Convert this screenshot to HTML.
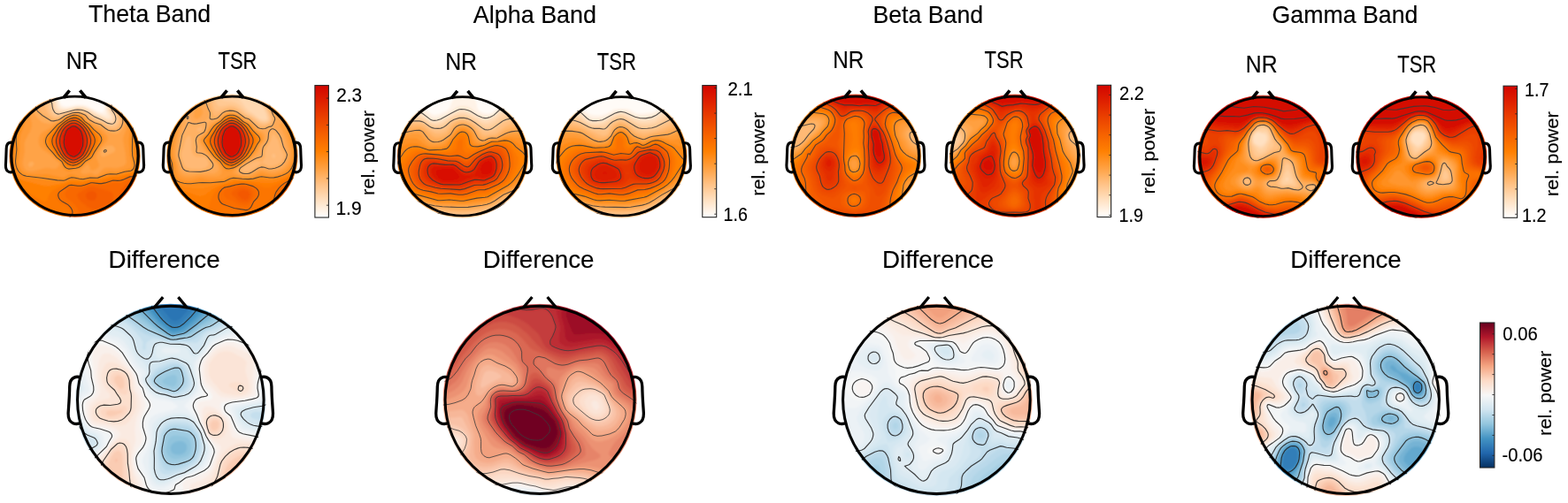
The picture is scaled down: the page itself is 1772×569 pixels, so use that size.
<!DOCTYPE html>
<html lang="en"><head><meta charset="utf-8"><title>EEG band power topographies</title>
<style>html,body{margin:0;padding:0;background:#fff;overflow:hidden}svg{display:block}text{font-family:"Liberation Sans",sans-serif}</style></head>
<body>
<svg width="1772" height="569" viewBox="0 0 1772 569">
<defs><filter id="blur" x="-5%" y="-5%" width="110%" height="110%"><feGaussianBlur stdDeviation="1.1"/></filter></defs>
<g id="theta_nr"><clipPath id="c_theta_nr"><ellipse cx="84.5" cy="176.25" rx="74.2" ry="69.65"/></clipPath>
<g clip-path="url(#c_theta_nr)">
<g filter="url(#blur)">
<rect x="7" y="103" width="155" height="146" fill="#fffbf7"/>
<path d="M9.8,106.1l55,0 3.5,11.1 1.5,1.9 1.5,.9 4.5,.8 10.5-2.2 7.5,0 4.5,1.2 12,6.1 4.5,1.4 1.5-.2 1.3-1.5 .2-.9 .4-9.6 1.5-9 40.1,0 0,141-150,0 0-141z" fill="#fff3e7" fill-rule="evenodd"/>
<path d="M9.8,106.1l52.6,0 4.4,13 1.5,1.8 1.5,.9 3,.6 3,0 10.5-2.5 7.5,.1 6,2 12,6.4 7.5,2 1.3-.3-.8-7.5 0-4.5 .8-6 1.5-6 37.7,0 0,141-150,0 0-141z" fill="#ffebd6" fill-rule="evenodd"/>
<path d="M9.8,106.1l50.2,0 2.7,6 2.6,8.5 1.5,1.9 1.5,.9 3,.6 3-.1 4.5-.6 7.5-2.1 3-.3 4.5,.5 6,2.1 12,6.6 7.5,3.2 3,.7 1.9-.9 .4-1.5-2.6-6-.7-4.5 .6-6 2.5-9 35.4,0 0,141-150,0 0-141z" fill="#ffe3c6" fill-rule="evenodd"/>
<path d="M9.8,106.1l47.5,0 3.5,6.3 3,9.9 1.4,1.8 1.6,1 3,.4 4.5-.4 13.5-3 6,.5 4.5,1.5 9,5.4 12,5.6 4.5,1.2 1.5-.5 1.1-1.2 .5-1.5-.6-3-3.1-6-.4-3 1-6.2 2.9-8.8 33.1,0 0,141-150,0 0-141z" fill="#ffdab5" fill-rule="evenodd"/>
<path d="M9.8,106.1l44.4,0 5.1,7.6 2.9,10.4 1.6,2.1 1.5,.9 3,.2 3-.4 15-3.6 6,.2 6,1.9 9,5.7 13.5,6.4 4.5,1 2.3-.9 1.1-1.5 .4-1.5-.3-3-4.1-7.5-.3-3 1.3-6 3.5-9 30.6,0 0,141-150,0 0-141z" fill="#ffd1a4" fill-rule="evenodd"/>
<path d="M9.8,106.1l40.5,0 4.5,5.2 2.7,3.8 .6,1.5 .9,6 1.1,3 2.2,2.7 1.5,.9 3,.2 18-5 3-.2 4.5,.4 6,2.1 7.5,5.2 9,4.1 6,3.3 3,1.1 3,.3 1.5-.4 1.5-1.2 1.4-3 .1-3-.9-3-3.9-6-.4-1.5 1.2-6 4.6-10.5 27.9,0 0,141-150,0 0-141z" fill="#ffc993" fill-rule="evenodd"/>
<path d="M9.8,106.1l35.4,0 8.4,9 1.5,3 1.3,6 1.3,3 2.6,3 2,1.2 1.5,.3 3-.4 6.7-2.6 9.8-3 3-.4 4.5,.3 4.5,1.2 3,1.3 7.5,5.8 9,3.6 7.5,4.5 4.5,.9 2.9-.7 1.6-1.1 1.9-3.4 .3-3-.4-3-1.1-3-2.8-4.5-.7-3 1.3-4.8 5-10.2 25,0 0,141-150,0 0-141z" fill="#ffc081" fill-rule="evenodd"/>
<path d="M9.8,106.1l29,0 9.7,10.5 1.8,3 2.7,6 1.9,3 2.9,3.1 3,1.8 4.5,.1 9-4.2 9-3 6-.1 7.5,2.3 2.3,1.5 2.8,3 2.4,1.8 3,1.5 7.5,2.6 7.5,5 4.5,.9 3-.4 2.1-.9 1.7-1.5 1.6-3 .6-3-.4-4.5-3.6-9 0-3 2.2-6 4.1-7.5 21.7,0 0,141-150,0 0-141z" fill="#ffb66e" fill-rule="evenodd"/>
<path d="M9.8,106.1l22,0 7.4,9 5.9,10.5 5.1,4.5 7.6,5.5 3,.6 3-.4 3-1 7.5-4.5 6-2.3 4.5-1 4.5,.3 4.4,1.3 3,1.5 4.1,4.5 3.5,2.4 3,1.4 6.9,2.2 5.1,4 3,1.8 4.5,1 3-.1 3-.9 3-2.5 1.7-3.3 .6-3 0-4.5-2.6-10.5-.1-3 1.9-5.7 4.4-7.8 18.1,0 0,141-150,0 0-141z" fill="#ffad5a" fill-rule="evenodd"/>
<path d="M9.8,106.1l14.5,0 8,9.9 6,11.8 3,4.5 4.5,4.7 3.5,2.1 5.5,1 4.5-.8 8-3.2 5.5-3.9 4.5-2.2 6-2 4.5,0 6.1,2.1 2.1,1.5 3.7,4.5 7.6,4.5 6,2.3 9,6.6 3,1.3 4.5,.7 3-.5 3-1.8 2.3-2.6 1.6-3 1.1-4.5 .2-4.5-1.6-12 .1-3 2-6 4.4-7.5 13.9,0 0,141-150,0 0-141zM33.8,183.2l-1.5,1.8-.3,2.1 .5,1.5 1.3,.6 2.1-.6 1.7-1.5 .9-1.5-.2-1.5-1.5-1.1-1.5-.3-1.5,.5zM123.8,164.4l-4.5,1.4-2.8,1.8-1.4,1.5-.8,1.5-.8,3 .2,1.5 1.1,1.6 1.5,.6 1.5,0 11.3-5.2 .9-1.5 .1-1.5-1.2-3-2.1-1.4-3-.3z" fill="#ffa347" fill-rule="evenodd"/>
<path d="M9.8,106.1l6.3,0 5.7,6 4.5,5.8 3,4.8 3.7,7.4 2.2,6 .6,4.5-.5,4.5-1.8,4.5-4.3,7.5-1.8,6 .3,9-2.1,12 .7,4.5 1.9,3 2.6,1.8 4.5,.5 4.5-.7 12-3.1 3,0 4.5,.9 3,0 1.5-.6 2.1-1.8 1.2-1.5 .4-1.5-.5-1.5-4.7-3.6-6-5.9-8.2-5.5-2.7-3-1.6-4.5-.2-3 .6-3 1.3-3 2.9-3 7.9-4.9 5.4-4.1 7.7-4.5 3.6-3 4.3-2.3 4.5-1.7 4.5-.4 3,.6 3,1.3 2.9,2.5 2.1,3 10,7.1 7.5,4.4 5.2,5 1.6,3 .1,1.5-1.2,3-7.2,7.6-2.8,4.4-1.1,3-.3,4.5 2.7,6-.3,3-1.3,1.5-2.3,1.5-3.6,1.3-1.5-.5-.6-.8-1.9-6-2-.1-6.6,7.6-.8,1.5 .9,1.5 2,.6 3,0 6-1.1 4.1,2 1.9,.3 1.5-.4 1.8-1.4 2.7-3.4 3-2.1 4.5-1 7.5,.7 3-.3 6-1.8 2.2-1.1 1.3-1.5 .5-3-1.2-10.5-2.6-13.5 .4-3 3.2-9 1.4-6 .3-6-.7-10.5 .4-4.5 2.1-6 4.5-7.5 9.2,0 0,141-150,0 0-141z" fill="#ff9a35" fill-rule="evenodd"/>
<path d="M154.8,107.6l1-1.5 4,0 0,141-150,0 0-138.3 6.1,6.3 5.9,7.5 4.6,7.5 2,6-.5,4.5-4.6,12-1.3,7.5 .2,10.5-1.2,13.5 .8,4.5 2.5,4.5 3.5,2.7 4.5,1.3 7.5,.2 13.5-.4 18,4 1.8-.3 5.7-3.4 1.5-.4 9,3.2 4.5,.8 7.5-1.4 9,.4 10.5-4.8 3-.4 7.5,.3 15-3.9 1.5-.9 .8-1.5 .3-3-2.2-10.5-1.1-16.5 2.2-18 .3-16.5 1.7-7.5 5-9zM81.1,130.1l2.2-.6 3,.1 3,.8 3,1.6 4.5,5.3 5,3.3 5.5,5.2 7,5.3 2.2,3 .8,3-.7,3-7.5,10.5-5,9-2,1.5-5.3,2.3-4.5,5.3-3,2.1-6,1.2-4.5,2.1-1.5,0-3-1.1-2.1-1.4-1-1.5-1.6-6-1.1-1.5-5.9-4.5-3.8-4.5-7.6-7.5-1.6-3-.6-4.5 .8-3 1.8-3 10.8-10.5 7.4-5.1 4.5-3.7 6.8-3.2z" fill="#ff9224" fill-rule="evenodd"/>
<path d="M159.5,109.1l.3-.5 0,138.5-150,0 0-128.1 7,9.6 2.2,4.5 .6,3-.2,4.5-2.4,12-.1,6 .9,10.5-1.5,13.5 .9,6 3,6 1.6,1.8 3,2.2 4.5,1.6 25.5,4 15.2,.9 2.8-.3 6-2.7 3-.5 12,1.6 7.5-1.6 9,0 12-3.9 9-.1 10.5-2.9 6-1 1.8-.6 1.7-1.5 .9-1.5 .8-3-.2-3-2.1-7.5-.3-4.5 .3-12 2-33 .7-4.5 1.3-4.5 4.8-9zM79.4,131.6l3.9-1.3 1.5,0 4.5,1.1 2.6,1.7 3.9,4.5 6,4.5 4,4.8 6.3,5.7 1.7,3 .3,3-1.1,3-10.3,16.5-6.7,4.5-3.7,4.1-3,2.2-3,.9-7.5,.8-3-.7-1.5-.9-1.5-1.8-2.7-4.6-7-6-8.6-10.5-1.6-3-.7-3 .4-3 1.4-3 10.2-12 10.1-7.9 5.1-2.6z" fill="#ff8913" fill-rule="evenodd"/>
<path d="M159.5,121.1l.3,126-150,0 0-110.8 .7,4.3 .5,15 1.5,12-1.1,16.5 1.1,6 2.7,6 4,4.5 5.6,3.1 24,6.4 6,.3 16.5-2.8 9-3.3 3-.1 9,1.1 3-.3 7.5-1.9 9,.1 12-3.4 11-.7 8.5-2.6 6-1.1 2.1-.8 2.1-1.5 2.2-3 .8-3-.2-4.5-1.5-6-.2-4.5 2.9-40.5 .8-6 1.2-4.5zM81.8,131.6l3-.4 3,.6 4.3,2.8 2.7,3 5.6,4.5 9,10.5 1.7,3 .4,3-.8,3-1.5,3-6,10.5-2.4,3-5.5,4-3,3.1-3,2.3-3,1.1-6,.6-4.5-1.3-1.5-1.2-4.5-5.6-5.2-4.5-7.7-10.5-1.5-3-.6-3 .3-3 1.3-3 9.2-12 10.2-7.9 6-2.6z" fill="#ff8002" fill-rule="evenodd"/>
<path d="M79.8,133.1l5-.9 3,.6 3,1.8 9.7,9 7.7,10.5 1.2,4.5-.5,3-1.3,3-6.9,12-11.4,9.7-3,1.3-3,.5-4.5-.3-3-1.4-9.9-9.8-7.2-10.5-1.4-3-.5-3 .3-3 1.2-3 7.2-10.5 8.8-7.5 5.5-3zM159.7,169.1l.1,7.9-.1-7.9zM159.4,190.1l.4-1.2 0,58.2-150,0 0-48.4 3,4.4 3,3.1 11.4,7.9 6.6,5.3 12,6.8 3,1.2 3,.3 1.5-1 2-6.6 4-4.5 5.2-3 14.3-5.8 3-.4 10.5,1 3-.5 7.5-2.2 10.5,.2 12-3.2 10.5-.6 9-3 8.6-2 4.1-3 1.9-3z" fill="#fc7801" fill-rule="evenodd"/>
<path d="M78.1,134.6l3.7-1.2 3-.3 3,.7 3,1.8 7.2,6.5 2.6,3 5.9,9 1.2,4.5-.4,3-1.1,3-4.7,9-2.1,3-10.1,8.6-3,1.4-3,.6-4.5-.5-3-1.6-8.7-8.5-6.9-10.5-1.2-3-.5-3 .3-3 1.1-3 6.7-10.5 6.2-5.5 5.3-3.5zM158.8,196.1l1-.8 0,51.8-86.1,0 5.1-4.5 .7-1.5-.2-3-1.8-3-1.7-1.6-6-3.3-3.3-2.6-1.9-3-.7-3 .1-1.5 1.3-2.7 1.5-1.4 10.5-6.4 3-.9 9,1 3-.1 3-.6 6.6-2.4 2.4-.3 7.5,.8 4.5-.3 10.5-3.2 7.5,.1 3-.5 9-3.6 9-1.6 3.5-1.9zM9.8,212.6l13.5,17.2 7.5,7.2 4.5,3 4.5,2.2 16.6,4.9-46.6,0 0-34.5z" fill="#fa6f01" fill-rule="evenodd"/>
<path d="M80.1,134.6l4.7-.6 3,.7 3,1.9 4.6,4 4.1,4.5 3.9,6 2.2,4.5 .6,3-.3,3-1.6,4.5-3.9,7.5-2.1,3-9,7.6-3,1.5-3,.7-3-.3-3-1.1-9.2-8.4-3.2-4.5-3.3-6-1.1-3-.5-3 .3-3 1-3 6.4-10.5 2.9-3 3.7-2.8 5.8-3.2zM157.2,200.6l2.6-1.1 0,47.6-73.9,0 2.5-6 .1-3-1-3-4.2-5.2-8.5-6.8-1.6-3 .2-1.5 1.9-3 3.4-3 1.6-.5 7.5,.6 3-.2 13.5-4.1 9,1.4 4.5-.1 10.5-3 7.5,.2 3-.9 8.2-3.9 6.8-.7 3.4-.8zM9.8,233.6l0-.6 5.7,8.1 5.2,6-10.9,0 0-13.5z" fill="#f86700" fill-rule="evenodd"/>
<path d="M78.4,136.1l3.4-1.1 4.5,.1 3,1.4 4.5,3.5 3.5,3.6 4.1,6 2.3,4.5 1.1,4.5-.3,3-1.4,4.5-2.8,6-3.1,4.5-7.9,6.7-3,1.5-3,.7-3-.3-3-1.3-6.9-5.8-2.5-3-3.6-6-2-4.5-.8-3-.1-3 .6-3 4.5-9 5.1-6 6.8-4.5zM154.7,205.1l5.1-1.2 0,43.2-25.6,0 .3-13.5 2.4-10.5-.9-4.5 .6-3 4-4.5 5.7-4.1 3-1.1 5.4-.8zM99.6,212.6l3.2-1.1 3,0 19.4,5.6 1.7,1.5 1,3-.4,3-1,3-2.4,3-2.1,1.5-2.7,1.2-9,2.6-3,.5-3-.1-4.5-1.7-9-7.7-1.9-2.3-1.4-3 .2-1.5 1.2-1.5 4.7-3 6-3z" fill="#f55f00" fill-rule="evenodd"/>
<path d="M80.4,136.1l2.9-.5 3,.4 3,1.4 4.5,3.4 3.8,4.3 2.9,4.5 2,4.5 1,4.5-.2,3-1.3,4.5-4.6,9-2.5,3-5.6,4.3-3,1.5-3,.7-3-.3-3-1.3-4.5-3.5-2.8-2.9-3-4.5-2.4-4.5-1.6-4.5-.4-3 .2-3 1.5-4.5 4.2-7.5 4.3-4.7 4.5-2.9 3.1-1.4zM157.3,211.1l2.5-.9 0,36.9-11.9,0 1-10.5 .8-18 1.1-3 1.2-1.5 2-1.5 3.3-1.5zM99.7,217.1l3.1-1.1 1.5,0 2.9,1.1 1.5,1.5 .7,1.5-.1,3-2,2.7-1.5,.8-3,.3-3-1-1.6-1.3-1.4-2.7 .2-1.8 .9-1.5 1.8-1.5z" fill="#f25600" fill-rule="evenodd"/>
<path d="M78.7,137.6l4.6-1.2 3,.4 3,1.5 4.5,3.5 5.8,7.8 1.8,4.5 .9,4.5-.2,3-1.2,4.5-1.9,4.5-2.6,4.5-2.5,3-4.6,3.4-3,1.6-3,.7-3-.4-3-1.4-6-5-4.9-7.9-2.5-7.5 .5-6 3-7.5 4.6-6 6.7-4.5zM159.7,242.6l.1,4.5-.6,0 .5-4.5z" fill="#ef4d00" fill-rule="evenodd"/>
<path d="M80.9,137.6l2.4-.4 3,.5 3,1.5 3.7,2.9 5.5,7.5 1.8,4.5 .8,4.5-.1,3-1.1,4.5-1.9,4.5-2.5,4.5-2.7,3-3.5,2.5-3,1.6-3,.7-4.5-1-4.5-3-2.4-2.3-3-4.5-2.1-4.5-1.4-4.5-.4-3 .2-3 1.2-4.5 3.4-6.6 4.5-4.9 3.1-2 3.5-1.5z" fill="#ec4400" fill-rule="evenodd"/>
<path d="M79.1,139.1l2.7-.9 3,0 3,1.1 4,2.8 2.8,3 2.8,4.5 2.4,7.5 .1,3-.6,4.5-1.6,4.5-2.4,4.8-2,2.7-3.9,3-3.1,1.7-3,.8-4.5-1.1-6-4.5-4.3-7.4-1.7-4.5-.5-3 .3-6 2.9-7.5 2-3 2.8-3 4.8-3z" fill="#e83b00" fill-rule="evenodd"/>
<path d="M81.8,139.1l3,0 3,1.1 3,2.1 2.7,2.8 3.5,6 1.4,4.5 .4,3-.3,4.5-.8,3-1.7,4.5-2.2,4-1.7,2-2.8,2.1-3,1.7-3,.8-3-.5-2.3-1.1-3.7-2.7-1.5-1.7-2.6-4.6-1.8-4.5-1.1-6 .8-6 1.7-4.5 1.6-3 4.4-4.6 3-1.9 3-1z" fill="#e53200" fill-rule="evenodd"/>
<path d="M79.9,140.6l1.9-.6 3,0 3,1.3 3.1,2.3 2.6,3 1.7,3 1.6,4.5 .8,4.5-.8,6.9-3.5,8.1-2.5,2.9-2.2,1.6-2.8,1.5-2.5,.6-1.5,0-3-1.2-4.9-3.9-3.3-6-1.5-4.5-.5-3 .3-6 2.7-7.5 3.7-4.5 4.6-3z" fill="#e22900" fill-rule="evenodd"/>
<path d="M79,142.1l2.8-1.1 3,0 4.7,2.6 2.8,2.9 1.5,2.6 1.5,4 .9,4 .2,3-.5,4.5-2.1,5.9-1.5,2.8-1.5,1.9-3,2.3-4.5,1.7-1.5-.1-3-1.2-4.5-3.9-3.1-6.4-1.4-5.9 .4-6.1 2.6-7.5 2.3-3 3.9-3z" fill="#de2000" fill-rule="evenodd"/>
<path d="M81.6,142.1l1.7-.2 3,.9 4.8,3.8 2.8,6 1,6-.3,6-3,7.5-1,1.5-2.8,2.5-4.5,2-1.5-.1-3-1.4-3.3-3-3-6-1.3-6 .7-7.5 2.2-6 3.2-3.5 4.3-2.5z" fill="#db1800" fill-rule="evenodd"/>
<path d="M81.5,143.6l1.8-.3 1.5,.3 4.5,3 1.5,2.2 1.4,3.8 .9,6-.3,6-2.3,6-2.7,3.5-1.5,1.2-3,1.3-1.5-.2-2.5-1.3-3-3-2.7-6-.7-4.5 .7-7.5 2.1-6 3.1-2.9 2.7-1.6z" fill="#d71000" fill-rule="evenodd"/>
</g>
<path d="M51.2,106.1l4.6,5.5 2,3 .9,2.5 .5,4 .8,3 1.8,3 2,1.5 2,.5 2-.3 17-4.5 3-.3 4,.3 3,.7 3,1.2 2,1 7,4.9 8.9,4 6.1,3.3 4,.9 2-.3 1-.6 1.1-1.3 .8-2 .2-2-.6-3-1.4-3-2.8-4-.4-2 .4-3 .9-3 4.3-10M29.9,106.1l4.3,5 2.9,4 2.2,4 2.5,5.7 1,1.4 5,4.3 10,6.2 3,.2 5-1.2 2-1 5.5-3.6 8.5-3.3 3-.6 4,.2 3,.8 4.1,1.9 1.4,1 2.5,3.3 2.1,1.7 4.9,2.7 7,2.2 5,4 3,1.9 3,1 4,.2 3-.3 3-1.6 2-2.3 1.3-2.8 .7-3 .1-5-.7-4-1.6-6 0-4 1.7-5 4.5-8M117.8,170l-.4,1.1 .4,1 1,.1 1.4-1.1 0-1-.4-.4-1-.1-1,.4M9.8,116.2l4.3,4.9 3.7,5.1 2.8,4.9 1.4,4 0,4-2.8,10-.8,5-.2,5 .7,10-1.4,13 .2,3 .6,3 1.1,3 1.4,2.5 2,2.3 2,1.5 2,1 3,.9 17,2 18,2.6 7,.3 2-.4 4-2.1 3-.9 3,.2 6,1.2 4,.5 8-1.7 7,.3 1.9-.2 10.1-3.8 4-.6 7,.3 9-2.7 7-1.1 2-1.1 1.5-2 .8-3-.3-3-2.1-8-.3-6 .2-12 1.4-17 .7-16 .9-5 1.5-4 2.6-5 3.1-4.7M83.5,130.1l2.3,.1 3,.7 3.5,2.2 3.5,4.3 5.3,3.7 4.7,5.2 6.7,5.8 1.9,3 .5,3-1,3-7.1,10.8-2.8,5.2-1.7,2-5.5,3.1-5,5.4-3,1.9-3,.8-8,.8-2-.5-2-1.3-1.6-2.2-2.4-4.5-5.7-4.5-4.3-5.3-4.4-4.7-2.2-3-1-2-.6-2-.1-2 .7-3 1.7-3 11-12 4.9-3.3 4-3.4 1.9-1.3 4.1-1.9 3.7-1.1M79.8,134.1l3-.7 3,0 3,1.1 3,2.2 5.9,5.4 2.6,3 5.3,8 1.3,3 .4,2-.2,3-1.4,4-4.1,8-2,3-1.9,2-7.9,6.5-3,1.6-4,.9-3-.4-3-1.2-2-1.6-7-6.8-2.4-3-4.8-8-1.3-3-.5-3 .3-3 1.1-3 6.2-10 2.9-3 4.5-3.6 3-2 3-1.4M9.8,216.4l10,13.7 6,6.8 3,2.6 4,3 4,2.3 4.9,2.3M77.8,247.1l3.9-5 .3-2-.7-3-1.5-2.5-2.4-2.5-1.6-1.2-5.3-2.8-2.5-2-1.5-2-.8-3 .2-2 1.3-2 10.3-7 1.3-.6 2-.3 7,1 4,0 4-.9 7-2.5 2-.1 7,.9 3,0 4-.7 9-2.9 5,.4 3-.2 3-.8 8-3.5 5-.4 3-.6 3-1.3 2-1.3M79.2,137.1l3.6-1 3,.3 3,1.3 4.6,3.4 3.5,4 2.9,4.4 1.9,4.6 .9,4-.2,4-1.2,4-2.1,5-2.4,4-2.5,3-4.4,3.3-3,1.7-3,.9-2,0-3-.9-3-1.8-4-3.4-2.9-3.8-2.8-5-1.7-4-.9-4 0-3 .7-3 1.8-5 1.8-3 2.1-3 2.8-3 4.1-2.8 2.4-1.2M155.9,247.1l1.8-21 1-4 1.1-2.3M79.2,140.1l2.6-.9 3,.1 3,1.1 3,2.1 3,3.2 2.1,3.4 1.6,4 .9,4 .1,4-.7,4-1.8,5-2.1,4-1.5,2-2.6,2.1-3,1.8-3,1-2,0-2.5-.9-3.3-2-2.3-2-1.9-2.7-1.7-3.3-1.5-4-.9-4-.1-4 .5-3 1.3-4 1.3-3 2.1-3 1.9-2 4.5-3M81.3,143.1l1.5-.4 2.2,.4 2.8,1.6 2.6,2.4 1.2,2 1.2,3.3 1.1,6.7-.4,6-3,7-1.7,2-2.6,2-2.3,1-1.1,.1-3.1-1.1-2.5-2-1.4-1.7-2.9-6.3-.7-5 .7-7 2.2-6 1.7-2.1 4.5-2.9" fill="none" stroke="#383838" stroke-width="1.1" stroke-opacity="0.85"/>
</g>
<path d="M11.15,176.25a73.35,68.50 0 1,0 146.70,0a73.35,68.50 0 1,0 -146.70,0zM14.45,176.25a70.05,65.80 0 1,0 140.10,0a70.05,65.80 0 1,0 -140.10,0z" fill="#000" fill-rule="evenodd"/>
<path d="M71.9,110.5L78.6,102.3M90.4,102.3L97.1,110.5" fill="none" stroke="#000" stroke-width="3.6" stroke-linecap="butt"/>
<path d="M15.2,162.2C12.7,160.4 7.4,160.3 7.2,168.0C7.0,174.2 6.7,182.7 6.4,186.9C6.2,195.8 12.8,195.8 16.1,193.5" fill="none" stroke="#000" stroke-width="3.1" stroke-linecap="butt" stroke-linejoin="round"/>
<path d="M153.8,162.2C156.3,160.4 161.6,160.3 161.8,168.0C162.0,174.2 162.3,182.7 162.6,186.9C162.8,195.8 156.2,195.8 152.9,193.5" fill="none" stroke="#000" stroke-width="3.1" stroke-linecap="butt" stroke-linejoin="round"/></g>
<g id="theta_tsr"><clipPath id="c_theta_tsr"><ellipse cx="262.4" cy="176.25" rx="74.2" ry="69.65"/></clipPath>
<g clip-path="url(#c_theta_tsr)">
<g filter="url(#blur)">
<rect x="185" y="103" width="155" height="146" fill="#ffd8b0"/>
<path d="M187.7,106.1l72.6,0 9.9,6.1 3,3.2 5,7.2 3,3 4,2.5 7.5,5.8 3,1.4 3,.5 1.5-.3 1.1-.9 .3-1.5-1.6-6-2.8-4.6-12.9-16.4 53.4,0 0,141-150,0 0-141z" fill="#ffd0a2" fill-rule="evenodd"/>
<path d="M187.7,106.1l60.1,0 1.4,4.6 1.5,2.1 1.1,.8 1.9,.6 9,.9 4.5,1.4 3,2.1 8.6,8.5 6.4,3.4 7.5,5.3 3,1.4 3,.6 3-.6 1.5-1.1 .4-1.5-.5-3-2.3-6-10.2-19.5 47.1,0 0,141-150,0 0-141z" fill="#ffc993" fill-rule="evenodd"/>
<path d="M187.7,106.1l54,0 2.5,10.5 2,3.2 3,.6 10.5-1.6 6,.9 4.5,2.7 7.5,6.3 6,2.8 10.5,7 4.5,1 3-.6 2.2-1.3 1-1.5 .1-3-1.4-4.5-5.7-13.5-3-9 42.8,0 0,141-150,0 0-141z" fill="#ffc184" fill-rule="evenodd"/>
<path d="M187.7,106.1l48.8,0 2.2,6.4 2.2,8.6 .8,1.9 1.5,1.7 1.5,.7 1.5,.1 10.5-3.6 4.5-.3 3,.4 4.5,2 8.1,6.1 6.8,3 10.3,7.5 3.3,.8 3-.4 4.3-1.9 1.4-1.5 .8-3-1.1-4.5-4.5-12-2.7-12 39.3,0 0,141-150,0 0-141zM307.7,175l0,3.3 1.5,.7 1.5-.6 .6-1.8-.6-1.8-1.5-1-1.5,1.2z" fill="#ffb974" fill-rule="evenodd"/>
<path d="M187.7,106.1l43.2,0 4.1,7.5 3.5,10.5 3.2,6 1.5,1 1.5-.2 1.5-.8 4.5-3.6 4.5-2 4.5-.8 4.5,.4 4.5,1.9 7.5,5.6 6,2.3 10.5,8.8 3,.9 4.5-.7 5.3-2.3 1.6-1.5 1.3-3-.2-3-4.9-13.5-1.5-13.5 35.9,0 0,141-150,0 0-141zM213.2,153.7l-1.5,.9-1.5,2.1-5.4,16.9 .1,4.5 3.5,9 1.1,1.5 2.2,1.5 4.5,.9 10.5,.5 6-2.1 2.6-2.3 .6-1.5-.6-3-2.1-3-2-1.5-1.5-.4-7.5-.3-3-1.7-1.7-2.1-1.2-4.5 0-7.5-.8-6-.8-1.8-1.5-.1zM223.7,145l-1.5,1.6 .5,1.5 4,.2 2-1.7-.5-2.1-1.5-.5-3,1zM309.2,151.1l-1.5,1.1-2.2,7.9-4.6,7.5-.7,3-.7,7.5-2.3,4.2-1.5,1.5-2.2-1.2-3.8-.5-5.9,2-5.7,3-4.1,3-1.1,1.5 .3,1.6 1.5,1 3,.6 4.5-.9 8.1-5.3 5.4-4.4 1.5,.3 6,3.2 3,.3 6-1.4 3-1.7 2.7-2.3 2.7-4.5 .2-3-3.5-6-2.1-8.3-1.5-3.6-4.5-6.1z" fill="#ffb164" fill-rule="evenodd"/>
<path d="M187.7,106.1l34.7,0 8.8,9.5 1.5,2.5 3.7,9-.1,3-2.1,4.8-1.9,1.2-8.6,2.7-4.5,.2-2.9-1.4-1.1-1.5-1-4.5-1-1.8-1.5-.7-1.5,.5-1,2 .7,7.5-.3,3-4.8,12-3.1,16.5-.4,4.5 .5,3 3.9,12 1.5,2.1 3,1.8 4.5,.7 13.5-.1 9-1.9 2.5-1.1 1.7-1.5 .9-3-.4-1.5-6.2-7.7-4.5-3.9-6.5-3.4-2.3-9-.1-4.5 1.7-3 7.2-5 1.2-2.5 2.3-7.5 1-1.6 1.5-1 7.6-1.9 2.1-1.5 4.2-4.5 2.6-1.7 3-1 3-.5 6,.8 4.5,2.4 6,4.8 4.5,1.3 1.5,1 7.9,7.9 2.6,1.8 3,.8 3,.2 3-.7 1.5-.9 1.6,.3-1.6,2.8-.4,1.7-.2,6-.7,3-1.5,3-3.5,4.5-1.7,9-1,1.4-6,2.7-10.5,6.2-6,4.3-1.5,1.9-.3,1.5 .3,.9 1.5,1.5 3,1 3,.4 5-.8 8.5-5.1 3-1.3 3-.2 7.5,2.1 7.5-1.2 6-3 3.2-3.3 3-6 .5-3-.3-1.5-3.4-7.5-1.9-7.5-2.5-6-3.3-4.5-5.2-4.5 3.6-9 .1-1.5-2.8-2.9-3.6-9.1-.4-6 .2-9 32.3,0 0,141-150,0 0-141zM315.2,131.4l-1.8,1.7 1.8,1.1 1.5,.2 1.5-1.3-.7-1.5-.8-.4-1.5,.2z" fill="#ffa954" fill-rule="evenodd"/>
<path d="M187.7,106.1l20.4,0 .3,1.5 .1,6-3.7,9-1.1,4.5-.1,4.5 1,7.5-.1,4.5-3.3,11.4-2.4,17.1 .2,4.5 3.7,13.5 1.2,3 1.8,2.2 1.5,1.1 3,1.2 4.5,.3 10.5-1.1 15-.3 3-.6 3-2 1-2.3 .1-1.5-1.3-4.5-5.8-5.3-10.1-11.2-4.3-7.5-.7-3 .2-1.5 2.2-3 3.7-2.7 1.5-1.7 4.1-7.6 1.9-2.2 9-5.1 3-3.6 3-2.5 3-1.3 4.5-.6 3,.4 3,1 3,1.8 6,5 4.5,1.6 1.5,1 7.5,8.1 7.5,4.2 1.5,1.6 .9,2.6-.4,4.5-.7,1.5-3.7,4.5-2.2,6-1.6,3-6.8,6-13,9-3,3-.9,1.5 0,1.5 1.1,1.5 1.8,1 3,.9 4.5,.5 6.1-.9 7.8-4.5 2.6-1.1 3,0 7.5,2.1 4.5-.2 3.9-.8 3.6-1.3 3-1.7 4.1-4.5 1.9-3.8 1.1-3.7 .3-3-.2-3-5.7-19.6-3-6.6-3.2-5.3 3.2-1 3-1.8 1.9-3.2 .2-3-1.4-3-1.9-1.5-1.8-.7-6-.5-1.5-1.1-1.5-2.2-.9-4.5 1.1-12 28.3,0 0,141-150,0 0-141zM220.6,121.1l1.6-.9 1.5-.1 2.3,1 2.2,2.3 1.1,3.7-1,3-1.1,1.5-2,1.7-3,1.2-1.5-.4-1-1-.5-1.5 .2-7.5 1.2-3z" fill="#ffa243" fill-rule="evenodd"/>
<path d="M187.7,106.1l10.2,0 .7,21 2.4,13.5 .1,3-3,12-1.8,16.5 .4,4.5 2.4,7.5 1.7,9 1.9,3.8 2.3,2.2 3.7,1.5 4.5,.5 4.5-.5 9-1.9 10.5,1.4 6,0 4.5-1 2-1.5 1-2 .2-2.5-3.2-8.2-7.5-6.7-6.5-7.6-6.4-10.5-.2-1.5 1.4-3 4.8-4.5 4.6-7.5 2.3-2.6 7.9-4.9 5.6-5.9 3-1.5 3-.6 4.5,.3 3,1 3,1.8 5.6,4.9 4.9,2.2 2.6,2.3 4.9,5.8 7.5,5.7 1.6,3.5-.2,3-.7,1.5-2.6,3-3.6,7.5-2.1,3-6,6-18.1,13.5-.9,1.5 .7,1.5 2.6,1.5 4.5,1.5 5.3,.8 4.5,0 6-1.6 7.5-4.2 3,.2 7.5,2.1 4.5,0 7.5-1.8 5.5-3 2.7-3 2.3-4.2 1.3-4.8 .6-4.5-.4-7.7-4-17.8-.3-3 .4-3 2.7-7.5 .5-4.5-1.3-4.5-2.2-3-3.3-2.4-4.7-2.1-1.7-1.5-.7-1.5-.4-3 .9-7.5 23.1,0 0,141-150,0 0-141z" fill="#ff9a34" fill-rule="evenodd"/>
<path d="M187.7,106.1l2.5,0 3.6,21 3.7,15-.1,3-2.3,10.5-1.3,16.5 .6,4.5 2.8,9 1,9 1.8,4.5 2.7,2.9 4.5,1.8 6,.6 4.5-.5 9-2.5 10.5,2.1 13.5-.6 3-.8 4.5-2.6 3-.4 3,.1 9,1.8 9,.2 4.5-1 7.5-3.5 1.5-.2 7.5,2 6,.2 4.5-.8 4.5-1.4 4.1-1.9 1.9-1.4 2.7-3.1 1.7-3 1.1-3 .9-4.5 .9-12-2.1-19.5 2.7-12 .4-4.5-.6-4.5-1-3-2.2-4-5.7-8-.9-3-.2-3 15.8,0 0,141-150,0 0-141zM256.3,130.1l3.4-.9 3,0 3,.7 3,1.4 6,5.2 4.5,2.3 2.4,1.8 5.1,6.3 6.6,5.7 1.2,1.5 1,3-.9,3-2.4,3-4,7.5-6.1,7.5-14.9,11.2-7.5,3.4-3,.4-1.5-.4-1.5-1.1-6-8.7-5.9-4.8-3.9-4.5-4.4-6-4.5-7.5-.2-1.5 .5-1.5 4.9-5.2 6.8-9.8 2.2-1.9 4.5-2.7 5.9-5.9 2.7-1.5z" fill="#ff9326" fill-rule="evenodd"/>
<path d="M330.6,106.1l7.1,0 0,141-150,0 0-124.1 4.8,16.1 .7,4.5-2,24 .3,7.5 3,10.5 .6,9 1,4.5 2.1,4.1 2.2,1.9 2.3,1.1 4.5,1.3 9,.5 12-1.1 10.5,0 15-1.5 6-3 4.5-1 16.5,1.3 6-.5 9-2.2 9,1.2 4.5-.1 7.5-1.7 7.6-3.3 4.4-4.5 1.7-3 1.6-4.5 2.3-16.5-.2-18 2.6-13.5 .4-6-1.1-7.5-4.3-12-1.1-4.5zM255.4,131.6l2.8-1.1 4.5-.3 3,.6 3,1.5 6,5.2 6,3.8 4.5,5.8 6.9,7 1.4,3 .1,1.5-.7,1.5-2.2,3-3.2,6-6.8,9-13.5,10.2-3,1.5-6,1.2-1.5-.2-3-1.6-5-6.6-6.9-6-6.7-9-4.4-7.5-.2-1.5 12-16.5 6.7-4.7 3-3.3 3.2-2.5z" fill="#ff8b18" fill-rule="evenodd"/>
<path d="M257.7,131.6l5-.5 4.5,1.3 7.5,5.8 3.9,2.4 11.2,13.5 1.6,3 .1,1.5-5.4,10.5-4,6-2.6,3-12.3,9.3-3,1.4-4.5,.9-3-.4-3-1.8-4.5-5.4-6.2-5.5-6.5-9-3.1-6-.8-3 10.6-15.8 6.7-5.2 3.8-3.8 4-2.2zM187.7,140.6l0-1.3 .6,2.8 .5,4.5-.6,25.5 .7,4.5 2.3,9 .7,10.5 .9,4.5 2.1,4.5 3.3,3.2 4.5,2 7.5,1.6 13.5,1.4 6-.4 16.5-4.4 7.5-1.4 10.5-3.7 18,.8 13.5-.8 10.5,.5 6-.8 6-1.9 6-2.7 3-2 3-3.1 2.1-3.3 2.5-7.5 2.9-19.5 0,84-150,0 0-106.5z" fill="#ff8409" fill-rule="evenodd"/>
<path d="M256.2,133.1l3.5-1.1 3-.1 3,.7 3,1.5 10.3,8 8.9,12 1.5,3-.3,3-2.6,6-6.7,10.5-3.1,3-8,6-4.5,2.4-3,.6-3-.1-3-1.1-11.1-10.8-6.2-9-3.3-7.5 0-1.5 1.3-3 7.7-12 10.1-8.8 2.5-1.7zM337.5,182.6l.2,64.5-150,0 0-59.8 .6,10.3 .9,4.5 1.9,4.5 3.7,4.5 3.4,2.3 3,1.2 12,3.2 9,3.4 4.5,.8 4.5-1.2 9.2-6.7 5.6-3 18.2-5.7 11.1-.3 26.4,2.4 6-.6 6-1.5 10.9-4.8 5.6-3.9 3-3.5 1.8-3.1 2.5-7.5z" fill="#fe7c02" fill-rule="evenodd"/>
<path d="M258.2,133.1l4.5-.4 4.5,1.3 10.5,7.9 8.6,12.2 1.3,3 .1,1.5-.6,3-1.8,4.5-6.5,10.5-3.1,3-7,5.3-4.5,2.3-3,.7-3-.3-3-1.3-10.1-9.7-6-9-2.2-4.5-.7-3 .4-3 1.4-3 6.6-10.5 9.1-8 4.5-2.5zM337.1,191.6l.6-1.3 0,56.8-150,0 0-37.4 3,4.2 3,2.9 4.5,3 11.6,6.3 12.4,11.8 4.5,2 3,.1 3-1.1 1.5-1.3 1.5-2.2 3.3-10.8 3.1-6 4.2-4.5 4.8-3 14.6-4 9-.7 11.1,1.7 5.3,1.5 7.6,3 4.5,.2 9-3.4 16.5-8.8 4.5-3.7 3.9-5.3z" fill="#fc7501" fill-rule="evenodd"/>
<path d="M256.5,134.6l4.7-1.2 4.5,.7 3,1.6 6.5,4.9 3.1,3 5.8,9 1.6,3 .5,3-.4,3-1.6,4.5-4.1,7.5-2.2,3-3.2,3-6,4.5-4.5,2.4-3,.6-3-.3-3-1.5-9.1-8.7-2.3-3-4.4-7.5-1.8-6 .3-3 1.3-3 5.2-9 4.2-4.5 7.9-6zM337.2,196.1l.5-.7 0,51.7-40.8,0 4.8-4.2 4.1-6.3 2.2-6 2.3-10.5 1.4-3 2.1-3 2.6-3 3.5-3 11.8-6.8 5.5-5.2zM271.7,208.1l6,.1 7.5,2.1 4.2,2.3 1.6,1.5 1.7,3 .2,1.5-.7,3-1.9,3-3.6,3.8-3,6.3-1.5,1.9-1.5,1-3,.4-12-1.7-13.5-4.6-3-2.1-2.1-3.5-.5-4.5 1.5-4.5 2.5-3 3.1-2 13.5-3.3 4.5-.7zM187.7,220.1l0-1 4.5,4.9 8.5,8.1 12.3,15-25.3,0 0-27z" fill="#fa6e01" fill-rule="evenodd"/>
<path d="M258.3,134.6l4.4-.5 3,.7 3,1.6 5.6,4.2 4.2,4.5 4.5,7.5 1.4,3 .5,3-.3,3-1.5,4.5-3.1,6-3,4.5-3.1,3-5.2,3.8-4.5,2.4-3,.6-3-.5-3-1.5-8.3-7.8-5.7-9-1.9-4.5-.5-3 .3-3 1.1-3 5.1-9 5.4-5.5 4.5-3.4 3.1-1.6zM336.6,200.6l1.1-1.1 0,47.6-29,0 3.9-9 4.7-19.5 2.6-6 2.5-3 1.8-1.4 7.5-3.9 4.9-3.7zM266.7,211.1l6.5-1.3 4.5,.2 6,2.1 2.6,2 1.2,1.5 .9,3-.5,3-4.2,7-3,3.1-1.5,.8-3,.4-6-1.3-7.5-4.4-6.4-2.6-2.6-2.2-1-2.3 0-1.5 1.4-3 2.6-1.4 10-3.1zM187.7,232.1l0-1.3 11.2,16.3-11.2,0 0-15z" fill="#f86700" fill-rule="evenodd"/>
<path d="M256.6,136.1l3.1-1.2 4.5,.1 3,1.3 6.3,4.3 3,3 2.7,3.9 3.5,6.6 1.1,4.5-.3,3-1.4,4.5-2.9,6-3.1,4.5-3.1,3-5.8,4-3,1.5-3,.6-3-.6-3-1.6-7.4-6.9-2.3-3-3.3-6-1.8-4.5-.4-3 .3-3 .9-3 4.9-9 4.2-4.5 6.3-4.5zM337.5,203.6l.2,43.5-21.8,0 2.7-9 3.6-19.5 1.4-4.5 2.1-3 11.8-7.5zM270.2,212.6l4.5-.8 3,.4 3,1 3,2.4 1.4,3-.2,3-2,4.5-2.2,2.3-1.5,.7-3,.5-4.5-1.3-3.3-2.2-6.3-6-.4-1.5 .6-1.5 1.7-1.5 6.2-3z" fill="#f56000" fill-rule="evenodd"/>
<path d="M258.1,136.1l3.1-.7 3,.3 3,1.3 6,4.1 3.6,4 2.8,4.5 2,4.5 1.1,4.5-.2,3-1.3,4.5-2.9,6-3,4.5-3.6,3.3-4.5,3-3,1.5-3,.5-3-.6-3-1.6-6.7-6.1-3-4.5-2.4-4.5-1.6-4.5-.5-3 .3-3 1.5-4.5 4.2-7.5 4.1-4.5 7-4.5zM337.2,208.1l.5-.4 0,39.4-15.5,0 2-9 2.3-16.5 1.2-4.5 1.8-3 1.5-1.5 6.2-4.5zM271.3,215.6l1.9-.7 3-.2 3,.9 1.5,1.2 1.4,3.3-.5,3-.9,1.8-1.5,1.1-3,.3-3-1.2-2.6-2-2.1-3 0-1.5 .8-1.5 2-1.5z" fill="#f35900" fill-rule="evenodd"/>
<path d="M260.8,136.1l1.9,0 3,.9 7.8,5.1 2.5,3 2.8,4.5 1.9,4.5 .9,4.5-.4,4.5-1.5,4.5-3,6-2.2,3-2.8,2.7-4.5,2.9-3,1.5-3,.5-4.5-1.4-4.5-3.3-2.9-2.9-3-4.5-2.3-4.5-1.5-4.5-.4-3 .2-3 1.4-4.5 1.2-3 2.9-4.5 2.9-3.4 3-2.3 4.5-2.6 2.6-.7zM336.8,214.1l.9-.9 0,33.9-9.5,0 3.6-24 1.6-4.5 3.4-4.5z" fill="#f05100" fill-rule="evenodd"/>
<path d="M258,137.6l3.2-.9 3,.4 4.2,2 4.1,3 2.6,3 2.9,4.5 1.7,4.5 .9,4.5-.1,3-1.2,4.5-1.9,4.5-2.5,4.5-2.7,3-2,1.5-4.5,2.7-3,1.1-3-.1-3-1.2-6-4.8-2.7-3.7-2.4-4.5-2.4-7.5 .4-6 3-7.5 4.6-6 6.8-4.5zM337.3,226.1l.4-1.3 0,22.3-3.5,0 3.1-21z" fill="#ee4a00" fill-rule="evenodd"/>
<path d="M260.3,137.6l2.4-.1 3,.9 3.8,2.2 3.5,3 2.3,3 2.4,4.5 1.5,4.5 .4,3-.1,3-1.1,4.5-1.8,4.5-2.6,4.5-2.7,3-4.1,2.7-3,1.4-3,.6-4.5-1.5-4.3-3.2-1.7-1.8-2.7-4.2-2.2-4.5-1.4-4.5-.3-3 .2-3 1.2-4.5 1.2-3 2.5-4.1 3-3.4 1.9-1.5 4.1-2.4 2.1-.6z" fill="#eb4300" fill-rule="evenodd"/>
<path d="M257.9,139.1l3.3-.9 3,.3 3,1.4 3.3,2.2 2.7,2.8 2.2,3.2 2,4.5 1.1,4.5 .1,4.5-.6,3-3.8,9-2.2,3-1.8,1.5-4.5,2.8-3,1-1.5,.1-3-.7-3-1.8-3.4-2.9-2.2-3-2.2-4.5-1.7-4.5-.5-3 .3-6 2.9-7.5 3.8-5 5.7-4z" fill="#e83b00" fill-rule="evenodd"/>
<path d="M260.2,139.1l2.5-.1 3,.9 3.6,2.2 2.4,2.2 3.5,5.3 1.7,4.5 .8,4.5-.1,3-1,4.5-1.9,4.9-2.4,4.1-2.1,2.1-3.5,2.4-2.5,1.2-3,.5-4.5-1.7-3-2.1-2.2-2.4-2.6-4.5-1.8-4.5-1-6 .8-6 1.6-4.5 1.7-3 4.2-4.5 2.3-1.6 3.5-1.4z" fill="#e63300" fill-rule="evenodd"/>
<path d="M258.1,140.6l3.1-.9 3,.4 3,1.4 2.7,2.1 2.7,3 1.7,3 2.2,7.5 .1,4.5-.5,3-1.5,4.5-2.2,4.5-3.7,3.8-3,1.9-3,1.1-1.5,.1-3-.9-3-1.9-2.8-2.6-3.2-6-1.6-4.5-.5-3 .4-6 2.7-7.5 3.5-4.4 4.4-3.1z" fill="#e32b00" fill-rule="evenodd"/>
<path d="M260.6,140.6l2.1-.1 3,1.1 3.1,2 2.9,3 1.6,3 1.6,4.5 .8,6-1,6-3.3,7.5-2.7,2.9-2.4,1.6-3.6,1.5-1.5,0-4.5-1.8-3-2.5-1.3-1.7-3.4-7.5-.9-6 .7-6 1.6-4.5 1.7-3 4.6-4.3 3.9-1.7z" fill="#e02400" fill-rule="evenodd"/>
<path d="M258.8,142.1l2.4-.7 3,.4 3,1.7 3,2.6 1.4,2 1.6,3.9 1.3,6.6-.4,6-2.9,7.5-1,1.6-3,2.8-4.5,2.1-1.5,.1-3-1-4.5-3.8-3.1-6.3-1.4-6 .7-7.5 2.3-6 2.3-3 4.3-3z" fill="#dd1d00" fill-rule="evenodd"/>
<path d="M258.1,143.6l3.1-1.3 1.5,0 3,1.3 3,2.3 1.7,2.2 1.3,2.9 1.4,6.1-.2,7.5-2.7,7.1-2.9,3.4-4.6,2.5-1.5,0-2.8-1-3.2-2.6-3-5.2-1.5-4.8-.1-6.9 1.5-6 2.3-4.5 3.7-3z" fill="#da1600" fill-rule="evenodd"/>
<path d="M261.1,143.6l1.6,0 3,1.4 3.3,3.1 2,6 .7,6-.4,4.5-3.2,7.5-3.2,3-2.2,1.1-1.5,.1-3-1.4-3-3.2-2.9-7.1-.3-4.5 .8-6 2.1-6 3.2-3 3-1.5z" fill="#d71000" fill-rule="evenodd"/>
</g>
<path d="M224.4,106.1l6.3,7.2 2.4,3.8 2.2,6 2,4 .2,2-.4,4 .2,1 .4,.4 1,.4 2,.1 4.1-.9 1.9-1.3 4.4-4.7 2.6-1.5 2-.8 4-.7 4,.3 3,.9 2,1 8,6 4,1.1 1.2,.7 9.8,9.4 2,.8 3,.5 3-.3 4-2 3-.6 1-.9 1-1.5 2-5.4-.2-2-1.8-2.8-3.5-9.2-.5-6 0-9M211.7,131.5l-.5,.6-.1,1 .6,1.5 1-.5 .2-1-.2-1.3-1-.3M212.7,138.6l-6.9,14.5-3.7,19-.3,3 .2,2 3.9,12 1.2,2 1.6,1.4 2,.9 3,.6 13,.4 6.4-1.3 3.6-1.1 2.9-1.9 .7-1 .6-2-.3-2-1.3-2-4.6-5.7-2-1.8-3-1.7-2-.7-5-.5-.6-.6-.2-1 .4-5-1-7 .6-3 1.2-2 1.1-1 5.5-3 1.1-1 1-2 .8-3 .4-3-.1-2-1.2-.9-1,0-8,1.7-3,.2-3-.5-3-1.1-1,.1M306.7,146l-1.4,1.1-1.3,2-.5,2-.5,6-1.1,3-1.2,2.1-2.4,2.9-1.1,2-.6,3-.3,5-.6,1.8-1,.6-5,1.6-3,1.4-8,4.6-5.9,4-1.2,1-1.1,2-.1,1 .3,.9 1.1,1.1 2.5,1 2.4,.4 3,0 2-.4 3-1.4 7-4.5 2-.8 2-.5 3,.4 5,1.7 3,0 4-.7 3.4-1.2 2.6-1.4 2.1-1.6 2.6-3 2.3-4.5 .8-3.5-.8-2.4-3.4-6.6-2.6-9.6-2.2-4.4-3.1-4-1.7-1.4-2-.9-1-.1-1,.3M187.7,121.6l5,17.1 .8,4.4-.1,3-1.2,10-.9,12 .4,7 .9,4 2,6 .7,9 .7,4 1.7,4 1.7,2 1.3,.9 3,1.3 4,1 4,.4 4,0 9-1 4-.2 9,.2 15-1.3 1.5-.3 5.5-2.9 4-1 10,1.1 7,.3 5.6-.5 7.4-2.1 2-.3 9,1.3 5-.1 4-.8 5-1.6 4-1.7 2.6-1.7 2-2 2.2-3 1.4-3 1.2-4 2-15-.3-19 2.5-13 .4-6-.3-4-.9-4-4.2-11-1.3-5M256.3,131.1l3.4-.9 4,.1 3,.9 3,1.7 5,4.6 4,2.1 2,1.6 5,6.4 6.5,6.5 1.2,2 .4,2-.2,1-2.8,4-3.8,7-3.6,5-2.6,3-9.1,7.1-5,3.4-3,1.3-5,1.1-3-.4-2-1.3-2-2.3-3-4.3-4.5-3.6-2.1-2-6.1-8-5.5-9-.2-1 .8-2 4.3-5 3.8-6 2.5-3.2 3-2.7 4.7-3.1 4.3-4.4 2.6-1.6M257.7,134.1l2-.6 2-.1 4,.7 3,1.6 7.1,5.4 2.9,3.1 5.6,8.9 1.4,3 .4,2-.2,3-1.8,5-3.8,7-2.1,3-2.9,3-6.6,5-4,2.2-3,.8-3-.3-3-1.2-2-1.6-7.1-6.9-2.4-3-4.2-7-1.8-4-.6-3 .4-3 1.2-3 6-10 2.9-3 5.6-4.6 4-2.4M272.7,208.1l3-.1 3,.5 7,2.1 4.1,2.5 1.7,2 .9,2 0,3-.7,2-1.3,2-3.7,4-3,6-2,2.3-2,1-2,.2-13-2.1-12-4.2-2-1.1-2-2-1.5-3.1-.3-2 .1-2 .4-2 1-2 2.4-3 2.9-2 6-1.2 7-1.9 6-.9M187.7,219.6l3,3.4 11.2,11.1 10.3,13M297.9,247.1l4.8-4.7 3-4.6 2.3-5.7 2.8-12 1.3-3 2.8-4 2.8-3 3.8-3 8.2-4.4 3-2 2.9-2.6 2.1-2.5M257.7,137.1l4-1 3,.6 3,1.4 5,3.4 3.1,3.6 2.9,4.6 1.8,4.4 .9,4-.2,4-1.1,4-2.7,6-2.6,4-2.1,2.3-5,3.4-3,1.5-3,.8-2-.2-3-1.2-4-2.9-2.8-2.7-2.9-4-2.1-4-1.7-4-.9-4 .1-3 .6-3 1.8-5 1.8-3 2.1-3 2.8-3 6.2-4M329.2,247.1l3.7-24 1.9-5 2.9-3.7M257.9,140.1l2.8-.9 3,.2 3,1.2 3.5,2.5 2.5,2.7 2,3.3 1.6,4 .9,4 .2,4-.8,4-1.8,5-2,4-1.6,2-2.5,2-3,1.8-3,1.1-2,0-2.7-.9-3.2-2-2.3-2-1.8-2.6-1.8-3.4-1.8-5-.6-3-.1-4 .5-3 1.3-4 1.3-3 2.1-3 1.9-2 4.4-3M260.1,143.1l1.6-.4 2,.4 3,1.7 2.5,2.3 1.2,2 1.3,3.6 1,6.4-.4,6-3,7-1.6,2-2,1.5-2,1.1-2,.5-1-.1-2.2-1-2.5-2-1.3-1.5-3-6.5-.7-5 .7-7 2.2-6 1.8-2.2 4.4-2.8" fill="none" stroke="#383838" stroke-width="1.1" stroke-opacity="0.85"/>
</g>
<path d="M189.05,176.25a73.35,68.50 0 1,0 146.70,0a73.35,68.50 0 1,0 -146.70,0zM192.35,176.25a70.05,65.80 0 1,0 140.10,0a70.05,65.80 0 1,0 -140.10,0z" fill="#000" fill-rule="evenodd"/>
<path d="M249.8,110.5L256.5,102.3M268.3,102.3L275.0,110.5" fill="none" stroke="#000" stroke-width="3.6" stroke-linecap="butt"/>
<path d="M193.1,162.2C190.6,160.4 185.3,160.3 185.1,168.0C184.9,174.2 184.6,182.7 184.3,186.9C184.1,195.8 190.7,195.8 194.0,193.5" fill="none" stroke="#000" stroke-width="3.1" stroke-linecap="butt" stroke-linejoin="round"/>
<path d="M331.7,162.2C334.2,160.4 339.5,160.3 339.7,168.0C339.9,174.2 340.2,182.7 340.5,186.9C340.7,195.8 334.1,195.8 330.8,193.5" fill="none" stroke="#000" stroke-width="3.1" stroke-linecap="butt" stroke-linejoin="round"/></g>
<g id="alpha_nr"><clipPath id="c_alpha_nr"><ellipse cx="522.75" cy="176.85" rx="74.2" ry="69.65"/></clipPath>
<g clip-path="url(#c_alpha_nr)">
<g filter="url(#blur)">
<rect x="445" y="104" width="155" height="146" fill="#fffbf7"/>
<path d="M448,108.2l0-1.5 3,.8 9,3.1 7.6,3.3 7.4,4.6 12,10.1 1.6,.8 3,.6 4.4-1 9.1-4.1 1.5-1.1 2.3-3.6 3.6-9 3.1-4.5 15.5,0 4.7,4.5 2,3 1.5,7.5 1.6,3 2,1.5 3.6,1.5 5.1,.8 4.4-.9 6-5.2 4.4-2.2 21.6-13.5 10,0 0,134-12,3.5-9.9,3.5-125.3,0-2.8-.9 0-138.6z" fill="#fff3e7" fill-rule="evenodd"/>
<path d="M596.9,108.2l1.1-.5 0,128.9-15,4.6-16,6.5-104.3,0-14.7-4.5 .1-129.1 11.9,3.1 10.6,3.9 6,3.4 10.5,8.2 1.5,.8 3,.3 5.7-1.6 9.3-4.4 10.4-7.2 4.6-.9 4.4,.1 4.6,1.4 8.6,6.5 4.8,2.4 4.6,1 4.4-.4 4.6-2 6-5.2 11.1-4.8 22.2-10.5z" fill="#ffebd6" fill-rule="evenodd"/>
<path d="M596.1,114.2l1.9-.7 0,119.1-18,5.9-21.4,9.2-82.5,0-16.1-3.9-12-4.1 0-119.4 13.6,2.6 10.4,3 6,3.2 9.1,6.7 4.5,.8 6-1.5 18-9.7 3-1.2 3-.4 4.4,.3 3,.9 10.6,5.9 4.4,2 4.6,.9 3-.3 6-2.5 6-5.6 1.2-.7 10.4-3 20.9-7.5z" fill="#ffe3c6" fill-rule="evenodd"/>
<path d="M592.6,120.2l5.4-1.5 0,110-18,6-19.4,9.1-11.4,3.9-58.3,0-26.3-5.7-9-2.7-7.6-3 0-110.5 18,2.3 6,1.3 6,2.6 9,6.1 4.6,.9 6-1.1 16.4-8.9 4.6-1.7 3-.4 3,.1 4.4,1.1 12,6.3 4.6,1.9 3,.4 3-.3 3-1.1 4.4-2.6 5.4-5 2.2-1.1 12-2.6 14-3.8z" fill="#ffdab5" fill-rule="evenodd"/>
<path d="M592.6,124.7l5.4-1 0,101.2-21,7.5-15,7.6-7.4,3.1-9,2.6-10.3,2-25.4,0-18.3-2.6-12-2.3-15-3.7-9-3-7.6-3.3 0-102.1 21,1.3 4.6,.8 6,2.5 7.5,5 2.9,.9 3.1,.2 5.9-1.4 10-6.3 6.6-2.9 4.4-1.2 4.6,0 6,1.8 15,8 4.4,.7 3-.6 3-1.5 4.6-3 4.4-3.8 3-1.7 24.6-4.8z" fill="#ffd2a4" fill-rule="evenodd"/>
<path d="M592.1,129.2l5.9-.7 0,92.6-22.4,8.5-15,8.1-7.6,3.1-12,3.1-15,2-7.4-.1-12-1.3-24-3.7-21-5.5-6.9-2.6-6.7-3.3 0-94.2 25.6,.2 6,2.1 6,4.2 3,1.5 3,.7 3,0 3-.5 3-1 7.4-5.8 4.6-2.4 6-1.9 4.4-.4 3,.4 4.6,1.6 5.3,2.8 9.7,6.4 4.4,1.3 4.6-1.1 6-3.8 6-4.5 3-1.6 4.4-1.2 18.1-3z" fill="#ffc993" fill-rule="evenodd"/>
<path d="M591.5,133.7l6.5-.5 0,84.1-24,9.7-13.4,7.8-7.6,3.3-13.4,3.3-15.1,1.8-22.5-1.8-19.4-3.1-21-5.8-6.8-2.8-6.7-3.9-.1-86.4 22.6-1.5 4.4,.3 4.6,1.7 6,4.3 3,1.6 3,1 4.4,.2 3-.4 3-1.3 7.6-7 3-1.7 6-2.1 4.4-.4 4.6,.9 4.4,1.9 6,4 7.6,6.4 3,1.5 3,.2 3-.4 3.6-1.4 9.8-7.6 4.6-2.4 7.4-1.9 11.5-1.6z" fill="#ffc082" fill-rule="evenodd"/>
<path d="M518.7,136.7l5.9-.2 3,.7 4.4,2 6.4,5 6.7,7.5 1.9,1 1.6,.2 12-1.7 9-7.2 3-1.8 4.4-1.8 9-1.7 12.1-.6-.1,75.3-10.4,5.1-15,6.1-12,7.4-7.6,3.5-12,3-15,1.7-7.4,0-15-1.2-19.5-2.8-15.1-3.9-7.4-2.5-6.7-3.1-6.9-4.5 0-78.7 21-2.7 6,0 4.6,1.8 7.4,5.7 3,1.7 3,.9 4.6,.1 3-.7 3-1.4 8.2-9.2 3.8-2 3.1-1z" fill="#ffb76e" fill-rule="evenodd"/>
<path d="M516.5,139.7l3.5-1.1 3-.1 3,.4 4.6,1.8 3,2 3.3,3 6.3,9 2.4,1.4 1.4,.1 6-1.7 7.6-.4 1.4-.5 9-6.3 7.6-3 9-1.4 10.4,.1 0,66.3-12.3,6.9-14.7,6.2-11.1,7.3-5.3,2.7-9,2.7-15,2.2-12,.2-13.6-.7-13.4-1.5-6-1-22.6-6.5-7.4-3.8-6.5-4.8-1-.9 0-70.5 5.9-1.7 13.6-2.2 4.4-.5 3,.2 4.6,2.1 9,8.2 3,1.4 4.4,.3 4.6-1.3 4.9-2.6 2.5-2.7 4.2-6.3 4.3-3z" fill="#ffad5b" fill-rule="evenodd"/>
<path d="M518.7,141.2l2.9-.6 3,.1 3,.8 3,1.5 4.7,4.2 5.7,9.4 1.6,1.2 3,.9 1.4,0 7.6-2.8 6,.1 1.4-.4 9-5 7.6-2.5 10.4-.9 9,1 0,56.6-12.5,8.4-5.8,3-10.1,4.3-10.6,7.1-4.4,2.4-7.6,2.4-15,2.2-16.4,.3-15-.7-10.6-1.2-24-6.5-6.1-2.8-5.9-4-6-5.7 0-61.6 5.4-2.2 5.9-1.5 11.3-2 4.4,.2 3.4,1.8 5.6,7.2 3,2.7 3,1.2 4.6,.1 6-2 7-4.7 1.5-1.5 4.8-7.5 1.8-1.5 3-1.5z" fill="#ffa448" fill-rule="evenodd"/>
<path d="M522.7,142.7l4.9,1 3.3,2 3.9,4.5 3.6,7.5 2.6,2.1 3,.8 3-.2 7.6-3.2 7.4-.2 9-3.8 6-1.4 6-.4 6,.3 4.6,.8 4.4,1.4 0,45.9-8.9,7.4-6.3,4.5-5.3,3-9.5,4.3-13.4,8.7-7.6,2.3-15,2.2-13.4,.5-19.5-.6-7.5-.8-24-6.5-6-2.8-5.9-4.3-7.7-8.6 0-51.3 4.6-2.8 4.6-1.8 8.8-1.9 6-.3 2.6,.7 1.9,1.5 4.7,6 4.4,3.5 4.4,.9 6-.7 4.6-1.6 4.4-3.4 5.1-4.7 3.9-5.9 3-2.9 3-1.4 2.7-.3z" fill="#ff9b36" fill-rule="evenodd"/>
<path d="M519,145.7l2.6-.8 3,.1 4.4,2 3.2,3.2 3,7.5 1.4,2.2 1.4,1.3 3,1 4.6,0 3-.9 6-2.8 7.4-.3 9-2.8 4.6-.6 12,1.4 4.3,1.5 4.7,2.4 1.4,1 0,32.7-10.2,10.4-7.8,6.3-13.5,7.2-11.9,7.6-3,1.4-4.6,1-22.4,3-16.6-.7-13.4,0-6-1.3-19.6-5.6-5.2-2.4-4.3-3-5.8-6-5.7-8.2 0-37.9 1.4-1.9 2.9-3 3.3-2 6-1.9 6-.6 4.4,1.1 8.7,6.4 4.9,2.5 4.4,.1 8.3-1.1 2.3-.8 3-1.8 7.4-8.2 4.6-6 3.4-2.7z" fill="#ff9225" fill-rule="evenodd"/>
<path d="M521.3,147.2l1.7-.1 3,.7 3.3,2.4 1.8,3 2.5,8.2 1.4,1.5 1.6,.8 3,.5 4.4-.3 4.6-1.3 4.4-2.3 3-.9 6-.1 7.6-1.8 4.4-.2 3,.6 3.7,1.3 14.5,9 2.8,2.8 0,14.9-13.2,16.8-4.4,4.5-3.9,3-11.5,6.2-12,7.4-4.4,1.4-9,1-13.6,2.4-6,.2-12-1-13.4,.4-24-6.6-5.2-2.4-4.1-3-5.4-6-7.9-13.5 .1-19.2 5.9-9.9 2.4-2.4 2.2-1.5 3-1.2 4.4-.7 6.1,.9 11.9,5.5 1.6,.3 10.4-.6 6.1-1.1 2.6-1.6 1.4-1.5 4.1-6 6.8-8.2 1.6-1.2 2.7-1.1z" fill="#ff8914" fill-rule="evenodd"/>
<path d="M519.7,150.2l3.3-.6 2.1,.6 2.1,1.5 1.7,3 1.8,9 1.3,1.5 3,1.1 4.6-.1 6-1.2 10.4-4.5 15.1-1.2 4.5,1 3.1,1.9 4.3,4.9 7.8,7.1 2,3 .6,3-1.6,4.5-5.8,10.5-6.3,9-3,3-4,3-21.1,11.8-3,.8-9,.8-15,3.3-4.6,0-12-1.3-10.4,.8-3-.1-22.6-6.2-5.1-2.4-3.9-2.9-4-4.6-5.2-9-2.8-6-1-4.5-.1-4.5 .7-3 2-3.7 4.6-6.8 2.8-2.8 2.6-1.7 3.4-1.3 3-.4 6,.6 10.6,3.1 13.4-.5 4.6-.6 2-.9 1.7-1.5 5.1-9 4.6-5.3 2.7-2.2z" fill="#ff8003" fill-rule="evenodd"/>
<path d="M520,153.2l3-.3 2.5,1.8 1.1,3 .6,6 .9,3 1.4,1.5 2.5,1 4.6-.4 6-1.5 6-2.1 6-2.9 3-.7 12-.4 3,.6 3.4,1.9 2.7,3 5,7.5 1.9,4.5 .3,3-.6,4.5-2.5,7.5-3.1,6-3.3,4.5-3.1,3-3.7,2.6-18,9.6-3,.8-9,.8-12,3.3-4.6,.7-15-1.6-10.4,.9-3-.2-21-5.5-5.3-2.4-3.7-3-3.8-4.5-2.5-4.5-3.5-7.5-1.1-4.5 0-4.5 .8-3 2.5-4.5 3.5-4.5 2.5-2.4 3-2 3-1.1 3-.6 4.6,.1 10.4,1.9 15,0 4.6-.7 2.3-1.2 1.4-1.5 3.7-9.1 3-3.7 3-2.2z" fill="#fd7801" fill-rule="evenodd"/>
<path d="M519.1,157.7l.9-.5 1.6,0 1.4,1.9 .2,9.1 1.5,3 2.9,1.8 3,0 3-1 24-9.1 4.4-.3 6,.3 3.2,.8 2.8,1.8 2.4,2.7 3.1,6 1.2,4.5 .4,6-.6,4.5-1.8,6-3.2,6-2.9,3.8-2.6,2.2-4.8,3-13.6,6.7-3,.8-9,.8-12,3.7-4.6,.8-4.4,0-10.6-1.5-9,.6-4.4-.2-19.6-4.8-5.3-2.4-3.6-3-3.4-4.5-2.4-4.5-2.4-6-.9-4.5 .5-4.5 1.2-3 2.9-4.5 2.7-3 4.7-3.7 3-1.2 3.1-.6 4.5,.1 7.4,1 16.6,.7 6-.5 3.4-1.8 1.6-1.5 1.4-3 .9-6 2.2-3z" fill="#fa7001" fill-rule="evenodd"/>
<path d="M554.9,165.2l4.1-1.2 4.6,0 5.2,1.2 3.8,2.3 2.4,3.7 1.6,4.5 .9,10.5-.5,4.5-1.4,4.5-2.1,4.5-3.2,4.5-6.7,4.9-10.6,5-4.4,1.3-9,.8-12,4-4.6,.9-4.4,.1-10.6-1.6-9,.5-4.4-.3-7.6-2-9-1.7-6.9-2.9-2.1-1.6-3-3.4-4.2-8.5-1.4-4.5-.2-3 .4-3 1.2-3 1.7-3 3.8-4.5 3.3-2.9 3-1.6 3-.7 4.4-.2 27,2.5 9-1.5 3,.5 4.7,2.4 2.9,.6 1.4-.3 8.2-4.8 17.7-7.5z" fill="#f86800" fill-rule="evenodd"/>
<path d="M555.3,166.7l3.7-1 3-.2 4.6,1.3 2.6,1.4 1.6,1.5 1.8,3 1.3,4.5 .7,10.5-1.8,7.5-2.2,4.5-2.6,3.6-6,4.7-10.4,4.6-4.6,1.1-9,.8-10.4,3.8-6,1.2-4.6-.2-9-1.2-12,0-16.4-3.5-6-2.3-2.9-2.1-1.7-1.9-1.7-2.6-2.1-4.5-1.8-7.5 .3-3 1-3 2.6-4.5 2.3-3 3.1-3 2.6-1.5 5.7-1 15,1.2 12,1.7 9-.3 3,.9 4.6,2.3 3,.6 2.3-.9 5.6-4.5 4.1-2.4 7.4-3.5 8.3-3.1z" fill="#f55f00" fill-rule="evenodd"/>
<path d="M556.6,168.2l4-.4 3,.5 3,1.5 2.6,2.9 1.4,3 1.1,4.5 .5,4.5-.2,4.5-1.1,4.5-1.4,3-2.7,4.5-2.5,3-4.3,3-8.4,3.6-4.6,1.2-9,.6-12,4.3-4.4,.9-4.6,0-9-1.2-12-.3-15-3.1-4.4-1.7-3-1.9-2.4-2.4-3.2-6-1.1-4.5-.2-3 1.5-6 2.3-4.5 2.2-3 2.3-2.1 3-1.5 3.1-.6 3,.1 10.5,.9 13.5,2.2 7.5-.1 3,.8 6,3.2 3,.8 3-1.4 5.6-5.3 6.4-3.9 7.4-3.4 6.6-1.7z" fill="#f25600" fill-rule="evenodd"/>
<path d="M549.9,171.2l4.7-1.1 3,.1 4.4,.7 3,1.5 1.7,1.8 1.6,3 1.3,4.5 .4,4.5-.2,3-1.2,4.5-5.3,9-4.3,3.3-9,3.7-4.4,1-9,.5-10.6,4-4.4,1-4.6,.1-7.4-.9-13.6-.7-13.4-3-4.1-1.5-2.4-1.5-2.5-2.5-2.7-5-1-4.5 .1-3 1.9-7.5 3.1-5.4 2.6-2.1 2-.9 3-.4 7.4,.4 16.6,2.7 9,.3 3,1 6,3.6 3,1.1 1.4-.3 1.6-1 8-8 7-4.1 4.3-1.9z" fill="#ef4e00" fill-rule="evenodd"/>
<path d="M549.3,172.7l3.7-1 3,.1 4.6,1.2 2.5,1.2 1.9,2 1.4,2.5 1,3 .6,4.5-.5,4.5-1,3-4.5,8-3,2.6-9,3.8-4.4,1.2-9,.2-10.6,4-6,1.3-22.4-1.4-13.6-3.2-3.8-1.5-3.7-3-2.7-4.5-1-6 1.8-9 2.5-4.5 1.7-1.5 2.3-1 9-.1 16.5,2.7 9,.5 3,1.2 6,4.1 3,1.1 3-1 6.5-7.5 2.5-2.1 6-3.7 3.7-1.7z" fill="#ec4500" fill-rule="evenodd"/>
<path d="M548.7,174.2l2.9-.9 3-.3 3,.7 4.1,2 1.5,1.5 1.6,3 1.3,6-.8,6-4.6,9-3.1,2.4-9,3.7-3,.6-9,.1-12,4.3-4.6,1-21-1.1-6-1.2-10.4-3.6-4-3.2-2.4-4.5-.6-4.5 1-7.5 2.2-4.5 2.2-1.9 3-.8 6-.1 15,2.5 9,.4 3.7,1.4 6.9,4.8 3,.9 1.4-.1 2.3-1.1 1.7-1.5 6.6-8 9.1-5.5z" fill="#e93c00" fill-rule="evenodd"/>
<path d="M548.4,175.7l3.2-1.1 3-.4 3,.9 3,1.9 1.4,1.7 1.5,3 .8,6-1.2,6-2.9,6-2.6,2.4-9,3.9-3,.6-7.6-.3-3,.4-10.4,3.9-4.6,1.2-19.4-.7-6-1.3-9-3.4-3.3-2.2-3.1-4.5-.8-3-.2-3 1-6 1.8-3.3 3-1.9 6-.6 13.6,2.1 10.4,.5 3,1.5 7.6,5.3 3,.7 1.4-.1 3-1.2 1.6-1.3 5.6-7.7 1.6-1.5 7.6-4.5z" fill="#e53300" fill-rule="evenodd"/>
<path d="M552.5,175.7l3.5,.1 2.4,1.4 1.5,1.5 2.1,4.5 .4,6-.9,4.5-2.5,5.4-3,2.3-7.4,3.2-3,.5-6-.5-4.6,.4-15,5.2-19.4-.4-7.5-2.2-6.1-3-3.7-3.4-1.6-3-.8-4.5 .6-4.5 1.5-3 1.9-1.5 2.1-.8 4.6-.3 12,1.8 9,0 3,1.3 7.4,5.7 3,1.1 3,0 3-.9 2.7-1.9 5-7.5 2.9-2.8 6-3.3 3.9-1.4z" fill="#e22a00" fill-rule="evenodd"/>
<path d="M552.6,177.2l2-.2 1.4,.4 2.8,2.8 1.7,4.5 0,6-1.5,5.3-1.4,2.6-1.6,1.1-7.4,3.3-3,.5-6-.8-4.6,.3-13.4,4.9-3,.6-16.6,0-5.1-1.3-6.1-3-3.7-3-2.7-4.5-.5-4.5 .8-3 2.4-2.6 2.9-1 13.6,1.3 9-.1 3,1.7 7.4,6 4.6,1.1 4.4-.9 3-1.6 1.6-1.5 4-6.9 2-2.5 5.8-3.5 4.2-1.5z" fill="#df2100" fill-rule="evenodd"/>
<path d="M549.2,180.2l3.8-1.1 1.6,.1 1.4,.9 1.9,3.1 .8,3 .1,3-.8,4.5-1.4,3-2,1.8-6,2.4-3.4,.3-10.2-2.8-1.1,1.3-2.8,1.5-3.5,.9-7.6,3.7-4.4,.6-13.6,.3-3.7-1-5.4-3-3.1-3-2.1-4.5-.1-3 .6-1.5 1.3-1.5 2.1-.8 19.5,0 2.9,1.3 7.6,6.7 3,1.6 3,.6 7.4-.6 3-3.5 4.7-9.8 2.9-2.6 3.6-1.9z" fill="#db1900" fill-rule="evenodd"/>
<path d="M547.9,183.2l2.1-.9 3-.3 1.9,1.2 1.1,2.3 .4,2.2-.3,4.5-1.4,3-1.9,1.5-4.2,1.2-1.6-.2-1.9-1-1.4-1.5-.8-3 .4-3 1.3-3 1.2-1.5 2.1-1.5zM502.6,190.7l7-.2 3,1 4.9,5.2 1.6,3-.2,1.5-1.5,1.5-1.8,.7-7.6,1.1-6-.1-4.2-1.7-2.1-1.5-2.4-3-.8-3 .3-1.5 1.2-1.5 2-.8 6.6-.7z" fill="#d81100" fill-rule="evenodd"/>
</g>
<path d="M448,119.8l13,2.6 7,1.8 4.1,1.3 5.9,3.3 9,6.8 2,.7 2,.1 3-.4 3.9-1.3 18.1-9.8 3-1.1 2-.3 4,.2 4,1 3,1.4 7.7,4.6 5.3,2.3 3,.6 3-.2 3-.9 4-2.1 6-5.6 13.3-4.1 20.7-7.7M598,233l-17,5.4-21.7,9.3M474.8,247.7l-14.8-3.6-11.9-4M448,137.5l6-.3 10,0 6-.5 4.1,.2 2.9,.7 2,.8 6,4.3 3,1.7 3,.9 4,.1 3.1-.3 2.9-1 3-2.1 5.1-4.6 3.9-2.1 6-1.9 5-.2 4,.9 4,1.7 4.8,2.9 9.2,6.9 2,1 3,.4 3-.5 2-.9 11-7.9 2-1.3 3-1.2 11-2.3 15-1.8M598,219l-23,9-14,7.8-8,3.5-6,1.8-7,1.5-8,1.2-7,.6-6-.1-16-1.6-11.9-1.7-9.1-1.7-12.9-3.3-8.1-2.4-7-2.9-5.9-3.3M448,153.3l4-1.9 6-1.7 11-2.2 5.1-.1 1.9,.5 2.1,1.4 5.9,7.8 3,2.5 2,.8 1.8,.3 4.2-.2 3-.8 3.1-1.5 6.9-4.9 1.6-1.6 3.6-6 2.8-2.8 3-1.4 3-.5 2,0 3,.7 2.3,1 2.7,1.8 2.4,2.2 1.6,2 3.1,6 1.3,2 1.6,1.4 3,1 3-.4 4-1.9 2-.6 2-.2 4,.3 2-.3 9-4.8 3-1.2 4-1.1 5-.7 6-.1 5,.3 4,.8M598,203.9l-6.5,4.8-6.2,4-6.3,3.3-10,4.3-10,6.9-4.7,2.5-4.3,1.5-5,1.1-16,2.1-12,.1-17-.7-8.9-1-7-1.5-15-4.2-7.1-2.7-4-2.3-3.2-2.4-3.4-3-3.4-3.5M519.7,149.7l2.3-.6 2,.2 2,.8 1.9,1.6 1.5,3 1.6,8.3 1.4,1.7 2.6,1.1 5,.1 5-1 3-1 6-3 2-.6 7-.3 7-1.1 3,.2 2.3,.6 2.2,1 2.5,1.9 3,3.5 7,5.6 2.9,3 1.8,3 .3,2-.5,2-1.4,3-7.8,13-4.5,6-2.9,3-3.9,3.1-23,12.9-3,.6-9,.8-15,3.2-4-.1-12-1.2-10,.8-3-.1-23-6.3-5-2.2-3.5-2.5-3.9-4-3.3-5-4.9-9-1.5-4-.6-3-.2-4 .9-4 2.1-3.9 4.9-7.3 2.1-2.1 2.9-2 3-1.1 3-.5 3,.1 3.1,.4 11,3.6 13.9-.6 5.1-.9 1.3-.7 1.6-1.5 1.7-2.5 3.2-6 5.1-5.9 2.7-2.1M559,164.7l3-.2 5.2,1.2 3.8,2 1.8,2 1.8,4 .9,4 .6,7-.1,4-.8,4-1.5,4-2.2,4-2.1,3-2.3,2-4.1,2.8-10,4.6-5,1.5-6,.2-3,.5-11,3.9-5,1.1-5,0-9-1.4-10,.3-4-.2-8-2.1-8.9-1.7-3-1-3.1-1.5-2.5-2-2.5-2.9-1.8-3.1-1.8-4-1.2-4-.6-3 .2-3 1-3 2.9-5 3.4-4 2.9-2.6 3-1.4 3-.7 3-.1 15,1.2 12,1.6 9-.8 3,.7 6,2.8 2,.1 2-1 5.3-3.8 4.7-2.5 14-6 5-1.5M549.6,172.7l2.4-.7 3-.2 6,1.6 2,1 2.2,2.3 1.4,3 .8,3 .4,4-.4,4-1,3-4.5,8-1.9,1.8-2,1.2-9,3.7-3,.7-7,.1-3,.3-11,4.1-5,1-22-1.3-6-1.1-9-2.5-1.9-.8-2.1-1.2-2.2-2-1.5-2-1-2-.9-3-.3-3 .3-3 1-5 1-3 1.2-2 1.8-2 1.6-1 3-.6 7,.1 5,.6 11,2.1 9,.4 3.5,1.4 6.5,4.4 3,.8 1.2-.2 1.8-1.2 5.8-6.8 2.2-2.1 6-3.8 4.6-2.1M552.8,176.7l2.2-.1 1,.3 2.3,1.8 1.4,2 .8,2 .6,3-.1,5-1.4,5-1.6,3-3,2-7,3-2,.3-7-.8-3,.2-6,1.8-8,3.1-3,.7-18-.2-3-.7-3.6-1.4-5.5-3-3.2-3-1.3-2-.9-2-.5-4 .3-2 .7-2.1 2.1-2.3 1.9-1 2-.4 13,1.5 9-.1 3.2,1.4 5.8,4.9 3,1.7 3,.7 4-.6 3-1.3 2-1.8 4.7-7.6 1.8-2 5.5-3.3 4.8-1.7" fill="none" stroke="#383838" stroke-width="1.1" stroke-opacity="0.85"/>
</g>
<path d="M449.40,176.85a73.35,68.50 0 1,0 146.70,0a73.35,68.50 0 1,0 -146.70,0zM452.70,176.85a70.05,65.80 0 1,0 140.10,0a70.05,65.80 0 1,0 -140.10,0z" fill="#000" fill-rule="evenodd"/>
<path d="M510.1,111.1L516.9,102.9M528.6,102.9L535.4,111.1" fill="none" stroke="#000" stroke-width="3.6" stroke-linecap="butt"/>
<path d="M453.4,162.8C451.0,161.0 445.7,160.9 445.5,168.6C445.3,174.8 445.0,183.3 444.7,187.5C444.5,196.3 451.1,196.4 454.4,194.1" fill="none" stroke="#000" stroke-width="3.1" stroke-linecap="butt" stroke-linejoin="round"/>
<path d="M592.1,162.8C594.5,161.0 599.8,160.9 600.0,168.6C600.2,174.8 600.5,183.3 600.8,187.5C601.0,196.3 594.4,196.4 591.1,194.1" fill="none" stroke="#000" stroke-width="3.1" stroke-linecap="butt" stroke-linejoin="round"/></g>
<g id="alpha_tsr"><clipPath id="c_alpha_tsr"><ellipse cx="702.35" cy="176.85" rx="74.2" ry="69.65"/></clipPath>
<g clip-path="url(#c_alpha_tsr)">
<g filter="url(#blur)">
<rect x="625" y="104" width="155" height="146" fill="#fffbf7"/>
<path d="M627.6,106.7l10.8,0 8.8,7.1 13.4,12.3 7.6,3.6 6,.8 4.4-.2 4.6-1 3.7-1.6 6.7-3.9 4.6-.9 10.4,.1 3,1 7.3,3.7 3.2,.7 4.5-.1 10.6-1.4 4.4-1.6 3.3-2.1 7.8-7.5 8.2-9 16.7,0 0,131.3-13.4,4.1-13.5,5.6-123.1,0 0-141z" fill="#fff3e7" fill-rule="evenodd"/>
<path d="M627.6,108.2l0-1 15,8.7 13.6,9 10.4,8.1 3,1 3,.1 7.6-.9 4.4-1.8 10.5-5.5 6.1-1.1 4.4,.3 3,.7 9,4.1 4.5,1.1 6,.3 7.5-1.2 6-2.3 8.7-6.1 7.7-6 10.1-9 9.5,0 0,127.3-15,4.8-19.5,8.9-115.5,0 0-139.5z" fill="#ffebd7" fill-rule="evenodd"/>
<path d="M774.5,108.2l2-1.5 1.1,0 .1,123.5-16.5,5.5-25.6,12-95.3,0-12.7-1.9 0-132.1 10.6,4.7 18,8.9 6.9,6.4 3.5,2.3 3,.7 4.6,.1 4.4-.5 3-.9 13.6-7.2 6-1.7 6,1.1 10.4,4.7 6,1.6 6,.2 6-1.1 6-2.5 6-4.5 10.2-5.8 16.7-12z" fill="#ffe3c7" fill-rule="evenodd"/>
<path d="M777.2,112.7l.4-.3 .1,114-16.6,5.7-22.5,11.4-11.7,4.2-60,0-28.7-3.5-10.6-2 0-122.9 25.6,9.4 3,1.8 7.3,6.2 4.7,2 6,.4 6.6-.9 2.4-.9 12-7 6-1.8 4.5,.7 10.5,5.1 4.4,1.6 4.6,1 4.4,.2 6-1 4.6-1.7 9-6.2 12-5.9 16-9.6z" fill="#ffdbb6" fill-rule="evenodd"/>
<path d="M776.6,118.7l1-.6 0,104.7-18.8,6.9-17.2,9.3-7.4,3.5-9,2.9-11,2.3-26.4,0-48.2-6.5-12-2.5 0-114.3 10.6,2.7 13.4,4.3 3,1.5 9,6.2 3,1.3 3,.8 6,.1 6-.8 3-1.4 9-5.9 4.6-1.9 3-.6 4.4,.8 15,7.4 4.6,1 4.4,.2 6-.7 4.6-1.5 11.7-7.2 24.7-12z" fill="#ffd2a5" fill-rule="evenodd"/>
<path d="M774.7,124.7l2.9-1.2 0,95.6-19.4,7.7-18,10.1-7.6,3.5-10.4,3.1-13.6,2.2-9,.4-19.5-2.1-40.5-5.9-12-2.9 0-105.9 10.6,1.9 12,3.2 4.4,1.9 10.6,5.8 6,1.6 9,0 3-.5 1.4-.8 7.6-6.1 4.4-2.2 4.6-1.1 3,.4 3,1.2 13.4,7.5 4.5,1.1 6.1,.1 6-.8 4.4-1.6 12-6.6 21.1-9.6z" fill="#ffc994" fill-rule="evenodd"/>
<path d="M775.7,129.2l1.9-.6 .1,86.9-22.5,9.6-15,9.1-7.6,3.6-10.4,3.1-12.1,1.9-10.5,.5-22.4-2.2-37.6-6-6-1.4-6-2.1 0-97.6 10.6,1.2 12,2.6 6,2.2 12,5.6 4.4,1.1 4.6,.3 4.4,1.1 3-.5 1.6-1.4 4.5-5.9 2.5-2.1 5-2.2 4.4-.4 6,2.4 12,7.8 3,.9 4.6,.2 7.4-.7 6-1.5 22.6-10.9 11.5-4.6z" fill="#ffc183" fill-rule="evenodd"/>
<path d="M777.2,133.7l.4-.1 0,78.3-25.2,11.8-12.2,7.8-6,3.1-10.6,3.4-12,2-12,.5-16.4-1.2-12-1.5-18-3.5-13.6-2-5.9-1.8-6.1-2.5 .1-89.3 10.5,.3 13.4,2.4 6,2 9,4.5 10.6,4.4 4.4,1.1 3-.4 2.3-1.3 5.3-9.1 2.9-2.6 4.5-1.7 3,0 4.6,1.6 4.4,2.8 6.1,5.1 2.9,1.6 4.6,1.2 3,.1 11-2 5.5-1.5 20.9-9.7 11.6-3.8z" fill="#ffb770" fill-rule="evenodd"/>
<path d="M772.7,139.7l4.9-1 0,69.4-27,13.9-10.4,6.9-6,3.3-9,3.1-12,2.1-7.6,.4-13.5-.3-11.9-.8-10.6-1.4-15-3.3-15-2.6-6-2.1-6-3.2 0-80.6 6-.6 6,.1 13.6,1.9 6.3,2.3 14.7,8.3 3,1.1 3,.3 4.4-1 3-1.6 1.6-1.4 2.5-5.7 1.9-2.7 3-2.5 3-1.2 3,0 4.6,1.5 3,2 4.4,4.6 3,2.1 4.6,2.1 4.4,1 3.1-.4 20.6-5 13.9-6.2 8.5-2.8z" fill="#ffae5d" fill-rule="evenodd"/>
<path d="M697.2,144.2l3.9-1.3 4.5,.9 3.2,1.9 4.4,4.7 3,2.4 4.4,2.3 6,1.8 3-.5 7.6-2.6 16.4-2.5 13.6-5.4 10.4-1.9 0,60.2-29,16.5-14.4,9.1-9,3.1-12,2.1-6,.3-22.6-.5-15-1.6-15-3.7-13.4-2.4-7.6-3.2-6-4 0-71.2 6-1.3 6-.4 7.6,.3 6,1 6,1.9 9.2,6 4.2,2.2 3,1 4.6,.2 4.5-1.3 4.5-3.2 1.6-1.9 2.8-5.8 3.6-3.2z" fill="#ffa54a" fill-rule="evenodd"/>
<path d="M698.1,145.7l3.1-1 4.4,1 3,2.1 4.6,5.1 3,2.4 10.4,4.1 1.6-.1 5.9-2.7 4.6-1.4 7.5-.7 10.4-.1 12-3.8 4.6-.6 4.4,0 0,49.8-17.3,11.9-26.2,15.8-4.4,1.9-4.5,1.2-13.6,2.2-6,.2-25.4-.5-10.6-1.3-13.5-3.7-10.5-1.8-4.4-1.3-6.8-3.7-6.8-5.7 0-60.4 4.6-1.8 6-1.3 6-.3 7.1,.5 6.3,1.7 13.6,7.4 4.4,1 4.6,0 4.4-1.2 3-2.1 3-3.3 3.9-6.5 3.6-3z" fill="#ff9c38" fill-rule="evenodd"/>
<path d="M698.6,147.2l2.6-.8 1.4,0 3,1.1 3,2.5 6,6.9 12,4.5 3.1-.7 7.5-3.6 4.5-.8 5.9,.2 10.6,1.9 3-.2 9-1.7 7.4,1.1 0,37.3-6,4.4-13.4,11.3-24,14.6-6,2.4-15,2.8-10.6,.6-24-.5-6-.5-15-4.4-13.4-2.8-4.6-2.2-5.6-4.4-6.4-7.2 .1-46.8 3.9-3 3.6-1.7 5.9-1.4 6.1-.3 4.4,.3 4.6,1 11.7,5.1 4.7,1.4 6,.2 4.6-.6 2.7-1 1.7-1.3 7.6-11 3.4-2.7z" fill="#ff9327" fill-rule="evenodd"/>
<path d="M698.9,148.7l2.3-.7 3,.5 2.5,1.7 1.9,2.1 4.6,6.7 1.4,.8 6,.7 6,2.7 3-.8 7.6-4 3-.6 4.5-.1 4.5,1 6,2.5 8.4,2.5 11.1,5 2.9,1.8 .1,18.3-7.5,6.6-9.5,10.3-5.4,4.5-4.7,3.2-16.4,9.5-4.6,2.1-3,.7-15,2.7-6,.6-16.4-.7-15,.2-15-4.7-13.6-3-3-1.6-3.9-3-5.2-6-5.9-8.9 0-27.8 4.6-5.6 3-3 3-1.9 4.4-1.7 4.6-.7 9,.5 16.4,4.4 12-.7 2.8-1.1 1.6-1.5 4.6-8.7 3-3.3 2.3-1.5z" fill="#ff8a16" fill-rule="evenodd"/>
<path d="M699.3,150.2l1.9-.6 1.4,.1 3.3,2 2.5,3 2,6 1.2,2.1 1.6,.3 3-1.1 3-.4 3,.7 4.4,2.1 3.1-.7 7.5-4 6-.8 6,1.7 9,4.7 3,2.1 9,11.4 2.9,2.9 .1,1.5-14.1,21-2.9,3-5.9,4.5-19.1,10.4-3,1-21,3.9-6,.2-12-1.1-10.6,.7-4.4-.2-13.6-4.6-12-2.8-3-1.4-2.2-1.6-4.4-4.5-4-6-4.7-9-1.7-6-.2-4.5 1.3-4.5 2.5-3.8 5.5-6.7 5-4.2 2.9-1.2 4.6-1 7.4-.2 15,2.6 12-.5 3-.6 1.7-.9 1.3-1.6 3.4-8.9 2.6-2.8 2.7-1.7z" fill="#ff8205" fill-rule="evenodd"/>
<path d="M701.1,151.7l1.5,.2 1.6,.9 1.7,1.9 1.2,3 .8,6 .8,1.5 1.5,1 1.4,.1 1.6-.6 3.2-2 2.8-.9 3,.6 3.5,1.8 2.5,.1 8.9-4.4 4.5-.9 3,.5 3,1.1 10.4,6.6 2.5,3 2.8,6 1.1,4.5 .1,3-1.4,6-2.2,6-2.3,4.5-3.5,4.5-3.3,3-4.4,3-16.2,8-3,.9-7.6,1.1-10.4,2.8-6,.8-4.6-.1-10.4-1.2-10.6,.9-4.4-.3-12-4.4-12-3.5-4.6-2.7-3.4-3.8-4-6-3-6-1.7-6-.1-4.5 .7-3 2.3-4.5 3.5-4.5 2.7-2.9 3-2.2 4.6-2 4.4-1 6-.2 12.1,1.3 14.9-.3 3-.8 2.2-2.4 2.4-9.8 3-2.6 2.9-1.1z" fill="#fd7902" fill-rule="evenodd"/>
<path d="M700.5,154.7l2.1,.8 1.4,2.2 .1,6 .7,3 1.1,1.5 2.8,1.8 1.5,.2 1.4-.4 5.2-4.6 2.3-1.1 3.1,.3 3,1.6 3,.1 12-4.9 3,.2 3,1.1 7.4,4.8 2.9,2.4 1.9,3 1.6,4.5 .7,4.5-.2,4.5-1,6-1.3,4.5-2.1,4.5-3.3,4.5-3.6,3.1-4.6,2.7-12,5.4-4.4,1.2-7.6,.9-9.6,3.2-6.8,1.2-4.6-.1-10.4-1.3-10.6,.9-4.4-.4-21-7.5-5.1-3.3-3.9-4.4-3.1-4.6-2.6-6-.9-4.5 .2-4.5 .8-3 1.6-3 3.4-4.5 3.3-3 3.3-2 3-1.3 4.5-1.1 13.5,.4 10.4-.4 9,.9 3-.5 1.6-1.1 1.3-2.4 .2-9.2 1.5-2 2.3-.8z" fill="#fb7101" fill-rule="evenodd"/>
<path d="M736.7,163.7l3.5-1.4 3,.5 4.4,2.4 6.2,4.5 2.1,3 1.1,3 .9,4.5 .1,4.5-.6,6-1,4.5-1.7,4.5-2.7,4.5-3.2,3-4.2,2.7-10.4,4.5-6,1.5-7.5,.5-9.1,3.5-6,1.4-6,.1-10.4-1.3-9,.8-4.6-.1-3-.7-14-5.4-5.8-3-5.9-6-2.1-3-2.3-4.5-1.2-4.5-.1-3 .4-3 1-3 1.7-3 2.9-3.4 4.4-3.6 3-1.6 6.1-1.4 19.5-.6 4.4,.5 9,2.2 7.6-2.4 9,1.8 1.4-.2 1.6-1 4-5.3 2-1.3 1.4-.3 4.6,1.8 3,.1 5.5-1.8 3-1.5z" fill="#f86900" fill-rule="evenodd"/>
<path d="M740,163.7l3.2,.7 3,1.7 4.7,3.6 2.6,3 2.2,7.5 .2,4.5-.3,4.5-.8,4.5-1.6,4.5-1.3,3-2.1,3-6,4.5-8.2,3.4-6,1.6-9,.4-10.4,4.2-6,1.2-4.6,.1-10.4-1.3-9,.8-4.6-.2-4.4-1.3-10.6-4.3-5.5-3.1-3.2-3-3.6-4.5-3-6-.8-6 .5-3 1.2-3 1.9-3 3.5-3.7 3-2.2 3-1.3 4.6-1 18-1.1 4.4,.6 9,3 7.6-1.5 9,.7 3.2-1 4.2-5.7 2.2-1.8 .8-.3 4.6,1.4 3,0 6-1.6 5.8-2.5z" fill="#f66100" fill-rule="evenodd"/>
<path d="M736.8,166.7l3.4-1 3,.6 3.1,1.9 3.4,3 2,3 1.2,3 1.1,4.5 .2,3-.3,4.5-1,4.5-3.8,8.6-4.4,4.2-3.1,1.8-4.4,1.8-7.6,1.8-10.4,.6-10.6,4.2-4.4,.9-4.6,.1-10.4-.9-9,.6-4.6-.3-4.4-1.4-7.6-3.1-6-3.3-3-2.7-3.1-3.9-3.2-6-.7-3 0-3 .6-3 1.3-3 2.1-3 3-3 4.6-2.5 4.4-1 16.6-1.6 4.4,.9 9,3.1 9-1.1 7.6,.3 2.9-.9 1.5-1.1 4.6-5.5 1.4-1 7.6,.3 8.6-1.9z" fill="#f35800" fill-rule="evenodd"/>
<path d="M735.1,168.2l6.5-.3 3,1.2 2.7,2.1 2.1,3 2,4.5 1.3,6-.9,7.5-3.9,9-1.7,2.1-2.9,2.4-6.1,2.9-7.6,1.6-12,.7-8.9,3.7-4.5,1.1-4.6,.2-10.4-.6-12,.3-7.6-2.2-9.2-4.7-3.4-3-2.4-2.8-3.4-6.2-.7-3 0-3 1.3-4.5 1.9-3 2.5-2.7 4.4-2.6 15-2.6 4.6-.4 3,.6 10.4,3.5 9-.6 6,.1 3-.6 3-1.5 6.1-6.1 1.4-.5 4.6-.2 8.4-1.4z" fill="#f04f00" fill-rule="evenodd"/>
<path d="M730.7,169.7l3.5-.6 5.9,.4 3.1,.7 1.4,.9 2.9,3.1 2.8,6 .8,3 .1,4.5-.5,3-3.8,9-2.2,3-1.8,1.5-5.7,2.9-7.6,1.5-13.4,.4-9,3.9-4.6,.9-25.4,.1-7.6-2.2-7.4-4.2-4.7-4.8-3.3-6-.9-4.5 1.4-5.4 1.5-2.5 2.3-2.6 3.7-2.1 13.4-2.8 4.6-.5 13.4,4.2 15-.2 3-.8 3-1.6 6-5.6 1.6-.9 8.5-1.7z" fill="#ed4700" fill-rule="evenodd"/>
<path d="M728.1,171.2l6.1-1.2 6,.9 3,1 3,2.8 3.2,7 .5,3-.2,4.5-.8,3-2.7,5.6-1.6,2.5-2.1,2.4-5.3,2.9-7.6,1.3-15-.4-3,1.1-6,3.2-4.4,1-22.6,.5-7.4-1.8-6.4-3.3-4.4-4.5-3.2-6-.8-4.5 1.1-4.5 3.1-4.3 3-1.8 12-3.2 4.6-.5 13.4,4.2 15,.5 6-3 7.6-6.7 5.9-1.7z" fill="#e93e00" fill-rule="evenodd"/>
<path d="M731.7,171.2l3.9-.1 4.6,1.1 3,1.4 3,3.5 2.1,6.1 .1,6-.9,3-2.4,4.5-3.5,4.8-4.4,2.6-4.6,1-6,.1-6.5-1-8.5-2.5-1.4,1-4.1,4.5-4.9,2.2-6,.8-16.6,.3-6-1.2-4.5-2.1-3.5-3-2.2-3-1.4-3-1.1-4.5 .8-4.5 1.5-2.5 1.4-1.5 3.8-2 8.3-2.8 4.5-.7 2.9,.5 10.5,3.6 7.6,1.2 6,1.7 1.4-.3 3-2 11-10.2 9.1-3zM708.6,194.4l-.4,.8 .2,1.5 .2,.5 1.6,.4 0-2.4-1.6-.8z" fill="#e63500" fill-rule="evenodd"/>
<path d="M730.1,172.7l4.1-1 1.4,.3 4.6,1.5 3,1.7 1.7,2 1.4,3 1,6-.2,3-.9,2.8-4.9,7.7-4.1,2.7-3,.8-4.6,.3-6.1-.8-3.9-1.5-2.2-1.5-2.1-3-1.5-4.5-.4-3 .2-1.5 1.4-3 7.2-8.5 2.9-1.8 5-1.7zM674.8,183.2l3.8-1.2 4.6,.2 15,5 3,1.6 1.7,1.9 .6,1.5 1.3,6 .3,3-1.1,3-2.8,2.3-3.1,1.1-13.5,1.1-4.4,.1-4.6-.6-3.3-1-3-1.5-3-3-1.5-3-1-4.5 .2-3 1.1-2.8 1.5-1.7 2.1-1.5 6.1-3z" fill="#e32c00" fill-rule="evenodd"/>
<path d="M733.9,172.7l1.7,.3 5.9,2.7 2.8,3 1.5,6 0,3-.6,3-3.6,6-3,3.1-3,1.2-3,.5-4.4-.1-3.1-.6-4.5-2.4-2.6-3.2-1.2-4.5 .5-4.5 2.4-4.5 3.9-4.9 10.3-4.1zM679.1,184.7l2.5-.3 3,.3 10.9,4.5 2.5,1.5 2.2,3 1.4,4.5-.2,3-.9,1.5-2.3,1.8-3,1-10.6,1-7.4-.3-6.1-2-1.5-1.5-1.4-3-.2-4.5 .8-3 2.4-2.9 2.1-1.6 2.3-1.6 3.5-1.4z" fill="#e02300" fill-rule="evenodd"/>
<path d="M733.7,174.2l1.9,.2 2.9,1.3 4,3 1.5,4.5-.1,6-2.3,4.5-2.4,3-1.9,1.5-4.7,1.2-4.4-.3-3-1.1-3.4-2.8-1.8-4.5 .2-4.5 2-4.5 2.3-3 2.2-1.5 7-3zM681.5,187.7l3.1,.1 3,1 3.7,1.9 3.9,2.9 1.4,2.7 .3,1.9-.3,1.5-1.3,1.5-4.7,1.7-9,.8-5.9-1-2.3-1.5-1.2-3 .4-3 .7-1.5 3.8-4.1 4.4-1.9z" fill="#dc1b00" fill-rule="evenodd"/>
<path d="M732.7,177.2l2.9-.5 1.5,.5 3.1,2 1.5,2.5 .6,4.5-.7,3.4-2.9,4.5-3.1,2.1-4.4,.6-3-.8-3.2-2.3-1.5-3-.3-3 .7-3 1.6-3 1.6-1.5 5.6-3zM681.8,195.2l1.4-.6 1.4,.1 1,.5 .1,1.5-2.5,.6-1.6-.5 .2-1.6z" fill="#d91300" fill-rule="evenodd"/>
</g>
<path d="M627.6,113.3l11,5 17.1,8.6 1.9,1.4 5.7,5.4 2.9,2 3.4,.9 4,0 4-.3 3-.6 3-1.4 11-6 4-1.4 3-.6 5,1 11,4.9 6,1.5 6,.2 7-1.3 5-2.3 6-4.5 10.6-6.1 17.7-13M777.6,230.4l-9,2.7-7,2.6-19,9.2-6.5,2.8M638.4,247.7l-10.8-1.7M627.6,132.1l10.1,1.4 12.9,3.2 5,1.9 10,5.1 3,1.1 3,.6 6,0 4,.6 2-.3 2-1.3 4.2-4.7 2.5-2 5.3-2.5 4-.7 3,.6 3,1.4 11,6.8 3,1.4 4,.8 6-.2 5-.6 5-1.4 22-11 14-5.7M777.6,216.9l-12,4.7-9.2,4.1-5.6,3-10.2,6.3-7,3.4-5,1.8-6,1.6-13,2.1-5.9,.5-4.1,0-21-2.1-25-4.1-14-1.9-6-1.3-6-2M627.6,150.2l6-1.5 6-.6 7,.3 6,.8 3.1,.7 2.9,1.1 8.9,5.7 4.2,2.2 3.9,1.2 3,.3 4-.6 2-.8 2-1.2 4-3.8 2.1-4.3 1.9-2.8 3-2.4 3-1 3,.2 3,1.2 2.6,1.8 3.5,4 3.7,3 4.2,2 6,2 2-.2 6-2.5 3-.8 17-2.1 3-.9 7-3.1 3.1-1 4.9-1 5-.5M777.6,203l-17.4,10.7-12.6,6.9-9,6-5,2.8-3.9,1.6-4.1,1.1-12.9,2.2-6.1,.3-23-.5-6-.4-8-1-15-3.9-9-1.3-5-1.3-3.5-1.5-3.5-1.8-6-4.3M700.4,149.7l1.2-.2 2,.5 3.4,2.7 2,3 1.9,6 .7,1 1,.3 4-1.2 3-.3 3,.9 3,1.8 2,.1 2-.7 6-3.3 2-.8 3-.6 3,0 3,.6 2.9,1.2 4.1,2.4 5.6,2.6 2.6,2 8.9,11 2.9,2.7 .3,1.3-1,2-4.3,5.5-6.7,10.5-3.2,4-4.1,3.9-5,3.6-19,10.2-3,.9-21,3.8-6,.2-11.9-1.1-10.1,.7-4-.1-4-1.1-10-3.6-13-3.1-2.4-1.3-2.6-2-2.9-3-2.4-3-4.8-8-2.8-6-1.5-6 0-4 1.2-4 2.6-4 5.6-6.8 2.2-2.2 3-2 3.8-1.4 4-.7 4-.2 4,.2 11,2.3 3.1,.3 10.9-.5 4-.7 2-1.2 1-1.4 3.3-8.7 2.8-2.9 1.9-1.4 1.8-.7M738.4,163.7l2.2-.6 2,.5 2,.9 4.9,3.2 4.1,3.6 1.3,2.4 1.3,5 .4,3-.1,4-.4,5-.9,4-1.9,5-2.2,4-2.5,2.4-4,2.7-4,2-6,2.3-6,1.4-8,.4-10,4-6,1.3-5,.1-11-1.4-9,.9-4-.2-4-1.1-11.9-4.8-5.1-2.7-2.6-2.3-3.5-4-2.2-3-1.9-4-1-4-.1-3 .5-3 1.1-3 1.8-3 2.9-3.2 3.5-2.8 3.5-1.7 5-1.2 18-.9 5,.6 9,2.8 8-1.8 9,1 2-.5 1-.8 4-5.5 2.1-1.6 .9-.3 4,1.5 3,.2 6.7-1.8 4.1-2M731.9,169.7l2.7-.3 6,.6 2,.5 2,1.2 1.2,1 1.4,2 2.5,5 .9,3 .3,4-.6,4-1.1,3-2.9,6-1.4,2-2,2-2.3,1.5-3,1.3-3,.9-4,.6-12,0-3,.4-3,1-6,2.9-4,.9-21,.4-4-.2-3-.5-4-1.3-4.1-1.9-3.2-2-2.3-2-2.6-3-2-3-1.3-3-.8-3-.1-2 .4-2.4 1-2.6 1.2-2 1.8-2.1 2-1.6 2-.9 13-2.9 4-.5 3,.5 8,3.1 3,.7 3,.2 5-.4 5,.3 2-.1 3-1 3-1.6 2-1.6 4.1-4 1.8-1.1 9.4-2M733.6,172.7l1.3,0 4.9,2 1.8,1 2.2,2 1,2 .9,4 .2,3-.3,3-1,2.3-2.2,3.7-1.8,2.3-1.9,1.8-3.1,1.3-3,.5-4,0-3-.6-3-1.2-1.8-1.1-1.2-1-1.4-2-.8-2-.7-3 0-2 .4-2 .8-2 1.8-3 2.1-3 1.8-2 2-1.1 8-2.9M678.7,184.7l2.9-.4 4,.6 9,3.8 3.5,2 1,1 1.2,2 1.3,4 .1,3-1,2-2.1,1.6-3,1.2-12,1.1-4,0-3-.4-4-1.2-2-1-1.7-2.3-.8-2-.3-4 .6-3 1.2-2 2.1-2 3.9-2.7 3.1-1.3" fill="none" stroke="#383838" stroke-width="1.1" stroke-opacity="0.85"/>
</g>
<path d="M629.00,176.85a73.35,68.50 0 1,0 146.70,0a73.35,68.50 0 1,0 -146.70,0zM632.30,176.85a70.05,65.80 0 1,0 140.10,0a70.05,65.80 0 1,0 -140.10,0z" fill="#000" fill-rule="evenodd"/>
<path d="M689.8,111.1L696.5,102.9M708.2,102.9L715.0,111.1" fill="none" stroke="#000" stroke-width="3.6" stroke-linecap="butt"/>
<path d="M633.0,162.8C630.6,161.0 625.3,160.9 625.1,168.6C624.9,174.8 624.6,183.3 624.3,187.5C624.1,196.3 630.7,196.4 634.0,194.1" fill="none" stroke="#000" stroke-width="3.1" stroke-linecap="butt" stroke-linejoin="round"/>
<path d="M771.7,162.8C774.1,161.0 779.4,160.9 779.6,168.6C779.8,174.8 780.1,183.3 780.4,187.5C780.6,196.3 774.0,196.4 770.7,194.1" fill="none" stroke="#000" stroke-width="3.1" stroke-linecap="butt" stroke-linejoin="round"/></g>
<g id="beta_nr"><clipPath id="c_beta_nr"><ellipse cx="966.95" cy="176.25" rx="74.2" ry="69.65"/></clipPath>
<g clip-path="url(#c_beta_nr)">
<g filter="url(#blur)">
<rect x="889" y="103" width="155" height="146" fill="#ffb974"/>
<path d="M892.2,106.1l150,0 0,44.3-12-.3-1.2,1-.4,1.5 .3,3 2.9,4.4 4.4,3.2 6,2.1 0,48.4-1.8,3.4-.7,4.5 .7,6 1.8,6 0,13.5-150,0 0-81.2 4.6-.1 3-.7 3-1.3 3-2.2 2.9-3 4.5-6.3 5-5.7 1.5-3-.5-1.8-1.4-.7-3,.1-12,3-10.6,4 0-42.1z" fill="#ffb265" fill-rule="evenodd"/>
<path d="M892.2,106.1l150,0 0,40.7-13.4,.2-1.8,1.1-1,1.5-.4,3 1.6,4.9 2.6,4.1 2,2.3 3,2.2 7.4,3.6 0,37.3-3.2,2.6-2.7,3-1.4,3-.4,4.5 1.5,9 2.7,7.5 3.5,8.2 0,2.3-150,0 0-77.3 7.6-1.8 3-1.6 3-2.4 3.9-3.9 5.1-6.1 7.5-7.4 1.9-3 1-3-.4-1.5-1.9-1.5-5.1-.7-4.6,.5-21,4.6 0-35.9z" fill="#ffab57" fill-rule="evenodd"/>
<path d="M892.2,106.1l150,0 0,37.7-12,.3-3,.6-3,2.2-1.4,4.2 .9,4.5 4.1,7.5 2.3,3 3.1,2.5 9,4.9 0,28.9-7.4,5.3-2.1,1.9-1.7,3-.8,4.5 .5,6 1.2,6 2.9,8.2 4.2,9.8-146.8,0 0-74.2 7.6-2.5 4.4-2.8 6.1-6 5.9-6.8 7.5-6.7 4.3-6 1-3-.8-2.2-1.4-1.3-3-.9-4.6-.5-6.6,.4-20.4,2.9 0-31.4z" fill="#ffa448" fill-rule="evenodd"/>
<path d="M892.2,106.1l150,0 0,35.1-13.4,.7-6,1.4-1.7,1.8-1.6,6 1,4.5 3.1,4.5 1.9,4.5 2,3 3.8,3 7.9,4.4 3,2.3 0,21.1-3,2.5-9,5.9-2,2.8-1.2,4.5 .1,7.5 1.3,7.5 2.3,7.5 4.3,10.5-142.8,0 0-71.5 8.4-3.5 3.6-2.4 12-12.9 9-8 5.3-6.7 .8-1.5 .5-3-.6-1.8-1.5-1.6-2.9-1.2-4.6-.7-9-.1-21,1.6 0-27.7z" fill="#ff9d3a" fill-rule="evenodd"/>
<path d="M892.2,106.1l150,0 0,32.6-22.4,1.2-1.6,.8-1.4,2.2-1,5.2 0,3 .7,3 7.1,13.5 5,4.5 10.5,6 3.1,3.5 0,12.3-1.6,2.2-2.8,2.6-7.6,4.4-2.4,2-2.2,3-1,3-.4,9 .7,7.5 2.3,8.8 4.1,10.7-139.1,0 0-68.8 12-6.6 13.5-14.6 7.5-6.2 7.4-8.8 1.3-4.5-.7-3-1.2-1.5-2.2-1.3-3-.7-13.6-1.1-21,.6 0-24.5zM964.2,181l-1.4,.7-1.6,2.1 0,3.3 1.6,3.2 1.4,.8 1.6,0 1.4-.7 1.4-1.8 .5-3-.3-1.7-1.6-2.1-1.4-.8-1.6,0z" fill="#ff962d" fill-rule="evenodd"/>
<path d="M892.2,106.1l150,0 0,30.3-15,1.3-6-1.1-3,.3-3,1.9-1.3,1.8-1.1,4.5 .1,4.5 .8,4.5 6.2,13.5 2.5,3 3.4,2.8 9,4.7 3,2.2 2.7,3.8 .7,3-.7,4.5-1.9,3-3.5,3-7.9,4.8-3,3.6-1.6,3.6-.9,10.5 .4,7.5 2.1,9 3.7,10.5-135.7,0 0-66 12-7.6 13.6-14.9 7.6-6 8.8-10.3 1.4-4.7-.4-3-1-1.8-1.4-1.5-3-1.3-15-1.8-22.6-.5 0-21.6zM962.8,178.9l-1.6,1.2-1.2,2.5-.4,1.5 .1,3 1.8,4.5 1.3,1 3,.6 3-1.4 1-1.7 .9-3-.1-3-1-3-.8-1.3-1.6-1-3-.3-1.4,.4z" fill="#ff9020" fill-rule="evenodd"/>
<path d="M892.2,106.1l150,0 0,28.1-15,1.6-6-1.3-2.2,.1-4,1.5-2.2,1.5-1.2,1.5-1.1,3 0,4.5 1.4,7.5 6.3,15.1 3,3.6 3,2.6 10.8,5.7 2.7,3 .9,3-.3,3-1.6,3-3.3,3-7.6,4.9-3.1,4.1-2,4.5-1.4,10.5 .1,7.5 1.8,9 3.4,10.5-132.4,0 0-62.7 3.5-3.3 10.1-7.2 4.4-5.8 9-9.5 7.6-5.8 9-10.6 1-3.1 .3-3-.8-3-1-1.5-2.5-2-2.9-1-16.7-2.3-21-1.4 0-18.8zM962.8,176.5l-1.5,1-1.5,2-1.1,3.1-.2,3 1,4.5 1.5,3 1.8,1.2 1.4,.4 3-.2 2.3-1.4 1.8-3 .8-4.5-.4-3-1.5-4.1-1.4-1.7-3-.9-3,.6z" fill="#ff8913" fill-rule="evenodd"/>
<path d="M892.2,106.1l150,0 0,25.9-13.4,1.9-7.6-.8-3,.3-4.4,1.2-2.8,1.5-1.4,1.5-1.1,3-.1,4.5 1.6,7.5 6.8,17.7 3,3.9 4.4,4 9,4.5 1.6,1.4 1.2,3-.4,3-2,3-7.8,5.6-3,3.4-2.6,4.5-1.4,4.5-1.7,9-.2,7.5 1.5,9 3.1,10.5-129.3,0 0-58.2 4.8-6.3 8.8-7.1 4.4-6 8.9-9.4 7.7-5.8 8.2-9.2 2.6-4.5 .8-4.5-.7-3-1.9-3-2.1-1.5-2.5-.9-19.4-3.3-19.6-2.1 0-16.2zM964.2,172.9l-3,2-2.3,3.2-.9,3-.3,4.5 1.2,6 .9,1.8 3,2.3 3,.6 3-.9 2.3-2.3 1.7-4.5 .3-4.5-1.3-6-1.6-3.3-1.4-1.7-1.6-.6-3,.4z" fill="#ff8206" fill-rule="evenodd"/>
<path d="M892.2,106.1l150,0 0,23.8-12,2-10.4,.1-7.6,1.2-3,1.4-1.3,1.5-1.5,4.5 0,3 1.4,6 8.2,22.5 2.2,3.2 4.6,4.4 3,2.1 6,2.8 1.6,2.5-.2,2.1-1.4,2.4-7.6,6.2-3,3.9-3,6.4-2.2,7.5-1.4,7.5-.1,6 1.2,7.5 2.8,10.5-126.3,0 0-43.5 .9-7.5 1.7-6 3.6-6 7.4-6.8 6-8 8.7-9.2 7.7-5.9 3-3.8 5.2-5.3 2.4-4.5 .8-4.5-.6-3-1.6-3-1.6-1.6-3-1.6-21-4.3-19.6-2.8 0-13.7zM967.2,167.3l-3,1.2-4.5,5-2.2,4.6-.7,4.5 .9,7.5 .8,3 2.7,3.2 3.1,1.4 1.5,.1 3-.9 3-2.7 1.4-3.3 .8-5.3-.5-6-1.7-6.9-1.6-3.2-1.4-1.6-1.6-.6z" fill="#fe7c02" fill-rule="evenodd"/>
<path d="M892.2,106.1l150,0 0,21.7-12,2.3-18.8,1.5-2.2,.5-1.4,.9-1.5,1.6-1.6,4.5-.1,3 .9,4.5 9.6,27 2,3 4.1,4.4 3,2.5 5.6,3.6 .2,1.5-.8,1.5-6.4,6.8-3,4.4-3.6,8.3-3,9-1,6 0,6 1.1,7.5 2.3,9-123.4,0 0-17.1 2.9-6.9 1.8-7.5 .6-7.5-.8-12 .7-4.5 1-3 2.6-4.5 6.2-6.6 4.6-6.8 4.4-4.2 4.6-5.4 7.4-5.5 3.7-4.5 5.3-5.4 2.1-3.6 1.4-6-.5-3-1.4-3-1.6-1.9-3-1.8-21-5.2-21-3.8 0-11.3zM964.2,137.5l-3,1-1,2.1 2.9,12 .1,6-1.4,6-5,11.6-.8,6.4 1.1,9 1.1,3 3,3.1 3.1,1.5 1.5,.2 3-.8 2.9-2.5 1.1-1.5 1.6-4.5 .5-6-1.7-13.5-2.4-7.5-.5-3-.6-18-1.3-3-2.6-1.5-1.6-.1zM964.2,225.8l0,1 1.6,.8 .6-1.5-.6-.8-1.6,.5z" fill="#fc7601" fill-rule="evenodd"/>
<path d="M892.2,106.1l150,0 0,19.6-12,2.7-13.4,1.9-7.7-.2-2.9,1.4-1.3,1.6-1.7,4.5-.3,3 .3,3 6.7,18 3.6,12 3.3,5.2 6.1,6.8 1.9,3-.7,3-6.3,10.5-5.7,13.5-1.6,6-.7,4.5 .1,6 1,7.5 1.7,7.5-120.4,0 0-4.2 3.9-6.3 3-6 2-6 1.3-6 .6-6-.1-4.5-2.4-10.5-.3-3 .6-4.5 1.1-3 6.6-9 3.2-6 4.5-3.8 4.6-5.9 7.5-5.3 4.5-5.5 5.1-5 2.6-4.5 1.4-6-.5-3-2.4-4.5-1.8-1.8-3-1.6-22.4-6-19.6-4.1 0-9zM964.2,134.5l-5,1.6-1.4,1.5-1,3 1.8,10.5 .3,9-.9,6-2.6,10.5-.3,4.5 1.2,10.5 .8,3 1.2,1.8 2.9,2.9 3,1.6 1.6,.3 1.4-.2 3-1.7 3.8-4.7 1.3-4.5 .4-7.5-.9-12.7-1.6-8.3 .4-19.5-.4-3-1.4-2.4-1.6-1.2-3-1.1-3,.1zM964.2,222.5l-1.4,.9-1,1.2-.2,3 1.2,1.8 1.4,.7 1.6,0 2.1-1 1-1.5 .2-1.5-.4-1.5-1.3-1.5-1.6-.7-1.6,.1z" fill="#fa6f01" fill-rule="evenodd"/>
<path d="M892.2,106.1l150,0 0,17.5-12,3-13.4,2.5-6-.9-3,.5-2.7,1.4-1.3,1.5-2,5.3-.5,3.7 .5,3 6.5,16.5 3.9,13.9 3,5.4 5.4,7.7 .7,3-.7,3-3.2,6-2.9,7.5-4.3,9-2.4,9-.4,4.5 .2,6 2.1,12-112.8,0 7.2-12 1.8-4.5 1.3-6 .6-16.5-.8-4.5-2.7-6-.8-3 0-3 .7-3.1 1.4-2.9 4-6 2.4-6 4.2-3.2 5.4-7.3 8.2-5.7 3.5-4.8 6.1-6 2.2-4.5 1.5-6-.5-3-1.4-3-2.1-3-1.9-1.5-4.5-1.9-17.9-5.4-22.6-5.6 0-6.6zM964.2,132.8l-5.4,1.8-2,1.5-1.9,4.5 1,10.5 0,9-1.8,19.5 1.2,7.5 .3,6 1.1,3 4.5,5 3,1.7 1.6,.3 3-.7 3-2.5 2.7-3.8 1.5-4.5 .5-10.5-.5-12-1.1-7.5 .4-7.5-.3-6 .8-7.5-1-3.8-3-3-4.6-1.4-3,.4zM962.8,221l-2.5,2.1-.7,1.5-.2,3 .4,1.5 1.1,1.5 1.9,1.2 1.4,.3 3-.3 2.1-1.2 1.2-1.5 .6-1.5-.1-3-.8-1.5-3-2.2-1.4-.5-3,.6z" fill="#f86900" fill-rule="evenodd"/>
<path d="M892.2,106.1l150,0 0,15.4-10.4,3-13.6,3.1-3,.1-4.4-1-3,.5-3,1.3-1.9,1.6-1.7,3-.9,3-.5,4.5 .6,3 6.9,16.5 4.2,15 5.6,10.5 1.3,4.5-.4,3-4.5,12-5.2,10.5-2.6,9-.6,4.5-.1,6 1.8,12-102.6,0 6.4-10.5 1.7-4.5 .7-4.5-1.5-21-1-4.5-3.4-7.5-.3-3 .6-3 1.3-3 4.5-7.8 3.5-2.7 1.8-4.5 3.3-6 8-5.3 4.4-5.9 6-5.8 2.2-4 1.9-7.5-.6-3-1.9-3.9-2.9-3.6-1.7-1.1-24-8.3-21-5.8 0-4.3zM964.2,131.4l-7.5,3.2-2.4,3-1,3 .3,10.5-.6,25.5 .3,4.5 1.1,6 .2,6 .9,3 1.2,2.2 4.5,4.9 1.6,1 3,1 3-.6 3-2.2 3.4-4.8 1.5-4.5 .7-12-.4-12-.8-7.5 .5-6-.3-7.5 1.1-7.5-1-4.5-2.6-3-2.1-1.2-3-.8-4.6,.3zM961.2,219.8l-2.4,1.8-1.6,3-.2,3 .9,3 1.8,2 3.1,1.3 4.4-.1 3-1.4 1.9-1.8 1.2-3 0-3-.5-1.5-2.6-2.6-3-1.3-3-.3-3,.9z" fill="#f66300" fill-rule="evenodd"/>
<path d="M892.2,106.1l150,0 0,13.3-12,3.6-12,3.1-1.4,.2-6-1-4.6,1-3,1.7-1.4,1.4-1.6,2.2-1.2,3-.7,4.5 .4,3 7.1,16.5 4.5,16.5 4.2,10.5 1.1,4.5-.3,3-3.2,10.5-5,10.5-4.2,13.5-.7,9 1.5,10.5-92.3,0 6.9-10.5 1.3-3 .5-3-.7-4.5-3.3-10.5-2-12-3.7-10.5 .2-4.5 2.8-6 5.1-6 4.3-10.5 1.5-1.5 7.1-4.5 4.5-6 5.9-6 2.1-4.5 1.4-4.5 .3-3-.7-3-2.4-4.5-2.3-3-3-2.1-24-8.9-21-6.5 0-2zM965.8,129.9l-3,.9-6,2.8-4,4-1,3-1.5,22.5 1.8,16.5 1.5,7.5 0,6 .6,3 1.5,3 4.1,5.3 3,2 3,.7 4.4-.8 3-2.3 3-5.2 1.3-4.2 .7-13.5-.2-10.5-.7-7.5 .7-7.5-.4-7.5 1.3-9-1.4-4.5-2.7-2.9-4.6-1.8-4.4,0zM959.8,218.3l-3,1.8-1.4,1.5-1.2,3 0,4.5 1.4,3 1.5,1.5 2.6,1.5 4.5,1.1 4.6-.7 3.6-1.9 2.5-3 1-3-.2-4.5-1.8-3-2.5-1.5-4.2-.8-4.4-.2-3,.7z" fill="#f45c00" fill-rule="evenodd"/>
<path d="M893.2,106.1l149,0 0,11.1-22.4,6.9-3,.4-6-.5-4.6,1-3,1.5-2.5,2.1-2.2,3-1.2,3-.5,3 .6,4.5 5.2,10.5 2.8,7.5 6.4,24 1,6-.5,4.5-2.5,9-4.1,9-5.8,16.5-.9,9 1.3,9-81.5,0 9.9-12 1.8-3 .5-3-.8-1.5-6.4-5.8-3.8-6.2-1.4-4.5-1.8-9-3.1-9 .1-4.5 1.7-4.5 5.2-7.5 3.9-9 1.4-1.5 7.7-4.5 1.7-1.5 2.9-4.5 5.4-6 1.7-3 .7-4.5 1.3-3 0-3-2.1-4.5-2.7-4.5-2.4-2.7-2.7-1.8-24.3-9.7-20-6.8zM968.8,128.6l-4.6,.6-3,1.2-5.1,2.7-5.5,4.5-.8,1.5 .2,3-1.4,6-.4,7.5-1.8,6 .4,3 2.8,7.5 2.7,13.5 .3,9 1.2,4.1 3,5.4 3,3.5 3,1.3 4.4,.4 4.6-.2 1.4-.6 1.6-1.3 1.4-2.8 2.1-6.8 .5-4.5 .3-13.5-.8-15 .8-9-.6-7.5 1.7-9-.9-4.5-2.2-3-3.9-2.3-4.4-.7zM956.8,216.5l-3,2-1.6,1.6-2.2,4.5-.2,4.5 1.3,3 1.4,1.5 1.9,1.5 3.8,1.8 4.6,1.1 3,.2 6.1-1.6 4.4-3 1.8-3 .9-4.5-.3-6-1.3-3-1.2-.9-3-.6-6,.7-7.4-.6-3,.8z" fill="#f25500" fill-rule="evenodd"/>
<path d="M899.9,106.1l142.3,0 0,8.9-21,7-4.4,.7-6,0-4.6,1.1-3.6,1.8-3.6,3-2.3,3-1.3,3-.2,3 1,4.5 5.5,10.5 3.7,10.5 4.1,18 .7,6-.4,6-2.1,9-5.9,16.1-5,9.4-1.7,6-.2,6 1.7,7.5-70.3,0 7.9-7.1 4.6-3 3-1.3 4.4,0 10.6,3.2 9,1.1 9-2 3-1.4 3.3-3 1.1-3 1.3-12-.6-4.5-2.9-6-.4-3 .4-25.5-.8-15 .8-10.5-.6-6 1.9-7.5 0-4.5-1-3-2.5-3-3-1.7-4.6-.9-4.4,.3-3,.8-10.6,5.9-1.4,.5-1.6-.1-1.4-1.4-5.2-7.9-3.8-3.3-22.6-9.9-16.3-6.3zM931.6,166.1l4.2-1 6,1.2 3,1.7 2,2.6 2.4,6 2,9 0,9 .5,3 4.1,12-.1,1.5-1,1.5-5.1,4.5-4.8,5.2-3,1.4-3-.2-7.6-2.2-3-1.4-3.1-2.8-2-3-1.2-3-2.1-9-3.1-9 0-4.5 1.6-4.5 8.5-14.5 2-2 2.8-1.5zM964.2,212.6l1.6-.4 1.4,.4 .1,1.5-1.5,.4-1.2-.4-.4-1.5z" fill="#ef4f00" fill-rule="evenodd"/>
<path d="M905.4,106.1l136.8,0 0,6.6-21,7.4-4.4,.8-6,.4-4.6,1.2-4.4,2.2-3,2.4-2.9,3-2,3-.6,3 .7,3 1.8,4.7 4.3,7.3 3.9,10.5 2.7,10.5 1.6,10.5-.9,9-3.1,12-5.5,13.5-3,3.2-3,1.8-1.6-.2-1.4-1.8-2.7-7.5-3.9-7.5-1.1-4.5-1.5-12 .2-10.5-.7-12 .8-12-.7-6 2.8-10.5-.3-3-1.3-3-2.2-2.2-3-1.8-3-.8-4.4-.4-6,1.1-9,5.1-3,.8-1-.3-2.1-1.8-5.2-7.2-3.7-2.9-33.4-15.1zM932.3,169.1l3.5-.9 3,.2 3,.9 3,2.1 3,5 2.3,9.2-.4,9 1.9,10.5-.5,4.5-2.1,3-4.2,3.8-3,1.8-3,.8-4.6-.4-3-1-2.9-2-1.5-1.8-2.2-4.2-2.1-9-2.4-6-.8-3 .3-4.5 2.7-6 5.9-8.7 4.1-3.3zM946.7,241.1l19.1,.4 19.4-1.8 3,1.4 1.6,1.6 2.4,4.4-58,0 6-4 3-1.3 3.5-.7z" fill="#ed4800" fill-rule="evenodd"/>
<path d="M910,106.1l132.2,0 0,4.3-19.5,7.3-4.5,1.2-9,1.3-4.4,1.6-6.2,3.8-4.9,4.5-2.4,3-.6,1.5 .1,1.5 4.7,9 3,4.5 3.7,9 3.6,13.5 1,7.5-.1,4.5-1.9,8.3-4.6,12.8-3,4.5-1.4,1-1.6,.2-1.4-.5-4.6-4.2-2.7-4.1-1.3-3-2.4-9-.3-3 .2-9-.8-12 .6-12-.6-6 3.4-9 .6-3-.4-3-2-3-3.3-2.5-3-1.3-7.4-.9-6,1-7.6,4.5-3,1.1-1.4,0-1.6-1-5.3-6.9-3.7-3-30.2-15zM936.8,170.6l3.4,.5 3,1.6 2.2,2.4 2.1,4.5 1.4,7.5-.8,7.5 .7,9-.9,4.5-2.3,3-5.4,3.8-4.4,.8-1.6-.2-2.9-1.5-1.6-1.4-2-3-2.5-10.1-3-6.6-.5-4.3 1.8-6 3.3-5.2 6-5.7 4-1.1zM952.8,244.1l13-1.1 10.4,.4 6,1.2 4.1,2.5-43.5,0 5-2 5-1z" fill="#eb4100" fill-rule="evenodd"/>
<path d="M914.1,106.1l128.1,0 0,1.9-19.4,7.7-16.6,4.1-6,3-7.4,5.9-4.6,2.3-1.4-.2-5.4-3.7-3.1-1.5-8.1-1.2-4.4,.3-4,.9-2,.9-4.6,3.3-3,.7-1.6-.4-5.2-6-5.2-4.1-26.1-13.9zM986.4,139.1l1.8-.8 3,1.8 6.5,9.5 4,10.5 3.1,11.8 .7,4.7 0,6-2.7,9-5.6,9.7-1.4,1.4-1.6,.5-1.4-.1-3-1.4-3-3.2-3-6.2-1.2-5.2 .1-7.5-.9-13.5 .4-12-.6-6 2.2-5.5 2.6-3.5zM933.6,173.6l2.2-.9 3,0 3,1.2 1.4,1.2 2.9,4.5 1.4,6-1.2,9 .1,7.5-.5,3-1.1,2.3-2.1,2.2-2.5,1.6-3,1.1-3-.3-1.4-.9-2.5-3-1.2-3-1.3-6-2.8-6-.8-3 .2-4.5 1.8-4.5 2.1-3 5.3-4.5zM959.7,245.6l7.5-.9 5.7,.9 5.1,1.5-24.5,0 6.2-1.5z" fill="#e83b00" fill-rule="evenodd"/>
<path d="M917.7,106.1l123.3,0-18.2,7.5-16.6,4.7-6,3-7.4,5.5-3,1.3-3-.1-9-3.8-7.6-.8-9,1.1-7.4,4.2-1.6,0-1.4-.9-5-5.2-4.3-3-23.8-13.5zM987.9,140.6l1.9,.2 1.4,1 4.9,6.3 1.5,3 3.6,10.5 3.2,15-.2,6-2.9,7.5-4.1,5.7-1.4,1.3-3,1.1-3-1-3-2.9-1.6-2.7-1.3-4.5-1.6-39 1-3 1.9-3 1.6-1.2 1.1-.3zM934.4,175.1l1.4-.5 3,.1 3,1.4 1.4,1.5 1.6,2.6 1.2,5.4-.2,3-1.4,6-1,9-1.8,3-2.1,1.5-2.3,.6-3-.8-1.5-1.7-2.8-8.6-2.8-6-.7-3 .1-3 1.7-4.5 2.2-3 4-3zM963.9,247.1l4.1,0-4.1,0z" fill="#e63400" fill-rule="evenodd"/>
<path d="M921,106.1l114.5,0-12.7,5.3-16.6,5.3-6,3-7.5,5.3-2.9,1.2-1.6,0-9-3-9-.7-9,.7-3,.9-3,1.7-1.4,.4-1.6-.3-6.2-4.8-25-15zM987.8,142.1l2,.2 1.4,.9 5,6.4 4.1,12 3,15-.4,6-2.7,5.9-3,3.7-3,1.9-1.4,.3-3-.8-1.6-1.2-2.3-3.8-.7-3-1.4-16.5 0-7.5-1-12 .5-3 .8-1.5 1.1-1.6 2.6-1.4zM935.2,176.6l3.6,0 2.5,1.5 1.9,2.6 1.1,3.4-.3,4.5-2,6-1.5,7.5-1.7,2.3-1.6,.4-1.4-.7-1.3-2-1.4-4.5-3.9-7.5-.6-3 .3-3 1.2-3 2.3-3 2.8-1.5z" fill="#e32d00" fill-rule="evenodd"/>
<path d="M924,106.1l106.1,0-8.9,3.7-16.4,5.8-6,3.3-6,4.3-3,1.2-9-2.2-4.6-.5-13.4,0-7.6,1.6-3-.3-11.6-6.4-16.6-10.5zM986.7,143.6l1.5-.5 3,1.2 2.3,2.3 1.9,3 3.9,12 2.7,13.5 0,6-1.8,4.2-3,3.8-3,1.8-1.4,.3-3-1.1-2.2-3-2.4-12.5-.4-5.5 .1-6-1.5-13.5 .6-3 1.2-1.9 1.5-1.1zM933.3,179.6l2.5-1.3 3,.4 1.4,.9 1.9,3 .4,3-.7,3.2-1.6,2.6-1.5,1.5-1.5,.6-3-1.3-1.4-1.5-1.6-2.7-.2-3.9 1.2-3 1.1-1.5z" fill="#e12600" fill-rule="evenodd"/>
<path d="M926.9,106.1l97.6,0-19.7,7.7-6,3.2-6,4.1-3,1.2-12-1.8-15,0-7.6,.7-3-.5-9.4-4.1-15.9-10.5zM986.1,145.1l2.1-.9 1.6,.3 1.4,.9 2.7,2.7 1.4,3 3.3,12 .8,6 1.4,6 .1,4.5-.7,2.4-1.4,2.7-1.6,1.6-3,1.7-3-.5-1.4-1.5-1.5-3.6-1.9-7.3-.6-6 .2-6-1.9-12 .6-4.5 1.4-1.5zM935.4,181.1l1.8-.3 1.6,.7 1.3,2.6-.7,3-2.2,1.5-1.4-.2-1.6-1.3-.5-1.5 .3-3 1.4-1.5z" fill="#de1f00" fill-rule="evenodd"/>
<path d="M929.7,106.1l89,0-13.9,5.7-13.6,7.6-3,.5-9-.8-9,.8-6-.7-9,.1-3-.5-9-3.4-13.5-9.3zM985.7,146.6l1.1-.9 1.4-.4 1.6,.3 3,2.1 1.6,3.4 3.1,12 .6,6 1.5,7.5-.7,4.5-1.7,2.3-1.4,1.2-1.6,.3-1.4-.3-1.6-1.4-2.6-5.1-1-3-.7-4.5 .2-7.5-2.2-9-.1-4.5 .9-3z" fill="#db1900" fill-rule="evenodd"/>
<path d="M932.5,106.1l80.3,0-8,3.5-12,6.6-3,1.1-12,.4-7.6,.9-6-.9-10.4-.4-6-1.6-4.8-2.1-10.5-7.5zM987.5,146.6l2.3,.1 1.4,.8 1.6,1.6 1.1,3.5 .6,4.5 1.9,6 1.5,13.5-.6,3-1.5,1.5-1.6,.2-1.4-.7-1.6-1.5-1.4-2.2-1.3-3.3-.5-4.5 .3-6-2.8-10.5 .5-4.5 .8-1.2 .7-.3z" fill="#d91400" fill-rule="evenodd"/>
<path d="M935.4,106.1l71.8,0-17.4,8.8-4.6,.7-7.4,.2-7.6,1.1-6-1-9-.3-7.4-1.7-4.6-2.1-7.8-5.7zM987.7,148.1l2.1-.1 1.4,.9 1.6,3.5 .5,6.2 2,6 .7,7.5-.2,3.5-1.6,1.6-1.4-.2-1.6-1.3-1.6-3.6-.1-10.5-.3-1.5-2.4-5.3-.4-2.2 .3-3 1-1.5z" fill="#d60e00" fill-rule="evenodd"/>
<path d="M938.4,106.1l63.5,0-10.6,5.5-4.5,1.4-4.6,.6-6-.4-6,.7-4.5-.6-8.9,.3-6-1-6-2.1-6.4-4.4zM988.1,151.1l.1-.5 1.6-.5 1.4,2.5 0,1.5-1.4,1.9-1.7-1.9 0-3zM992.1,163.1l.7-.3 .6,1.8-.2,3 .6,3-.2,1.5-.8,.8-1.4-2.3 .2-3-.3-3 .8-1.5z" fill="#d30800" fill-rule="evenodd"/>
</g>
<path d="M1042.2,149.7l-5-.2-5,.4-2-.6-1.4,.8-.6,1-.2,2 .3,2 .8,2 1.1,1.8 2,2.2 4,2.7 6,2.3M892.2,166.7l5-.4 3-.8 3-1.5 3-2.4 2.5-2.5 5.5-7.3 5.3-5.7 1.1-2 .4-2-.5-1-1.3-.8-2-.3-2,.2-12,3-11,3.8M1042.2,212.2l-2.5,3.9-.6,2-.3,3 .7,6 2.7,8.7M1042.2,134.4l-10,1.2-5,.3-2-.1-4-1.1-2,0-3.8,1.4-2.2,1.4-1.4,1.6-1.1,3-.1,4 1.1,7 3.5,8 2,6 1,1.8 2.6,3.2 3.4,3 3,1.9 6,2.7 2.1,1.4 2.6,3 .9,3-.3,3-1.6,3-2.7,2.6-6,3.6-2.3,1.8-3,4-1.9,4-1.5,11 .1,7 1.6,8.8 3.7,11.2M962.2,177l-2.1,2.1-1.4,4-.1,3 1,4 .7,2 1.9,1.8 2,.7 3-.3 2-1.1 1-1.1 1-2.1 .8-4.9-.8-3.9-1-2.4-2-2.1-1-.4-2-.1-3,.8M892.2,184.1l4.5-4 8.5-5.9 1.2-1.1 3.7-5 5.1-5 3.4-4 7.8-6 3.8-4.7 4.9-5.3 1.3-3 .6-4-.8-2.8-1.5-2.2-1.5-1.2-3-1.1-17-2.3-21-1.4M1042.2,122.2l-11,3-14,3.1-2-.1-4-1.1-3,.4-3,1.3-1.7,1.3-1.3,2-1.1,3-.8,5 .8,4 3.5,8 3,8 4.3,15 2.3,4.7 4,6.3 .8,2 .4,2-.5,3-3.1,7-2.1,6-4.6,9-2.6,9-.6,5 0,6 .7,6 1.2,6M964.3,131.8l-7.1,2.8-2.1,2.5-1.2,3-.3,2 .7,9-.9,27 .3,4 1,5 .3,6 .9,3 1.3,2.1 4.1,4.2 2.9,1.8 2,.3 3-.9 3-2.7 3-4.4 1.3-4.4 .5-6 .1-6-.4-11-.9-7 .5-7-.3-7 1-8-.3-2-.9-2-1.6-2-1.2-1-2.1-1-2.7-.6-2-.1-1.9,.4M962.2,220l-2.9,2.1-1.1,2-.3,3 .7,3 1.6,1.9 2,1.1 3,.3 3-.6 2.5-1.7 1.4-2 .6-3-.8-3-1.8-2-2.8-1.4-2.1-.4-3,.7M901.7,247.1l4-6 2.7-5 1.5-4 1-5 .1-5-.6-15-1.1-5-2.5-5-1.1-3 0-3 .8-3 5.5-10 1-4 1.2-.3 .7,.3 .3,.7 6.4-10.7 7.6-5 1.9-2 3.1-4.5 4-3.4 1.8-2.1 1.7-3 1.1-3 .8-3 .2-3-.9-3-2.2-4-1.7-2-2.8-1.8-24-7.8-20-5.3M1042.2,109.4l-19,7.4-5,1.3-9,1.5-5,1.9-3,1.6-3,2.1-6.8,5.9-2.5,3-.2,1 .4,1 3.1,4 2.9,5 2.8,4 2.3,5 2.1,6 2.9,11 1.1,8-.2,5-1.6,6-5.3,13.1-1,2-1,1.2-.9,.6-2.1,.3-2-.6-2-1.3-2-1.9-2-2.7-2.5-5.7-1.7-7 .1-10-.8-12 .5-12-.6-5 .5-3 4.5-10-.3-3-1.4-2-3.3-3-3-1.7-3-.9-5-.5-5,.4-3,.7-3,1.6-3,2.4-3,1.1-2,.2-1-.3-1-.9-4.7-6.1-4.3-3.5-28.4-14.5M934,172.1l2.2-.6 3,.2 2,.7 2.5,1.7 1.5,2 1.5,3 1,3 .6,4-.1,3-.8,5 .4,9-.2,2-.7,2-1.7,2.5-3,2.5-3,1.7-3,.6-2-.3-2-1-2-1.8-1-1.4-1.5-3.8-1.4-7-2.9-6-.7-3 0-2 .7-3 2.3-5 2.5-3.3 4-3.7 1.8-1M947,247.1l7.2-2 12-1.5 11,1.2 3,.9 3,1.4M1017.7,106.1l-13.4,5.6-11.1,6.3-3,1.3-2,.2-10-.6-7,.8-8-.8-9,0-5-1.3-6.1-2.5-12.9-9M986.3,146.1l.9-.5 2,0 2,1 1.7,1.5 1.4,3 1.2,6 1.7,5.4 .7,6.6 1.4,6 .1,3-.4,2-.8,1.5-1.2,1.5-1.8,1.2-2-.1-1-.6-1-1.2-2-3.4-1.7-4.9-.5-4 .3-7-2.1-7.6-.3-2.4 .2-5 .4-1 .8-1" fill="none" stroke="#383838" stroke-width="1.1" stroke-opacity="0.85"/>
</g>
<path d="M893.60,176.25a73.35,68.50 0 1,0 146.70,0a73.35,68.50 0 1,0 -146.70,0zM896.90,176.25a70.05,65.80 0 1,0 140.10,0a70.05,65.80 0 1,0 -140.10,0z" fill="#000" fill-rule="evenodd"/>
<path d="M954.4,110.5L961.1,102.3M972.9,102.3L979.6,110.5" fill="none" stroke="#000" stroke-width="3.6" stroke-linecap="butt"/>
<path d="M897.6,162.2C895.2,160.4 889.9,160.3 889.7,168.0C889.5,174.2 889.2,182.7 888.9,186.9C888.7,195.8 895.3,195.8 898.6,193.5" fill="none" stroke="#000" stroke-width="3.1" stroke-linecap="butt" stroke-linejoin="round"/>
<path d="M1036.3,162.2C1038.7,160.4 1044.0,160.3 1044.2,168.0C1044.4,174.2 1044.7,182.7 1045.0,186.9C1045.2,195.8 1038.6,195.8 1035.3,193.5" fill="none" stroke="#000" stroke-width="3.1" stroke-linecap="butt" stroke-linejoin="round"/></g>
<g id="beta_tsr"><clipPath id="c_beta_tsr"><ellipse cx="1147.05" cy="176.25" rx="74.2" ry="69.65"/></clipPath>
<g clip-path="url(#c_beta_tsr)">
<g filter="url(#blur)">
<rect x="1069" y="103" width="155" height="146" fill="#ffcd9c"/>
<path d="M1072.4,106.1l150,0 0,141-150,0 0-78.3 6-2.6 2.2-1.6 3.4-4.5 .7-3-1.1-3-2.2-2.9-4.6-4-4.4-3.1 0-38z" fill="#ffc68e" fill-rule="evenodd"/>
<path d="M1072.4,106.1l150,0 0,41-7.6,5.2-.7,1.8 .9,1.5 4.4,3.1 3,3.5 0,84.9-150,0 0-76.1 7.3-3.4 2.1-1.5 4.7-6 .8-3-.5-3-2.4-4-6-5.6-6-4.2 0-34.2z" fill="#ffbf7f" fill-rule="evenodd"/>
<path d="M1072.4,106.1l150,0 0,36.2-10.6,7.7-1.4,2-.3,2.1 .4,1.5 1.3,2 4.6,3.3 2.1,2.2 1.7,3 2.2,5.3 0,75.7-150,0 0-74 7.4-4.1 3-2.2 5.5-6.7 .8-4.5-.9-4.5-2.1-3-6.3-6.1-7.4-5.2 0-30.7z" fill="#ffb76f" fill-rule="evenodd"/>
<path d="M1072.4,106.1l150,0 0,32.1-12.5,9.9-1.3,1.5-1.1,3 .4,3 1.2,3 1.3,1.6 4.4,3.8 1.6,2.4 6,15.9 0,23.6-2.3,6.7-.5,4.5 .9,6 1.9,5.7 0,18.3-150,0 0-72.1 10.4-6.9 5.8-6.5 1.5-3 .9-6-.4-3-.8-1.5-5.4-6-5.4-4.5-6.6-4.1 0-27.4z" fill="#ffaf5f" fill-rule="evenodd"/>
<path d="M1072.4,106.1l150,0 0,28.3-8.5,6.2-6.3,6-1.5,3-.5,4.5 .4,3 1.4,3.5 5.1,7 3.1,6 6.2,16.5 .4,4.5-.6,4.5-4.9,12-.8,6 .6,4.5 1.3,4.5 4.6,11 0,10-150,0 0-70.2 6-3.9 4.4-3.8 6.9-7.6 2.9-7.5 1.1-6-1.4-3-6.4-6-6.2-4.5-7.3-4.2 0-24.3z" fill="#ffa74f" fill-rule="evenodd"/>
<path d="M1072.4,106.1l150,0 0,24.8-9.7,6.7-6.5,6-1.1,1.5-1.2,3-.3,6 .5,4.5 1.7,4.8 7.8,13.2 5.1,12 .8,3-.2,6-1.5,4.1-4.6,9.4-.6,6 1.9,9 3.3,8.6 4.6,9.4 0,3-150,0 0-68.3 7.4-5.6 9.7-10.1 2-3 3.3-7.1 4.3-6.4 .3-1.5-.7-1.5-6.4-4.5-19.9-11.8 0-21.2zM1145.8,182.9l-.3,1.2 .3,.5 .5-.5-.5-1.2z" fill="#ffa03f" fill-rule="evenodd"/>
<path d="M1072.4,106.1l150,0 0,21.4-12.8,8.6-5.4,4.5-2.5,3-.7,1.5-.3,3 1.3,10.5 2.4,7.9 1.9,4.1 5.9,9 4.9,12 .2,3-.6,3-1.1,3-5.1,9-.6,3-.1,4.5 .9,6 1.8,6 8,18-148.1,0 0-66.4 6-4.5 3-2.9 9.2-10.2 5.8-9.4 6.5-5.6 3.8-4.5 3.5-3 1.2-1.5 .4-1.5-.4-1.6-3-1.3-7.6,1.5-6-.8-7.4-3.1-15-7.9 0-18.3zM1144.4,179.6l-1.6,3 0,3 1.6,2.6 1.4,.6 1.6-.5 .9-1.2 .7-1.5 .2-3-.4-1.6-1.4-2-1.6-.3-1.4,.9z" fill="#ff9831" fill-rule="evenodd"/>
<path d="M1072.4,106.1l150,0 0,18.2-22.2,14.8-2.3,3-.8,4.5 .5,4.5 1.6,4.5 3.6,13.8 1.6,3 6,8.7 4.3,10.5 .2,3-.7,3-6.2,12-.6,8.7 1,6.3 1.8,6 7,16.5-144.8,0 0-64.4 6-4.7 3-3 4.3-5.9 5.8-6 3.3-5.4 3-3.5 6.4-4.6 3.8-4.5 4.8-4.2 1.6-3.1 .1-1.7-1.7-2.5-3-1.2-12-.3-7.4-1.7-6-2.5-12-6.3 0-15.5zM1144.4,176.2l-1.6,1.7-1.3,3.2-.3,4.5 1.6,4.1 1.6,1.2 1.4,.4 1.6-.2 1.4-1.2 .7-1.3 1.2-4.5-.1-3-1-3-1.1-1.5-1.1-.9-1.6-.2-1.4,.7z" fill="#ff9123" fill-rule="evenodd"/>
<path d="M1072.4,106.1l150,0 0,15.1-24,15.1-3,3.5-.9,3.8 .6,7.5 2.6,6 3.4,13.5 1.7,3.6 6.8,9.9 2.8,9-1.1,4.5-5,10.5-1.2,10.5 .7,5.7 1.7,6.3 6.6,16.5-141.7,0 0-62.2 9-7.9 3.9-6.4 6-6 5.1-7.1 3-2.9 6-4.3 3-3.6 5.1-4.6 1.9-3 .8-3-.3-1.5-1-1.5-2.1-1.6-3-.9-12-1.2-6-1.2-7.4-3-12-6.3 0-12.8zM1145.8,172.1l-1.4,.4-2.1,2.6-1.8,4.5-.7,4.5 .2,3 1.4,3.4 1.4,1.6 3,1.2 1.6-.1 1.4-.9 1.6-1.9 1.6-7.8-.3-3-1.3-4-1.6-2-1.4-1.1-1.6-.4z" fill="#ff8a15" fill-rule="evenodd"/>
<path d="M1072.4,106.1l150,0 0,12.1-12,7.9-14.6,8.5-2.5,3-.8,3 .1,4.5 .8,6 3.1,7.5 3.3,13.5 6.9,12 1.5,4.5 .6,4.5-.3,3-5.1,18-.4,6 .9,6 1.6,6 5.6,15-138.7,0 0-59.9 9.9-9.1 4-7.5 6-6 4.1-5.6 9-7.4 9-8.8 2.3-3.7 .9-3-.2-1.5-1.6-2.5-3-2.2-15-2.6-6-1.5-7.4-3.2-12-6.4 0-10.1zM1144.4,168.5l-1.6,1.3-1.4,2.3-1.6,4.5-1.1,6 0,4.5 1.1,3.6 1.8,2.4 2.8,1.6 3,.2 3-1.9 1.4-2.9 1.1-6 0-4.5-1-4.5-1.5-3-3-3.2-1.6-.7-1.4,.3z" fill="#ff8206" fill-rule="evenodd"/>
<path d="M1072.4,106.1l150,0 0,9-13.6,9.1-15,8.5-1.4,1.4-1.3,2-.6,3 1.2,10.5 3.3,9 3.1,13.5 5.7,12 .9,3 .8,10.5-.2,3-2.2,9-2,6-.1,4.5 2.1,12 5.2,15-135.9,0 0-57.3 11.9-11.7 3.2-7.5 4.5-4.5 4.4-5.5 9-7.8 9.4-9.2 3.1-4.5 .9-3-.2-1.5-1.2-2.5-3-2.8-3-1.2-12-2.3-7.6-2.3-7.4-3.3-12-6.7 0-7.4zM1145.8,162.9l-1.4,.3-1.6,1.7-3,6-1.4,6.5-.9,6.7 .7,6 1.5,3 3.1,2.5 3,.9 3-.5 1.6-1 1.5-1.9 1.2-4.5 1-7.5-.4-4.5-1.5-4.5-3.4-5.8-1.4-2.2-1.6-1.2z" fill="#fe7b02" fill-rule="evenodd"/>
<path d="M1072.4,106.1l150,0 0,6-15.1,10.5-16,9-1.9,2.4-.9,3.6 .4,4.5 1.9,9 2.8,7.5 3.2,14.4 4.5,11.1 1.1,4.5 1.1,12-1.5,7.5-2.5,6-.4,6 1.7,12 4.7,15-133.1,0 0-54 4.8-6 9.2-9 .9-4.5 1.5-3 9-10.1 6-5 10.9-10.4 4.3-6 .9-3-1.1-3.5-1.4-2.3-2-1.7-3.5-1.5-15.5-4-10.6-4.5-13.4-7.8 0-4.7zM1145.8,137.5l-2,1.6-1.5,3-1.1,9 .2,9-3.4,12-1.6,12 .4,5.1 1.6,4.1 3,3 4.4,1.7 3-.4 1.6-.8 2-2.2 1.5-4.5 1.2-10.5-1.3-7.5-4-9-1.9-6 .1-4.5 2.2-9-.1-3-1.3-2.6-1.4-.7-1.6,.2z" fill="#fc7401" fill-rule="evenodd"/>
<path d="M1072.4,106.1l150,0 0,2.9-8.1,6.1-11.5,7.8-13.4,7.4-2.1,2.8-.8,3 .4,4.5 2.2,9 2.8,7.5 3.5,15.7 4.2,12.8 2.1,12 .2,3-.6,4.5-.8,3-2.8,6-.4,6 1.2,12 4.2,15-130.3,0 0-49.8 3.5-5.7 3.5-4.5 8.2-7.5 .9-1.5 .1-4.5 1.5-3 7.7-8.6 6-5 4.6-5 7.4-6.9 4.4-6 .9-3-1.7-4.5-2-2.8-1.6-1.3-3-1.3-12.9-3.6-9.5-4-18-10.6 0-1.9zM1145.9,134.5l-4.5,3.6-1.6,2.4-.3,1.6-1.7,9 1.2,10.5-2.3,10.5-1.3,12 .6,6 1.7,4.5 3.7,3.2 4.4,1.7 3-.4 1.6-.7 1.4-1 1.6-1.9 1.3-3.9 1.3-12-.8-7.5-2.9-7.5-1.7-7.5 .2-4.5 2.2-9-.3-4.5-.9-2.2-1.4-1.7-1.6-.8-2.9,.1z" fill="#f96e01" fill-rule="evenodd"/>
<path d="M1073.6,106.1l148.5,0-17.9,13.5-8.8,5.5-7.1,3.5-2.5,3-1.1,3 .2,4.5 3.4,12 2.5,6.7 2.6,12.8 4.3,15 2.5,12 .2,4.5-.4,3-1,3-2.5,4.5-.9,9 .9,12 3.5,13.5-127.6,0 0-43.8 6.9-13.2 3.7-4.5 6.6-6 .6-1.5-.3-4.5 1.5-3 7-7.5 5.4-4.5 5.2-6 6.8-6.1 5.7-7.4 .7-3-.9-3-1.7-3-2.2-2.8-1.6-1-11.7-3.7-9.3-3.8-9.5-5.2-11.7-7.5zM1145.8,132.6l-4.4,3.3-2.9,3.2-3.3,10.5-.1,3 1.8,6 .4,3-2.8,22.5 .8,7.5 1.5,3.7 4.6,4.1 4.4,1.6 4.6-1.1 3-2.2 1-1.6 1.3-4.5 1.3-12-.6-8.3-2.8-8.2-.9-6 0-3 2.4-10.5-.4-4.5-1.1-3-1.8-2.2-3-1.4-3,.1z" fill="#f76700" fill-rule="evenodd"/>
<path d="M1077.6,106.1l140.7,0-17.6,13.5-6.9,4.3-6.1,3.2-3,3-1.9,4.5 .4,4.5 6.6,19.5 1.9,10.5 7.3,30-.4,6-3.7,9-1.2,10.5 .7,10.5 2.8,12-124.8,0 0-36.4 3.6-7.1 4.1-10.5 3.8-6 6.5-6.5 .8-2.5 0-4.5 1.7-3 6.5-6.7 6-4.8 4.4-5.8 6-5.3 6.3-7.4 1.1-3 .1-1.5-1-3-2.7-4.5-2.2-2.5-3-1.6-7.6-2.3-9.4-4.1-8.3-4.5-11.5-7.5zM1145.8,131.2l-3.1,1.9-4.7,4.5-5.7,12-.3,1.5 3,7.5 .7,3-.1,4.5-2,18 1.1,9 2.1,4 3,2.9 3,1.9 3,.8 3-.6 3-1.5 1.9-1.5 2-3 1.1-4.5 1.1-13.5-.4-7.5-2.4-7.5-.6-4.5 1.1-10.5 1.3-6-.5-3-1.6-4-1.4-2-3-1.8-3-.4-1.6,.3zM1145.8,221.5l-1.4,.7-2.1,2.4-.9,2.2-.2,2.3 .5,1.5 1.1,1.4 3,1.3 3.2-1.2 1.4-1.6 .6-2.9-.6-2.6-1.6-2.3-1.4-1-1.6-.2z" fill="#f56000" fill-rule="evenodd"/>
<path d="M1081.4,106.1l133.3,0-15.1,12-14,9-2.8,3-1.8,4.5 .6,4.5 6.9,19.5 1.9,10.5 7.3,30-.4,6-4.1,10.5-1.6,10.5 .3,9 2.6,12-122.1,0 0-28.7 3.8-5.8 2.9-6 4.4-15 2.6-4.5 5.1-6 1-3 .4-4.5 .8-1.6 6-6.3 7.4-6 4.1-5.6 4.9-4.5 7-7.5 1-1.5 .7-3-.5-3-1.4-3-3-4.5-2.2-2.1-3-1.5-7.6-2.6-8.8-4.3-7.7-4.5-8.9-6zM1145.8,130l-4.4,2.8-3.5,3.3-7.9,12-.9,3 4.2,7.5 1.1,4.5 0,4.5-1.6,16.5 1,9.4 1.6,3.3 3,3.6 4.4,3.4 3,.8 3-.7 3-1.8 3-2.5 1.6-2.1 1.2-4.4 1.2-16.5-.5-9-1.8-4.5-.6-3 1.1-6-.2-6 1.5-4.5 0-3-2.1-6-2.4-3-3.4-1.7-4.6,.1zM1145.8,216.9l-3,1.8-2.3,2.9-2.6,4.5-.7,3 1.2,3 1.7,1.5 2.8,1.5 2.9,.6 3.1-.6 2.9-1.7 1.9-2.8 .3-3-1.1-4.5-1.7-3-2.4-2.3-3-.9z" fill="#f35800" fill-rule="evenodd"/>
<path d="M1085.1,106.1l126.2,0-12.8,10.5-14.9,10.5-3.6,4.5-.9,3 1,4.5 3.8,9 3.4,10.5 1.4,9 4.2,19.5 3.5,12-.4,6-4.7,12-2.2,10.5 .4,9 2.1,10.5-119.2,0 0-21.1 7.6-10.4 4.1-7.5 1-4.5 .2-7.5 .8-4.5 1.3-3 4.9-7.5 1.7-7.5 3.8-4.6 10-7.4 4-6 8.6-9.2 4.4-3.4 1.2-2.4-.1-3-1.4-4.5-3.8-6-1.9-2.2-3-1.9-8.6-3.4-5.9-3-7.5-4.5-8.7-6zM1147.4,128.6l-3,.9-4.6,3.1-10.1,11-1.9,3.1-.6,4.4 .6,1.9 3.8,5.6 1.5,4.5 .2,7.5-1.4,13.5 .4,6 .9,4.5 2.2,4.1 3,3.8 4.4,4 1.6,1 1.4,.2 3-1.3 4.6-3.8 3-2.9 1.3-2.1 1-4.5 1.1-15-.2-10.5-2.5-7.5 .3-3 1.2-3-.7-6 1.8-4.5 0-3-2.1-6-2.8-4-3-1.6-4.4-.4zM1144.4,213.3l-3,2.8-7.1,10-1.4,3 0,1.5 .7,1.5 1.5,1.5 2.6,1.5 5.1,1.7 4.6,.3 4.4-1.2 3.5-2.3 1.3-3-.1-3-1.7-6.8-2.2-3.7-2.2-2.2-3-2-1.6-.2-1.4,.6z" fill="#f05100" fill-rule="evenodd"/>
<path d="M1088.5,106.1l119.4,0-10.5,9-15.9,12-2.7,3-1.5,3 .1,3 5.3,12 3.3,10.5 1.4,9 2.4,10.5 1.5,9 3.3,10.5 .6,3-.3,3-1.1,4.5-4.9,10.5-2.4,9 .1,7.5 2.1,12-116.3,0 0-13.3 16.6-21.2 2.5-4.5 .2-3-2.8-9-.2-4.5 .8-3 3.3-6 2-7.7 1.6-2.4 3-2.8 9-5.1 1.4-1.6 3.4-5.9 5.6-7.1 3-2.7 1.6-.4 1.4,.4 .5,.8 1.1,4.5 4.4,7.5 1.3,4.5 .4,6-1.4,13.5 1.1,10.5 1.6,3.8 5.6,8.2 1.3,3-.5,3-3.6,6-2.8,3.6-5.1,5.4-1,3 .4,1.5 2.7,2.8 3.9,1.7 5.1,1.2 6,.6 6-.6 4-1.2 2.1-1.5 1.4-3-.1-3-2.2-10.5-5.6-7.5-.5-1.5 .2-1.5 1.7-3 5.6-6 1-3 .4-3 .8-13.5 .1-12-2.6-7.5 .4-3 1.3-3-1.1-6 .4-1.5 1.8-3 .2-1.5-.6-3-2.7-7.2-1.4-1.9-3-1.9-3-.8-4.6,.5-6.5,3.8-6.9,7.2-1.6,.7-1.4,0-1.6-1.3-3-6.6-5.4-7.5-3.6-2.2-8.6-3.8-5.4-3-13.3-9z" fill="#ee4a00" fill-rule="evenodd"/>
<path d="M1091.8,106.1l112.9,0-10.1,9-15.3,12-2.9,3-1.3,3 .4,3 6.1,12 3.3,10.5 1.2,9 2.7,12 1.2,9 3.7,12-.5,4.5-1.2,4.5-6.2,10.5-2.2,6-.1,7.5 2,13.5-113.1,0 0-5.4 8.4-9.6 15.6-19.5 1-4.5-.4-3-5-10.5-.7-4.5 .7-3 2.2-4.5 .8-4.5 1.3-3 1.5-1.8 3-2.4 10.3-4.8 2.7-6 5-7.5 2.8-3 1.8-.5 1.4,1.2 1.1,3.8 3.5,6 1.4,4.1 .8,6.4-1.4,12 .6,10.5 1.4,4.5 4.5,9 .9,3-.1,1.5-1.1,3-4,6-3,2.3-6,3.5-1.6,1.7-.6,1.5 .4,3 2.3,3 3.9,2.3 4.6,1.2 7.4,.8 12,0 6-.9 3.5-1.9 1.2-3-.1-3-1.9-6-.4-7.5-.8-1.5-4.5-4.8-.9-2.7 1-3 4.5-4.8 1-2.7 .4-3.3 .8-16.2-.1-10.5-2.2-6-.3-3 1.9-4.5-1.4-6 .3-1.5 1.9-3 .4-3-2.6-9-1.7-2.2-3-2.3-3-.9-4.4,0-3,.9-6,3.7-4.6,5.1-1.4,1-1.6,.3-1.4-.5-7.2-11.1-1.8-2.1-3-2-12.6-6.4-13-9z" fill="#eb4200" fill-rule="evenodd"/>
<path d="M1095,106.1l106.6,0-11.5,10.5-15.1,12-1.2,1.5-1,3 .6,3 4,5.7 3.1,6.3 3.2,10.5 1.2,9 2.6,12 1.7,13.5 2.3,7.5-.3,6-.8,3-8.1,10.5-2.2,6 .4,12 1.3,9-106.8,0 14-15 9.2-13.5 1.6-3 .7-6-.4-4.5-2.4-6-3-6-.9-3 0-1.5 2-6 .6-4.5 1.4-2.1 3-2.5 9.6-4.4 2.4-1.5 1-1.5 2.2-6 5.2-7.5 2.2-1.3 1.7,4.3 3.5,6 1.4,4.5 .6,4.5-1.3,10.5 .5,12 .5,3 3.6,10.5 .6,3-.7,3-3,4.8-3,2.1-7.4,3.4-3.5,3.2-1.8,3-.3,1.5 .6,3 2.4,3 4,2.5 4.6,1.5 6,.6 13.4-.7 9,.7 4.6-.2 3-.8 1.4-1 .9-1.1 .9-3-.1-4.5-2-6 .4-6-.3-3-1.2-1.9-4.4-4.1-.9-1.5-.2-1.5 4.1-6 1-6 .5-18-.3-9-2.1-6-.3-3 1.6-4.5-1.3-6 .4-1.5 2-3 .7-3-1.2-7.5-1.2-3-2.9-3-3.1-1.7-3-.7-4.4,.2-3,.9-6,3.1-5.8,5.7-1.8,.2-1.4-.9-6.7-9.8-1.5-1.5-13.6-7.5-12.6-9z" fill="#e83b00" fill-rule="evenodd"/>
<path d="M1098.1,106.1l100.5,0-15.2,14.1-10.2,6.9-2.8,3-.5,1.5 .3,3 5.6,6.8 3.7,6.7 3.2,10.5 1.1,9 2.8,15 .7,10.5-.8,6 2.1,6-.2,3-.8,1.5-8.2,7.5-1.4,1.5-1.5,3-1,6 .2,12 .3,3 1.3,4.5-93.4,0 12.5-10 6-3.5 1.4,0 5.4,4.5 5.2,3 4.4,1.5 6,1.1 7.6-.1 13.4-1.9 10.6,1.7 6,.1 4.4-1.6 2.1-2.3 .3-1.5 0-9-.7-4.5-.1-7.5-1.4-3-5-6-.5-1.5 1.7-9 .2-21-.8-10.5-2.1-6 .3-3 1.2-3-1.3-6 .4-1.5 2.1-3 1.4-4.5 .3-6-1-3-2.7-3-3.4-2.2-4.4-1.6-3-.2-4.9,1-8.3,3-4.8,3.8-1.6,.1-3-2.8-4.3-5.6-15.4-9-10-7.5zM1121,157.1l.8-.7 1.6,.3 2.7,3.4 1.7,3.4 1.5,5.6 .1,3-.9,6-.2,4.5 .5,12 1.6,9-.1,6-1.1,3-2.8,3-7.6,4.1-10.4,7.8-3,1.3-1.6-1.2-.6-3 .1-10.5-.6-7.5-1.9-6.2-3.5-8.8-.5-3 .2-1.5 2-7.5 1-1.5 3.5-3 7.9-4.3 2.3-1.7 1.2-1.5 3.1-7.5 3-3z" fill="#e63300" fill-rule="evenodd"/>
<path d="M1101.1,106.1l94.6,0-9.1,9-6.2,5.4-4.6,2.6-7.4,3.2-3-.2-8.2-3.5-5.4-1-15,3-4.4,1.8-1.6,.1-1.4-.8-3-3.3-13.3-7.3-12-9zM1166.5,139.1l1.9-1.3 1.4,.3 3,1.8 3,3.3 2.7,4.9 1.7,4.5 1.7,7.5 1,9 2,10.5 .7,12-2,9 .5,6-.7,1.5-1.6,1.7-4.4,1.9-4.6,.2-3-1.1-3.2-2.7-1.2-2-.7-2.5-.6-15 .2-13.5-1.1-9-1.9-6 .1-3 1.2-3-1.3-6 .3-1.5 4.9-7.5zM1120.5,160.1l1.3-.6 1.6,.4 1.4,1.5 1.8,3.2 1.3,4.5 .1,3-.8,7.5 .4,9-.1,13.5-2.7,7.3-2.4,3.2-6.6,4.3-4.4,1.5-1.6-.3-1.4-1.2-1.6-2.7-1.7-7.6-4.7-15-.2-3 1.2-3 2.5-3 .7-3 1.6-3 6.6-4.5 3-2.8 3-7 1.7-2.2zM1140.8,244.1l5-.9 12,2.9 6.9,1-67.1,0 3.2-.9 4.6-.4 13.4,1.1 7.6-.1 6-.8 8.4-1.9z" fill="#e32c00" fill-rule="evenodd"/>
<path d="M1104.1,106.1l88.6,0-12,12-3.3,2.2-4.6,1.8-6,.9-10.4-2.5-4.6-.4-19.4,3.7-1.6-.2-4.4-3.1-5.5-2.4-5.1-3-11.7-9zM1167.7,140.6l2.1-.5 3,1.4 1.6,1.4 1.6,2.2 2.7,6 2.1,9 .8,9 2.2,12 .4,6-.2,4.5-3.3,12-1.9,2.8-3,1.3-4.4-.5-3-2.4-1.6-3.8-1.5-9.4-.3-4.5 .3-12-1.8-10.5-1.5-4.5-.1-3 1.3-3 0-1.5-1.3-4.5 .5-1.7 4.4-5.3 .9-.5zM1121.7,163.1l1.7,.6 1.4,2.4 1.4,4.5-.4,9 .8,9-.9,9-1.6,4.5-3.7,5.2-4.6,3.6-3,.8-1.4-.3-1.6-1.8-6.1-16.5-.4-4.5 4.7-10.5 7.9-6 2.4-3 2.1-4.2 1.3-1.8zM1142.8,245.6l4.6-.3 5.5,1.8-15.1,0 5-1.5z" fill="#e02400" fill-rule="evenodd"/>
<path d="M1107,106.1l82.8,0-9.4,9.8-3,2.2-3,1.4-3,.6-4.6,.3-10.4-1.8-4.6,0-19.4,3.3-1.6-.4-4.4-2.7-4.6-1.8-3.3-1.9-11.5-9zM1168,142.1l1.8-.4 1.6,.5 3,2.3 3.8,8.1 1.6,9 .7,9 2,12 0,7.5-2.1,8-1.6,3.2-1.4,1.8-3,1.2-3-1-1.6-1.6-1.4-3.4-1.6-5.5-.8-5.7 .5-9-.2-4.5-3.8-15 1.3-6-1.3-4.5 .4-1.5 3.9-3.9 1.2-.6zM1119.7,172.1l2.1-1.5 1.6,1.7 2,14.8-.6,5.5-1.4,4.7-1.6,2.1-4.4,3-3,.2-3-2.2-3-4.6-2.2-4.2-.4-3 2.6-7.1 1.4-2.4 9.9-7z" fill="#dd1d00" fill-rule="evenodd"/>
<path d="M1110,106.1l76.8,0-8,8.3-3,2.1-3,1-6,.4-9-1.1-4.4,0-7.6,1.4-7.4,.4-6,1.2-10.9-4.7-4.4-3-7.1-6zM1167.8,143.6l2-.4 1.6,.4 1.9,1.5 1.2,1.5 2.9,6.9 1.3,9.6 .3,7.5 1.8,10.5 .4,6-1.2,6-1.2,3.4-1.4,2.3-1.6,1.3-1.4,.4-1.6-.4-1.4-1.5-1.6-2.5-2.1-6-.6-3 .7-9-.3-4.5-2.1-6.5-2.1-8.5 0-1.5 1.3-3 .1-1.5-1.5-4.5 .4-1.5 4.2-3zM1116.4,178.1l2.4-.6 1.7,.6 1.3,1.7 1.2,2.8 .9,4.5-.5,4.2-1.6,3.4-1.4,1.3-3,.9-3-.8-3-2.4-1.9-2.1-1.2-3 .5-3 2.1-4.5 1.9-1.6 3.6-1.4z" fill="#da1700" fill-rule="evenodd"/>
<path d="M1113.2,106.1l70.3,0-6.1,6.3-3,1.9-2.5,.8-5.1,.4-12-1-9,1.6-7.4-.1-6,.8-9.6-3.2-4.4-3-5.2-4.5zM1167.3,145.1l2.5-.3 1.6,.5 1.4,1.3 1.6,3.2 1.8,5.8 .9,15 1.7,9.7 .5,5.3-.5,3.6-1.4,4.1-1.6,1.8-1.4,.5-1.6-.6-1.4-1.5-2.4-4.9-.3-3 .7-7.5-.2-4.5-3-7.5-2-7.5-.1-1.5 1.3-3 .2-1.5-1.5-4.5 .7-1.5 2.5-1.5zM1113.4,182.6l2.4-1.1 1.6-.2 1.4,.4 2.2,2.4 .8,2.7 0,1.8-1.4,3-1.6,1-1.4,.2-3-1-2-1.7-.8-1.5-.1-3 1.9-3z" fill="#d71000" fill-rule="evenodd"/>
<path d="M1116.7,106.1l63.1,0-4,3.7-4.5,2.3-7.5,.6-7.4-1.2-3-.1-6,2-7.6-1-7.4,.7-4.6-.4-5.4-2.1-5.7-4.5zM1167.9,146.6l1.9,.2 1.7,1.3 2.6,10.5-1,15 1.3,1.4 1.4,3.8 .7,5.3-.7,3.8-1.4,1.6-1.6-.2-.5-.7-.9-1.5-.2-1.5 1.5-10.5-.2-3-4.1-5.4-2.9-8.1 .1-1.5 1.5-3 .1-1.5-1.4-4.5 2.1-1.5z" fill="#d40a00" fill-rule="evenodd"/>
</g>
<path d="M1222.4,138.9l-5,3.6-7.9,6.6-1.3,2-.3,2 .5,2.8 1,2.2 2,2.3 3.6,2.7 2,3 2.1,5 3.3,9.4M1072.4,174.6l5-2.8 5-3.4 6-6.8 1.4-2.5 .6-3 .2-3-.2-2.3-1-2.4-4.8-5.3-5.2-4.6-7-4.4M1222.4,207.7l-1.7,5.4-.3,4 .6,5 1.4,4.8M1222.4,121l-24.1,15.1-1.9,1.8-.9,1.2-.8,2-.3,2 .5,8 3,7 3.2,13 2.3,4.1 6.1,8.9 2.8,9-.3,2-.7,2-5.1,11-1.1,7-.2,3 .6,5 1.7,7 2.9,8 3.8,9M1145.4,171.9l-2,1.3-2,3.5-1.4,4.4-.3,4 .7,3.6 1.3,2.4 1,1 1.6,1 2.1,.3 2-.6 1-.7 1-1.5 1.2-4.5 .5-4-.6-4-1.3-3-.8-1.2-2-1.6-2-.4M1072.4,185l9-7.9 1.4-2 2.9-5 5.7-5.5 4-5.8 2-2.3 8-6.1 3-3.6 5.3-4.7 1.8-3 .9-3-.2-1-1.2-2-2.8-2-3.8-.8-12-1.2-5-1.2-8-3.4-11-5.8M1220.9,106.1l-10.1,8-8.4,6-7,4.4-7.3,3.6-1.1,1-1.5,2-1,2-.4,2-.1,2 .6,3 3.7,12 2.3,6 2.5,13 4.4,16 2.4,11 .1,3-.3,3-.8,3-2.5,4.8-.4,1.2-.7,4-.3,5 .2,6 .7,6 1.2,6 2,7M1146.4,131.9l-1,.4-2.6,1.8-4.2,4-.9,2-3.6,11 .2,2 2.1,6 .4,3-.4,4-.9,5-1.2,12 0,4 .8,5 1.2,3.1 3.1,3.2 4,2.5 3,.6 2-.3 3-1.4 2-1.5 1.4-2.2 1.2-4 1.3-13-.6-8-2.6-8-.8-6 0-3 2.4-11-.3-3.7-1.2-3.3-1.8-2.5-3-1.5-3-.2M1072.4,205.4l5.4-11.3 2.2-4 3.2-4 5.2-4.5 2-2.4 0-6.1 1.1-2 7.4-8 6.5-5.4 4-5 6.3-5.6 5.7-7 .9-2 .2-2-.4-2-1.7-3.3-2-2.8-2-1.7-3-1.4-9-2.6-9.7-4.2-9-5-10.8-7M1203,106.1l-10,9-16.3,13-1.7,2-1.1,3 .1,2 .3,1 3.1,4.7 3.6,7.3 3.1,10 .7,3 .5,6 2.7,12 1.4,11 1.3,5 1.9,5-.2,4.6-.9,4.4-6.9,10-2,4-.9,3-.3,3 .4,5 .8,8 .9,5M1072.4,246.1l11.9-13 10.2-14 3-3 .9-1.6 .7-4.4 .1-4-2.8-7.1-3.2-5.9-.6-3 .2-2 2-5 .6-4 1-2.4 2-2.5 3-2.2 3-1.6 6-2.3 2-1.3 .9-1.7 1.2-4 1.1-2 1.8-2.2 3-4.8 2-1.7 1-.2 1.1,.9 1.1,4 3.4,6 1.4,4 .7,6-1.4,10 .6,12 .9,4 4.6,11 .2,2-.4,2-1,2-3.3,5-2.9,1.9-7,3.1-2.1,2-1.7,3-.1,2 .8,2 2.7,3 2.4,1.6 2,.9 5,1.2 6,.4 9-.1 9,.2 5-.6 2-.7 1.3-.9 1.2-2 .4-2-.1-3-2.3-7 .4-6-.3-2-1.3-2-4.3-4-1-2-.1-1 1-2 2.9-3 1.2-1.8 .6-2.2 .4-3 .7-17-.2-11-2-5-.5-3 .4-2 1.4-3-1.1-4-.3-2 .7-2 1.9-3 .3-2-1.6-8-.8-2-2.4-3-3.3-2-3.2-.8-4,.2-4,1.4-5,2.9-2,1.8-3,3.7-2,.7-1-.2-1-.5-1-1.2-2.3-4-3.7-5.4-1.5-1.6-2.5-1.7-12-6.3-6.1-4-6.7-5M1187.4,106.1l-4.5,5-3.5,3.5-3,2.2-3,1.1-3,.5-3,0-10-1.2-4-.1-8,1.5-7.1,.5-5.9,1.2-5-2.4-4.8-1.8-1.8-1-5.6-4-5.8-5M1168.2,143.1l1.2-.2 2,.4 2.3,1.8 1.3,2 2.5,6 .5,2 1,8 .4,8 2,11.8 0,6.2-2,7.4-2,3.2-1.9,1.4-1.1,.3-2-.7-2-2.6-2-4.6-1-3.3-.6-3.1 .7-8-.2-5-.7-3-1.4-4-2.2-9 0-1 1-2 .5-2-1.5-5 .1-1 2.3-2.3 2.8-1.7M1117.3,177.1l2.1-.5 1,.1 1,.9 2,4.8 .9,4.7-.5,4-1.4,3.8-2,2-3,.9-2-.2-1-.5-4-3.4-2-2.6-.7-3 .7-2.7 2-4.4 2.2-1.9 4.7-2" fill="none" stroke="#383838" stroke-width="1.1" stroke-opacity="0.85"/>
</g>
<path d="M1073.70,176.25a73.35,68.50 0 1,0 146.70,0a73.35,68.50 0 1,0 -146.70,0zM1077.00,176.25a70.05,65.80 0 1,0 140.10,0a70.05,65.80 0 1,0 -140.10,0z" fill="#000" fill-rule="evenodd"/>
<path d="M1134.5,110.5L1141.1,102.3M1153.0,102.3L1159.6,110.5" fill="none" stroke="#000" stroke-width="3.6" stroke-linecap="butt"/>
<path d="M1077.7,162.2C1075.3,160.4 1070.0,160.3 1069.8,168.0C1069.6,174.2 1069.3,182.7 1069.0,186.9C1068.8,195.8 1075.4,195.8 1078.7,193.5" fill="none" stroke="#000" stroke-width="3.1" stroke-linecap="butt" stroke-linejoin="round"/>
<path d="M1216.4,162.2C1218.8,160.4 1224.1,160.3 1224.3,168.0C1224.5,174.2 1224.8,182.7 1225.1,186.9C1225.3,195.8 1218.7,195.8 1215.4,193.5" fill="none" stroke="#000" stroke-width="3.1" stroke-linecap="butt" stroke-linejoin="round"/></g>
<g id="gamma_nr"><clipPath id="c_gamma_nr"><ellipse cx="1427.45" cy="177.25" rx="74.2" ry="69.65"/></clipPath>
<g clip-path="url(#c_gamma_nr)">
<g filter="url(#blur)">
<rect x="1350" y="104" width="155" height="146" fill="#ffe1c2"/>
<path d="M1352.8,107.1l150,0 0,141-150,0 0-141zM1420.2,150.4l-2,1.7-1.5,3-.3,3 .8,2.8 1.6,1.8 3,1.8 3,.4 1.4-.5 3-2.2 1.7-2.6 .8-3-.8-3-1.4-1.5-1.7-.6-4.6-1.4-1.4-.2-1.6,.5z" fill="#ffd9b2" fill-rule="evenodd"/>
<path d="M1352.8,107.1l150,0 0,141-150,0 0-141zM1420.2,148.7l-3,2.7-1.1,2.2-.8,4.5 .5,2.9 1.4,2.5 4.6,3.6 1.4,.8 3,0 3-2.1 3.9-6.2 .6-3-.5-3-1-2.4-1.4-1.8-1.6-.5-3,.5-3-1.4-3,.7zM1453.2,201.5l-.7,3.1 .7,.5 2.4-.5 .9-1.5-.3-1.6-1.4-1.1-1.6,1.1z" fill="#ffd1a2" fill-rule="evenodd"/>
<path d="M1352.8,107.1l150,0 0,141-150,0 0-141zM1421.8,146l-4.6,3.9-1.4,2.1-1.5,4.6-.1,3 1.4,4.5 2.4,3 2.7,4.5 1.6,1.5 2.5,.3 3.9-1.8 2.8-3 3.8-7.5 .3-4.5-1.8-6.8-1.6-2.7-1-1-3.4-1.3-3,.2-3,1zM1454.8,191.9l-3,4.7-3.2,8 .2,3 1.4,1.1 11-1.1 0-3-2-5.7-3-6.1-1.4-.9z" fill="#ffc993" fill-rule="evenodd"/>
<path d="M1352.8,107.1l150,0 0,141-150,0 0-141zM1426.2,143.1l-4.4,1.1-4.6,4.4-2.4,3.5-1.4,4.5-.3,4.5 .6,3 3.7,10.5 1.4,1.9 1.4,.8 3-.1 6-2.6 3.8-3 6.1-6 .5-1.5-3-10.5-2.8-7.1-3-2.5-2.8-.9-1.8,0zM1453.2,185.8l-1.3,2.3-2,7.5-3.5,9-.2,3 1,1.6 3,1.3 6-.6 4.6,1 3-.2 1.2-1.6 0-1.5-3.6-9-3.3-10.5-1.9-2.3-1.4-.6-1.6,.6z" fill="#ffc083" fill-rule="evenodd"/>
<path d="M1352.8,107.1l150,0 0,141-150,0 0-141zM1409.8,203.1l-1.6,.3-.8,1.2 .2,1.5 .6,.7 1.6,.3 1.3-1 .2-1.5-1.5-1.5zM1421.8,143l-7.1,7.6-2.2,6-.6,4.5 .9,6.9 2,8.1 2.3,3 3.1,1.1 7.6-2.6 10.4-6.9 5.7-2.1 1.4-1.5 0-1.5-5.5-7.6-4.3-10.4-1.7-2.9-3-1.9-3-.8-6,1zM1453.2,181.7l-1.4,.6-.8,1.3-2.8,12-2.4,6.2-3,5.8 .7,1.5 1.9,1.5 3.4,1.3 7.4-.5 6,1.6 4.6-.3 .9-.6 .5-1.2 0-1.8-5-10.5-3.3-12-2.1-3.2-1.6-1.1-3-.6zM1481.7,210.4l-2.1,1.7 .6,1.1 1.6,.6 2.6-1.7 .1-1.5-2.8-.2z" fill="#ffb871" fill-rule="evenodd"/>
<path d="M1352.8,107.1l150,0 0,141-150,0 0-141zM1406.8,201.5l-1.5,1.6-.6,1.5 .1,1.5 .6,1.5 2.8,1.9 1.6,.1 1.7-.5 1.7-1.5 .6-1.5-.7-3-1.3-1.5-2-.9-3,.8zM1424.8,141.4l-3,.7-1.6,.9-5.3,6.1-2.3,4.5-1.7,6 0,9 1.3,7.5 1.5,3 1.5,1.5 3.6,1.4 3-.4 6-2.5 12-6.1 5.9-1.1 1.5-1.8 .5-1.5 .1-1.5-.6-2.3-6.7-8.2-5.8-12-1.7-1.5-3.1-1.5-2.1-.4-3,.2zM1450.2,178.5l-.6,.6-.8,2.4-1.1,11.1-1.4,4.5-2.1,4.3-1.4,1.9-1.6,.8-6,.4-1.4,.9-1.1,.7-1,1.5 .5,1.9 1.6,1.3 3,1 6,.4 6,1.3 7.4-.6 9.1,2.2 2.9,0 3.3-1.5 1.3-1.2 1.3-.3-5.9-7.1-2.1-3.4-1.8-4.5-2.1-9.3-1.8-4.2-1.2-1.5-3-2.1-4.4-1.6-1.6,.1zM1480.2,208.8l-4.7,1.8-1.2,1.5 4.5,3.4 3,.5 1.4-.3 3-2.4 .6-2.7-.6-1-1.4-.9-4.6,.1z" fill="#ffaf5f" fill-rule="evenodd"/>
<path d="M1352.8,107.1l150,0 0,141-150,0 0-141zM1406.8,199.6l-3,2-1.1,1.5-.4,3 .5,1.5 1.1,1.5 2.9,1.8 3,.5 3-.8 1.9-1.5 1-1.5 .3-1.5-.8-3-2.4-2.9-1.6-.8-1.4-.3-3,.5zM1421.8,141.3l-2.5,1.8-5.2,6-1.6,3-2.2,6-.8,4.5-.2,7.5 .6,6 1.1,3 3.2,3.4 1.6,.7 3,.4 3-.7 15-6.5 4.4-.8 1.8,.5 2,1.5 1.6,4.5 .1,9-.6,3-1.9,4.6-1.4,2.2-1.6,1.2-7.4,1.6-4,2.4-.8,1.5 0,1.5 1.6,3 3.2,2.1 3,.6 12,.3 6-.6 9,2 9,0 9,1.7 3-.8 1.4-1 1.6-2.1 .4-2.2-.2-1.5-1.8-2.4-3-1-9-.1-3-1.5-3-3.1-1.9-3.9-2.3-10.5-1.6-4.5-3.2-3.5-8.3-5.5-1.3-3-.8-6.5-6.9-8.5-6.7-12.5-3-2.3-3-1.1-3-.1-4.4,.7z" fill="#ffa64d" fill-rule="evenodd"/>
<path d="M1352.8,107.1l150,0 0,141-150,0 0-141zM1405.2,198.6l-2.8,1.5-1.6,1.5-1.3,3 .5,3 2.2,2.6 4.6,2.3 4.4,.4 3-1.1 3.4-2.7 .9-1.5-.2-3-4.1-5.3-1.4-1.1-3-.7-4.6,1.1zM1424.8,140.1l-3,.6-1.8,.9-6.6,7.5-1.6,3-2.4,6-1.1,4.5-.6,13.5 .6,3 1.9,3 2.6,2 3,1.1 4.4-.5 7.6-3.4 9-3.1 3-.3 1.4,.4 1.6,.9 1.1,1.4 1.5,4.5 .3,4.5-.7,4.5-1.2,3-2.3,3-1.7,1.1-8,1.9-3.2,1.5-1.8,1.5-.8,1.5 .1,1.5 2.5,4.5 3.5,3 3.1,1 19.6-1.3 9,1.6 9,.7 9,1.8 3-.5 2.8-1.8 1.6-2.8 .3-1.7-.5-3-.8-1.5-2-1.8-3-1.3-7.4-.7-3-.9-3.5-2.8-2.1-4.5-1.9-10.5-1.5-3.8-3-3.3-6-3.9-2.5-2.5-2.9-9-7.3-9-5.6-10.5-2.7-2.6-3-1.5-3-.6-3,.2z" fill="#ff9e3c" fill-rule="evenodd"/>
<path d="M1352.8,107.1l150,0 0,141-150,0 0-141zM1421.8,140.1l-3,1.8-6,7.2-4.3,9-1.9,7.5-1.2,12 .4,3 2.2,3 1.8,1.5 3,1.7 3,.5 3-.7 7.4-3.7 6-2.1 4.6-1 3,.1 1.4,.7 1.5,1.5 1.2,3 .7,4.5-.7,4.5-1.3,3-2.8,2.8-16.6,4.3-1.4-.3-1.6-1-6-6-1.4-.9-3-.2-6,1.5-4.6,2.2-2.7,3.6-.3,3 1.5,3 1.5,1.5 3,1.8 3.2,1.2 4.4,.8 4.4-.6 4.6-2.5 3-.9 2.5,1.7 4.9,6.1 2.3,1.4 2.3,.7 3,.1 7.4-1.2 10.6-1 15,1.5 10.4,2.7 4.6-.2 3-1.3 2.4-2.8 .8-3-.4-3-1.4-3-1.4-1.6-3-2-3-1.1-7.6-1.3-2.9-1.5-1.4-1.5-1.5-4.5-1.4-9-1.7-4.5-2.7-3-6.4-4-2.1-2-1.5-3-2.2-6-7.2-9-6.4-11.1-2.6-2.4-3.4-1.7-4.6-.5-4.4,.7z" fill="#ff962c" fill-rule="evenodd"/>
<path d="M1352.8,107.1l150,0 0,141-150,0 0-141zM1421.8,139.5l-3.5,2.1-6.2,7.5-1.7,3-4.5,10.5-1.7,10.5-2,6-.1,3 .7,1.5 6,4.5 3.1,3-.9,1.5-2.6,1.5-3.2,.9-6,.8-3,1.5-2.8,2.8-2.2,3-.9,3 .2,1.5 1.3,1.5 4.9,3 3.8,1.5 7.7,2 6,.1 6-2.2 1.6,.1 1.4,1.3 4.6,5.9 4.4,2.2 4.6,.1 7.4-1.8 10.6-1.2 13.4,.8 9,3 4.6,.8 4.4-.5 3.2-1.6 2.5-3 .8-3-.3-3-1.3-3-2.3-3-4-3.2-3-1.4-7.6-1.7-3-2-1.2-3.7-1.6-10.5-1.6-4.1-3-2.9-6-3.4-2-1.6-1.9-3-2.4-6-7.3-9-7.4-12-3-2.4-3-1.4-4.6-.4-4.4,.6zM1431.8,182.1l3.4-.7 3,0 1.9,.7 1.5,1.5 1.4,3 .5,4.5-.6,3-1.6,3-3.1,2.3-7.4,1.7-6.1,.5-2.9-.7-1.6-.8-1.7-1.5-3.3-4.5-.9-1.5 .3-1.5 10.2-6.5 7-2.5z" fill="#ff8e1d" fill-rule="evenodd"/>
<path d="M1352.8,107.1l150,0 0,141-150,0 0-141zM1424.8,138.4l-3,.5-3,1.6-6.2,7.1-3,4.5-5,10.5-1.2,7.5-1.2,3.6-4.7,6.9-3,9-8.6,12-2.5,4.5-.7,4.5 1.5,3 2.6,1.5 2,.4 9-.5 13.4,2.5 9-.1 5.2,5.2 2.1,1.5 3.3,1.3 3,.5 4.4-.4 9-2.5 7.6-.9 13.4,.5 9,3.4 4.6,.9 4.4-.3 4.6-2 2.9-3.5 .9-3-.7-4.5-2.7-4.5-4.9-4.7-3.1-2.3-7.4-2.4-3-2-1.2-3.6-1.3-9-1.4-4.5-2.7-3-7-3.3-3-2.4-3.6-7.8-8.4-10.5-6.7-10.5-2.3-2.1-3-1.7-3-.8-4.4-.1zM1429.7,183.6l4.1-.8 3,0 3,1.2 1.4,2 1.2,3.6-.1,3-1.2,3-2.9,2.7-6,1.5-6,0-4.4-1.5-2.5-2.7-.7-3 1.6-3 4.6-3.9 4.9-2.1z" fill="#ff860d" fill-rule="evenodd"/>
<path d="M1352.8,107.1l150,0 0,141-150,0 0-141zM1421.7,138.4l-2.9,1.4-1.6,1.4-7.4,9.4-6.6,12-1.3,7.5-1.1,2.8-8.1,9.2-6.4,12-6.3,10.5-1.4,3-.4,3 .8,3 1,1.5 2.8,2.3 4.4,1.4 4.6-.1 4.4-1.4 4.6-.4 16.4,3 3.1,1.5 3,2.7 2.9,1.9 4.6,1.7 3,.6 4.4-.3 10.6-3.1 6-.8 12,.3 10.4,3.8 6,1 6-.9 4.5-2.7 2.2-3 .8-3-.1-3-.9-3-3.3-4.5-9.2-8.8-7.3-3.2-1.4-1.5-1-3-1.7-10.5-2-4.4-2.2-1.6-6.8-2.5-3.3-2-4.8-9-7.5-9-5.9-9-2.6-3-2.9-2.1-3-1.2-4.6-.4-4.5,.5zM1427.8,185.1l6-1.1 3,.3 1.6,.8 1.5,1.5 1.3,3.1 .1,2.9-1.5,3.2-3,2.1-4.6,1-4.4-.4-4.6-2-1.8-2.4 .1-3 1.9-3 1.7-1.5 2.7-1.5z" fill="#fe7e02" fill-rule="evenodd"/>
<path d="M1352.8,107.1l150,0 0,141-150,0 0-141zM1420.2,138.4l-3,2-8.2,10.2-7.5,12-1.2,7.5-.7,1.5-7.8,7.4-2.5,3.1-6.9,13.5-5.6,9-1.5,3-.4,3 .7,3 1.8,3 3.8,3 6,1.4 4.6-.1 6-2.2 3-.4 6,.8 10.4,3 7.1,5 4.9,2.1 4.6,1.1 6-.3 10.4-3.2 6-.7 9,.5 12.1,3.9 5.9,.9 6-.5 3-1.1 3-1.9 2.2-2.3 1.5-3 .4-4.5-.8-3-3-4.5-6.8-6-3.9-5.9-1.6-1.3-4.4-1.8-1.8-1.5-1.4-3-2.2-12-1.5-3-3.7-2.2-7.4-1.7-1.5-.6-1.5-1.5-3.9-7.5-8.1-9.6-7-9.9-3.1-3-3.5-1.9-3-.7-6,.1-3,.8zM1426.8,186.6l2.4-.9 3.1-.5 4.5,.7 1.4,1.1 1.8,2.6 .3,1.5-.7,3-1,1.5-1.8,1.3-3,.9-4.6-.2-3-1.4-2.3-2.1-.6-1.5 0-1.5 1.7-3 1.8-1.5z" fill="#fc7601" fill-rule="evenodd"/>
<path d="M1352.8,107.1l150,0 0,141-150,0 0-141zM1423.2,137l-3,.8-3,1.9-6.7,7.9-10,13.5-1.2,3-.6,4.5-.9,2.2-7.6,6.6-3,3.8-6.4,12.9-6.7,10.5-1.4,3-.5,3 .5,3 2.5,4.3 4.6,3.3 6,1.3 6-.1 6-2.2 3-.6 6,.7 9,2.9 8.3,5.4 6.7,2.8 3,.6 7.4-.3 10.6-3 7.4-.4 6,.8 13.6,4 7.4,.7 6-1.1 5.1-2.6 2.9-3 2-4.5 .1-4.5-1-3-3.3-4.5-7.2-5.1-2.2-2.4-1-3 .1-1.5 2-3-1.9-1.4-6-.9-1.6-.7-1.4-1.5-1.6-4.2-1.7-9.3-1.3-3-1.7-1.5-2.7-1.1-7.6-.9-3-1.3-4-7.2-9.1-10.5-6.6-9-3-3-2.8-1.8-2.9-1.1-3-.4-4.6,.2zM1492.2,194.1l.3,1.5 3,0 .1-1.5-.4-.2-3,.2zM1429.6,186.6l2.6-.3 3,.4 3,2.5 .8,1.9 0,1.5-.7,1.5-1.4,1.5-3.1,1.2-3-.1-2.8-1.1-1.8-1.5-1-1.5-.1-1.5 .4-1.5 1.1-1.5 3-1.5z" fill="#fa6f01" fill-rule="evenodd"/>
<path d="M1352.8,107.1l150,0 0,104.4-3-2.6-8.8-4.3-1.3-1.5-.4-1.5 .3-1.5 1.2-1.2 6-.7 2.1-1.1 .6-1.5-.2-1.5-1.3-1.5-2.8-1.1-9-.4-3-.8-1.4-1-1.6-2-.8-2.2-1.9-9-1.7-3.5-1.6-1.3-3-1.3-7.4-.6-3-.9-4.1-5.9-9.5-10.3-9-11.3-4.4-3.2-3-1.1-3-.4-6,.5-4.6,2.2-7.5,8.6-4.5,6.1-6.8,7.4-1.4,3-1.1,4.5-7.1,7.5-3,4.2-7.1,13.8-7,10.5-1.3,3-.5,3 .7,4.5 1.8,3 2.8,2.7 3.3,1.8 4.3,1.1 6,.2 4.4-.6 7.6-2.4 4.4,.3 9,2.8 9,5.6 9,3.6 9,.2 10.6-2.5 6-.5 6,.8 15,4.2 9,.8 4.4-.7 4.6-1.6 3.7-2.3 2.3-2.3 0,18.8-150,0 0-141zM1428.8,188.1l3.4-.7 3,.8 1.6,1.4 .8,1.5-.1,1.5-.7,1.5-1.6,1.1-3,.6-1.4-.2-2.5-1.5-1.2-1.5-.3-1.5 .4-1.5 1.6-1.5z" fill="#f76700" fill-rule="evenodd"/>
<path d="M1352.8,107.1l150,0 0,86.6-1.6-1.7-3-1.6-9-.9-4.4-1.5-2.7-2.9-3.2-12-1.7-2.7-1.4-1.3-3-1.3-8.7-.7-1.9-.6-10.4-10.5-12-14.2-3-2.8-3-1.7-3-1.1-3-.4-4.6,.2-3,.7-3.3,1.9-13.1,15.3-8.3,7.2-3.7,7.5-7.2,10.5-6.9,13.5-8.3,12-1.6,4.5-.3,3 1.1,4.5 2.1,3 3.1,2.6 4,1.9 5,1 6,0 4.4-.7 7.6-2.3 4.4,.2 9,3 9,5.5 9,3.8 10.6,.3 10.4-2.1 4.6-.2 6,.9 15,4.2 9,.9 7.5-1 4.1-1.5 3.4-2 0,14-150,0 0-141zM1429.3,189.6l1.5-.7 3,.2 2,2 0,1.5-2,1.7-3-.1-1.8-1.6-.4-1.5 .7-1.5zM1491.2,201.6l1-.8 1.6-.1 3,.9 2.3,1.5-2.3,1-3,.2-2.6-1.2 0-1.5zM1502.1,201.6l.7-.7 0,4-1.8-1.8 1.1-1.5z" fill="#f55f00" fill-rule="evenodd"/>
<path d="M1352.8,107.1l150,0 0,82.6-4.6-1.2-7.4-.4-4.1-1.5-2.7-3-1-3-1.9-9-1.5-3-1.3-1.5-4.1-2-9-.5-3-1-10.4-9-11.5-13-3.3-3-3.2-1.8-3-1.1-3-.4-4.6,.1-3,.7-3,1.5-13.4,14.8-4.6,3.4-6.9,3.8-1.3,1.5-3.6,9-9.8,19.5-2.7,4.5-6,7.5-1.8,3-1.7,4.5-.3,3 .8,4.5 3.1,4.5 4.3,3 4,1.5 5.5,.8 4.4,0 4.6-.6 7.4-2.3 4.6-.3 9,2.6 10.4,6.2 6,2.9 3,.9 10.6,.6 10.4-1.5 4.6-.1 6,1.1 15,4.1 9,1.1 7.4-.6 7.6-2.4 0,10-150,0 0-141zM1431.1,191.1l1.1-.5 1,.5-.6,1.5-.7,0-.8-1.5z" fill="#f25700" fill-rule="evenodd"/>
<path d="M1352.8,107.1l150,0 0,79.9-3-.4-7.6,.2-3-1-1.4-1.1-1.6-1.9-.8-2.2-1.4-9-1.4-4.5-1.9-3-1.9-1.5-4.6-1-9,.2-3-1-9-6.3-13.4-14.3-3-2.4-4.6-2.2-3-.7-7.4,.2-3,1-3,2-10.6,11.4-4.4,3.8-4.6,1.9-7.4,1-1.6,1.1-.9,2.3-1.6,10.5-2.2,6-7.4,15-9.7,12-2.1,4.5-.9,4.5 .8,4.5 2.7,4.5 3.4,3 5.9,2.6 4.6,.8 6,.2 6-.9 7.4-2.2 3-.3 3,.3 7.6,2.4 10.4,6.2 6,2.8 3,.9 10.6,1 10.4-.9 4.6,0 6,1.2 15,4.1 9,1.3 7.4-.2 7.5-1.7 .1,6.4-150,0 0-141z" fill="#ef4f00" fill-rule="evenodd"/>
<path d="M1352.8,107.1l150,0 0,77.1-10.6,.9-2.5-1.5-1.1-1.5-1-3-.8-10.5-1-4.5-1.4-3-2.6-2.9-1.6-.9-3-.5-10.4,2-3-.2-3-1-4.6-2.3-3-2.3-13.4-13.5-3-2.3-4.6-2.1-3-.7-7.4,.2-3,.9-3,1.9-9,9.5-6,4.9-4.6,1.5-9-.2-1.5,.5-1.9,1.5-1.5,3 .1,12-2.3,7.5-6.8,13.5-2.5,3.3-6.2,5.7-2.3,3-2.1,4.5-.8,4.5 .8,4.5 1.4,3 1.6,2.2 4.7,3.8 5.9,2.4 6,1 5.9-.1 6.1-1.1 7.4-2.2 5.4,0 6.6,1.9 10.6,6 9,4.1 12,1.7 12-.3 4.4,.4 18,4.9 9,1.7 9,.2 7.6-1.1 0,3-150,0 0-141z" fill="#ed4700" fill-rule="evenodd"/>
<path d="M1352.8,107.1l150,0 0,73.6-9,1.5-1.6-.8-.5-.8-.9-3.6 .3-9.9-.4-6-1.2-4.5-1.9-4.5-2.2-3-2.2-.8-3,.3-3,1.1-9,5-4.4,1-3-.4-3-1-4.6-2.9-13.4-12.7-3-2.1-4.6-2-3-.7-7.4,.1-3,.9-3,1.7-9,9.2-6,4.5-4.6,1.3-7.4-.7-3,.2-3,1-4.5,3-1,1.5-.3,1.5 2.6,7.5 .6,4.5-.4,3-1.5,4.5-6.1,12.5-3,3.5-6.8,5-3,3-1.8,3-1.4,4.5 .2,6 1.1,3 1.8,3 4.6,4.5 6.9,3.4 6,1.2 6,.1 7.4-1 9-2.7 6,.2 6,1.9 10.6,5.9 9,4 12,2.1 12,.3 4.4,.6 24.9,6.5-131.3,0 0-141zM1358.8,156.3l-1.6,.9-1.4,1.7-.5,2.2 .3,1.5 1.1,1.5 2.1,1.5 3,.1 1.4-1.1 1.5-2 1.1-3-.2-1.5-.8-1.2-1.6-.8-1.4-.2-3,.4z" fill="#ea3f00" fill-rule="evenodd"/>
<path d="M1352.8,107.1l150,0 0,67.2-3-.5-1.6-1.9-.1-12.3-1.2-6-1.3-3-2.2-3-3.7-3-3.5-1.3-3,.2-7.4,2.5-10.6,6.2-3,.8-3-.2-3-1-4.4-3-13.6-11.9-4.4-2.3-4.6-1.3-6-.1-6,1.7-3.1,2.2-8.9,8.8-6,3.5-3,.5-10.5-.9-10.5,1.8-9-1.3-4.4,0-4.6,.7-4.4,1.8 0-44.9zM1369.8,165.6l2.4-1 1.6,.1 1.4,.9 1.6,1.7 .9,2.8-.1,3-.8,3-3.6,9-2.5,4.5-2.9,3.1-8.6,4.4-2,1.5-2.5,3-1.9,4.2 0-37.6 4.5,1.9 5.9,1.2 2.3-1.2 4.3-4.5zM1352.8,216.6l0-1.4 2.8,5.9 4.3,4.5 4.9,3.1 6,2.2 6,.8 6-.1 6-.9 10.4-3 4.6,0 7.4,2.3 10.6,5.7 9,3.9 12,2.5 15.3,1.5 16.1,4.5-121.4,0 0-31.5z" fill="#e73600" fill-rule="evenodd"/>
<path d="M1352.8,107.1l150,0 0,43.4-4.1-4.4-4.2-3-3.7-1.7-4.6-.8-3,.4-7.4,2.4-13.6,6.8-4.4,.2-3-1.3-4.6-2.9-12-10-6-2.7-6-1-6,.6-4.4,1.9-10.6,9.7-4.4,2.6-3,.8-10.6-1.2-10.4,.4-12-1.7-6,.3-6,1.2 0-40zM1370.4,171.6l1.8-1 1.6,.6 .5,3.4-2.3,9-2.2,4.5-3.6,3.5-3,1.4-6,1.7-4.4,2.8 0-25 12,2.1 3-1.1 2.6-1.9zM1352.8,222.6l2.9,3 4.1,3 5,2.4 4.4,1.4 6,.8 7.6-.2 6-1.1 10.4-3.1 4.6,.1 7.4,2.3 10.6,5.6 7.4,3.3 12,3.1 16.6,2.4 9,2.5-114,0 0-25.5z" fill="#e42e00" fill-rule="evenodd"/>
<path d="M1352.8,107.1l150,0 0,36.9-7.6-3.9-4.4-1.2-4.6-.2-3,.4-7.7,2.5-13.3,5.9-4.4,.6-6-2.5-7.6-5.3-3.5-3.2-3.9-2.3-6.1-2.3-5.9-.6-4.6,.5-4.4,1.8-3,2.1-7.6,7-3,1.7-3,1.1-3,.2-9-1.4-9-.1-15-2.1-6,.1-4.4,.6 0-36.3zM1354.3,176.1l11.9,.7 3,.9 .9,1.4 .2,3-.8,3-1.9,3-1.7,1.5-2.7,1.2-10.4,1.9 0-16.5 1.5-.1zM1352.8,227.1l4.7,3 5.7,2.6 4.6,1.3 6,.7 10.4-.6 15-4 6,.3 6,2.1 10.6,5.4 7.4,3.3 12,3.4 18,3.5-106.4,0 0-21z" fill="#e12600" fill-rule="evenodd"/>
<path d="M1352.8,107.1l150,0-.1,32.8-8.9-2.7-7.6-.2-11.1,3.1-12.9,4.9-4.4,.8-3-.6-4.6-2.1-4.4-2.8-6-4.7-4.6-2.2-4.4-1.5-6-.6-4.6,.4-4.4,1.6-3.5,2.3-7.1,6-3,1.7-3,.9-3,0-7.4-1.2-10.6-.6-15-2.3-10.4,.1 0-33.1zM1355.9,179.1l5.9-.8 3.9,.8 1.7,1.5 .4,.9 0,2.1-.5,1.5-2.5,2.8-3,1-4.6,0-4.4-1.1-.1-7.2 3.2-1.5zM1352.8,231.6l0-1.2 5.2,2.7 5.2,1.8 6,1.2 6,.3 10.6-1.3 13.4-3.7 4.6,0 6,1.7 19.4,9.2 12,3.7 9.4,2.1-97.8,0 0-16.5z" fill="#de1e00" fill-rule="evenodd"/>
<path d="M1352.8,107.1l150,0 0,29.6-9-1.6-7.6,.3-24,7.2-4.4,.8-3-.3-4.6-1.5-4.4-2.5-6-4.3-4.6-2-4.4-1.5-4.6-.6-6,.3-4.4,1.5-3,1.6-9,6.6-4.6,1.4-21-2-16.4-2.6-9-.2 0-30.2zM1361.5,180.6l1.7,.1 1.6,1 .3,1.9-1.9,2.1-3,.3-1.8-.9-.7-1.5 .7-1.5 3.1-1.5zM1397.8,233.1l4.4-.4 6,1.2 19.6,9 15.6,5.2-90.6,0 0-14.6 4.4,1.9 6,1.7 10.6,1 10.4-1.2 13.6-3.8z" fill="#da1700" fill-rule="evenodd"/>
<path d="M1352.8,107.1l150,0 0,26.8-7.6-.8-7.4,.5-22.6,6.2-4.4,1-4.6,.3-3-.3-4.4-1.4-7.6-4.7-6-2.6-4.4-1.4-4.6-.6-4.4,0-4.7,1-4.3,1.9-9,5.5-4.5,1.2-19.6-1.5-16.5-2.8-10.4-.8 0-27.5zM1397.7,234.6l4.5-.5 6,1.2 18,8.3 12.3,4.5-85.7,0 0-11.7 10.4,2.8 10.6,.5 10.4-1.4 13.5-3.7z" fill="#d71000" fill-rule="evenodd"/>
<path d="M1352.8,107.1l150,0 0,24.3-7.6-.2-6,.5-16.4,4.8-10.6,2.1-6,.4-4.4-.3-3-.8-7.6-4.1-4.4-1.9-6-1.8-4.6-.6-4.4-.1-4.6,.8-13.4,6.1-4.6,1-19.4-1.1-18-3.3-9-.9 0-24.9zM1397.9,236.1l5.9-.3 4.4,1 16.6,7.5 9.6,3.8-81.6,0 0-9 10.4,2.2 10.6,.2 9-1.3 15.1-4.1z" fill="#d40900" fill-rule="evenodd"/>
</g>
<path d="M1422.8,141.9l-2.5,1.2-5.5,6.3-2.3,4.7-1.5,6-.2,3 .4,6 1.3,7 .9,2 1.6,2 1.8,1.1 2,.6 2,0 1-.3 6-2.6 12-6.2 6-1.4 1-1.2 .9-3-.1-1-.8-1.8-4-4.3-2.1-2.9-4.9-10.8-1.6-2.2-2.4-1.6-3-1.1-2-.1-4,.6M1450.8,178.8l-1,.8-.6,1.5-.9,9-.9,4-1.6,4.6-1.8,3.4-1.2,1.5-2,.9-5,.1-1.4,.5-2.1,2-.3,1 .4,1 1.4,1.2 2,.8 7,.7 5,1.4 3,.1 5-.7 6,1.8 5,.6 1-.1 2.2-.8 1.3-1 .7-1 .2-1-1-2-4.4-6-1.6-3-1.3-4-1.8-8-1.3-3.5-1-1.5-2.1-2-3.9-1.9-2-.5-1,.1M1408.8,200.9l-2,.9-1.2,1.3-.5,1 0,2 .7,1.5 1,.9 1,.6 2,.3 1.2-.3 1.5-1 .7-1 .4-2-.7-2-1.1-1.3-1.3-.7-1.7-.2M1479.8,209.1l-2.6,1-1.1,1-.3,1 .4,1 1.6,1.5 3,1.1 2-.1 2-1.1 1.4-1.4 .5-2-.2-1-.7-.9-2-.6-4,.5M1423.8,137.1l-3,.6-3,1.7-7.6,8.7-4.4,6.7-3.5,4.3-1.9,3-.7,2-.9,6.2-1.6,1.8-6.4,5.5-3,3.6-7.1,13.9-5.8,9-1.5,3-.6,2 .1,3 .9,2.5 1.4,2.5 2,2 2.6,1.6 2,.8 4,.7 6.3-.1 5.7-2.2 3-.6 2,0 4,.8 9,2.7 2,1.1 5.9,4.2 6.1,2.6 4,.9 4,.1 4-.5 10-3 7-.4 7,.8 8,2.7 5,1.3 4,.6 3,.1 3-.3 3-.7 2.7-1.2 2.3-1.4 3-3.2 1.5-3.4 .4-4-1-4-1.2-2-1.6-2-2.3-2-4.8-3.3-2.5-2.7-1.1-3 0-2 .4-2-.7-1-6.1-1.3-1.3-.7-.9-1-1.4-3-2.1-11-1.3-3.2-2-1.6-2-.8-8-1.1-2.7-1.3-3.8-7-9.5-11-6.4-9-3.1-3-2.5-1.6-3-1.2-3-.4-4,.2M1431.5,186.1l2.3,0 2,.5 2,1.5 1,1.3 .6,1.7-.3,2-1.2,2-1.3,1-1.8,.7-2,.3-3-.4-3-1.6-1.8-2-.3-2 .7-2 .8-1 1.6-1.1 3.7-.9M1502.8,154.7l-2.7-4.6-3.5-4-4.4-3-2.4-1-3-.7-3,.1-8.1,2.6-7.9,4.5-5,2.4-3,.4-2-.3-3-1.4-4-2.7-7-5.8-3.2-3.1-2.8-2-6-2.6-5-.8-5,.3-5,1.7-3,2.1-8,7.9-4,2.6-3,1.1-3,.3-9-1.1-7,.6-4,.1-9-1.5-3-.1-6,.4-5,1.4M1352.8,171.3l10,2.4 2,.1 1.6-.7 1.2-1 3.2-3.3 2-.5 2,.9 .5,.9 .5,2-.4,3-3,9-1.4,3-2.1,3-2.1,1.9-2,1.1-6,1.9-2,1-4,3.4M1352.8,220.8l2.7,3.3 4.3,3.5 4.5,2.5 5.5,1.8 6,.8 7-.2 6-1 10-3 2-.2 3,.2 4,.9 3,1.2 11,5.9 8,3.5 12,2.8 16,2.2 11.3,3.1M1502.8,125.4l-7,.8-6,1.2-5,1.5-9,3.6-3,.7-10,1.3-11,.3-4-.7-5-2.2-9-2.8-7-1.3-5-.2-4,.3-8,2.2-9,1.9-7-.5-10,.1-6-.6-16-3.8-9-1.6M1352.8,245.8l10,.9 10-.5 9-1.6 15-4 6-.7 3,.4 4,1.1 15.2,6.7M1502.2,107.1l-11.4,4.7-17,9-5.3,2.3-3.7,1.1-14,1.7-8-2-14-2.7-12-.7-11,1.7-10.1-1.1-7.5-2-6.4-2.1-24.4-9.9" fill="none" stroke="#383838" stroke-width="1.1" stroke-opacity="0.85"/>
</g>
<path d="M1354.10,177.25a73.35,68.50 0 1,0 146.70,0a73.35,68.50 0 1,0 -146.70,0zM1357.40,177.25a70.05,65.80 0 1,0 140.10,0a70.05,65.80 0 1,0 -140.10,0z" fill="#000" fill-rule="evenodd"/>
<path d="M1414.9,111.5L1421.5,103.3M1433.4,103.3L1440.0,111.5" fill="none" stroke="#000" stroke-width="3.6" stroke-linecap="butt"/>
<path d="M1358.1,163.2C1355.7,161.4 1350.4,161.3 1350.2,169.0C1350.0,175.2 1349.7,183.7 1349.4,187.9C1349.2,196.8 1355.8,196.8 1359.1,194.5" fill="none" stroke="#000" stroke-width="3.1" stroke-linecap="butt" stroke-linejoin="round"/>
<path d="M1496.8,163.2C1499.2,161.4 1504.5,161.3 1504.7,169.0C1504.9,175.2 1505.2,183.7 1505.5,187.9C1505.7,196.8 1499.1,196.8 1495.8,194.5" fill="none" stroke="#000" stroke-width="3.1" stroke-linecap="butt" stroke-linejoin="round"/></g>
<g id="gamma_tsr"><clipPath id="c_gamma_tsr"><ellipse cx="1606.25" cy="177.25" rx="74.2" ry="69.65"/></clipPath>
<g clip-path="url(#c_gamma_tsr)">
<g filter="url(#blur)">
<rect x="1529" y="104" width="155" height="146" fill="#ffe1c2"/>
<path d="M1531.6,107.1l150,0 0,141-150,0 0-141zM1599.1,150l-1.5,.9-2,2.7-.8,3 .2,1.5 1,2.1 3,2.8 3,1.6 1.6-.1 2.8-1.9 1.6-2.5 1.9-3.5 .2-3-.6-1.5-1.5-1.4-1.4-.6-6.1-.5-1.4,.4z" fill="#ffd9b2" fill-rule="evenodd"/>
<path d="M1531.6,107.1l150,0 0,141-150,0 0-141zM1599,148.5l-1.4,.8-2.5,2.8-1.3,3-.2,3 1.2,3 5.8,5.8 1.5,.5 1.5-.3 3-1.9 1.4-1.8 3.6-6.8 .2-3-1.2-3-2.6-2.2-6-.4-3,.5z" fill="#ffd1a3" fill-rule="evenodd"/>
<path d="M1531.6,107.1l150,0 0,141-150,0 0-141zM1602,146.1l-3,.8-3,2.2-2.1,3-1.6,4.5 0,1.5 .7,3.1 2.9,4.4 2,4.5 1.1,1.5 1.6,.3 2.9-1.5 5.6-4.8 3.4-6 .7-3 0-3-.6-2.5-1.6-2.6-1.4-1.5-3.1-1.2-4.5,.3z" fill="#ffc993" fill-rule="evenodd"/>
<path d="M1531.6,107.1l150,0 0,141-150,0 0-141zM1602.1,144.4l-4.5,2-3,3-2.4,4.2-1.2,4.5 .6,3.2 4.2,11.8 1.8,2.1 1.4,.7 3-1.3 10.1-9 1.8-3 .8-3-.5-7.5-3.2-5.8-3-2.1-2.9-.3-3,.5zM1632,193.3l-1.5,3.8-.3,3 .4,1.3 1.4,1.5 1.6,.3 1.4-.3 1.6-1.8-.4-4-1.2-2.3-1.4-1.5-1.6,0z" fill="#ffc183" fill-rule="evenodd"/>
<path d="M1531.6,107.1l150,0 0,141-150,0 0-141zM1602,143l-3.8,1.6-3.6,3.3-3,4.9-1.7,5.3 .3,3 3.3,12 2.5,3.7 3,1.2 1.6-.2 1.5-1 11.9-9.7 1.6-2.4 .8-3.6-1.2-9-1.2-3-2.8-4.5-2.1-1.5-2.5-.7-4.6,.6zM1632,188.4l-1.4,1.2-.6,1.5-2.2,9-.2,3 .5,1.5 2.5,1.5 4.4,0 3.5-1.5 .7-1.5-.3-4.5-.9-3.6-1.3-2.4-3.1-3.4-1.6-.8z" fill="#ffb871" fill-rule="evenodd"/>
<path d="M1531.6,107.1l150,0 0,141-150,0 0-141zM1603.6,141.5l-4.9,1.6-4.1,3.5-3.6,5.5-2.2,6 .2,3 1.6,7.5 1.7,6 2.1,3 3.2,1.6 3,0 1.4-.8 7.6-6 5.7-3.8 1.7-2.6 .9-3.4-.2-3-1.6-7.5-3.5-7.5-1.6-1.6-2.5-1.4-1.9-.4-3,.3zM1630.5,184.9l-1.5,3.4-1.1,5.8-1.8,5.6-3.1,5.5-1.4,.8-4.6-.8-1.4,.1-1.6,.7-1.1,1.6 .3,1.5 .8,.6 1.6,.1 6-1.7 7.4,.9 4.6-.2 4.4-.8 2.6-1.9 .7-1.5 0-1.5-1-7.5-.9-3-5.8-8-1.6-.6-1.5,.9z" fill="#ffaf60" fill-rule="evenodd"/>
<path d="M1531.6,107.1l150,0 0,141-150,0 0-141zM1600.6,141.4l-3.5,1.7-4.1,4.1-3,4.9-2.2,6 .1,3 1.6,9 1.8,6 2.6,3 3.7,1.2 2.9-.2 2.3-1 6.8-4.8 6-3.5 2.1-2.2 1.5-4.5-.1-3-2.7-10.5-3.8-7.4-1.7-1.6-2.9-1.2-3-.1-4.4,1.1zM1630.6,182l-1.6,1.4-.6,1.7-2.2,10.5-1.7,3.9-1.5,2-3,1.6-4.5,.5-3,1-2.3,1.5-1.2,1.5-.4,1.5 .2,1.5 .9,1.5 1.3,.9 1.6,.6 3,.2 10.4-1.9 12-1.3 2.9-1.5 1-1.5 .7-1.5 .2-3-.9-9-.9-3.6-4.8-6.9-2.6-1.7-3,.1z" fill="#ffa74e" fill-rule="evenodd"/>
<path d="M1531.6,107.1l150,0 0,141-150,0 0-141zM1602,140.1l-4.4,1.8-4.6,4.1-3.8,6.1-2.3,6 .1,4.5 2.7,13.5 1.9,3.1 2.1,1.4 2.3,.6 3,.1 3-.8 15-8.5 1.8-1.9 1.6-4.5-.2-4.5-3.1-10.5-3.7-7.5-2.4-2.5-1.4-.7-3-.5-4.6,.7zM1629,180.5l-1.3,1.6-.5,1.5-1.5,10.5-2.7,5.4-3,2.1-7.4,1.5-3.8,1.5-2.2,1.5-1.2,1.5-.5,1.5 .4,3 3,3 4.3,1.5 4.4-.1 10.6-2.4 12-1.3 1.4-.7 1.6-1.5 1.2-3 .3-3-.4-12-.7-4.5-3.4-4.5-4.3-3-3.3-.9-3,.8z" fill="#ff9e3c" fill-rule="evenodd"/>
<path d="M1531.6,107.1l150,0 0,141-150,0 0-141zM1606.6,138.5l-3,.4-3.9,1.2-4.9,3-4.8,5.9-3.7,7.6-.5,4.5 2.3,15 1.9,4.1 3,1.7 6,.2 4.6-1.4 7.4-4.1 7.6-3.1 1.4-1.5 .9-1.9 1-4.5-.2-3-5.1-15-2.3-4.5-1.7-2.3-3-1.8-3-.5zM1627.6,178.5l-1.5,2.1-.3,1.5-.7,10.5-.9,3-1.9,3-3.7,2.2-12.1,2.8-2.9,1.8-2.2,2.2-.6,1.5 .4,3 2.4,3 2.9,2.1 4.5,1.7 6,0 12.1-3.1 11.9-1.2 1.8-1 1.4-1.5 1.3-4.5 .1-18-.6-3-1-1.6-2.7-2.9-4.7-2.9-4.6-1.4-3,0-1.4,.7z" fill="#ff962d" fill-rule="evenodd"/>
<path d="M1531.6,107.1l150,0 0,141-150,0 0-141zM1602,138.5l-4.4,1.8-4.6,3.5-3.8,5.3-3.8,7.5-.6,4.5 2.3,18 1.5,2.8 1.4,1.1 4.6,.5 7.4-1.3 12-5.1 7.6-1 1.4,1 1.6,9.5-.2,4.5-1.2,4.5-1.7,2.3-2.9,1.9-12,2-10.6,3.4-1.4-.3-3-2.1-9-9.4-1.6-.7-1.4,0-2.6,1.4-2,2.2-5,6.8-.8,1.5 .2,1.5 2.3,1.5 9.3,2.5 12,1 3,1.6 9,6.3 4.6,1.9 3,.5 6-.5 12-3.6 10.4-.8 3-1.1 1.9-1.8 .8-1.5 .6-3-.6-6 .6-15-1.7-4.5-3-3.1-5.7-2.9-6.3-2.2-6.4-.8-1-3 .2-6-.5-3-3.2-7.5-1.8-6-2.8-6-2.1-3-2.1-1.5-4.3-.8-4.6,.7z" fill="#ff8e1d" fill-rule="evenodd"/>
<path d="M1531.6,107.1l150,0 0,141-150,0 0-141zM1606.5,137l-4.5,.7-6,2.7-3.2,2.7-3.5,4.5-4.2,7.5-1.4,4.5 1.2,10.5-.3,13.5-.8,1.5-6.8,3-3.8,3-4.8,6-7,7.5-.7,3 .7,1.5 2.2,1.5 2.4,.6 10.6,1.1 15,2.5 3,1 12,6.2 5.9,1.6 6.1-.6 12-4 10.5-.9 4.5-1.1 2.4-1.9 .8-1.5 .6-3-.9-7.5 .2-15-1.7-5.5-3-3.6-15-6.8-2.8-2.1-1.9-7.5-3.9-7.5-1.8-6.1-3-6.5-3.2-3.9-2.8-1.2-3.1-.4zM1612,179.1l3.6-.6 3,.3 1.4,.6 2.2,2.7 1.3,4.5 .1,4.5-1.4,4.5-2.2,2.3-3,1.4-3,.5-16.4,1.4-3.1-.8-3.8-3.3-2-3-1.1-3-.1-3 1.1-1.2 4.9-1.8 8.5-2.1 10-3.9z" fill="#ff860d" fill-rule="evenodd"/>
<path d="M1531.6,107.1l150,0 0,141-150,0 0-141zM1602,137l-4.4,1.8-3,1.8-3.1,2.8-3,4.2-4.4,7.5-1.2,3-.2,4.5 1,6 .1,3-.8,6-1,3-2.4,2.7-8.1,4.8-6,7.5-7.6,7.5-1.9,3-.2,1.5 .9,3 1.8,1.8 3.1,1.3 15,.8 13.4,2.4 6,2.1 10.6,5 6,1.6 6-.5 13.4-4.7 13.6-1 3-.7 1.4-1.1 1.4-2.5 .5-4.5-.9-7.5-.8-15-1.4-6-1.4-3-3.4-2.4-6-2-3.1-1.6-5.9-4.6-7.4-12.6-4.3-11.3-1.7-3.3-2.1-2.7-2.5-1.6-3-.6-6,.6zM1611,180.6l3-.5 3,.3 3,1.7 1.5,2.1 1.2,3.9-.1,3-.7,3-1.8,2.6-3.1,1.6-3,.6-14.9,0-3.1-.9-2.9-2.4-1-1.5-.8-3 1.2-3 1.9-1.5 3.1-1.5 13.5-4.5z" fill="#fe7e02" fill-rule="evenodd"/>
<path d="M1531.6,107.1l150,0 0,141-150,0 0-141zM1600.6,136.8l-4.6,2-3,2.2-5.4,6.6-4.6,7.5-1.2,3-.4,4.5 1.2,7.5-1.8,7.5-2.8,3.6-7.2,3.9-1.8,1.5-5.3,7.5-9.2,9-1.8,3-.3,1.5 .2,1.5 1.2,3 3.2,3 3,1 16.6,.2 13.4,2.6 4.6,1.5 13.4,6.1 4.6,1.1 3,.1 4.4-.9 10.3-4.2 3.3-.8 6-.7 9,.9 3-.4 1.8-2 1.2-4.3-.3-13.7-1.9-7.5-2.1-13.5-.9-3-2.4-2.1-7.4-2.1-3-1.3-7.6-7.3-7-9.7-4-10.5-4-6.4-3-1.9-2.9-.6-4.6,.2-2.9,.9zM1609.8,182.1l2.8-.5 3,.1 3,1.3 1.4,1.5 1.2,2.1 .6,3-.4,3-1.5,3-2.3,1.5-2,.6-4.6,.3-11.9-1.3-2.4-1.1-1.5-1.5-1-3 .3-1.5 .9-1.5 1.8-1.5 3.2-1.5 9.4-3z" fill="#fc7601" fill-rule="evenodd"/>
<path d="M1531.6,107.1l150,0 0,141-150,0 0-141zM1602,135.5l-5.9,2.6-4.5,3.4-3.8,4.6-5,7.5-1.7,3-1,3-.2,3 1.2,7.5-1.5,5.1-3,4.1-6,3.1-3,2.3-5.3,7.9-10.5,10.5-.9,1.5-.8,3 .3,3 1.3,3 3,3 3.9,1.6 3,.3 13.4-.7 13.6,2.4 7.4,2.6 12,5.5 4.6,1.2 3,.2 4.4-.7 4.6-1.6 7.4-3.4 6-1.1 4.6,.2 7.4,2.1 3-.2 1.6-.9 2-3 .9-4.5 .6-10.5 1-3 2.8-4.5-.8-1.5-5.1-2.3-1.4-1.9-1.9-7.8-1.1-9.1-.9-1.4-2.1-1.3-8.7-1.7-1.9-.7-9-8.6-6.2-7.2-4.8-12-2.4-4-1.8-2-4.2-1.8-4.6-.3-3,.5zM1668,197l-.2,.1 .7,1.5 1.1,.3 2.1-.3 .5-1.5-1.2-.8-3,.7zM1608.5,183.6l5.5-.7 3.1,1 1.6,1.2 1.3,1.9 .7,2.6-.7,3.8-1.4,2-3,1.3-4.6,.3-10.4-2.2-1.8-.7-1.3-1.2-.7-1.8 .2-1.5 2-2.6 9.5-3.4z" fill="#fa6f01" fill-rule="evenodd"/>
<path d="M1531.6,107.1l150,0 0,141-150,0 0-141zM1600.5,135.3l-5.9,2.9-4,3.4-10.1,13.5-1.6,3-.7,3 .8,9-1,2.8-1.4,2.4-2.5,2.3-6.8,4.5-7.4,10.5-7.8,7.5-2.4,3-1.3,3-.2,3 .4,3 1.3,3 1.2,1.5 2.9,2.2 4.5,1.5 16.6-1.1 11.9,2.1 9,3.2 13.6,6.2 3,.7 4.4,.1 4.5-.8 12.1-4.7 4.5-.9 4.5,.2 8.9,2.4 3-.4 1.5-.7 2.6-2.5 1.4-3 .9-12 .9-3 .9-1.5 1.7-1.5 2.2-1 5.3-.5 2.1-.7 1.6-1.8 0-2-1-1.5-2-1.3-10.6-1.2-4.4-2-1.6-2.1-1.2-3.9-.8-9-1.3-3-1.9-1.5-2.2-.9-9-1.6-10.6-8.6-6-6.6-4.4-10.8-2.7-4.5-1.9-2-3-1.6-3-.6-4.4,.1-3.1,.8zM1607.3,185.1l5.3-1 3,.7 1.4,.9 1.6,1.6 .8,2.3-.4,3-.9,1.5-2.7,1.5-4.4,.2-3-.6-6.8-2.6-1.4-1.5-.1-1.5 .8-1.5 6.8-3z" fill="#f86700" fill-rule="evenodd"/>
<path d="M1531.6,107.1l150,0 0,141-150,0 0-141zM1602,134.1l-6,2.4-4.4,3.3-4.5,4.8-9.2,12-2,4.5 .2,7.5-1.1,3.3-2.2,2.7-6.8,5.8-7,10.7-9.1,9-2.1,3-1.1,3-.4,4.5 .5,3 1.2,2.7 3.2,3.3 2.8,1.5 3,.9 3,.2 13.6-1.7 4.4,.3 7.6,1.4 9,3.1 15,7.1 3,.7 6,.1 4.4-.6 15.1-4.8 4.5,.1 9,2.1 3-.1 3.6-1.3 3.3-3 1.5-3 .8-4.5 0-7.5 1.2-3.9 1.6-1.6 1.4-.8 6-.4 3-1.2 2-2.6-.2-3-.9-1.5-1.7-1.5-2.2-1.1-10.4-2.2-2.7-1.2-1.9-1.5-1.6-3-1.3-10.5-1.5-3.3-1.6-1.4-2.8-1.3-7.7-1.1-2.9-1-12-8.9-3.8-4-5.2-12-1.9-3-2.7-2.8-4.4-1.8-4.6-.3-3,.4zM1606.9,186.6l4.1-1.1 3,.4 1.6,.7 1.6,1.5 .6,1.5-.5,3-1.8,1.5-2.9,.5-3-.3-4-1.7-1.9-1.5-.5-1.5 1.1-1.5 2.6-1.5z" fill="#f55f00" fill-rule="evenodd"/>
<path d="M1531.6,107.1l150,0 0,88.4-1.4-1.4-3.2-1.9-10.4-2.6-4.6-2.5-2.3-3.5-1.3-10.5-1.1-3-1.3-1.7-1.7-1.3-2.7-1-10.6-1.3-9-5-4.4-3.5-3-3.2-5.3-11.5-3.7-5.2-1.5-1.2-3.1-1.4-3-.6-4.4-.1-3,.7-4.6,1.9-4.4,3.2-4.2,4.2-6.4,7.9-8.1,8.6-1.1,3-.4,6-1.2,3-6.8,9-6.4,10.4-7.8,7.6-2.5,3-1.3,3-1.1,6 .7,4.5 1.6,3 3.1,3 4.4,2 5.9,.7 10.6-1.9 4.4-.1 4.6,.4 10.4,2.8 7.6,3 13.4,6.4 9.1,.5 5.9-.8 13.6-3.4 4.4,.1 9,1.7 4.6-.6 3-1.2 3-2.4 2.7-4.2 1.2-4.5 .2-9 .3-1.6 1.1-1.4 7.9-.7 3-1.4 1.6-1.3 0,43.9-150,0 0-141zM1607.7,188.1l1.9-.8 3,0 1.8,.8 1.1,1.5 .1,1.5-1.6,1.5-3,.4-1.7-.4-2.2-1.5-.5-1.5 1.1-1.5z" fill="#f25700" fill-rule="evenodd"/>
<path d="M1531.6,107.1l150,0 0,84.6-3.1-1.2-10.5-2.3-2.8-1.6-1.6-1.5-.9-1.5-.9-3-.6-9-.6-2.9-1.6-2.8-1.4-1.3-4.6-1.4-9-.1-3-.5-7.4-3.4-4.5-3-3.1-2.7-1.5-2.1-4.5-9.8-4.5-6-2.9-1.9-3-.9-7.2-.2-4.8,1.7-4.5,2.5-5.3,4.8-6.8,7.9-3,2.7-4.4,3.1-6,2.8-1.3,3 .1,7.5-1.2,4.5-8.9,16.5-2.7,3-6.7,6-2.3,3-2,6-.6,4.5 1,4.5 1.9,3 3.4,3 4.3,1.9 6,.9 12-2.2 4.4-.2 4.6,.4 10.5,2.8 10.5,4.5 9,4.5 4.4,.9 7.5,.6 6-.6 13.5-2.4 13.6,1.4 4.4-.7 3-1 4.5-3 2.9-3.3 2.3-4.5 2.9-7.5 1.5-1.5 5.5-2.7 0,37.2-150,0 0-141z" fill="#ef4f00" fill-rule="evenodd"/>
<path d="M1531.6,107.1l150,0-.1,81.6-10.5-1.2-3-1.5-2.3-2.4-1.3-4.5 .2-9-.4-4.5-1.1-3-2.5-2.5-4.6-.8-9,1.3-4.4,.2-3-.5-4.6-1.8-5.6-3.4-3.2-3-5.4-10.5-3.1-4.5-2.1-2.1-3-1.9-3-.9-4.6-.4-3,.2-5.8,2.1-3.2,1.9-6.2,5.6-5.8,6.4-4.4,3.6-3,1.5-8,2-2.3,1.5-1.3,1.5-.6,3 1.2,6-.1,4.5-4.6,12-1.4,3-2.5,3.5-8.1,7-2.8,3-1.5,3-1.5,4.5-.6,4.5 .8,4.5 2.8,4.5 3.7,3 4.2,1.9 3,.6 4.6,.2 12-2.4 4.4-.3 4.6,.4 6,1.4 4.4,1.6 19.6,8.9 12,2 6-.2 13.4-1.4 13.6,1 7.4-1.1 5-2.1 4.2-3 10.4-11.6 0,28.1-150,0 0-141z" fill="#ed4700" fill-rule="evenodd"/>
<path d="M1531.6,107.1l150,0 0,78.3-7.6,.3-3-.4-1.9-1.7-.9-1.5-.6-3 .1-3 2.5-12 .5-4.5-.6-4.5-2.1-3.1-3-.8-3,.6-11.1,4.8-5.3,1.8-4.6,.3-3-.6-6-2.6-4.4-3.4-2.3-3-4.6-9-5.1-5.8-3-1.8-3-.8-7.6-.4-6,2.1-3.5,2.2-12.9,12.2-3,2.1-4.6,1.8-10.2,1.9-3.4,1.5-1.8,1.5-.7,1.5 .1,1.5 2.7,6 1,4.5-.4,3-3.3,10.5-1.3,3-2.1,3-3,2.8-6.8,4.7-2.7,3-2.7,6-.8,6 .8,4.5 2.4,4.5 3.8,3.5 5,2.5 4,.9 4.4,.3 13.6-2.7 4.4-.3 4.5,.4 9.1,2.4 21,9.4 12,2.5 5.9,.2 15-.6 13.5,.9 6-.6 4.6-1.2 5.6-2.6 9.4-6.8 0,18.8-150,0 0-141zM1536,156.4l-2.3,1.7-.7,1.5 0,1.5 1.6,1.7 3,.4 1.4-.6 1.9-1.5 1-1.5 .3-1.5-1.7-1.9-1.5-.3-3,.5z" fill="#ea3f00" fill-rule="evenodd"/>
<path d="M1531.6,107.1l150,0 0,73.5-6,.8-2.2-.8-.8-1.5 .8-4.5 5.4-10.5 1-3 .4-3-.4-3-1.1-3-2.1-3-2.6-2.1-4.4-2.1-3-.3-1.6,.4-5.5,2.6-13.9,8.2-4.6,1-3-.4-4.5-1.6-4.5-2.9-3-3.4-3.5-6.9-4.6-6-3.9-2.9-4.4-1.6-7.6-.4-7.4,2.7-4.5,3.3-10.5,9.6-3,1.9-4.6,1.8-19.4,1.7-13.5-1.3-3.1,.4-4.4,1.4 0-45.1zM1546.5,164.1l3.1-.7 1.4,.2 3,1.8 2.2,3.2 .5,3-1.3,4.5-1.2,7.5-1.6,3.6-4.6,4.4-9.3,5.5-3.4,4.5-1.7,4.5-.5,6 1.6,6 2.9,4.5 4.4,3.7 6,2.6 6,.9 6-.5 7.6-2 4.4-.6 4.6-.2 4.4,.6 7.6,2.2 21,9.3 9,2.4 7.4,1.1 16.6,.3 11.9,1 7.5-.3 5.3-1 4.8-1.5 9.5-4.5 0,12-150,0 0-79.2 4.4,.5 3-.6 7.5-4.7z" fill="#e73600" fill-rule="evenodd"/>
<path d="M1531.6,107.1l150,0 0,39.7-3.3-2.2-4.3-1.9-4.4-1-3,.1-7.2,2.8-15.4,9.3-3,.8-4.4-.4-4.6-1.8-4.1-3.4-5.4-9-5.5-6-3-2-3-1.2-7.4-.9-4.6,1-6,2.6-15,12.1-6,2.5-4.5,.5-15-.3-11.9-1.2-4.6,.2-4.4,.9 0-41.2zM1544.3,170.1l2.3-1.1 3-.2 1.4,.6 1.6,1.8-.4,3.4 .6,6-1,4.5-2,3-1.8,1.6-3,1.8-7.4,2.7-4.1,2.9-1.9,2.4 0-26.2 7.4-.9 5.3-2.3zM1531.6,219.6l3.6,4.5 3.7,3 4.7,2.4 4.4,1.3 4.6,.5 4.4-.1 12.1-2.9 8.9-.5 9,2.1 22.6,9.8 12,3.5 9,1.2 30,1.9 10.4-1.4 10.6-3.3 0,6.5-150,0 0-28.5z" fill="#e42e00" fill-rule="evenodd"/>
<path d="M1531.6,107.1l150,0 0,35.2-4.6-1.7-4.4-.9-4.6-.1-2.8,.5-7.3,3-15.3,8.8-3,.7-3-.2-4.6-1.7-3-2.3-6.6-9.8-5.4-5.2-6-3.1-7.4-.9-3,.5-7.2,2.7-15.4,11.4-6,2.3-4.4,.4-12-.5-15-1.5-9,.6 0-38.2zM1540.5,174.6l4.5-1 1.6,.2 1.5,.8 1.5,2.2 1,3.8-.8,4.5-1.8,2.3-3,2-13.4,3.2 0-15.3 8.9-2.7zM1531.6,225.6l0-1 4.4,3.7 4.6,2.3 4.4,1.5 4.6,.7 7.4-.2 10.6-2.6 6-.9 7.4,.4 6,1.6 22.6,9.8 9,3.1 9,2 18.2,2.1-114.2,0 0-22.5zM1681.1,246.6l.5-.1 0,1.6-7.2,0 6.7-1.5z" fill="#e12600" fill-rule="evenodd"/>
<path d="M1531.6,107.1l150,0 0,31.9-9-1.5-7.6,.9-8,3.2-14.4,7.7-3.1,.9-2.9,.1-3-.8-3.2-1.9-2.8-3.1-4.1-5.9-6.5-6-6-2.8-7.4-.9-4.1,.7-6.5,2.5-15,10.2-6,2.1-4.5,.3-13.5-.7-15-1.5-7.4,.1 0-35.5zM1539.1,177.6l3-.8 2.9,.1 1.6,.8 1,1.4 .6,1.5-.1,3-2.2,3-3.6,1.5-3.3,.2-4.4-1.3-1.6-1.4-.4-2 .5-1.5 3-3 3-1.5zM1531.6,228.6l4.4,2.6 4.6,1.8 4.4,1.1 4.6,.5 7.4-.4 15-3.6 4.5-.4 4.5,.5 6,1.7 28.5,12.2 12.9,3.5-96.8,0 0-19.5z" fill="#de1e00" fill-rule="evenodd"/>
<path d="M1531.6,107.1l150,0 0,29.1-9-.6-7.6,1.2-8.5,3.3-13.9,6.5-4.6,1.3-4.5-.7-2.9-1.8-7.2-8.3-6.4-5.1-6-2.8-4.4-.7-6,.2-6.9,2.4-3.1,1.5-12.6,7.9-6,1.9-18-.2-15-1.8-7.4-.1 0-33.2zM1540.1,180.6l1.9-.9 1.6,.1 1.4,.9 .5,1.4-.3,1.5-1.6,1.5-3.1,0-1.6-1.5 0-1.5 1.2-1.5zM1531.6,233.1l0-1.2 9,3.4 4.4,.8 6,.3 7.6-1 13.4-3.4 4.6-.4 4.4,.4 6,1.7 24,10.6 10.1,3.8-89.5,0 0-15z" fill="#da1700" fill-rule="evenodd"/>
<path d="M1531.6,107.1l150,0 0,26.7-7.6-.2-7.4,1.2-24,9.3-6,1.2-3-.6-3-1.8-7.4-7.3-6.2-4.3-5.9-2.7-4.5-.7-6,.3-6,2-5.6,2.4-11,6.2-6,1.6-18,0-15-1.9-7.4-.4 0-31zM1575.7,233.1l5.3,.2 4.6,1.2 30.8,13.6-84.8,0 0-13.1 9,2.6 8.9,.6 7.5-.9 12-3.2 6.7-1z" fill="#d71000" fill-rule="evenodd"/>
<path d="M1531.6,107.1l150,0 0,24.4-7.6,.3-6,1-22.4,7.9-7.5,1.8-3-.1-3.1-1.1-11.4-8.7-6.5-3.5-3.1-1.1-4.4-.6-4.6,0-4.4,1.1-7.3,2.6-12.3,6-4.4,1.2-19.5,.4-22.5-2.8 0-28.8zM1575.8,234.6l5.2,.1 4.6,1.2 26.9,12.2-80.9,0 0-10.2 9,1.9 9,.2 7.4-1 12-3.3 6.8-1.1z" fill="#d40900" fill-rule="evenodd"/>
</g>
<path d="M1602.6,141.9l-4,1.3-2,1.5-2.4,2.4-1.6,2.2-1.6,2.8-1.4,3.4-.7,2.6 .2,3 1.7,8 1.8,5.6 1,1.7 1.6,1.7 1.4,.7 2,.5 2-.2 1.7-1 7.2-5.9 6.1-4 1.6-3.1 .6-3-.1-2-2-9-3.2-6.3-1.9-2.1-2-1-3-.4-3,.6M1631.6,184.4l-1,.8-1,1.9-1.6,7-1.6,5-1.8,4.4-1.5,2.6 0,1 2.3,1 5.2,.7 6.9-.9 2.1-.9 1.3-1.9 .3-1-.2-3-.8-5-.8-3-1.2-2-2.8-3-1.7-3-1.2-.8-.9,.1M1614.6,205.9l-1.2,1.2-.1,1 .3,.6 1,.6 .9,.1 3.9-1.3 1-1-1.2-1-2.6-.9-2,.7M1601.6,135.8l-6,2.7-4,3.2-3.7,4.4-5.2,8-1.6,3-.8,3 0,3 1.2,6-.7,4-1.2,3.1-1.2,1.9-1.8,1.8-6,3.1-2.8,2.1-5.4,8-10.1,10-1.3,2-.5,2 .3,3 1.2,3 1.6,2 1.2,1 1.8,1 3,.8 3,.2 7.9-.6 5.1,0 4,.5 9,1.9 6.9,2.4 13.1,5.8 4,1.1 2.9,.1 4.1-.6 5-1.7 7-3.3 6-1.1 4-.1 9,2.2 1,.1 1.8-.7 1.9-2 1.2-3 .5-3 .3-10 .8-3 1.7-4-.1-1-.8-1-3.3-1.7-1-1.1-.6-1.2-1.7-8-.7-7-1-2.9-1.1-.9-1.9-.8-7.4-1.4-2.6-1-8-7.8-7-8.3-2.6-6.9-2.2-5-2.3-3.8-1.9-2.3-2-1-3-.8-4.1,0-2.9,.6M1609.4,183.1l3.1-.5 3,.3 2.1,.9 2,1.9 1.2,2.4 .1,2-.5,3-1.2,2-1.6,1.1-2,.8-4,.2-11-1.9-2-.7-1-.8-1.1-1.7-.1-2 1-2 1-1 1.6-1 9.4-3M1681.6,148.9l-3.3-2.8-3.8-2.1-3.9-1.3-4-.2-2.2,.6-4.9,2.2-14.9,9.1-3,.9-4-.2-5-1.8-4-2.9-2.6-3.3-3.8-7-3.3-4-2.3-2.2-2.9-1.8-2.1-.9-3-.7-5-.3-4,.8-6,2.5-3,2.1-12.1,10.3-2.9,1.7-3,1-4,.7-15,0-13-1.3-5,.4-4,.9M1531.6,172l5-.1 2.9-.5 6.1-3.5 2-.7 2-.2 2,.5 1,.6 1.4,2 .4,2-1.2,3 .2,5-.3,3-.7,2-1.1,2-1.8,2-2.9,2.2-7,2.8-3.1,2-2.9,3-2,3.7M1531.6,216.7l2.3,4.4 3.7,4 4.5,3 4.5,1.7 4,.9 4.9,.1 4.1-.5 6.9-1.9 4.1-.7 5-.4 4,.3 8,2.1 22,9.6 8,2.5 6,1.2 29.9,2.3 7.1,0 5-.5 4.9-1 5.8-1.7 5.3-2.1M1681.6,126l-6,.8-6.1,1.4-12,4.5-7,2.1-4.9,1.1-5,.5-5.1-.1-2.9-.5-19-8.6-3-.9-3-.4-5,0-3,.4-16,4.9-6,2.2-4,.7-7.1-.2-12.9,.6-22.1-3.9M1531.6,244.9l9,.7 8.9-.6 8-1.6 14.1-3.9 4-.6 4-.2 3,.4 4,1.3 16.8,7.7M1681.6,109.3l-10,3.8-15.4,7-5,2-6.7,1.8-6.9,.8-7-.4-9-2.8-8-1.4-4-.3-12.1,.6-18.9,3.7-4,.1-7.1-.5-7-1-7.2-1.6-21.7-6.8" fill="none" stroke="#383838" stroke-width="1.1" stroke-opacity="0.85"/>
</g>
<path d="M1532.90,177.25a73.35,68.50 0 1,0 146.70,0a73.35,68.50 0 1,0 -146.70,0zM1536.20,177.25a70.05,65.80 0 1,0 140.10,0a70.05,65.80 0 1,0 -140.10,0z" fill="#000" fill-rule="evenodd"/>
<path d="M1593.7,111.5L1600.3,103.3M1612.2,103.3L1618.8,111.5" fill="none" stroke="#000" stroke-width="3.6" stroke-linecap="butt"/>
<path d="M1536.9,163.2C1534.5,161.4 1529.2,161.3 1529.0,169.0C1528.8,175.2 1528.5,183.7 1528.2,187.9C1528.0,196.8 1534.6,196.8 1537.9,194.5" fill="none" stroke="#000" stroke-width="3.1" stroke-linecap="butt" stroke-linejoin="round"/>
<path d="M1675.6,163.2C1678.0,161.4 1683.3,161.3 1683.5,169.0C1683.7,175.2 1684.0,183.7 1684.3,187.9C1684.5,196.8 1677.9,196.8 1674.6,194.5" fill="none" stroke="#000" stroke-width="3.1" stroke-linecap="butt" stroke-linejoin="round"/></g>
<g id="theta_d"><clipPath id="c_theta_d"><ellipse cx="192.8" cy="452.35" rx="107.8" ry="108.7"/></clipPath>
<g clip-path="url(#c_theta_d)">
<g filter="url(#blur)">
<rect x="82" y="340" width="223" height="224" fill="#2c75b4"/>
<path d="M84.5,343.2l93.4,0 9.2,10.5 5.4,7 3,1.8 3,.4 3-.9 3-2.2 5.2-6.1 9.9-10.5 82.4,0 0,219-217.5,0 0-219z" fill="#337eb8" fill-rule="evenodd"/>
<path d="M84.5,343.2l88.4,0 13.8,18 5.8,4.9 4.5,1.4 4.5-.7 4.5-2.8 19.3-20.8 76.7,0 0,219-217.5,0 0-219z" fill="#3a87bd" fill-rule="evenodd"/>
<path d="M84.5,343.2l83.8,0 12.5,16.5 2.7,2.9 7.5,6.5 3,1.6 3,.6 6-1.3 4.5-2.7 8-7.7 8.5-9.8 6.9-6.6 71.1,0 0,219-217.5,0 0-219z" fill="#4191c2" fill-rule="evenodd"/>
<path d="M84.5,343.2l79.3,0 4.7,5.2 10.1,12.8 3.4,3.5 9,7.5 3,1.7 3,.5 6-1.3 3-1.2 2.6-1.7 9.9-9 10-11 8.2-7 65.3,0 0,219-217.5,0 0-219z" fill="#4f9bc7" fill-rule="evenodd"/>
<path d="M84.5,343.2l74.2,0 6.8,6.4 14.2,16.1 11.1,9 4.7,2.1 3-.3 6-1.6 4.5-2 11.9-10.2 10.6-10.6 11.4-8.9 59.1,0 0,219-217.5,0 0-219z" fill="#60a5cd" fill-rule="evenodd"/>
<path d="M84.5,343.2l68.5,0 9.5,7.7 12.5,13.3 5,4.4 9.8,7.6 2.7,1.6 3,1 11.6-2.6 3-1.6 11.3-8.9 13.1-11.8 7.5-5.7 7.7-5 52.3,0 0,219-217.5,0 0-219z" fill="#70afd2" fill-rule="evenodd"/>
<path d="M84.5,343.2l62.1,0 12.9,9.4 13.7,13.1 5.4,4.5 10.6,7.4 3.3,1.8 3,.8 12-2.5 3.6-1.5 32.4-24.8 7.5-4.8 6.5-3.4 44.5,0 0,219-217.5,0 0-219z" fill="#80bad8" fill-rule="evenodd"/>
<path d="M84.5,343.2l54.9,0 17.1,11.5 18.6,15.5 13.9,9 3.5,1.6 3,.6 12-2.3 4.5-1.6 13.5-9.4 8.7-5.4 15.3-11.2 6-3.3 7.5-3.2 5.7-1.8 33.3,0 0,219-217.5,0 0-219zM201.5,499l-4.5,1.4-1.5,1-1.8,2.2-.9,3 .3,3 .9,1.9 1.5,1.5 3,1.3 4.5,.1 4.5-1.5 2.1-1.7 1.5-3-.1-4.6-2-3-3-1.5-4.5-.1z" fill="#91c4dd" fill-rule="evenodd"/>
<path d="M84.5,343.2l46.1,0 6.4,3 7.3,4.4 29,21 15.7,9.1 3.5,1.4 3,.5 13.5-2.4 4.5-1.6 13.5-9 10.5-5.3 13.5-9.8 6-3.2 6-2.4 9-2.4 10.5-1.3 9,0 10.5,1.3 0,215.7-217.5,0 0-219zM195.5,424l-5.1,1.6-5.3,3-1.3,1.6-.2,1.4 .8,1.6 2.1,1.5 7.5,2.5 1.5,.1 2.3-1.1 1.1-1.5 1.2-3.1-.1-4.4-1.5-2.6-1.5-.7-1.5,.1zM195.5,493.1l-3,1.5-1.3,1.6-1.9,4.4-1.5,7.6 .3,3 1.4,3.3 3,3 3,1.3 3,.4 7.5-1.1 5.8-2.4 2.7-3 1.4-4.5 0-6-1.8-4.5-2.1-2.1-4.5-1.9-7.5-1-4.5,.4z" fill="#9ecbe1" fill-rule="evenodd"/>
<path d="M84.5,343.2l31.9,0 11.6,3.4 7.5,3.2 6,3.4 27,18.8 20.8,10.2 3.2,1 3,.5 15-2.4 4.5-1.4 13.5-8.7 9.8-4 14.2-9.8 6-2.9 6-2.2 9-1.9 9-.7 10.5,.6 9,1.6 0,210.3-217.5,0 0-219zM197,418.1l-10.5,4.2-7.5,4.7-2.4,3.2 0,1.4 .9,1.6 3.6,3 2.4,1.3 10.5,3.3 3,.5 3-1.6 2-2.1 2.6-4.4 .6-3-.1-3-1-4.6-1.1-3-1.5-1.5-1.5-.3-3,.3zM192.5,488.5l-3,2.3-2.5,3.8-2.3,12-.3,3 .3,3.1 1.7,4.5 1.6,2.3 1.5,1.5 3,1.7 3,.7 3,0 12-3 4.5-2.4 1.5-1.5 1.5-2.8 1.6-7-.1-6.5-.6-2.5-1.4-3.1-2.9-2.9-4.1-2-12-2.1-3,0-3,.9z" fill="#abd2e5" fill-rule="evenodd"/>
<path d="M88.1,347.7l9.9-1.3 9,.2 10.5,1.6 10.5,2.9 7.5,3 6,3.2 19.5,14.1 4.5,2.7 24,9.5 6,1.2 16.5-2 4.5-1.2 13.5-8.9 10.5-3.9 13.5-8.6 4.5-2.1 6-2 9-1.6 9-.3 9.9,1 9.6,2.3 0,204.7-217.5,0 0-213.7 3.6-.8zM195.5,415l-9,3.5-7.5,4.3-4.6,4.4-1.4,3 .1,1.4 .7,1.6 2.2,2.3 5.6,3.7 15.4,4.5 4-1.5 5.1-4.6 2-3 .9-4.4-1.9-9-2.5-4.5-3.1-1.9-3-.2-3,.4zM194,483.9l-4.5,2.3-2.5,2.4-2,3.1-.9,3-2,11.9-.4,4.6 1.8,7.3 3,5.7 1.5,1.4 3,1.6 6,.4 6-1.1 7.5-2.6 4.5-2.2 3-2.3 2.3-3.7 1.5-4.5 .8-4.6 .2-4.4-.6-4.6-1.4-4.4-2.8-3.8-3-2.5-3-1.3-10.5-1.7-4.5-.4-3,.4z" fill="#b8d8e9" fill-rule="evenodd"/>
<path d="M95.1,352.2l7.4-.6 9,.5 9,1.6 10.5,3 7.5,3 6,3.4 15,12.1 4.5,2.9 4.5,1.4 9,1.5 12,3.9 6,1.1 19.5-1.5 4.5-1.1 3-1.9 6.3-5.3 4.2-2.8 9-2.6 13.5-7.9 4.5-1.8 6-1.6 9-1 9,.3 9,1.6 9,2.8 0,199-217.5,0 0-207.4 10.6-2.6zM195.5,412.1l-7.5,2.3-6,2.8-4,2.4-5,5.3-1.5,2.4-.9,2.9 .1,1.4 1.6,3 3.2,3 3.5,2.4 3,1.3 6,1.4 6,2.1 3,.5 5.5-1.7 6.5-4.2 2.5-3.2 1-4.5-.3-3.1-1.8-6-2.9-6.1-1.5-1.6-3-1.8-3-.9-4.5-.1zM192.5,481l-3,1.5-2.2,1.7-2.3,2.5-2,3.5-1,3.1-2.5,16.3 1.2,9.1 1.3,5.2 1.5,3.7 3,3.4 1.5,.7 3,.5 6-.8 9-2.2 7.5-3.6 4.5-2.8 2.6-2.6 1.9-3.4 2-5.6 1-6-.5-6-1.9-7.5-2.1-3.3-4.5-4.7-3-1.7-6-1.2-9-.7-6,.9z" fill="#c5dfed" fill-rule="evenodd"/>
<path d="M93.7,358.2l10.3-1.3 10.5,.8 16.5,3.6 10.5,3.8 3,2.1 7.9,7.5 6.5,7.5 2.4,4.5 .3,1.5-.6,4.9 .2,1.1 1.3,1.8 1.8-.3 .6-1.5-.1-4.5 .4-1.5 1.2-1.5 3.6-2.1 3.4-1 7.1,.3 13.5,3.3 13.5-.6 12,1.4 3-.3 3-2.2 5.7-7.8 3.8-3 8.5-1.5 12-6.9 9-2.7 9-.9 10.5,.8 9,2.2 9,3.6 0,192.9-217.5,0 0-53.8 5.8-4.8 1.1-1.4 .4-1.6-1-2.9-6.3-9.2 0-127.1 9.2-3.2zM189.5,410.6l-10.8,4.6-4.2,3-6.2,10.4 .1,3 1.6,3 4.4,4.6 4.6,2.9 16.5,4.7 3,0 3-.8 6-2.2 3-1.6 1.8-1.6 2.2-3 1.3-4.4-1.2-6-4.1-10.6-1.5-1.9-3-2.3-6-2.6-6-.4-4.5,1.2zM287,466l-3,1.7-1.1,1.5 0,1.4 1.1,1.7 3,1.8 4.5,.8 3-.3 3-1 2.3-1.4 1.2-1.6 0-1.4-1.7-1.5-3.3-1.2-6-1-3,.5zM192.5,477.8l-3,1.2-3,2.1-2.9,3.1-2,3-1.6,4.4-2.5,16.6 0,6 1.5,12 1,4.5 1.4,3 1.3,1.5 3.8,1.6 4.5-.3 15.3-4.3 3.3-1.5 9.9-6 3-3 1.8-3 2.7-7.5 .9-4.5-.5-6.1-2.6-10.4-5.3-7.2-3-3-4.5-2-6-.8-7.5-.3-6,.9z" fill="#d2e5f0" fill-rule="evenodd"/>
<path d="M100.7,362.7l6.3-.4 7.5,.8 19.5,4.1 6,2.4 9,8.4 3,3.8 1.3,3.4 1.7,9 2.2,4.5 3.8,3.2 3,.9 3-.8 2-1.8 1.4-3 1.3-6 1.3-2.3 3-2 3-.6 4.5,.1 9,2.1 13.5,.2 6,.9 3,1.6 5.7,6 1.8,.2 6-6.4 1.5-2.6 2.4-6.2 1.9-3 1.7-1.6 1.5-.5 4.5,.1 1.5-.4 12-7 7.5-2.2 9-.7 10.5,1.2 10.5,3 9,4.6 0,83.4-4.5,1.6-9,.8-6.3,1.7-3.9,1.4-2.4,1.6-1.2,1.4-.2,1.6 1.5,3 3,3 3.5,2.6 3,1.4 7.5,1.4 9-.6 0,82.2-217.5,0 0-46.1 12-7.3 10.4-5.2 1.6-1.4 .3-1.6-1.8-3-1.5-1.1-7.5-2.6-3-1.9-10.5-12.2 0-111.2 7.5-3.8 8.7-2.1zM189.5,407.3l-14.9,4.9-2.4,1.4-1.6,3-1.2,6-3.7,6 0,1.6 1.2,3 4.6,5.8 6,4.5 3,1.1 7.5,1.4 6,2.1 3,.5 3-.3 7.5-1.9 4.5-1.8 2.9-2.4 1.6-2.4 1.6-3.6 .4-3-1.4-6-4.4-12-2.2-2.8-1.5-1.1-9-4-6-.9-4.5,.9zM191,475l-3,1.3-3,2.1-3,3.1-2.7,4.1-1.4,4.6-.8,9-1.9,9-.2,4.5 1.1,19.5 1.4,4.3 1.5,2.4 1.5,1.4 3,.9 3-.1 4.5-1.1 9-3.8 7.5-2.1 13.5-7.7 3.3-3.2 1.9-3 2.9-7.5 1.1-4.5-.4-6-3.2-12-8.6-12.2-4.5-2.5-6-1.4-9-.3-7.5,1.2z" fill="#d9e9f2" fill-rule="evenodd"/>
<path d="M99.4,368.7l7.6-.9 9,1.3 9,3 9,2.3 4.5,2.5 4.5,3.5 3.9,4.8 4,10.5 2.6,5.2 4.5,5.8 6,5.9 2.3,4 1,3 0,3-.6,1.6-2.6,3-.6,1.4 .1,1.6 1.2,3 3,4.4 5.2,5.4 4.5,2.8 3,.9 7.5,1.2 6,2 3,.5 3-.1 7.5-1.3 4.5-1.5 3.5-2.3 3.4-4.6 1.5-4.4 .1-4.5-5-18-2-4.3-1.5-1.3-12-4-6-.8-12,2.1-4.1-.8-1.4-1.4-.6-1.5-.1-6 .7-3.1 .9-1.4 1.6-1.2 4.5-1 7.5,1.3 9,.3 7.5,1.3 2.1,.8 1.9,1.5 3.5,6.7 1.5,1.7 3,.4 3-1 3-2.5 6-7.6 3.5-6.7 2.5-2.8 6-2.2 12-6.6 4.5-1.6 4.5-.8 6-.1 6,.7 6,1.3 10.5,3.8 4.5,2.5 4.5,3.4 0,69.6-2.9,3.2-3.1,1.7-18,3.8-5.9,2.1-1.7,1.4-.7,3 .8,3.2 3,4.9 3,3.2 3,2.1 4.5,1.6 6,1.4 12,.8 0,77.4-217.5,0 0-40 11.5-8 12.5-7.5 1.8-1.5 1.5-3-.5-3-2.4-4.6-1.9-1.4-7.5-3.1-3-2.2-12-14.9 0-95.9 3-2.7 4.1-2.7 7.8-3zM200,470.6l-9,1.3-4.5,1.6-2.8,1.7-4.8,4.4-1.9,3.1-1.2,2.9-.6,4.6-.4,9-2.4,12-.1,19.5 1.2,6 1.9,4.5 2.1,2.3 3,1.4 4.5,0 4.5-1.3 10.5-5.1 9.6-3.3 11.4-6.3 3.7-2.7 2.6-3 1.7-3 2.8-7.5 .7-3-.1-4.5-4.4-15-1-2.2-6.4-9.8-4.1-4-4.5-2.3-6-1.3-6,0z" fill="#e1edf3" fill-rule="evenodd"/>
<path d="M99.7,374.6l7.3-1.3 6,.6 4.5,1.5 6.9,3.8 9.6,2.5 4.5,2.8 4.5,5.4 12,21.2 3,3.7 4.5,3.5 1.5,1.7 .8,2.6-.6,1.6-2.4,3-.3,3 2.1,4.5 6.4,8.7 3,2.7 4.5,2.3 9,1.4 7.5,2.3 4.5,.8 7.5-.4 4.5-1.2 5.2-3.1 4.4-4.6 2-4.4 .5-4.6-.5-4.4-3-13.6 .2-6 2.6-4.4 8.4-9 6.2-9 2.9-3 11.6-5.7 7.5-3.1 4.5-1 4.5-.2 7.5,1 10.5,3.2 7.5,3.6 6,4.6 3,3.4 0,37.2-3,6.3-.9,3.1-.1,1.6 1.4,6-.4,4.6-1.7,2.8-2.8,2.1-4.5,1.5-20.1,4-3.1,1.4-1.1,1.6-.1,1.4 1.2,4.6 2.2,5.2 3,5.2 3,3.5 3,1.3 9,2.2 15,2.1 0,73.5-217.5,0 0-34.2 11.6-9.3 14.6-10.5 2.7-3 .8-3-1.3-6-1.3-3-3.1-2.6-7.5-3.2-3-2.4-8.9-11.4-2.4-4.4-2.2-6.1 0-10.6 .5-1.3 2.9-4.5 2.6-2.2 4-2.3 1-1.6 0-1.4-1-3-3.8-7.6-6.2-18.3 0-19.8 2.4-5.3 3.5-4.5 4.6-3.8 4.7-2.3zM197,467.5l-9,1.9-7.5,3-5.6,4.2-1.9,2.8-.7,1.8-.3,4.4 .3,12-3.1,13.6-1.2,7.5 0,4.5 .7,7.5 1.7,7.5 2.4,6 3,3 3.2,1.2 4.5,.2 4.5-1.2 11.1-6.2 15.9-6.8 9-5 4.2-3.2 2.4-3 2.1-4.5 2.1-6 .3-3.1-.5-4.4-6-16.6-9.1-14.6-4.5-3.9-6-2.7-4.5-.7-7.5,.8zM183.6,394.2l1.4-.7 3-.3 10.5,.8 4.2,1.6 1.1,1.6-.6,1.4-1.7,.5-10.5,.8-4.5-.2-2.7-1-1-1.5 0-1.5 .8-1.5z" fill="#e9f0f4" fill-rule="evenodd"/>
<path d="M105.1,379.2l4.9-.6 4.5,.6 9,4.2 7.5,2.4 4.5,2.8 6,6.7 9.6,16.9 3.9,5.1 3.7,3.9 .7,1.4-.3,6 .6,3 9.4,15 3.9,3.3 3,1.5 3,.8 7.5,.6 4.5,1 4.7,1.8 4.6,3 .2,1.6-1.3,1.4-2.6,1.6-4.2,1.4-11.9,2.6-6,2.4-4.5,3.6-1.5,2.3-1,2.7-.2,4.4 2.2,12-.3,4.6-2.9,9-5.2,10.5-.1,4.5 9.2,24 1.3,1.6 3,2.2 3,1 3,.3 4.5-.3 3-.9 3-1.7 7.5-5.5 10.5-5.3 10.5-4.2 9.1-5.2 2.9-2.4 1.7-2.1 2.2-4.5 2.1-6 .5-3-.6-4.6-8.9-20.6-9-15.4-10.8-10.4 0-1.6 1-1.4 11.5-10.6 3-4.4 .5-3-.1-3-.8-7.6-1.8-8.9-.2-4.5 1-4.6 2.2-4.4 7.9-9 5.4-7.5 2.2-2 10.5-5.3 7.5-2.5 7.5-.6 7.5,1.4 13.5,5 4.2,2.5 3.3,2.6 3,3.3 2,3.1 1.3,3 1.2,4.3 0,9.5-.5,2.7-6.7,19.5-.2,3 1.6,7.4-.6,3.1-2.6,2.7-3,1.3-25.5,4.8-2.6,1.7-.8,1.4-.2,1.6 8.1,17.4 2.3,3.6 1.6,1.5 5.1,2 24,4.7 0,69.8-217.5,0 0-28.1 13.3-12.4 16.1-13.5 2.5-3 1.1-3-.4-7.5-1.4-3.1-4.3-3-8.9-3.2-3.4-2.7-4.6-6.1-2.7-4.4-2.4-6-1.3-6 .1-4.6 1.7-4.4 3.2-3 5.5-3 1.5-1.6 1-3-.7-4.4-2.9-7.6-6.6-21-.8-5.9 .4-6.4 1.9-5.6 2.9-4.5 4.2-3.6 5.6-2.4z" fill="#f1f4f6" fill-rule="evenodd"/>
<path d="M255.3,383.7l6.2-.7 5.6,.7 16.9,6.3 4.5,2.6 3.4,3.1 3.2,4.5 1.6,4.5 .7,4.5-.4,6-5.2,21 0,3 1.4,7.4-.2,1.6-1,1.4-2.7,1.6-5.3,1.3-22.5,3.6-2.8,1.1-2.2,1.5-1,1.5-.3,1.5 .8,3 5.7,5.9 5.1,12 1.7,3 2,2.2 4.5,2.2 27,6.1 0,66.1-217.5,0 0-21.4 16.4-17.6 18.7-18 5.3-10.6 .2-1.4-.4-1.6-1.2-1.4-2.8-1.6-7.7-2.7-7.5-1.7-4.5-2.6-2.9-3.4-1.8-3-2-4.6-1.3-4.4-1-7.6 .8-4.4 2.1-3 7.6-4.7 1.8-2.9 .6-3-.4-4.4-2.3-9-.8-7.6-3.5-10.4-.9-6 .2-4.6 1-4.4 1.5-3 2.3-3 2-1.8 3-1.6 4.5-1.1 3,.1 14.6,5.8 6.4,4.8 4.5,5.2 7.3,12.6 6.8,9 1.5,3 2.1,9 4.3,6 3.3,9 5.1,6 2,3 .4,1.5-.2,1.5-7.8,10.4-2.1,6-.1,6 3.4,12.1-.5,4.9-3,7.2-6.8,8.9-.7,1.5-.2,3 1.7,8.1 7.4,11.4 2.1,7.5 2.3,4.5 3.2,2.7 3,1.4 3,.8 4.5,.3 4.5-.6 4.5-1.8 3-2 4.2-5.3 9.6-6 2.7-1.5 9-2.7 10.5-5.4 4.5-3.4 2.3-3.5 4.3-12-.2-4.5-2-4.6-5.9-9.6-3-7.4-5.2-10-2.3-5.7-5.2-9.3-.6-3 .8-3 2-3.1 3-2.6 5.4-3.3 1.3-1.4-.2-3-2.6-9-2-15 .4-4.6 2-5.9 1.8-3 5.8-6 6.1-7.9 4.5-2.8 10.3-4.3z" fill="#f7f6f5" fill-rule="evenodd"/>
<path d="M251.8,388.2l5.2-1.4 6,.3 4.5,1.3 12,5 4.5,2.3 3.6,3 2.4,3 1.8,4.5 .6,3 0,4.5-3.4,19.5-.2,4.4 .5,7.6-.8,2-1,1-3.5,1.4-6,1.6-24.1,3-3.5,1.4-1.2,1.6-.3,1.4 1.3,4.6 2.3,4.1 1.8,1.9 4.2,2.8 1.2,1.7 4.8,12.2 3,4.4 4.5,2.4 15,3 15,4.1 0,62.4-99.8,0 2.8-1.5 2.3-3 .5-3-1.3-6 .2-1.5 1.9-3 1.7-1.5 1.7-.8 6-1.2 4.5-1.6 9-4.3 3-2 2.2-2.1 2-3 5.6-15 .3-3.1-.7-2.9-1.8-3-7.6-9.5-7.8-17.6-4-16.4 .6-3 .9-1.6 1.3-.9 3-.9 8.9-1.2 2.1-1.4 .5-1.5-.4-3-1.6-3.1-6.5-6.4-2.2-4-2-15 .4-4.6 1.3-4.4 1.5-3 11.5-13.1 3-2 6.8-2.9zM110.5,391.2l4-1.2 3,.4 7.5,2.7 6,3.6 6,5.9 12.8,17 2.6,4.6 2.8,10.4 4.2,7.6 1.6,6.1 3,7.3 .3,3-1,4.6-4,9-1.2,6 .1,6 2.5,9 .2,4.4-1.5,4.6-4.9,7.4-2,4.6-.9,4.5 .6,6 2.1,7.5 5.5,9 2.9,9 2.4,4.5 1.9,2.2 3,2.4 3,1.5 4.2,1.4-92.7,0 0-13.7 20.5-25.3 17-18 7-10.6 .6-1.4-.4-3-1.2-1.7-3-2.1-7.5-2.4-10.5-1.8-3-1-1.5-1.1-1.8-1.9-1.8-3-1.9-6-.7-9 .9-4.6 1-1.4 7.7-6 1.9-3 .8-3-.1-4.6-2.4-10.4-.2-9-1.5-10.6-.1-4.4 .7-4.5 1.2-3.1 2.3-2.9 2-1.5z" fill="#f9f0eb" fill-rule="evenodd"/>
<path d="M256.5,391.2l3.5,.1 4.5,1.1 13.5,6 5,3.3 1.4,1.5 1.7,3 .8,3 .2,3-1.5,13.4-.2,16.6-1.4,3.1-1.6,1.3-2.9,1.5-6,1.5-7.5,.6-12-.6-4.5-.9-3.1-2.1-5.9-7-5.2-5-2.3-3.1-1.5-5.5-.8-7.8 .7-6 1.6-4 9-10.5 2.3-2 5.8-3 6.4-1.5zM117.1,400.2l3.4-.6 3,.5 4.5,1.9 4.5,3.1 13.5,13.5 2.9,4 1.9,4.6 .9,4.4 .9,9.1 2.9,4.5 1.3,3 1.8,6 .5,4.4-.6,4.6-3.8,9-1.2,4.4-1.2,10.6 1.1,10.4-3.8,16.6-.4,4.5 .2,4.5 1.1,6 2.1,7.5 3.5,7.5 3.7,10.5 2.7,4.5 2.6,3-80.6,0 0-4.5 23-33 4.6-6 9.9-11.1 6-7.8 6.9-6.6 1-1.6-.1-1.4-1-1.6-3.9-3-2.9-1.6-9-2.6-13.5-2.1-1.7-1.1-1.3-1.6-2.1-5.9-.3-6.1 1-6 1.9-2.9 8.3-7.5 1.4-3 .1-6-3-12 0-4.6 1.6-12 1.1-4.4 2-4 2.6-2zM231.9,460.2l2.6-.6 3,.1 4.5,1.3 4.5,3.4 5.5,6.2 3.7,3 2.6,4.6 2.8,13.5 .5,1.5 1.4,1.6 4.5,1.5 18,2.6 16.5,4.7 0,58.6-89.4,0 1.8-4.5 .6-8 1.5-2.5 10.5-3.4 7.5-5.6 4.5-4.8 2.2-4.2 3.1-9 4.9-12 .1-3-1.1-1.6-9.2-6.7-4.5-5.1-4.8-12.2-1.5-6 .2-7.4 .7-3 .8-1.6 2-1.4z" fill="#faeae1" fill-rule="evenodd"/>
<path d="M253.3,397.2l5.2,.1 4.5,1.5 11.1,5.9 2.2,1.5 1.7,1.8 .7,2.6-1.4,9 3.5,12 .9,6-.8,4.6-2.9,3-4.5,1.7-7.5,.3-4.5-.6-9-2.2-3.2-2.2-10.3-11.9-1.5-2.4-1.5-4.5-.6-5.2 .5-4.6 1-2.9 3.1-4.5 5-5.4 3.2-2.1 5.1-1.5zM121.1,410.6l2.4-.9 4.5,.2 4.5,1.7 6,3.5 4.5,3.6 2.2,2.5 1.8,3 1.6,4.5 1.1,11.9 3.6,9 1,6-.1,4.6-1.8,6-4.9,8.2-3,3.8-1.7,1.4-2.8,1.4-3,.6-4.5-.3-24-4.6-3-2-1.5-3.6-.4-3.4 .3-4.5 1-3 2.1-2.8 6-3.9 4.5-1.5 4.6-.8 2.1-1.5 .4-1.5-.3-1.6-.7-1.4-4.6-5.5-1.5-2.6-2.1-5.4-1-4.5 .3-4.6 1.3-4.8 2.1-4.2 3-3zM235.5,466.2l2-.7 3,.1 4.5,1.5 3,2 3.3,3.1 3.4,4.4 1.2,6.1-.4,6-2.4,4.5-3.6,2.8-1.5,.5-3,.2-4.5-1.5-3-2-1.5-1.5-1.5-2.6-3.1-9.5-.6-4.4 .5-3 1.3-3 1-1.5 1.9-1.5zM134.7,497.6l3.8-.8 3,0 3,1.4 1.7,2.4 .9,3.1 .2,3-.2,16.5 2.3,13.5 5.3,18 3.3,7.5-68.9,0 24.8-42 14.1-17.4 3-3 3.7-2.2zM266.3,502.2l5.7-1 9,.6 7.5,1.6 13.5,4.3 0,54.5-80.9,0 4-6 7.9-8.1 7.5-9.5 2.4-4.9 4.4-13.5 5.2-8.3 3-3 4.5-3.4 3-1.9 3.3-1.4z" fill="#fbe4d7" fill-rule="evenodd"/>
<path d="M126.2,416.6l3.3-.4 6,1.2 4.5,2.2 3.3,3.1 2.7,5.9 1.2,12 1.4,4.6 .4,3 0,12-.5,3-1.2,3-2.2,3-6.5,6-3.1,1.3-4.5,.8-7.5-.5-10.7-3.2-3.5-3-.9-1.4-.8-3 .3-3 .8-1.6 1.4-1.4 2.9-1.7 4.5-.9 6,.4 9-1.6 2.1-.8 .9-1.4-.6-3-5.5-9-6.5-6-2.6-4.6-.4-4.4 .7-4.6 1.4-2.8 1.5-1.6 2.7-1.6zM260.6,433.2l5.4-1.1 6,1.2 1.5,.8 1.9,2.1 .8,3-.4,1.4-1.2,1.6-2.6,1.1-4.7-1.1-3.3-1.6-4.4-2.9-.9-1.5 .2-1.5 1.7-1.5zM237,470.6l3.5-1.3 4.5,.6 4.2,2.3 2.4,3 1.2,4.4-.4,6-1.4,3-1.2,1.6-3.3,2.2-3,.5-3-.3-3-1.6-1.8-2.4-2.3-7.4-.2-4.6 1.3-3.5 2.5-2.5zM134.7,500.7l2.3-.2 3,1.1 2.1,2 1.5,3 1,6.1 .2,12 2.2,16.5 2.3,13.5 2.1,7.5-54.3,0 18.9-40.5 9.4-13.5 5.6-5.4 3.7-2.1zM267.7,506.7l5.8-1.3 7.5,.4 9,2.1 12,4.1 0,50.2-72,0 9-12.6 5.1-8.4 1.7-4.5 2.9-12 2.3-4.8 3.4-4.2 4.1-3.9 4.5-2.9 4.7-2.2z" fill="#fcdfcd" fill-rule="evenodd"/>
<path d="M129,421.2l3.5-.7 4.5,.9 3,1.8 1.9,2.4 1.7,4.6 .4,6-.2,7.4-.8,2.3-1.2,.7-3.3-.4-3-1.8-9.8-11.2-1.1-3 .3-4.6 1.6-2.7 2.5-1.7zM133.9,460.2l4.6-1.2 3,0 1.5,1.3 .8,2.9-.8,3-1.5,1.9-3,2.7-4.5,2.3-6,1.2-6-.6-3.9-1.5-2.1-1.5-2.2-3.1 0-3 1.3-1.4 2.4-1.3 16.4-1.7zM238.3,473.6l3.7-1.4 3,.2 3,1.2 1.5,2.2 .8,3.8-.5,4.6-1.8,3.2-3,2.1-4.5,.5-2.6-1.4-1-1.4-1.1-3-.6-4.5 .8-3.5 2.3-2.6zM132.8,505.2l2.7-.7 3,1.5 1.6,2.2 1.5,4.5 .5,12 1.1,9 0,19.5 .9,9-38.1,0 3.7-10.5 7.9-25.5 1.8-4.5 7.1-11.6 3-2.8 3.3-2.1zM268.5,511.2l6.5-1.4 6,.3 9,2.2 12,4.3 0,45.6-64.3,0 5.3-9 3.6-7.5 2.1-6 2.7-12 2.1-4.5 2.2-3 4.3-4.1 4.5-3 4-1.9z" fill="#fcd7c2" fill-rule="evenodd"/>
<path d="M130.4,425.7l2.1-1.1 1.5-.1 3,1 1.7,1.7 1.4,3 .4,4.5-.5,3.2-1.5,1.9-1.5,.3-2.3-.9-4.5-6-1.2-3 0-1.5 .3-1.5 1.1-1.5zM121.6,464.6l3.4-.6 7.5,.5 4.5-.8 1.5,.3 .5,.6-.5,1.7-2.5,1.3-7.7,3-3.3,.4-2.1-.3-2.4-1.5-.8-1.6 .2-1.4 1.7-1.6zM243,475.2l2,.2 1.7,1.2 .7,1.6 .3,3-1,3-1.2,1.5-2,1.2-1.5,.3-1.5-.3-1.5-1.1-.9-1.6-.6-3 .2-1.6 1.3-2.6 1.5-1.2 2.5-.6zM129.8,511.2l2.7-1.4 1.5-.1 2.4,1.5 1.6,3 .7,6 .3,13.5-.5,5-4.9,17.5-1.1,6-13.3,0 1.1-18 2.3-19.5 .7-3 2-4.5 2.7-4.3 1.8-1.7zM270.4,515.7l6.1-1.2 6,.7 7.5,2 12,4.6 0,40.4-57.5,0 5.2-12 1.8-6 2.2-10.5 2.5-6 2.3-3.4 4.3-4.1 4.4-3 3.2-1.5z" fill="#faccb3" fill-rule="evenodd"/>
<path d="M241.8,481.2l.2-.5 1.6,.5-1.6,.5-.2-.5zM130.9,518.7l1.6,.3 .3,1.2-.3,1.8-1.5,.9-.9-1.2-.1-1.5 .9-1.5zM271.6,521.7l4.9-1.3 6,.5 8,2.3 11.5,4.5 0,34.5-51.1,0 3.5-10.5 2.7-13.5 1.4-3.9 1.5-2.5 3-3.5 4.5-4.1 4.1-2.5z" fill="#f9c0a5" fill-rule="evenodd"/>
<path d="M274.6,529.2l4.9-1.1 6,.6 6.5,2 10,3.9 0,27.6-44.5,0 5.1-19.5 1.7-4.5 2.2-3 2.5-2.5 5.6-3.5z" fill="#f7b597" fill-rule="evenodd"/>
<path d="M277.7,539.7l4.8-1.3 4.5,.1 6,1.4 9,3.1 0,19.2-36.7,0 5.2-15.1 3-4.4 4.2-3z" fill="#f5aa88" fill-rule="evenodd"/>
</g>
<path d="M169.3,343.2l12.2,16.3 2.4,2.7 4.4,4 3.2,2.4 3,1.5 3,.4 3-.4 2.8-.9 4.2-2.9 8.4-8.1 7.6-9 6.2-6M148.9,343.2l11.9,9 13,13 4.7,4 11,8 3.5,2 2.5,.6 3-.5 9-2.1 3-1.4 11.4-8.6 11.6-9.7 7-5.3 7-4.9 7.1-4.1M84.5,345.7l5-1 5-.6 5-.2 6,.2 11,1.6 11,3.1 7,2.8 7,3.8 12.7,8.8 8,6 5,3 22.3,9.7 3,1 3,.3 4-.3 7-1.3 5-.6 4-1.1 2-1.1 5.1-3.6 6.9-4.3 3-1.4 4.7-1.3 3.3-1.8 13-8.6 5-2.4 6-2.1 9-1.7 9-.6 10,.8 9,1.9M197.5,416.1l-3.7,1.1-7.2,3-4.1,2.2-4,2.6-2.3,2.2-1.4,2-.5,2 1,2 4.2,3.5 4.7,2.5 5.3,1.3 5,1.8 2,.4 2-.4 2.1-1.1 3.1-3 2.7-4 .8-3 0-3-1.6-7-.8-2-1.3-2-2-1.1-4,0M192.5,486.1l-2,1.3-2,1.7-1.6,2.1-1.1,2-2.5,13-.4,4 .4,3 1.2,4 2,3.8 2,2.2 2,1.3 3,.9 4,.3 4-.6 8-2.5 3-1.1 2.4-1.3 2.4-2 1.4-2 1.5-4 .9-4 .3-4-.2-4-.8-4-1.5-3-3.4-3.7-2-1.2-2-.8-13-2.1-3,0-3,.7M84.5,371.8l5-3.2 5-2.2 5-1.3 6-.6 5,.2 5,.8 17,3.8 4,1.4 2,1 2,1.6 6.5,5.9 2.6,3 1.3,3 2.6,10 1.3,3 1.7,2.5 2,1.9 3,2.2 2,.9 2,.4 2-.2 1-.5 2-2.2 1.6-4 1.1-6 1.2-3 .9-1 1.6-1 3.6-.9 3,0 9,1.9 11,.2 4,.5 3,.6 2,.9 2.1,1.8 4.3,6 1.6,.8 2-.2 1-.5 1-1 6-7.7 3.2-7.4 1.3-2 1.5-1.5 1.3-.5 3.7-.3 2-.6 12-7.1 6-1.8 5-.7 5-.1 5,.4 6,1 5,1.4 5,1.8 5,2.4 4,2.5M189.5,406l-9,2.8-8,.5-2.1,.9-.9,1.2-.5,1.8-.3,3 .3,4-.6,3-1.1,2-2.5,3-.1,1 .4,2 1.5,3 3.9,4.9 3,2.7 3,2.1 4,1.5 7,1.2 7,2.3 3,.4 3-.4 8-1.7 4.6-2 2.3-2 2.1-3.1 1.6-3.9 .4-3-1-4.6-3.4-10.4-2.2-5-2.4-2.4-10-4.5-6-1.1-2,.1-3,.7M301.5,457l-2,1.2-3,1-10,1.6-9,2.4-3.7,2-1.3,1.6-.3,1.4 0,1 .9,2 2.2,3 4.2,3.7 3,1.8 4,1.5 5,.9 5,.2 5-.2M193.5,473.1l-5,1.6-3,1.7-2.3,1.8-1.8,2-2.7,4-.9,2-.8,3-.8,10-2.2,11 .4,8-.1,12 1,5 1.7,4 1.5,2 1,.8 2,.7 4,0 4-1 3-1 7.4-3.5 8.6-2.6 12-6.8 3.3-2.6 3-4 3.2-8 1-4 .2-3-.3-3-3.7-13-1.7-3.1-6-8.8-1-1-4-2.6-3-1.1-3-.7-7-.4-8,.6M84.5,518.6l11-7 12-6.5 2-1.7 .9-2.2-1.2-3-1.5-2-1.2-1-8-3.1-3-2-11-13M84.5,542.8l18.5-20.6 17.4-17 3-6 3.1-5 0-1.9-.4-1.1-1.6-1.9-1.9-1.1-9.1-3-8-1.7-2-.8-2.1-1.5-2.6-3-2.3-4-1.8-5-1.1-5-.4-6 .5-3 .8-2 1-1.3 6-3.3 2-1.7 1.7-2.7 .7-3-.2-4-2.4-10-.6-8-2.5-8-.9-4-.4-5 .6-5 1.4-4 2.6-3.8 3-2.4 4-1.6 3-.3 2,.2 12,4.9 3,1.7 2.9,2.3 4.9,5 8.8,14 6.6,9 1.3,3 1.9,8 1.6,2.7 2.8,3.3 2.6,9 3.8,5 1.5,3 .4,2-.3,2-1.4,3-4.9,8-1,3-.7,4 .1,5 3.4,11 .2,2-.5,3-1,3-2,3.9-5,6.1-1.8,3-.8,2-.2,2 .9,6 1.5,5 6.9,10 2.2,8 1.3,3 2,2.4 3,2.3 2,1 3,.9 5,.6 5-.5 5-1.6 4.3-2.1 1.3-1 1-4 .6-1 3.8-2.3 6.3-4.7 1.7-.9 6-1.5 3-1 11.4-5.6 4-3 1.6-2 1-2 4.3-12 .4-2-.4-3-1.8-4-4.5-6.6-2.6-4.4-2.8-7-4.6-9-3-8-3.5-7-.6-2-.1-2 .5-2 .9-2 1.6-2 1.2-1 5-2.1 5.3-.9 1.6-1 0-1-2.9-3.3-2-3.1-2-4.6-.5-2-1.8-16 .5-4 1.6-5 1.7-3 5.8-6 5.7-7.5 3-2.1 5-2.4 6-2.5 3-.6 5.7,.1 5.3,1.1 13,5.1 5,2.5 4,3.3 2,2.4 1.5,2.6 1.7,5 .3,6-1,7-3.4,13-.5,3-.1,4 1.3,7-.3,2-.8,1-1.6,1-4.1,1.2-9,1.8-14,1.8-4.4,1.2-2.2,1-1.2,1-1,2-.1,2 .6,2 1.1,2 5,4 .8,1 5,12 2.4,4 2,1.8 4,1.8 13,2.6 14,3.6M127.7,417.2l3.8-.1 5,1.2 4,2.1 2.7,2.8 1.6,3 1.2,4 .7,10 1.4,5 .3,3-.3,13-.6,3-1.5,3-5.5,5.7-3,2.2-4,1.3-5,.5-6.3-.7-5.7-1.7-3.3-1.3-1.7-1.3-2-2.4-1-2.3-.2-2 .3-2 .9-1.4 1.8-1.6 2.2-1.2 4-.8 7,.3 8.5-1.3 2.5-1 .8-1 .4-2-1.3-3-2.9-4-3.1-5-4.6-4-1.9-2-1.3-2-.7-2-.3-4 1.1-5 1.2-2 1.6-1.7 3.2-1.3M269.6,437.2l.9-.8 1-.2 2,.5 1,1 .4,1.5-.8,2-1.3,1-1.3,.1-2-1.1-.4-1 .5-3M239.2,470.2l2.3-.4 2,.1 4,1.4 2.5,1.9 1.2,2 .8,2 .4,2 0,4-.9,3.6-1,1.7-1.4,1.7-1.6,1.2-2,.8-3,.2-2-.2-3-1.5-1.3-1.5-1.8-5-1-5 0-2 .5-2 .6-1.3 1.5-1.7 1.5-1.3 1.7-.7M98.4,562.2l4.7-10 10.7-25 2.9-6 9-13 6.8-6.1 1.9-.9 1.1-.2 3,.5 2,1.3 1.9,2.4 1.1,3.1 .7,4.9 .2,11 1.4,9 .9,10 1.9,12 1.8,7M231.2,562.2l8.3-11.9 5-8.7 1.4-3.4 3.1-13 1.5-3.5 4-5.3 5-4.6 5-3 4-1.7 3-.8 4-.3 5,.4 6,1.2 15,4.8" fill="none" stroke="#222" stroke-width="1.15" stroke-opacity="0.88"/>
</g>
<path d="M86.00,452.35a106.80,107.70 0 1,0 213.60,0a106.80,107.70 0 1,0 -213.60,0zM89.00,452.35a103.80,104.70 0 1,0 207.60,0a103.80,104.70 0 1,0 -207.60,0z" fill="#000" fill-rule="evenodd"/>
<path d="M174.0,348.3L184.2,336.1M201.4,336.1L211.6,348.3" fill="none" stroke="#000" stroke-width="3.3" stroke-linecap="butt"/>
<path d="M91.3,427.2C87.7,425.5 78.9,425.4 78.7,437.1C78.5,450.4 77.4,461.8 77.1,467.6C76.9,480.5 86.8,480.6 91.6,478.2" fill="none" stroke="#000" stroke-width="3.3" stroke-linecap="butt" stroke-linejoin="round"/>
<path d="M294.3,427.2C297.9,425.5 306.7,425.4 306.9,437.1C307.1,450.4 308.2,461.8 308.5,467.6C308.7,480.5 298.8,480.6 294.0,478.2" fill="none" stroke="#000" stroke-width="3.3" stroke-linecap="butt" stroke-linejoin="round"/></g>
<g id="alpha_d"><clipPath id="c_alpha_d"><ellipse cx="610.05" cy="452.35" rx="109.5" ry="108.7"/></clipPath>
<g clip-path="url(#c_alpha_d)">
<g filter="url(#blur)">
<rect x="497" y="340" width="226" height="224" fill="#e2edf3"/>
<path d="M500,343.2l220.6,0 0,219-96.3,0-11.7-4.7-15-1.7-10.6-.5-4.4,.4-16.6,4.1-13.4,2.3-26.2,.1-13.5-3-12.9-5.4 0-210.6z" fill="#eaf1f5" fill-rule="evenodd"/>
<path d="M500,343.2l220.6,0 0,219-68.1,0-8.5-1.1-15,0-6-1.1-10.4-3.7-15-2.2-12-1-4.6,.5-13.4,3.4-10.6,1.7-12,1.1-10.4-.1-9-1.1-9-2.2-8.5-3.2-8.1-4.4 0-205.6z" fill="#f1f4f6" fill-rule="evenodd"/>
<path d="M500,343.2l220.6,0 0,219-57.3,0-8.7-2.9-7.6-1.2-21,.8-10.4-3.1-9-1.8-21-3-4.6,.3-13.4,3.1-12,1.6-10.6,.8-10.4-.3-9-1.4-9-2.6-8.4-3.8-8.2-5.6 0-199.9z" fill="#f7f5f4" fill-rule="evenodd"/>
<path d="M500,343.2l220.6,0 0,219-49.3,0-10.7-4.5-9-2.4-9-.5-13.6,2.1-4.4,0-19.6-4.8-19.4-3.3-6,.4-12,2.5-13.6,1.5-10.4,.5-9-.5-9-1.7-9-3.1-7.6-4.2-7.1-6-1.9-2.1 0-192.9z" fill="#f9f0eb" fill-rule="evenodd"/>
<path d="M500,343.2l220.6,0 0,219-41.6,0-17-7.3-10.4-2.9-6-.6-4.6,.2-13.1,3.1-3.3,.2-12-2.2-7.6-2.4-19.4-3.7-6,0-10.6,2.1-16.4,1.5-9,.3-7.6-.5-7.4-1.4-7.6-2.4-6.6-3.5-5.8-4.5-4.9-6-3.7-7.9 0-181.1z" fill="#faeae1" fill-rule="evenodd"/>
<path d="M500,343.2l220.6,0 0,219-33,0-27-11.2-6-1.7-7.6-1.1-4.4-.1-4.6,.6-13.4,3.6-10.6-1-9-3-7.4-1.3-9-2.4-6-.7-6,.1-9,1.4-16.6,1.6-7.4,.1-6-.4-7.6-1.4-6-2-6-3.2-4.4-3.5-3.9-4.4-2.5-4.5-1.2-4.5-.1-4.5 .6-3 1.3-3 2.1-3.1 5.6-5.9 1.1-1.8 .3-2.7-1.9-2.2-3-.9-12,.6 0-153.5zM669.6,453.8l-1,1.9 .1,1.5 .8,3 .9,1.4 2.2,1.9 1.4,.2 1.5-.5 1.1-1.6 .5-1.4-.1-1.6-1.2-3-1.8-1.8-1.4-.6-1.6-.1-1.4,.7z" fill="#fbe4d7" fill-rule="evenodd"/>
<path d="M500,343.2l220.6,0 0,219-22.3,0-18.3-6.2-18-7.7-10.4-2.5-7.6-.8-4.4,.2-15,3.6-7.6,.4-3-.3-7.4-2.6-16.6-3.9-10.4-1.6-9,.1-19.6,2.6-10.4,0-7.6-1.3-6-1.9-6-3.2-4.2-3.4-2.5-3-2.4-4.5-.8-3 0-4.5 .7-3 1.4-3 6.6-9 .9-3.1-.3-2.9-2.4-3-3-1.5-6-1.1-9-.6 0-148.3zM665,447.9l-2.3,1.8-1.9,2.9-.3,3 2,4.6 3.9,4.5 4.6,3.2 4.6,.4 3-1.2 2.4-2.5 .9-3-.5-4.4-2.5-6-3.3-2.9-3-1.1-4.6-.3-3,1z" fill="#fcdfce" fill-rule="evenodd"/>
<path d="M500,343.2l220.6,0 0,219-8.8,0-15.2-4.2-16.6-5.2-18-7.7-7.4-1.7-9-1-6-.1-19.6,3.5-4.4,.1-7.6-2.2-9-1.7-18-4.4-10.4-1.4-4.6,.4-13.4,3.1-10.6,.2-6-.9-6-1.8-4.4-2.3-4.6-3.3-3-3.6-1.4-2.8-1.1-3.5-.1-3 .5-3 1.3-3 4.4-6 1.5-3 1-4.5-.6-3-2.3-3-3.2-2-4.4-1.4-13.6-2.9 0-143.7zM665,443.6l-4.4,1.8-3,2.3-1.7,1.9-1.3,3-.1,1.6 .9,3 4.6,6 5,4.5 3,2.1 3,1.4 3,.5 3-.1 3-1.1 3.5-2.9 1.1-1.6 .7-2.8-.5-4.6-3.3-9-2.8-3-4.7-2.2-4.4-1-4.6,.2z" fill="#fcd7c2" fill-rule="evenodd"/>
<path d="M500,343.2l220.6,0 0,217-36-9.2-9-3.1-12-5.3-6.7-1.4-17.3-1.4-19.5,2.8-4.5-.1-6-1.6-12-2-10.6-2.8-10.4-3.4-6-1.2-4.6,.2-7.4,2.7-6,1.4-6,.5-4.6-.2-6-1.2-4.4-1.7-4.5-2.5-3.1-2.6-3.3-4.9-.9-3-.2-3 .6-3 4-6 1.9-4.5 1-6-.8-3.1-2.3-3.1-4.4-3.3-19.6-5.9 0-139.1zM662,440.6l-3,.8-3,1.5-5.6,5.3-.9,1.4-.9,3 .4,3 .7,1.6 2.4,3 3.3,3 8.2,6.8 4.4,3 3,1.3 4.6,.7 4.4-.7 3-1.4 4.1-3.7 1.6-4.6-.3-3-.9-3-4.5-10.8-3-2.9-7.4-3.8-4.6-.9-6,.4z" fill="#fbcdb5" fill-rule="evenodd"/>
<path d="M500,343.2l220.6,0 0,212.6-37.6-8.6-7.4-2.4-10.6-4.4-6-1.5-18-1.2-12,1.6-9,.9-3-.1-16.4-3.2-9-2.3-6-2.1-9-4.1-3-.8-6-.1-13.6,4.1-4.4,.7-4.6,0-4.4-.7-4.6-1.4-4.4-2.3-3-2.4-2.9-3.8-1.2-4.5 .6-3 3.1-7.6 1-6 .1-5.9-1.9-4.5-3.4-4-4.4-3.2-12-4-7.6-1.9 0-133.9zM656,437.2l-3,1.4-3,2.4-3,3.3-2.4,3.9-.8,3 .1,3 .9,3 2,3 18.2,14.2 6,3.1 4.5,1 4.5-.3 4.6-1.5 3-1.9 3.5-4.1 1.1-3.1 .1-3-1.3-4.4-6.4-13.3-1.4-1.7-6.2-4.5-6-2.6-7.4-1.4-4.6,0-3,.5z" fill="#f9c2a7" fill-rule="evenodd"/>
<path d="M500,343.2l220.6,0 0,208-39-7.7-6-1.8-10.6-4.1-6-1.2-16.4-.6-21,2.4-6-.6-16.6-3.5-7.4-2.1-4.6-1.9-9-5.4-4.4-1.4-6,.3-12,3.8-7.6,.9-4.4-.6-3-.9-3-1.3-3.4-2.3-2.6-3.3-1.3-4.2 1.5-12.1 .4-9-.5-3-1.7-4.4-7.4-14.3-1.6-1.1-1.4-.1-9,.7-10.6-1 0-128.2zM551,419.3l-3,1.7-1.9,3.2-2.7,9-.4,3 .6,2.3 1.4,.2 1.6-.7 9-5.6 10.3-5.2 .9-1.5-.9-1.5-4.4-3-5.9-1.9-4.6,0zM654.6,431.6l-3,1-3,2.4-4.6,6.3-3,5.4-.7,2.9 .4,4.6 1.4,4.4 1.8,3.1 3.5,2.9 8.6,5.8 9,7.4 7.6,3.9 4.4,.8 4.6-.3 4.4-1.3 4.6-2.6 2.9-3.1 1.9-3 1-3 .1-3-1.5-4.6-6-9.3-3.7-7.1-2.3-2.4-4.4-3.5-6-3.4-12-3.7-6-.6z" fill="#f7b799" fill-rule="evenodd"/>
<path d="M500,343.2l220.6,0 0,203.1-18-3.4-22.6-3.2-13.4-4.5-7.6-1.4-15,0-21,2.6-4.4,0-18-4.3-9-2.8-3.3-1.6-8.7-6.7-3-1.6-3-.7-4.6,.3-12.9,4.2-5.1,.7-6-.8-3-1.4-2.2-1.5-2.5-3-1.4-4.5-.4-12.1 .4-6-.5-4.4-6.7-19.6-1.7-3.3-3-3-3-.8-12,1.6-9,.2 0-122.1zM548,413.4l-3,1.9-2,2.9-5.1,15-.7,4.4 0,4.6 .6,3 1.2,1.8 1.6,.8 1.4,.1 3-1.4 7.6-7.7 4.4-3.1 4.6-2.3 6-1.1 9,1.5 1.4,0 1.6-.6 .9-1.5 .1-1.5-1-2.8-3-3.5-3.5-2.7-5.6-3-11.9-4.6-4.6-.8-3,.6zM653,425.6l-3.9,1.6-3.2,3-7.9,15.4-.6,2.6 .2,3 2,7.4 1.4,3.3 3,3.2 10.3,7.1 9.3,8.3 6,4.2 3,1.5 4.4,.9 4.6-.3 6-1.4 4.4-2.1 3-2.5 2.2-2.6 2.7-4.6 1.2-3 .2-4.4-2.1-4.6-8.6-10.3-4.4-7.7-7.6-6.9-4.6-2.9-13.4-6.2-4.6-1.7-3-.3z" fill="#f5ac8b" fill-rule="evenodd"/>
<path d="M500,343.2l220.6,0 0,197.7-21-3.7-21-1.6-10.6-3.3-7.4-1.3-15,.6-25.6,3.3-18-4.6-9-3.2-3-1.7-5.7-5.2-4.7-3.5-3-1.8-3-1.1-4.6,.1-16.4,4.8-4.6-1.1-2.8-1.9-1.9-3-.8-3.1-.1-11.9-.5-3.1-5.5-15-2.8-10.4-.4-3 .8-4.6 2.1-3 5.9-3.4 3-2.6 7.3-10.4 4.7-3.8 4.6-2.3 4.4-1.1 3,0 7.6,1.6 3,.1 3-1.8 1.3-1.7 .5-1.5-.1-3.1-1.2-3-2.1-2.8-3-3.5-3-2.3-6-3.1-7.4-2.8-6-3.3-4.6-.9-3,.6-3,1.4-2.4,1.7-2,2.5-1.6,2.8-5.1,15.7-2,10.6-2.5,6-2,3-3.4,2.2-9,3-7.4,1.8-7.6,.8 0-115.8zM651.6,421l-5.8,3.2-3,3-2.3,4.4-5,13.6-.5,3 .4,3 2.2,7.4 2,4.6 4.4,4.6 9,6.8 6,6.6 10,9 2,1.3 4.6,1 4.4-.3 9-2 6-2.7 4.8-4.9 5.4-9 1-2.9 .3-3.1-1.1-4.4-2.6-3-9.2-8.4-2.9-3.6-3.3-6-8.8-8.7-10.6-6.6-9-4.8-4.4-1.3-3,.2z" fill="#f2a07e" fill-rule="evenodd"/>
<path d="M500,343.2l220.6,0 0,191.7-24-4.6-6-.4-10.6,.4-12-2.3-6-.4-9,.7-28.4,4.6-6,0-13.6-3.8-9-3.5-3.9-2.4-4.8-4.5-12.3-8.8-3-1-10.4-1.9-4.6-2-3.7-4.3-11.5-19.5-2.1-7.6-.1-3 .5-3 1.4-3 5.1-6.6 4.8-11.4 3.5-4.4 5.1-3.4 4.6-1.5 4.4-.2 9,1.4 4.3-.9 2.2-1.4 2.1-3 .6-3-.7-4.6-2.5-5.2-2.3-3.8-2.1-2.3-3-2.2-18.9-10.4-3.7-.9-4.4,.6-3,1.3-4.6,3.1-3,2.9-2.5,3.5-3.6,7.4-5.9,17.7-3.2,4.9-4.2,3.6-6,3.3-6,2.1-7.6,1.5 0-109.5zM650,418.1l-5.7,3.1-3.4,3-3.1,4.4-1.7,4.6-2.5,10.5-.5,4.5 1.8,7.4 3.1,7.9 3,3.9 9.1,9.2 4.5,6 6.4,6 5.6,6.3 4.4,3.3 4.6,1.3 4.4-.2 7.6-2.4 6-3 4.4-3 4.2-3.7 3.5-4.5 2.8-4.5 1.9-4.5 .6-3.1-.1-4.4-1-3-3.6-4.6-9.7-7.3-3-2.9-4.6-8.5-4.5-5.3-13.5-11.3-6-3.4-6-2.1-4.4-.5-4.6,.8z" fill="#ec9273" fill-rule="evenodd"/>
<path d="M500,343.2l220.6,0 0,184.7-12.3-3.2-8-3-8.7-4.5-2.2-1.5-1.3-1.5-.1-1.5 .4-1.5 3.2-6 3.1-4.6 2.7-3 9.6-8.2 5.3-6.8 1.5-3 1.5-4.4 .5-4.6-.2-3-1.4-4.4-3-4.6-3.4-3-9.8-6.7-3-3.2-1.6-3.5-1.4-7.6-1-1.4-5-2.9-3-2.3-9-10-2-1.3-4-1.2-9-1.2-6,.2-6.5,2.1-7.4,4.6-4.5,4.4-2,3-.5,3-.7,16.6 1.4,6 3.5,9 1.7,2.8 7.2,9.2 3.7,7.4 2.4,3 8.8,9 9.5,13 8.5,6.6 .6,1.5-.7,1.5-2,1.5-3.6,1.5-35,9-12.8,1.9-6-.1-10.6-2.8-9-3.6-4.3-2.9-5-4.5-7.1-4.5-6-5.2-9-3.9-6-4.1-6-6.1-9-12.2-2.3-6-.1-3 .6-3 4.8-9 1.8-9 1.1-3 1.7-3 2.8-2.8 4.6-2.5 4.4-1.1 12,1.1 3-.2 3-1.1 3.2-2.4 1.7-3 .7-4.6-.5-4.4-1.4-4.6-3.8-7.4-8.9-8.5-7.4-5.9-4.6-2.4-4.2-1.2-4.8-.3-3,.7-3,1.5-4.4,3.3-4.6,4.2-4.9,5.6-6.6,10.4-5,12-4.5,5.9-3,2.6-4.4,2.8-4.6,1.8-6,1.6 0-103.1z" fill="#e68469" fill-rule="evenodd"/>
<path d="M500,343.2l220.6,0 0,125.9-1.9-5.9-2.8-4.6-4.5-4.4-9.2-6-3.5-3-2.1-3.7-1.2-6.8-1.4-3-7.6-6.1-2.5-3-5.3-8.7-3-2.5-4.6-.8-16.4,.7-4.6,1.1-13.4,5.5-3,.7-3-.2-9-3-3,.3-.9,.9-.4,3 1.3,4.6 1.4,1.6 6,4.4 2.5,4.4 .8,4.6 .8,10.5 4.1,11.9 2.4,4.4 6.2,9.2 2.8,8.2 1.2,2.2 9.1,10.6 3,4.4 2.4,6 .7,6.1-1,3-3.4,3-17.1,7.5-6.9,1.8-10.6,1.3-4.4-.1-9-2.3-9-3.8-3-2-6-5.3-7.6-4.2-6-5.6-9-4.8-4.3-3.6-6-6-6.9-9-2.8-4.4-1-3-.2-3 .6-3 4-9 .3-7.6 .7-2.9 1.5-3.1 2.1-2.4 3-2 4.6-1.6 4.4-.2 9,.8 6-.9 4.5-2.7 2.7-4.4 .8-4.6 .1-4.4-.7-4.6-1.1-2.9-10.7-18.7-4.7-5.3-5.9-3.6-7.4-2-7.6,.5-6,2.4-6,4.9-12.7,14.3-4.1,6-6.7,12-3.5,4.4-6,4.7-4.4,2.1-4.6,1.4 0-96.6zM720.5,478.2l.1,40.6-7.7-3.1-4.7-3-2.8-3.1-1.5-4.4 .5-3 .9-1.6 7.6-7.4 3.4-4.6 2.7-5.4 1.5-5z" fill="#e0765e" fill-rule="evenodd"/>
<path d="M500,343.2l220.6,0 0,115-5.4-5.6-11-7.4-3.2-2.9-1.7-3.1-1.3-6-1.4-3-6.6-6-1.9-3-5.3-10.6-2.5-2.9-2.1-1.5-4.2-.7-9,1.7-10.4,1-4.6,1.2-7.4,2.9-7.6,1.2-3-.3-4.4-1.3-12-6.6-6-1.2-2.4,.6-1.8,1.5-.8,1.5-.3,2.9 .6,1.6 6.1,6.7 4.6,6.7 7.4,6.7 2.8,3.9 1.4,4.4 1.7,10.6 3.3,9 2.8,5.7 5.9,9.3 3.1,10.3 10.7,16.7 1.7,4.4 .5,3-1,3.1-3.1,3-10.2,6.7-7.6,3.3-10.4,1.5-6,.1-7.6-1.6-7.4-3-4.6-2.8-6.8-5.7-6.6-3.3-6.1-5.8-7.6-4.5-3.8-3-5.9-6-3.7-4.4-6.1-9-1.6-4.6 .5-4.4 3.2-9-.1-9 1.1-3 2.4-3 3.7-2.2 3-.9 4.4-.2 10.6,.5 6-1 4.1-2.2 1.5-1.6 1.8-3 1.3-4.4 1.1-7.6 .2-6-1.4-2.9-4.2-4.7-.8-2.8-.7-9-1.9-4.6-2.6-3.7-3-3-4.4-2.9-4.6-1.8-6-1.3-4.4-.1-6,.9-4.6,1.6-6,3.5-6,5.5-6,7.8-7.9,8.5-7.1,11.2-6,7.5-4.9,3.9-7.1,2.8 0-89.8z" fill="#da6853" fill-rule="evenodd"/>
<path d="M500,343.2l220.6,0 0,108.9-4.6-3.7-8.9-6.2-3-3-3.8-9-7.2-9-5.8-12-2.7-3.7-3.1-2.4-2.9-1.2-4.6-.3-10.4,2.2-9,1.2-13.5,4-4.5,.4-4.6-.7-4.4-1.6-9-4.7-16.6-7-3-2.2-9-10.4-5.8-5.2-6.2-3.4-7.4-2-7.6-.1-6,1.1-7.4,3-6.9,4.5-6.6,6-13,15-8.3,11.9-4.2,5.2-4.6,3.8-6,2.9 0-82.3zM601.2,422.6l2.4-.9 1.4,0 3,1 13.5,11.9 2.3,3 1.3,3.1 1.9,9 2,5.9 4,9.1 6.3,10.5 3.3,11.1 7.2,15.9 .9,3 .2,3-.3,1.4-1.8,3.1-6.2,6.1-4.2,2.9-3.4,1.5-10.4,2-6,.2-9-2-7.2-3.2-9.4-7.1-6.9-3.4-6.4-6.1-8.9-6-9.7-10.4-5-7.6-2.1-4.4-.5-4.6 2.5-10.4-.2-9 1.2-3 1.2-1.6 3.4-2.2 3-.8 18-.2 4.4-.8 3-1.3 2.7-2.1 2.1-3 3.2-9 1-2.3 2.2-2.3z" fill="#d35a4a" fill-rule="evenodd"/>
<path d="M500,343.2l220.6,0 0,103.2-9-6.8-3.4-3.4-5.1-9-6.1-9-5.5-10.5-3.5-4.5-3.9-3-4.1-1.7-4.4-.4-21,3.5-13.6,3.6-4.4,0-6-1.2-12.3-5.3-4.9-3-6.6-6-10.6-12-9.2-7.5-7.4-4-7.6-1.9-7.4-.2-7.6,1.4-7.4,3.2-7.6,4.8-8.6,7.2-12.4,12.6-13.4,17.7-3.1,2.6-4.5,2.9 0-73.3zM603,428.6l2-.7 1.6,0 3,1.2 8.1,5.5 3.9,3.9 1.8,3.7 2.4,9 2.4,6 3.5,7.4 5.4,9 1.9,4.6 6.6,24 .4,3-.2,3-2.1,4.5-2.7,3.2-4.4,3.6-4.6,1.9-10.4,2-4.6,0-4.4-.8-7.6-2.8-10.4-7.1-7.6-3.8-6-5.5-7.4-5.3-3.6-3.4-7.7-9.1-3.8-6-2.1-4.4-.7-4.6 1.7-10.4-.5-7.6 .7-2.9 1-1.6 3-2.2 3-.9 19.4-.3 6-1.3 3-1.6 2.7-2.6 4.9-8.1 2.4-2.5z" fill="#cc4b43" fill-rule="evenodd"/>
<path d="M500,343.2l220.6,0 0,97.2-5.1-4.2-4-4.6-16.9-26.9-4.2-4.5-4.4-3.2-4.4-1.9-6-.4-19.6,3.4-10.4,2.5-6,.6-6-.7-5.9-1.8-7-3-4-3-3.1-4.5-3.4-7.5-1.9-3-11-10.5-5.7-3.8-7.6-3.6-6-2.2-4.4-1.1-7.6-.5-7.4,1.1-7.6,2.7-7.7,4.4-8.7,6.4-9.7,8.6-9,9-11.3,13-4.6,3.9 0-61.9zM603.2,434.7l3.3-1.5 4.5,.8 6,3.4 3.3,3.2 1.5,3 3.5,10.6 5,10.4 6.8,12.1 3.6,13.5 1.7,13.4-.5,4.6-1.3,3-2.6,3.3-3.3,2.7-4.1,1.9-7.6,2.1-6,.4-7.4-1.6-4.6-2-9-5.8-9-4.7-5.8-5.3-6.2-4.6-4.3-4.4-8.4-10.6-2.5-4.4-1.7-4.6-.5-4.4 1.1-9-.4-7.6 .7-3 1-1.2 3-1.6 3-.5 19.6-.3 6-1 2.8-1.4 1.9-1.4 6.9-7.5z" fill="#c43d3c" fill-rule="evenodd"/>
<path d="M500,343.2l220.6,0 0,90.2-6.8-7.8-11.7-17.9-4.6-6.1-5.5-4.8-7.4-4.5-4.6-1-6,.1-25.4,5-7.6,.5-7.6-1.2-7.4-2.8-3.1-1.7-1.3-1.5-.5-1.5 .2-3 4.7-9.7 1.4-3.8 .1-3-3.2-9-2.7-4.9-3-3-4.6-2.1-3,0-9,1.7-6,.3-6-.7-12-2.7-9-.7-9,.9-7.4,2.2-10.6,5.2-10.4,7.3-12,10.2-19.6,18.5 0-48.7zM607.5,437.6l2.1,0 3,.7 3,1.4 3,2.6 4.9,11.9 12.2,22.4 3.6,13.6 .3,13.4-1.1,4.6-1.6,3-2.8,3-3.5,2.1-7.6,2.8-3,.6-6-.1-6-1.9-11.3-6.5-8.9-4.6-12.6-10.4-8.8-10.6-4-6-2.7-7.4-.4-4.6 .7-7.4-.2-7.6 .2-1.6 1.6-1.8 4.4-1.3 21-.3 6-.8 3.6-1.6 7-6 3.9-1.6z" fill="#bd2e36" fill-rule="evenodd"/>
<path d="M500,343.2l49.5,0-9.2,4.5-10.3,6.5-10.9,8.5-19.1,16 0-35.5zM625.6,343.2l95,0 0,81.8-13.8-18.8-5-6-5.2-4.7-10.6-6.3-4.4-1.4-6-.3-10.6,1.6-15,3-4.4,.4-4.6-.5-3-.8-4.4-2.8-1.3-1.7-.6-3 1.3-10.5-.1-4.5-2.7-10.5-1.7-9-1.1-3-1.8-3zM607.7,442.2l1.9-.3 3,.5 3,1.6 1.4,1.7 11.2,20.5 5.5,9 1.8,4.4 2.2,9 .3,4.6-.7,9-.7,3.4-1.6,3.3-3,3.5-2.5,1.8-6.5,2.8-3,.8-4.4,.2-6-1.4-21-10.8-11.7-9.6-8.6-10.6-4.8-7.4-2.4-7.6-.2-4.4 .7-12 .2-1.6 1.2-1.8 4.6-1 12-.8 7.4,.3 6-.4 4.6-1.4 7.4-4.4 2.7-.9z" fill="#b6202f" fill-rule="evenodd"/>
<path d="M500,343.2l31.3,0-11.1,7.5-20.2,15.2 0-22.7zM634.9,343.2l85.7,0 0,72.6-9.9-12.6-6.7-6.9-6-4.5-13.4-7.4-6-1.2-6,.2-24,3.8-4.6-.5-2.7-1.5-1.2-1.5-1.2-3-1.2-12-3-10.5-.1-4.5 .8-6-.5-4.5zM604.1,448.2l3.9-1.2 3,.1 3,1.4 3,3.2 6,8.4 9.4,15.1 1.7,4.4 2,7.6 .5,3-.2,4.4-1.3,7.6-1.7,4.4-2.2,3-2.2,2-4.2,2.6-4.8,1.8-4.4,.3-6-1.4-18-8.7-3-1.9-10-8.1-2.7-3-9.1-12-2.2-4.6-1.5-4.4-.7-6 .6-6.6 1.4-5.4 1.6-1.5 13.6-1.8 15-.2 9.5-2.5z" fill="#ab162a" fill-rule="evenodd"/>
<path d="M500,343.2l14.9,0-14.9,10.1 0-10.1zM642.8,343.2l77.8,0 0,63.5-8.6-9.5-6.4-5.7-16.6-10.2-4.4-2.2-6-1.6-9-.5-6,.2-10.6,1.6-3-.2-1.8-.9-1.9-3-7.1-18 .4-2.3 2.5-6.7 .7-4.5zM597.2,452.6l12.4-.7 4.4,1.7 3,2.5 4.6,5.1 9,13.4 1.4,3 2.8,9.6 .5,3-.3,3-1.7,7.4-1.8,4.6-2.2,3-3.5,3-4.2,2.3-4.6,.9-6-.9-4.4-1.6-16.6-8.1-11.2-9.2-9.2-11.9-3.3-6.1-1.8-6-.5-6 .6-3.4 .9-2.5 2.1-2.7 12-3 17.6-.4z" fill="#9c1127" fill-rule="evenodd"/>
<path d="M657.2,343.2l63.4,0 0,54.9-10.6-9.7-17.4-12.2-9.5-7.5-2.4-3-5.1-9-3-3.3-4.6-3-7.4-3.7-3.4-3.5zM578.2,455.6l7.4-.9 13.4,.3 10.6,1 4.4,1.6 3,2.1 3,2.9 10.1,14 3.6,12-.4,4.6-2.3,7.4-2,3.8-3.2,3.8-4.2,2.9-3,1.1-4.6,0-4.4-1-16.6-7.2-12.5-9.3-11-15-2.5-6.1-1.1-6 .1-4.4 1.7-3 2.1-1.6 8.4-3z" fill="#8d0c25" fill-rule="evenodd"/>
<path d="M677.3,343.2l43.3,0 0,46.6-18.1-15.1-6.4-6-4.9-6-8.8-13.5-5.1-6zM581.1,457.2l4.5-.5 9,.3 15,2.4 6,2.6 4.4,4.1 8.1,10.5 1.9,4.6 1.8,7.4-.5,4.6-2.2,5.9-2.8,4.5-2.8,3-3.5,2.4-3,.9-3-.1-4.4-.9-16.6-6.7-11.9-9-10.5-15-1.8-4.6-.9-5.9 .3-3.1 .7-1.4 1.5-1.6 7.6-3.5 3.1-.9z" fill="#7e0723" fill-rule="evenodd"/>
<path d="M688.8,343.2l31.8,0 0,37.8-10.2-9.3-7-7.5-14.6-21zM586.6,458.6l11,1 10.4,2.7 4.6,1.6 3,1.8 3,2.6 7,8.3 2,3.8 1.4,5.1 .5,3.2-.3,2.9-3.5,7.6-2.7,3.4-2.9,2.6-3.5,1.4-4.7,0-5.3-1.4-12-4.3-11-7.7-8.6-11.1-2.5-3.9-1.7-4.6-.6-4.4 .5-3 2.5-3 4.8-2.7 4.6-1.5 4-.4z" fill="#6f0220" fill-rule="evenodd"/>
</g>
<path d="M680.6,562.2l-20.6-8.7-6-1.7-6-.9-4-.2-4,.3-12,3.1-3,.4-12-1.9-8-2.6-7-1.2-9-2.2-4-.5-6,.1-11,1.9-21,1.7-11-.5-5-.8-5-1.3-7-2.8-6-3.7-5-4.5-3.7-5-2.3-5-1.3-5-.1-6 1.6-9-.6-1-1.6-.6M661,440.1l-3,.8-3,1.6-4,3.6-1.7,2.1-1.3,2.5-.3,2.5 .6,3 1.1,2 2.9,3 10.7,9 3,2.2 3,1.6 4,1.3 4,.2 4-.9 3-1.6 2.3-1.8 1.6-2 .9-2 .5-3-.3-2-.8-3-5.2-12.1-1-1.1-2.5-1.8-6.5-3.4-3-.8-3-.3-6,.4M720,559.3l-35-8.7-9-3-12-5.3-4-1-5-.8-15-1.1-9,1.5-6,.4-5,.8-4,0-7-1.8-11-1.8-11-2.9-11-3.8-6-1-4,.2-9,3.1-7,1.4-4,.2-4-.3-7-1.6-5.8-2.6-3.9-3-3.2-4-1.6-4-.2-3 .6-3 4.1-6.5 1.9-5.5 .6-5-.5-2-1-2.1-3-3.3-4-2.5-6-1.6-7-2.6-6-1.6M650,421l-5,3.1-2.8,3.1-2.4,5-4.6,13-.5,3 .4,3 2.1,7 2.1,5 1.7,2.1 3,2.9 9,6.9 5.2,6.1 6,5 4.8,5 2,1.1 4,1 5-.3 9-2.1 6.2-2.7 2.4-2 2.6-3 5.5-9 1-3 .5-3-.4-3-.8-2.1-2.5-2.9-10.5-9.3-2-2.6-3.2-6.1-6.8-7-3-2.6-10-6.4-9-4.7-3-1-2-.3-2,.1-2,.7M720,540.1l-22-3.8-20-1.4-10-3.1-8-1.2-5,0-10,.8-20,2.9-5,.4-6-1.4-12-3.3-10-3.8-2-1.2-4-3.9-3.6-2.9-5.4-3.6-3-1.3-2-.4-3,.3-16,4.6-3-.4-3-1.6-2-2.3-1-2.3-.5-4 .1-8-.3-3-1.6-5-4.2-10-2.4-9-1-5 .1-2 .8-2.8 1-1.6 1.6-1.6 6.4-4.6 3-3.8 4.8-7.6 2.2-2.3 4-2.8 5-2.2 4-.6 3,.2 7,1.5 2.1,.2 1.9-.8 1.8-1.2 1.5-2 .6-2-.3-3-1.3-3-3.7-5-2.6-2.5-6-3.6-9-3.4-7-3.9-2-.6-2-.1-4,1-4,2.4-1.7,1.7-1.3,1.7-2.1,4.3-2,7-2.2,6-.9,4-.6,5-.7,2-2.5,5.2-3,3.9-4,2.5-8,2.9-7,1.7-7,.8M720,456.9l-5-4.9-10.2-6.8-3.4-3-1.8-3-1.3-6-1.3-2.7-2-2.3-3-2.4-1.5-1.6-2.5-4-4.9-10-2.6-3-2.5-1.6-2-.6-2,.1-10,1.9-9,.8-5,1.3-8,3-4,.8-3,.2-4-.6-4-1.3-11-6.3-7-1.6-3,.9-1.3,1-1.3,2-.5,3 .4,2 1.7,2 5,4.4 5.7,7.6 1.9,2 5.4,4.5 2.5,3.5 1.4,4 1.9,11 3.3,9 2.4,5 6.3,10 1.1,3 1.3,6 .8,1.7 4,6.7 5.8,8.6 1.6,4 .9,4-.3,2-2.1,3-9.7,7-5.5,3-3.7,1.3-6,1-6,.7-5-.2-8-1.8-4-1.5-4-2-3-2-6.5-5.5-5.5-2.6-2-1.3-6-5.7-6-3.4-2.9-2-7.1-7-3-3.4-6.7-9.6-1.9-4-.4-2 .3-3 3.4-10-.4-6 .3-3 1.1-3 1.4-2 2.9-2.4 2-.9 3-.7 4-.2 10,.5 4-.3 3-.8 2.6-1.2 2.4-2 1.5-2 1.3-3 2.4-13 .1-4-.8-2-4.5-4.6-.8-1.4-.5-3-.1-7-1.2-4-3-5-3.8-4-3.6-2.4-4-1.8-5-1.4-4-.5-5,.1-4,.7-4,1.4-4,1.9-4,2.7-4,3.6-3,3.5-5,6.7-6,6-3.2,4.5-5.8,9.2-5,6.1-2,1.9-3,2-3,1.5-4,1.4M720,432.4l-3-3.2-3-3.8-11.2-17.2-4.5-6-2.9-3-2.5-2-4.4-3-3.5-2-5-1.2-5,.1-14,2.4-12,2.6-7,.6-4-.3-5-1.2-5.5-2-3.9-2-1.1-1-.6-1-.2-3 .6-2 2.3-4 2.4-5.9 1-3.8-.1-2.3-3.6-10-2.3-3.9-2-2.4-2-1.6-2-1.1-2-.6-4,0-9,1.7-6,.3-5-.5-13-2.6-8-.5-8,.8-8,2.2-5,2.1-5.6,3.1-5.4,3.4-6,4.4-11.9,10.2-19.1,17.9M606.4,438.2l1.6-.4 2,.1 3,.8 4,2.3 1.9,2.2 4.5,11 5.7,11 4.9,8 1.4,3 1.4,4 2.2,9 .5,4-.1,10-.7,4-1.4,3-2.4,3-2.9,2.2-3.9,1.8-7.1,2.3-3,.3-3-.2-6-1.6-5-2.4-8-4.9-8-3.9-5.1-4.6-7.6-6-8.4-10-2.2-3-2.4-4-1.7-4-.8-3-.4-4 .7-9-.2-7 .2-1 .9-1.5 2-1.1 3-.6 7,0 6-.5 8,.2 6-.8 3.9-1.7 6.1-5.3 3.4-1.7M720,397.4l-5-4.9-5-4.3-15.7-11-9.1-7-3.8-4-4.5-8-3.1-4-3.8-3.1-9-4.8-2-1.7-1.2-1.4M580.4,455.2l4.6-.4 12,.2 13,1.2 3,1 2,1.1 3,2.3 2,2.1 10,13.9 2,5.9 1.7,6.7-.1,2-.6,2.9-2.3,7.1-2.2,4-2.8,3-3.7,2.6-3.3,1.4-3.7,.1-5-1.1-17-7.2-11-8-1.9-1.8-9-12-1.9-3-2.3-6-.8-4-.3-3 .1-2 .6-2 1.3-2 1.2-1 9-3.4 2.4-.6M720,358.5l-11.3-15.3M586,463.2l6,0 6,1.6 10,4.4 4.7,3 5.6,6 2.5,4 .6,2 .1,2-.4,2-1.1,2-5,5.1-2,1.5-2,.8-2.9,.5-6.1-.3-4-.9-5-2.3-4-2.6-2.9-2.9-7.6-8.9-1.8-3-1.2-4-.1-2 .5-2 1.1-2 1-1 3.3-2 4.7-1" fill="none" stroke="#3c3c3c" stroke-width="1.0" stroke-opacity="0.8"/>
</g>
<path d="M501.55,452.35a108.50,107.70 0 1,0 217.00,0a108.50,107.70 0 1,0 -217.00,0zM504.55,452.35a105.50,104.70 0 1,0 211.00,0a105.50,104.70 0 1,0 -211.00,0z" fill="#000" fill-rule="evenodd"/>
<path d="M591.2,348.2L601.4,336.0M618.6,336.0L628.8,348.2" fill="none" stroke="#000" stroke-width="3.3" stroke-linecap="butt"/>
<path d="M506.9,427.2C503.3,425.5 494.5,425.4 494.3,437.2C494.1,450.4 493.0,461.8 492.7,467.6C492.5,480.5 502.4,480.6 507.2,478.2" fill="none" stroke="#000" stroke-width="3.3" stroke-linecap="butt" stroke-linejoin="round"/>
<path d="M713.2,427.2C716.8,425.5 725.6,425.4 725.8,437.2C726.0,450.4 727.1,461.8 727.4,467.6C727.6,480.5 717.7,480.6 712.9,478.2" fill="none" stroke="#000" stroke-width="3.3" stroke-linecap="butt" stroke-linejoin="round"/></g>
<g id="beta_d"><clipPath id="c_beta_d"><ellipse cx="1058.4" cy="452.35" rx="108.3" ry="108.7"/></clipPath>
<g clip-path="url(#c_beta_d)">
<g filter="url(#blur)">
<rect x="947" y="340" width="224" height="224" fill="#95c6df"/>
<path d="M949.6,343.2l219,0 0,209.4-9-7.1-6-3.5-6-2.1-4.5-.3-3,.4-4.5,1.5-7.5,4.8-6,6.2-6,9.7-166.5,0 0-219z" fill="#9ecbe1" fill-rule="evenodd"/>
<path d="M949.6,343.2l219,0 0,199.7-10.5-8.3-7.5-4.2-4.5-1.4-3-.3-6,1.1-4.5,2-6,3.7-6,4.5-4.3,4.2-4.2,6-5.2,12-115.9,0-8.4-11.5-1.5-1.1-3-.8-4.5,.5-15,4.2-9,1.9 0-212.2z" fill="#a7d0e4" fill-rule="evenodd"/>
<path d="M949.6,343.2l219,0 0,191.6-10.5-8.3-7.5-4.3-7.5-2.1-4.5,.2-3,.9-4.5,2.2-4.5,2.9-13.5,9.7-4.5,4-2.1,2.7-1.7,3-3.2,10.5-2.4,6-98.1,0-4.1-6-2.3-6-.6-6 .8-13.5-.7-3-1.1-1.5-1.5-.6-2.7,.6-2.7,1.5-14.1,10.4-6,3.6-7.5,3.4-9,2.7 0-204.6z" fill="#b1d5e7" fill-rule="evenodd"/>
<path d="M949.6,343.2l219,0 0,184.8-10.5-8.1-9-4.7-4.5-1.3-4.5-.6-4.5,.2-3,.9-6,3.5-10.5,8.3-10.5,7.1-5.2,4.9-2.5,4.5-2.6,12-3.4,7.5-81,0-5.8-5.6-2.4-3.4-1.4-3-1.2-6 .7-12-.8-6-.9-3.4-1.5-2.9-1.5-1.4-3-1.1-4.5,.7-4.1,2.1-13.9,11-7.5,4.7-6,2.7-7.5,2.3 0-197.7zM1011.1,478l-1.8,1.7-.6,2.9 .9,2 1.5,1.1 1.5,0 1.9-1.5 .5-3-.9-2.3-1.5-1-1.5,.1zM1105.6,489.4l-1.3,2.2 0,1.6 1.3,2.1 1.5,.8 1.5,.1 2.6-1.5 .7-1.5 0-1.6-.9-1.4-2.4-1.5-1.5,0-1.5,.7z" fill="#bad9ea" fill-rule="evenodd"/>
<path d="M949.6,343.2l219,0 0,179-10.5-7.6-7.5-3.8-6-1.6-10.5-1.5-3-.1-1.8,.6-7.7,4.5-10,9.6-12,7.8-5.5,5.1-2.7,4.5-1.3,10.5-1,3.6-1.9,3.9-3.4,4.5-60.2,0-3.5-2-9-6-3-3.1-1.7-2.4-1.6-4.5-.2-13.5-2.5-11.7-1.5-3-1.5-1.7-3-1.8-3-.2-3,.6-6.5,2.8-4,2.1-7.5,6.5-6,4-7.5,3.7-9,2.8 0-191.6zM1011.1,473.3l-3,1.5-1.5,1.6-.9,1.8-.7,3 .2,3 1.4,3.3 1.5,1.7 3,1.3 3-.6 1.8-1.3 2-3 .6-3-.7-4.4-1.8-3-1.9-1.4-3-.5zM1105.6,485.5l-2.8,1.7-1.6,3-.6,3 .5,2.6 1.1,1.8 1.9,1.7 3,1 3-.1 1.5-.6 1.9-2 1.7-3 .4-2.9-1.4-3.1-2.6-2.4-3-1-3,.3z" fill="#c4deec" fill-rule="evenodd"/>
<path d="M949.6,343.2l219,0 0,174.1-11.2-7.7-3.8-1.8-4.5-1.5-10.5-1.2-7.5-1.9-9,2.1-3,0-1.5-.6-.9-1.1-.4-3 1.6-9-.8-3-1-1.9-2.5-2.5-3.5-1.5-3,0-3,.9-2.9,2-1.6,2.6-1.6,5-.1,3 .8,3 2.4,3.5 7.3,5.5 .6,1.5 0,1.5-.9,3-2.5,3.5-10.5,8.4-8.8,9.1-2.3,4.5-1.2,9-1.7,4.5-4,5.1-5.1,3.9-32,0-9.4-3.7-16.5-9.6-3-2.8-2-3.4-.9-4.5-.6-7.5-3.5-15-2-4-1.5-1.9-3-1.7-4.5,.2-4.5,1.5-10.5,5.7-7.5,5.5-6,3.4-7.5,3-7.5,1.8 0-186zM1008.1,470.3l-2.8,1.9-2.3,3-1.4,4.5 .1,4.5 1.3,4.5 2.1,3.3 3,2.3 3,.4 4.5-1.5 3.4-3 1.9-4.6 .1-4.4-1.1-4.6-1.3-2.4-1.5-1.8-4.5-2.4-1.5-.2-3,.5z" fill="#cde3ef" fill-rule="evenodd"/>
<path d="M949.6,343.2l219,0 0,169.7-10.5-6.8-7.5-3-4.5-.7-7.5,0-7.5-2.6-7.5,1-3-.9-1.4-2.3-.2-1.4 .8-6-.9-3-1.7-3-2.6-2.4-3-1.2-4.5-.2-3,1-3,1.9-1.5,1.6-2.2,3.7-1.8,4.6-.8,4.4 .1,3.1 1.6,7.5 .2,3-.7,3-1.6,3-9.5,12-11.5,10.5-1.5,3-1,7.5-1.6,3-1.4,1.5-2.8,1.8-3,1.1-4.5,.6-7.5-.4-9-1.6-4.5-1.3-4.5-2.2-7.5-5.3-7.5-3.5-3-2.5-2.6-4.7-5.6-24-2.3-8.3-1.5-2.3-4.5,.6-6,2.3-19.5,11.7-6,3-7.5,2.6-9,1.7 0-180.8zM1003.6,467.6l-2,1.6-2.5,3.3-1.1,2.7-.5,4.4 1.1,7.6 3.5,10.1 1.5,2.7 1.5,.1 7.5-1.9 6-3.3 1.8-1.7 2.1-3 1-3 .2-3-.7-4.6-1.5-4.4-1.8-3-2.6-2.7-3-1.8-4.5-1.1-3,0-3,1z" fill="#d4e7f1" fill-rule="evenodd"/>
<path d="M949.6,343.2l219,0 0,165.9-9-5.7-7.5-3.2-4.5-1-9,0-7.5-3.6-3-.2-4.5,.6-1.5-1.4 .4-3-.7-3-2.7-5.4-1.5-1.8-3-2-3-1.1-3-.4-3,.5-3,1.5-3,2.4-5,7.9-4.2,10.4-4.1,15.1-2,4.5-2.7,4.5-3,2.8-3,1.9-10.5,3.5-3.6,2.3-1.7,3-1.5,9-2.2,2.3-3,1.3-4.5,.8-6-.2-3-.6-4.5-2.2-7.5-6.1-9.4-4.3-2.6-2.5-1.5-2.8-4.2-12.7-1.2-9 .5-4.6 2-3 7.4-4.6 4.6-4.4 2.7-4.4 .5-3-.2-3-2-7.6-3.1-6-2.5-2.8-3-2.2-8.7-4-2-1.4-1.7-3-1.1-7.6-1.5-1.4-1.5-.1-1.6,1.5-3.2,6-1.4,4.6-1.3,7.4-.2,4.6 .5,4.4 3.6,16.6-.4,3-.8,1.4-3,3-9.5,7.6-8.2,5-6,2.5-6,1.7-6,1.1-6,.4 0-175.7zM1065.1,394.1l-1.7,1.6 0,1.5 1.7,2.2 1.5,1.1 3,1 1.5-.2 1.5-.9 .8-1.7 0-1.5-1.3-3-2.5-1.2-4.5,1.1zM1024.6,512.1l-1.1,2.1 .3,1.5 .8,.9 1.5,.6 1.5-.9 .6-2.1-.6-1.5-1.5-.9-1.5,.3z" fill="#dae9f2" fill-rule="evenodd"/>
<path d="M949.6,343.2l219,0 0,162.4-8.4-5-6.6-2.9-6-1.5-7.5-.6-9-4.4-4.5-1.2-3-2.7-3.8-6.1-2.2-2.1-4.5-2.5-3-1-4.5,0-4.5,2.9-3,2.7-10.5,15.9-6.3,6.5-1.2,3-.8,6.1-1.2,4.5-1.4,3-2.2,3-3.4,2.3-9.2,3.7-4.7,3-2.4,3-3.1,7.5-2.8,3-3.3,1.2-4.5-.2-4.2-2.5-6.3-5.9-9-4.6-2-1.5-2.5-3.1-4-7.4-.9-4.5-.1-4.5 .5-3.3 1.9-2.7 5.6-2.6 1.5-1.4 6.9-9.5 1-3 0-3-3.3-10.6-3.1-6.5-4.5-5.5-6.6-4.4-1.5-1.6-1.1-3 .2-6-1.2-3-3.3-3.2-3-1.1-1.5,0-3,1.1-3,3.1-10,15.2-2.8,5.9-.2,1.6 .5,3 5,9 2.7,7.4 .3,3-.4,3-2.5,4.6-9,9-4.6,2.5-6,1.8-6,1-6,.4-6-.2 0-170.5zM985.6,401l-1.8,2.2-.2,1.4 .5,2.1 1.5,1.6 1.5,.7 3-.6 2.1-2.2 .3-1.5-.9-2.5-1.5-1.5-1.5-.5-3,.8zM1068.1,391.1l-7.9,1.6-1.6,1.5-.2,1.4 .5,1.6 2.1,3 4.1,3.4 4.5,1.5 4.1-.5 1.9-1.4 .7-1.5 .1-3-.7-3.1-1.6-2.5-1.5-1.4-1.5-.7-3,.1zM1023.1,507.1l-1.5,1.2-1.2,2.9-.5,3 .4,3 1.3,2.4 1.5,1.4 3,.8 1.5-.4 1.5-1 1.5-2.3 .5-2.4-.6-3-1.4-2.5-1.5-1.6-3-1.5-1.5,0z" fill="#e0ecf3" fill-rule="evenodd"/>
<path d="M949.6,343.2l219,0 0,159.3-8.7-4.8-6.3-2.7-13.5-2.3-7.5-3.5-4.5-1.3-3-1.8-4.7-6.5-2.8-2.4-9-5.2-3-.7-1.5,.5-1.5,1.1-5.8,6.7-3.8,6-5.4,6.5-3,2.7-7.4,4.4-1.4,1.4-.6,1.6-.5,6-.8,3-4.5,9-2.8,2.2-9,4.1-3.9,2.7-2.9,3-5.2,7.5-1.5,.9-1.5,.1-1.5-.5-3-2.3-4.4-4.2-2.5-3-.6-1.5 .3-3 2.4-6 .4-4.5-.8-3-3.6-7.5-.8-3 1-3 3.5-6 .4-3-1.1-4.6-7.5-16.4-8.5-12-.2-1.6 1.9-6-.1-1.4-1.2-1.6-10.1-7.4-3-1.4-1.5-.2-3,.7-4.5,3.9-9,12.2-6.1,7.3-3.8,5.9-.7,3 .4,3 1.4,3 5.8,8.9 1.7,4.7-.2,4.4-1.1,3-1.8,3-5.4,6.1-3.7,1.6-10.5,.9-6-.4-6-1.2 0-164.4zM985.6,396.9l-3.8,1.8-2.5,3-.8,3 .4,2.9 2.1,3.1 3.1,2 3,.8 3-.4 3-1.9 1.5-2 .6-1.5 .2-3-1.8-4.5-2-2.3-3-1.2-3,.2zM1069.6,389.6l-9,.7-3.7,.9-1.8,1.5-.3,1.5 .3,1.5 4,6.2 4.5,4 3,1.4 3,.7 3,.1 3-.6 2.4-1.3 1-1.5 .1-3-1.5-6-1.8-3-1.5-1.5-3.2-1.5-1.5-.1z" fill="#e5eff4" fill-rule="evenodd"/>
<path d="M949.6,343.2l219,0 0,156.5-13.5-6.6-4.5-1.1-9-1-13.5-5.1-3-1.9-4.5-5.9-7.4-5.9-4.6-4.7-3-1.4-3-.1-1.5,.7-1.5,1.4-3.5,8.6-4,6.4-3,3.7-6,4.8-9,3.9-3,2.1-.7,1.6 .1,1.4 .9,4.6 0,3-1.3,3-3.5,5.8-1.5,1.7-3,1.8-7.5,2.6-4.2,3.1-4.8,4.5-3,1.4-1.5-.1-3-2-1.2-2.3-.1-10.5-3.4-10.5 0-3.1 .5-1.4 4.2-6 .5-1.5-.3-3.1-1.9-4.4-14-27-.8-4.6 1-6 0-2.9-1-1.7-1.5-1.1-7.5-4.2-6-5.4-3-1.7-3-.4-3,1.3-1.5,1.6-8.2,13.1-3.8,4.3-9.4,9.1-4.4,6-1.5,3-.5,3 1.2,4.6 5.6,9 1.9,4.4 0,4.6-2,4.4-1.4,1.6-2.8,1.4-4.7,.4-9-1.7-7.5-3.2 0-155.9zM979.6,394.1l-5.7,3.1-4.2,4.5-1.4,4.5 .7,3 2.5,3 2.1,1.4 7.5,3.9 7.5,1.6 3-.1 2.3-.8 2.8-3 1.2-3 .5-3-.6-4.5-3-7.5-1.7-2-1.5-.9-3-.9-4.5-.2-4.5,.9zM1054.6,389.5l-2.8,1.7-.5,1.5 .4,1.5 5.9,9.6 4.5,4.3 4.5,1.9 6,.8 6-1 1.8-.6 2.1-1.5 .6-1.5-.2-1.6-3.7-8.9-2.1-3.7-2.8-2.3-3.2-1-3-.1-9,.2-4.5,.7zM1116.1,395.6l-3,.8-2.7,2.3-1.1,3 .5,1.5 1.6,1.5 2.9,1.5 3.3,1 3,.2 2-1.2 .8-1.5 .2-2.8-.5-1.7-2.5-3.2-3-1.2-1.5-.2z" fill="#ebf1f5" fill-rule="evenodd"/>
<path d="M949.6,343.2l219,0 0,153.9-13.5-6-3-.8-6-.3-4.5-.8-13.5-5-3-2-4.5-5.9-6.2-5.7-4.3-5.6-3-1.9-4.5-.9-3,1.2-2.5,2.8-2.5,7.4-2.2,4.6-2.9,4.4-3.4,3.3-6,3.5-6,1.8-10.5,2.3-3.1,1.1-1.7,1.6 0,1.4 1.2,1.6 6.6,3.8 1.5,1.7 .8,1.9-.3,3.1-3.5,5.2-1.5,1.4-3,1.4-6,.9-7.5,2.6-3,.3-1.5-1.5-4.5-10.4-.4-1.4 .2-1.6 1.7-1.9 8.3-4.1 2.8-3 .2-1.4-1-1.6-7.3-5.9-4.5-4.9-4-5.6-3.5-6.4-5.3-11.6-.7-4.6 .4-7.4-.4-2.3-1.2-2.3-1.8-1.8-6-3.4-2.9-2.2-7.4-10.6-1.6-4.4-1.1-10.6-1-4.4-2.5-5.7-1.1-4.8-1.8-3-1.6-1.4-3-1.2-9-1.7-7.5,.1-7.5,1.6-6,2.1-7.1,3.5-4.9,3.2 0-55.7zM1053.1,387.9l-4.9,1.8-.8,1.5 .3,1.5 9.4,15 3.4,2.9 6.1,2.1 7.5,.6 12-1.5 2.9-1.2 1.7-1.4 .2-1.5-1.1-1.5-5.2-4.3-1.5-1.8-3.8-7.4-2.2-2.7-1.5-1.1-3-.9-4.5-.4-10.5-.2-4.5,.5zM1111.6,389.3l-3.9,1.9-3.6,3.5-6.3,10-.6,1.5 .2,1.5 2.8,1.5 9.9,1 9,1.7 4.5-.1 2.6-1.2 2.3-3 .8-4.4-.7-4.5-2-4.3-3-3-3.3-1.7-4.2-1-4.5,.6zM1138.6,431.4l-1.7,1.8-.6,3 .8,2 1,1 2,.7 1.5-.7 1-1.6 .4-3-1.4-2.6-1.5-.8-1.5,.2zM949.6,419.6l0-.5 4.5,.1 18,1.1 10.5,2.9 6,2.8 1.5,1.2 1.5,2.8 0,4.6-2.5,7.6-3.5,5.7-4.5,4.2-12,8.3-3,1.4-3,.2-3-.4-6-1.6-4.5-1.8 0-38.6z" fill="#f1f4f6" fill-rule="evenodd"/>
<path d="M949.6,343.2l219,0 0,151.5-13.5-5.4-3-.7-9-.5-15-5.4-3-2.3-3-4.2-6-6.1-4.6-6.9-4.4-3-4.5-1-3,.8-3,2.9-1.9,3.3-3.3,9-3.8,5.8-3,2.7-4.5,2.5-4.5,1.4-4.5,.8-15,.7-6-1.3-7.5-4.1-3-2.6-3-3.7-4.3-6.8-2.9-5.9-2.2-7.5-.6-10.5-1.7-4.5-3.3-3.6-6-3.5-1.5-1.9-1.4-4.6-.6-9-4.2-9-5.6-19.4-2.8-4.6-3.4-2.7-3-1.3-7.5-1.8-6-.8-13.5,.2-16.5,2.6 0-39.6zM1110.1,384.7l-4.4,2-2.3,1.5-2.7,3-5.6,8.5-1.5,1.2-3,.8-3-.8-3-2.1-5.6-9.1-3.4-2.2-9-1-12-.3-9,1.1-2.2,.9-.7,1.5 1.4,3 4.2,4.5 3.3,5.6 1.3,3.4 1,4.4 .7,1.2 3,1.6 7.5,1.6 7.5,.8 18,.2 18-2.4 16.5,1.9 3-.6 1.9-1.3 2.2-3 1-2.9 .2-3-.5-4.5-2.5-7.5-3.6-4.5-4.7-2.8-6-1.4-6,.7zM1138.6,428.4l-1.5,.9-1.5,2.3-1,4.6 .8,3 1,1.4 2.2,1.9 1.5,.2 1.5-.4 1.5-1.3 1.2-1.8 .7-3-.2-3-1.5-3-1.7-1.4-1.5-.5-1.5,.1zM965.6,427.2l5-1.4 4.5,0 6,1.7 4.5,3.1 2.1,4-.1,4.6-2,5-3,3.9-6,3.2-4.5,1.3-3,.2-4.5-1.2-4.5-3.5-2-2.9-1.1-3-.4-3 .4-3 1.3-3 1.8-2.3 2.7-2.3 2.8-1.4zM1053.4,505.2l5.7-.9 4.5,1.1 1.5,.6 1.5,1.4 .3,2.2-3.3,3.9-3,1.4-3,0-6-.9-2.6-1.3-.9-1.5 .1-1.6 2.4-2.9 2.8-1.5z" fill="#f6f7f7" fill-rule="evenodd"/>
<path d="M949.6,343.2l219,0 0,149.2-13.5-4.7-9-.5-3-.6-15-5.5-2-1.4-4-5.5-4.6-5-4.4-7.6-3.9-3-5.1-1.7-3-.1-1.5,.4-3,2.3-3,4.8-4.7,10.9-2,3-2.3,2.3-6,3.3-7.5,1.6-7.5,.3-7.5-.6-6-1.6-6-2.8-3-2.2-4.5-5.2-3.5-5.7-2.1-4.4-1.6-6-.8-9-1-4.5-3-6.1-3.7-4.4-.7-1.6 .9-1.4 6.5-4 10.5-4.2 3-.7 7.5-.7 6-2.5 3-.8 4.5,0 16.5,1.3 10.5,1.5 6-.5 13.5-2.9 4.5,.1 13.5,1.7 3-.3 3-1 2.8-2 1.4-3 .5-4.5-.4-4.5-1.8-7.6-2.5-5.9-3-3.9-3-2.4-4.5-2.2-4.5-1-4.5,.1-6,1.6-4.5,2-3.8,2.8-2.5,3-4.2,6.7-1.5,1.1-1.5,.3-3-1.2-5.7-8.4-3.3-2-36-1.9-5.8,.9-3.2,1.9-.6,1.1 .6,2.5 2.2,2 5.3,2 6,3.6 1.3,1.9 1.2,3 .4,1.5-.3,1.5-2.6,1.7-13.5,4.4-4.5,.8-4.5-.3-6-2.2-3.4-2.9-1.2-3-1.3-6-4.6-12.8-4.5-6.4-4.5-3.6-7.5-3.2-6.4-1-16.1-.5-18,.8 0-28.8zM1137.1,425.6l-1.5,1.8-1.1,2.8-1,4.5-.1,2.9 .7,2.7 1.5,2.6 1.5,1.4 3,.8 3.4-1.4 2.4-3.1 1.1-3 .1-6-2.5-4.2-3-2.4-3-.3-1.5,.9zM971.1,431.7l2.5-.8 3,.1 3,1.1 3.2,2.5 1.3,2.6 .2,2-1.5,4.4-1.7,2.2-3,1.4-4.5,.3-3-1.1-2.8-2.8-1.3-3-.1-3 1.2-3 1.5-1.6 2-1.3zM1057.9,509.7l1.2-1.2 1.5-.3 3.2,1.4-1.3,1.6-1.9,.6-2.1-.6-.6-1.5z" fill="#f8f3f1" fill-rule="evenodd"/>
<path d="M949.6,343.2l219,0 0,147.1-12-3.7-3-.5-6,0-4.5-.8-14.6-5.6-1.9-1.7-6.9-8.8-5.1-9.5-3.1-2.5-5.9-2.2-4.5-.4-3,.8-1.5,1-2.8,3.8-5.6,12-3.6,5.1-3,2.3-3,1.5-7.5,1.7-7.5,.1-6-.8-6-1.8-6-2.6-4.5-3.1-3-3.2-3-4.5-2.4-5.3-1.5-6-1.5-10.4-2.4-9 .2-3 .7-1.5 3.2-3.1 6.7-3.2 12-2.6 9-2.8 7.5,0 18,3.5 4.5,.4 6-.7 10.5-3 4.5-.8 21,1.9 2.4,1.3 .4,1.6-1.8,13.4 .3,3 1,3.1 2.2,2.2 3,1 3-.2 3.1-1.5 2.7-3 2.1-4.6 1-4.4-.4-3-1.5-3-4.6-6-1.5-3-1.6-12-2.8-10.6-2.2-5.9-3.3-5.3-4.5-4.1-3-1.7-4.5-1.4-4.5-.4-4.5,.5-9.9,3.4-5.6,3-5.5,3.9-1.5,.8-1.5,.1-5.2-3.3-3.8-.9-21-.1-18-2.3-7.5,.8-2.7,1-1.9,1.5-.9,1.5-.5,3 .9,3 1,1.5 5.8,6 .6,1.5-.5,1.5-1.3,1.5-2.7,1.5-2.3,.5-3,0-3-1.2-3-3.1-5-11.2-3.1-9-1.8-3-4.4-4.6-5.2-3.8-8.1-3.6-9.9-2.3-13.5-1.3-18-.5 0-19.9z" fill="#f9efe9" fill-rule="evenodd"/>
<path d="M949.6,343.2l219,0 0,145.1-12-3.1-9-.3-3-.5-15-5.9-3-2.8-4.7-6.5-1.8-3-2.5-6.3-1.8-2.7-2.7-2-7.5-2.3-6-.3-3.9,1.6-2.1,2.3-6.1,12.7-4,6-1.9,1.6-3,1.7-7.5,1.7-6,.2-6-.9-13.5-5.1-3-2-3.3-3.2-3.1-4.6-1.9-4.4-4.1-21 0-3 1.1-3 2.9-3 5.4-2.8 21-5.2 6,.2 13.5,3.9 7.5,1.2 7.5-.9 12-3.9 4.5-.8 4.5,.2 12,1.8 1.5,.5 1.5,2.3 .5,4.9-.7,6 0,4.6 .7,3 1,1.4 3,1.6 4.5,.4 4.5-1.4 2.9-2 2.1-3 4.1-7.6-.1-3.9-1.5-3.5-5.1-7.5-2.2-12-6.7-19.5-3.5-6-5-4.8-3-1.8-4.5-1.5-3-.5-4.5,.1-7.5,1.8-16.5,6.1-9,.1-19.5,1.7-7.5-.4-15-3.3-19.5-.3-3-1.6-15.1-10.6-5.9-3.2-6-2.4-7.5-2.2-9-1.7-24-2.6 0-11.9z" fill="#faebe2" fill-rule="evenodd"/>
<path d="M949.6,343.2l219,0 0,143.1-10.5-2.3-12-.6-4.5-1.4-10.5-4.5-3-2.4-4.3-5.9-2.1-4.5-2.4-7.5-1.7-2.5-3-1.6-9-2.1-4.5-.6-3,.1-3,1-1.5,1.1-1.5,2.2-4.5,10.3-4.5,7.2-1.5,1.6-3,1.9-3,1.1-4.5,.9-6,.1-6-1-13.5-5.5-3-2.1-2.9-3.1-1.9-3-1.9-4.6-3.5-18 0-3 1.2-3 2.8-3 3.2-1.8 16.5-4.4 6-1.1 4.5,.5 12,4.7 9,1.6 6-.9 6-1.8 7.5-3 4.5-1 6,.3 9,1.9 1.5,.8 1.1,1.2 1.1,3-1.2,12 .5,3 1,1.6 3.5,1.7 6,.3 4.5-1.2 3.8-2.4 7.4-10.4 .8-1.6-.1-3-2.7-6-4.2-6-.7-3-.5-7.4-8-22.5-4.4-7.5-4.9-4.6-3-1.8-4.5-1.7-3-.5-4.5-.1-7.5,1.5-15,5.4-4.5,1.1-16.5,2.2-7.5,1.5-9,.1-12-3.7-10.5-2.2-5.4-1.7-15.6-6.9-16.5-8.7-10.5-4.1-16.5-4.1-19.5-3 0-4.7z" fill="#fae7db" fill-rule="evenodd"/>
<path d="M961.1,343.2l207.5,0 0,141.1-10.5-1.8-10.5-.1-4.5-1.3-10.5-4.7-4.5-3.8-3.1-5-1.6-4.4-1.1-7.6-.6-1.4-1.1-1.2-4.5-1.8-12-2.6-6-.6-3,.5-1.5,.8-1.5,1.2-1.4,2.1-3.3,9.1-5.8,8.8-1.7,1.7-2.7,1.4-6.1,1.7-6,.3-4.5-.6-13.5-5.4-3-2-2.9-3-1.9-3-1.8-4.4-1.9-9-1-7.5 .4-3.1 1.6-2.7 3-2.5 3-1.2 12-3.1 7.5-1.3 4.5,.8 10.5,4.7 9,2 3,.3 4.5-1.1 16.5-6.3 4.5-.4 6,.9 6,1.9 1.8,2 .5,1.6-.2,1.4-1.9,10.6 .2,3 1.1,2 1.6,1 2.9,.6 6,.1 6-1.3 4.5-2.5 9-11.9 .6-1.5-.1-3.1-1.8-4.4-5.1-7.6-.7-3 .1-6-.5-2.9-7.8-22.5-4.3-7.5-2.9-3.3-3.3-2.8-4.2-2.3-4.5-1.4-4.5-.6-4.5,.3-6,1.4-21,7.2-15,2.7-7.5,2.2-9,.1-22.5-8.1-10.5-5.9-10.5-4.4-15-7.7-9-4.1-12-4-15.5-3.8z" fill="#fbe3d4" fill-rule="evenodd"/>
<path d="M981.3,343.2l187.3,0 0,139.2-10.5-1.4-9,.1-6-1.6-9-4.1-3-2.1-3.4-4.1-1.9-4.6-.4-4.4 .8-3 1-1.6 2.4-1.1 13.5-1.8 6-2.7 3-2.9 6.9-9.5 .9-1.4 .7-3-.5-3-1.3-3-5.3-7.6-.6-3 .2-6-.6-4.4-6.7-21-2-4.5-2.8-4.5-3.9-4.5-3-2.6-4.5-2.6-4.5-1.6-4.5-.7-6,.2-6,1.5-16.5,6.4-9,2.9-10.5,2.2-7.5,2.6-7.5,.2-3.9-1-16.3-7.5-12.8-7.5-12.6-6-15.9-8.6-14.8-6.4zM1056.2,430.2l7.4-.4 12,4.9 15,3.7 3-.8 5-3 8.5-3.6 6-1.5 4.5,.2 6,1.7 2.4,1.8 .4,1.4-2.3,10.6-.5,1.4-1.5,1.9-3,.9-3-.2-18-4.2-3-.3-1.5,.5-1.5,1.1-1.5,1.9-1.5,3-4,10.4-5,6.7-3,2.3-3.7,1.6-5.3,1-4.5,0-4.5-.8-8-3.2-4-2.1-3-2.4-2.4-3.1-1.6-3-2.4-9-.7-6 0-3 1.1-3 1.1-1.4 1.9-1.6 3.2-1.4 11.9-3z" fill="#fcdecd" fill-rule="evenodd"/>
<path d="M993,343.2l175.6,0 0,137.1-10.5-.9-9,.1-5.3-1.3-6.6-3-4.6-3-3-3.4-1.8-4.2 .3-4.4 .8-1.6 1.8-1.4 15.4-3.9 3-1.4 2.9-2.3 8.8-12 1.5-4.4-.3-3-1.2-3-5.6-7.6-.5-3 .3-7.4-.6-4.5-6.2-21-2.1-4.8-3-4.9-3-3.7-3.5-3.1-4.7-3-5.3-2.2-6-1-6,.2-7.5,1.9-22.5,9.5-12,3.3-7.5,2.9-3,.5-4.5-.3-3.7-1.3-13.9-7.5-13.9-8.7-33.1-18.3zM1053.2,433.2l5.9-.7 4.5,.4 10.5,4.1 9,2.8 3.9,2.4 .9,1.4 .1,3-3.4,10.8-3,5.2-4.5,4.5-3.8,2.1-3.7,1.2-4.5,.6-4.5-.3-4.5-1.5-6.6-3-2.4-1.6-3-3.1-2.4-4.3-1.7-6-.8-6 .7-4.6 1.2-2.1 2.9-2.3 3.6-1.6 5.6-1.4zM1110.1,433.2l4.5-.7 3,.3 3,1.1 1.5,1.2 .8,2.5-.7,4.6-1.5,3-1.6,1.4-3,.6-2.8-.6-11.9-4.4-1.7-1.6-.2-1.4 1.6-2.1 4.8-2.5 4.2-1.4z" fill="#fddac5" fill-rule="evenodd"/>
<path d="M1001.9,343.2l166.7,0 0,135-19.5-.6-4.5-1-6.4-3-4.1-2.7-2.9-3.2-1.2-3.1 .2-3 .9-1.4 1.5-1.2 3-1.2 12-3.4 3-1.5 2.3-1.7 2.4-3 3.7-6 3.6-4.6 1.4-4.4-.2-3-1-3-1.8-3-3.7-4.6-.5-1.4 .3-9-.5-5.3-2.6-11.2-2.7-9.1-2.6-5.9-2.6-4.6-3.4-4.4-4.1-3.9-6-3.9-6-2.2-6-1-7.5,.5-9,2.7-24,11.3-7.5,2.1-8,3.4-5.5,.1-4.7-1.6-14.6-9-10.7-7.4-27.2-16.6zM1051.4,436.2l6.2-.9 6,.6 9,3.5 7.5,2.4 3,1.6 1.4,1.8 .4,1.4-.3,3-1.9,6-2.6,4.6-3,3-4.6,3-3.3,1.4-4.1,1-4.5,0-3-.9-6-2.7-3-1.9-2.8-2.9-2.4-4.6-1.6-6-.2-4.4 .8-3 1.7-2.4 3-2 4.3-1.6zM1111.7,437.6l2.9-.4 1.8,.4 1.4,1.6-.2,3-1.5,1.2-1.5,0-2.7-1.2-1.6-1.6-.3-1.4 1.7-1.6z" fill="#fbd1bb" fill-rule="evenodd"/>
<path d="M1009.5,343.2l159.1,0 0,132.6-18-.1-4.5-.7-4.5-1.8-4.4-2.6-3.1-3-1.4-3 0-1.4 1-1.6 2.1-1.4 13.3-4.4 4.9-3.2 2.5-3 3.4-5.9 4.2-5.3 1.1-2.2 .7-3-.2-3-.8-3-5.5-9-.4-3 .2-9-.5-4.5-2.2-10.5-2.7-9-2.6-6-2.5-4.5-3.2-4.5-4.5-4.5-6.7-4.5-6.2-2.5-7.5-1.3-7.5,.4-6,1.5-4.5,1.8-22.8,12.1-7.2,2.3-8.1,3.7-3.9,.2-3-.7-3-1.5-12.6-8.5-9.9-7.5-22.6-15zM1050.9,439.2l5.2-1.3 6,.4 4.5,1.3 12.7,5.6 1.7,1.4 .5,1.6-.3,3-1.6,4.5-4,4.6-6,4.1-3,1.2-3,.7-3,0-3-.8-5-2.3-3.9-3-2.1-3-1.8-4.6-.8-4.4 .4-3 1.2-2.3 2.4-2.2 2.9-1.5z" fill="#fac9b0" fill-rule="evenodd"/>
<path d="M1016.3,343.2l152.3,0 0,130-21-.3-6-2.3-3-2.2-1.6-2.2-.3-1.6 .6-1.4 1.6-1.6 2.9-1.4 8.8-2.7 3-1.6 2.1-1.7 2.4-3 3.3-6 4.5-6 1.4-3 .6-3-.1-3-.7-3-5.2-10.6-.4-11.9-.7-6-1.8-9-2.1-7.5-2.4-6-3.1-6-3.8-5.3-4.5-4.7-7.5-5.1-7.5-2.9-7.5-1.2-9,.6-6,1.6-4.5,1.9-23.9,13.6-13.6,5.8-3,0-3-1-3.1-1.8-10.3-7.5-10.6-8.5-17.3-12.5zM1055.7,440.6l4.9,0 4.5,1.2 6.4,3.4 4.1,2.9 1,1.6 0,2.9-2.6,4.6-5.9,4.6-3,1.3-3,.5-4.5-.7-3-1.4-3-2.1-2-2.2-1.6-3-.8-3-.1-3.3 1-2.7 1.2-1.6 2.3-1.6 4.1-1.4z" fill="#f9c1a6" fill-rule="evenodd"/>
<path d="M1022.8,343.2l145.8,0 0,81.5-3-6.5-.9-3-.8-13.6-1.3-8.9-2.2-9-3.2-9-4-7.5-4.6-6-5.5-5.2-5.8-3.8-6.2-2.7-7.5-1.8-7.5-.3-7.5,1.2-4.5,1.3-6,2.7-21,13-12,5.8-3,.7-4.5-1.3-5.4-3.6-29.4-24zM1168.4,439.2l.2,30.7-10.5-.7-9,.6-3.4-.6-2.7-1.6-1.2-1.4-.2-1.6 .9-1.4 2.9-1.6 8.2-1.9 4.5-3.8 10.3-16.7zM1055.7,443.6l3.4-.5 3,.5 3.5,1.6 3.8,3 1.2,1.4 .6,3-1.3,3.1-1.3,1.5-3.5,2.3-4.5,.9-4.5-1.4-3-2.4-2.3-4-.3-3 .3-1.4 2.1-3 2.8-1.6z" fill="#f7b99c" fill-rule="evenodd"/>
<path d="M1029.2,343.2l139.4,0 0,74.3-1.2-5.3-1-13.5-1.4-9-2.3-9.1-2.8-7.4-3.9-7.5-5.4-7.2-6-5.6-6-3.9-7.5-3.2-7.5-1.7-9-.3-7.5,1.3-6,1.9-4.6,2.2-26.4,16.5-5,2.5-3,.6-4.5-1.4-6.8-4.7-21.6-19.5zM1168.1,445.2l.5-.9 0,21.1-5.2-2.2-1.1-1.6-.2-1.4 2.2-7.6 3.8-7.4zM1058.8,446.6l1.9,0 2.5,1.6 1.9,3 0,1.4-.7,1.6-2.3,1.5-3-.1-2.4-1.4-1-1.6-.3-3 .7-1.3 2.7-1.7z" fill="#f6b192" fill-rule="evenodd"/>
<path d="M1035.6,343.2l64.1,0-6.1,2.7-5.8,3.3-19.8,13.5-2.9,1.4-3,.5-4.5-1.3-5.3-3.6-16.7-16.5zM1134.5,343.2l34.1,0 0,49.7-1.9-9.3-2.6-8.5-3.5-7.9-3.7-6-4.8-6-4.9-4.5-5.6-4-7.1-3.5z" fill="#f5a987" fill-rule="evenodd"/>
<path d="M1042.7,343.2l45.3,0-10.9,6.3-10.5,8.8-3,1.2-1.5,.1-3-.7-3.4-2.2-13-13.5zM1142.7,343.2l25.9,0 0,35.2-4.4-11.2-5.3-9-6.8-7.9-4.5-3.8-4.9-3.3z" fill="#f2a07e" fill-rule="evenodd"/>
</g>
<path d="M1008.6,471.8l-2.9,2.4-1.9,3-.7,3 .1,4 1.3,4 2.1,2.8 2,1.4 3,.6 2-.5 2-1 1.6-1.3 1.4-1.8 1.2-3.2 .2-2-.2-3-1.2-4.1-1-1.7-1.3-1.2-1.7-1.1-2-.8-2-.1-2,.6M1105.6,484l-3,1.5-1,1-1.1,1.7-.9,2.4-.6,2.6 0,2 .5,2 2.1,3.1 3,2.1 5,1 2-.3 1-.5 1-.9 2-4.3 1.4-4.2-.3-3-1.7-3-2.4-2.3-3-1.2-2-.1-2,.4M1167.6,518.5l-5.9-4.3-5.1-3.2-5-2.3-5-1.4-9-1.1-5-1.3-2-.2-12.1,4.5-2.9,2-6.1,8-2.6,2-9.3,6.1-5.4,4.9-3.6,3.9-1,2.1-.6,2-.5,9-.9,3-3,5-2,2.3-2.8,2.7M1032.1,562.2l-6.5-3.3-10-5.8-4-3-3-3.5-1.2-2.4-.4-2-.5-11-2.8-13-1.1-2.8-2-3-1.3-1.2-1.7-1.1-2-.3-2,0-5,1.4-9.7,5-7.3,5.8-7,4.3-7,3-8,2.3M1069.6,390.1l-9,.9-2,.5-1.2,.7-.9,1-.3,2 .7,2 2,3 1.8,2 2.9,2.4 2,1.1 3,1 3,.3 2-.2 2-.7 1.3-.9 .7-1 .4-3-.6-4-.8-2.2-2-2.8-1.2-1-1.8-1-2-.1M986.6,398.1l-2.5,1.1-2.1,2-.9,2-.1,3 .8,2 1.9,2 1.9,1 3,.3 2-.6 2-1.6 1.4-2.1 .4-2-.8-3-1-1.8-1-1-2-1.1-3-.2M1167.6,503.1l-7-4-6.6-2.9-4.4-1.2-10-1.4-8-3.9-5-1.6-3-2.6-3.5-5.3-2.5-2.2-7-3.8-3-.9-2,.1-2,1-6,5.6-4,6.3-7,8.7-2,1.7-5.3,3.5-1.7,1.5-.7,1.5-.6,6-.9,4-2.5,6-1.3,2.1-3,2.2-9,3.9-4,2.5-3.2,3.3-3.5,7-1.5,2-2.8,1.7-1,.2-2-.4-3-2.1-5-5.1-9.3-7.3-1.8-2 4.1-1.2 2-1.3 2.8-3.5 1.1-3 0-3-.8-3-2.1-4-3-4-.6-2 .6-2 3.4-5 1.5-3 .3-2-.3-3-5-13-2.6-5-4.3-5.8-2-2-4-3.1-.7-1.1-.1-2 1.5-5-.4-2-2.5-3-4.8-4-3-1.5-2-.2-2,.4-2,1.1-3,2.9-12.8,17.3-4.2,7-.4,2 .7,3 6.7,10.7 2,5.3 .3,2-.4,3-1.1,3-1.9,3-6.4,7-1.5,1.1-2,.9-6,1.3-6,.6-6-.1-6-.8M1015.5,517.2l.1-.4 1,.3 .9,2.1 .1,2-1,.2-1.3-1.2-.3-1 .5-2M1137.6,426.8l-1.4,1.4-1.1,2-1.3,5 .1,2 .8,3 1.9,2.6 2,1.3 2,.1 2.2-1 2.5-3 .9-3-.1-5-.8-2-2.7-3-1-.6-2-.4-2,.6M971.2,429.2l2.4-.5 2,.1 4,1.2 3.4,2.2 2.2,3 .5,2 .1,2-1.2,3.5-2,3.5-3,1.9-3,1-2,.3-4-.4-3.2-1.8-1.9-2-1.3-2-.7-2-.3-2 .2-2 .6-2 1.2-2 2-2 1.6-1 2.4-1M1167.6,492.8l-7-2.8-6-1.9-2-.3-6,0-4-.8-15-5.5-2-1.6-3.4-4.7-5.6-6-3-5.5-2-2.4-4-2.4-3-1-2-.3-3,.7-3,2.5-2.7,4.4-3.1,8-2.2,4.1-3,3.6-4,2.7-3,1.3-3,.9-4,.7-5,.3-10-.2-4-.7-3-1-5-2.4-3-2-3-3.1-4-5.5-3.2-5.7-2.2-6-.9-5-.5-8-1.6-5-1.6-2.8-2-2.3-2-1.5-3-1.6-1-1-.4-1.8 .3-2 1.1-1.6 1-.7 4-1.1 5-2.3 6-1.4 5-2.4 3-.5 7,.1 5-2.6 2-.5 4-.2 12,1.2 7,.2 7,1 4,.2 5-.4 10-2.2 4-.5 4,.2 13,1.7 3-.2 2-.8 2.8-2.2 1.2-2 .8-2 .4-4-.6-5-1.5-6-2.2-5-2.9-3.5-4-2.8-4-1.7-5-.7-5,.6-5,1.9-3.9,2.2-2.1,2-2.2,3-2.9,5-1.6,2-1.4,1-1.9,.3-3-1.1-1.7-1.2-2.7-5-2.2-3-2.4-2-2-.7-8-.6-12-.5-16,.1-2.6,.7-2.4,1.1-.8,.9 .1,1 .7,.9 1,.6 4,1.4 7,5.3 1.3,1.8 2.4,5 .3,1-.1,2-.9,1.6-1,.8-4.5,1.6-6.5,2.7-6,1.7-6,.7-4-.6-5-1.9-3-1.9-1.6-1.7-1.5-3-1.3-8-2-5-1.7-6-1.8-3-2.1-2.8-3-3.1-2-1.3-4-1.7-3.7-1.1-6.3-.7-16,0-17,1.4M1058,507.2l2.6-.4 4,1.1 1,1 0,1.3-2,1.7-2,1-1,.3-2-.3-3.5-1.7-.6-1 .2-1 .9-.8 2.4-1.2M1167.6,484.8l-10-1.8-4-.2-5,.2-2-.3-5-1.6-10-4.5-2-1.5-1.8-1.9-3.3-5-1.6-4-1.8-8-1.2-2-1.1-1-2.2-1.1-12-2.6-4-.6-3,.1-2,.4-2,1.1-2,2.2-3.7,9.5-3.3,5.6-2.4,3.4-1.6,1.6-2.2,1.4-2.8,1-4.2,1-5.8,.2-5-.6-4-1.3-10-4.2-3.1-2.1-2.9-3-1.9-3-1.6-4-1.8-8-1.6-10 .5-3 1.4-2.6 2.7-2.4 3.3-1.6 13-3.4 7-1.3 2,0 3,.7 8,3.7 2.4,.9 7.6,1.7 4,.5 5-1.1 8-2.8 6-2.5 3-.9 4-.2 6,.9 6,1.7 1,.7 1.4,2 .6,2-1.5,7-.4,5 .6,3 1.3,1.5 2,1 2,.5 6,0 5-1.2 3-1.5 1.7-1.3 8.3-11.5 .5-1.5-.3-3-2.3-5-3.7-5-1-2-.6-3 .1-5-.5-3-3.4-9-2.7-9-2-5-2.1-4-2.1-3-2.9-3.3-3-2.4-4-2.1-4-1.4-4-.5-4,.1-6,1.2-16,5.7-5,1.4-16,2.6-7,2-4,.3-5-.1-3-.8-10-3.7-11-3.3-3.8-1.7-7.1-4-11.1-4.6-15-7.8-10-4-8-2.6-8-2-20-3.7M1055,437.2l4.6-.1 5,.9 7,3 7,2.4 3,1.8 .8,1 .4,1-.1,2-.6,3-1.6,4-2.9,3.8-2.6,2.2-5.4,3.3-3,1.1-4,.6-3-.3-4-1.4-4.5-2.3-2.6-2-2.3-3-1.8-4-1.2-5 .2-4 1.2-2.8 2.2-2.2 3.8-2 4.4-1M1167.6,476.6l-17-.2-5-.8-4-1.6-5-2.8-3.2-3-1.6-3-.3-2 .4-1 2-2 3.7-1.6 11-3.3 3-1.6 2-1.6 2.5-2.9 3.4-6 4.1-5 .9-2 .7-3-.1-3-.9-3-1.7-3-3.1-4-1-2-.3-2 .3-9-.5-5-2.2-10-2.6-9-2.5-6-3-5.4-3.6-4.6-4.1-4-3.3-2.5-3-1.7-3-1.3-4-1.2-7-1-7,.6-5,1.2-4,1.5-24,12.2-8,2.5-7,3.2-2,.4-3-.2-3-.9-3-1.7-10.9-7.1-11.1-8.1-11.2-6.9-13.5-9M1103.9,343.2l-5.3,1.9-6,2.9-6,3.7-10.8,7.5-7.8,5-2.4,1.1-3,.7-2-.2-3-1.1-5.3-3.5-3.5-3-15.4-15M1167.6,393l-2-9.8-2.6-8-3.4-7.6-4-6.4-5.1-6-5.9-5.2-7-4.2-6.7-2.6" fill="none" stroke="#222" stroke-width="1.15" stroke-opacity="0.88"/>
</g>
<path d="M951.10,452.35a107.30,107.70 0 1,0 214.60,0a107.30,107.70 0 1,0 -214.60,0zM954.10,452.35a104.30,104.70 0 1,0 208.60,0a104.30,104.70 0 1,0 -208.60,0z" fill="#000" fill-rule="evenodd"/>
<path d="M1039.6,348.2L1049.8,336.0M1067.0,336.0L1077.2,348.2" fill="none" stroke="#000" stroke-width="3.3" stroke-linecap="butt"/>
<path d="M956.4,427.2C952.8,425.5 944.0,425.4 943.8,437.1C943.6,450.4 942.5,461.8 942.2,467.6C942.0,480.5 951.9,480.6 956.7,478.2" fill="none" stroke="#000" stroke-width="3.3" stroke-linecap="butt" stroke-linejoin="round"/>
<path d="M1160.4,427.2C1164.0,425.5 1172.8,425.4 1173.0,437.1C1173.2,450.4 1174.3,461.8 1174.6,467.6C1174.8,480.5 1164.9,480.6 1160.1,478.2" fill="none" stroke="#000" stroke-width="3.3" stroke-linecap="butt" stroke-linejoin="round"/></g>
<g id="gamma_d"><clipPath id="c_gamma_d"><ellipse cx="1520.75" cy="452.35" rx="108.15" ry="108.7"/></clipPath>
<g clip-path="url(#c_gamma_d)">
<g filter="url(#blur)">
<rect x="1409" y="340" width="223" height="224" fill="#337eb8"/>
<path d="M1412.1,343.2l217.5,0 0,219-217.5,0 0-219zM1457.1,508l-3,2.5-1.7,2.2-1.5,3-.7,3-.5,6 .6,3 .8,1.5 1.5,1.3 1.5,.5 1.5,.1 3-1 3-2.2 3.2-4.7 1.6-6-.3-6-1.5-2.8-3-1.4-1.5,0-3,1zM1601.1,433.7l-2.1,2.5-.2,3 .8,2 1.5,1.2 1.5,.1 2.2-1.9 .5-1.4 0-3-1.2-2-1.5-.8-1.5,.3z" fill="#3b88bd" fill-rule="evenodd"/>
<path d="M1412.1,343.2l217.5,0 0,219-217.5,0 0-219zM1457.1,506.4l-3,2.2-3,3.8-1.5,3.3-.9,4.5-.4,6 .6,3 2.2,2.9 3,1.1 1.5-.1 3-1.1 3-2.1 1.5-1.7 3-5 1.6-6 0-6-1.6-3.8-1.5-1.2-3-.9-1.5,0-3,1.1zM1601.1,432.3l-2.5,2.3-.6,1.6-.1,3 .3,1.4 1.4,2.2 1.5,.9 1.5,.1 1.5-.7 1.8-2.5 .3-4.4-.5-1.6-1.4-1.4-1.7-.9-1.5,0z" fill="#4292c2" fill-rule="evenodd"/>
<path d="M1412.1,343.2l217.5,0 0,219-217.5,0 0-219zM1457.1,504.9l-3,2-3,3.3-2.2,4-1.3,4.5-.9,7.5 .3,3 1.1,2.9 1.3,1.6 3.2,1.7 1.5,.2 3-.7 3-1.7 2.9-2.5 3.8-6 1.9-6 .4-7.5-1.7-4.5-1.5-1.5-2.8-1.1-3-.1-3,.9zM1599.6,431.5l-2.4,3.2-.4,1.5 .4,4.5 .9,2 1.5,1.6 3,.9 1.5-.5 2.3-2.5 .7-3-.1-3-1.4-3-1.5-1.1-3-1.1-1.5,.5z" fill="#539dc8" fill-rule="evenodd"/>
<path d="M1412.1,343.2l217.5,0 0,219-217.5,0 0-219zM1457.1,503.6l-4.5,3.1-3.6,4.5-2.3,6-1.4,7.5-.2,4.5 1.3,4.5 2.5,3 3.7,1.6 4.5-.6 3-1.7 3-2.8 2.7-4 2.3-4.5 2-7.5 .4-4.5-.3-3.1-1.2-3-1.4-1.8-1.6-1.2-2.9-.9-3,0-3,.9zM1599.6,429.8l-3,1.4-1.1,2-.1,3 .7,4.4 1.4,3.1 2.1,1.9 3,.9 1.5-.3 1.7-1 1.9-3 .4-3-.2-3-.8-2.2-1.5-1.8-3-1.9-3-.5z" fill="#64a8ce" fill-rule="evenodd"/>
<path d="M1412.1,343.2l217.5,0 0,219-217.5,0 0-219zM1458.6,501.9l-3,1.3-3,2-4,4.4-2.8,6.1-2.4,10.5 .1,6 1.6,4.3 3,3.2 4.5,1.7 3-.2 3-1.1 4.5-3.6 3-4.7 2.7-5.6 2.2-7.5 .7-7.5-.7-3-1.6-3-1.8-2-3-1.4-3-.4-3,.5zM1505.1,471.6l-1.5,.7-1.5,1.7-1.4,4.2 .3,3 1.1,1.8 1.5,.4 1.5-.4 3-3.4 1.5-4.4-.3-1.6-1.2-1.7-1.5-.5-1.5,.2zM1572.6,413l-1.5,.9-.4,1.3 .4,1.4 3,2.8 6,2.9 5.4,6.4 6.6,4.9 1.5,2.5 2.7,7.6 1.8,2.2 1.5,1.1 3,.9 3-.7 1.5-1.2 1.5-2.5 .6-4.3-.8-4.5-1.3-2.1-4.5-3.3-7.5-2.2-6-4.3-7.5-2.5-1.5-1-4.5-5.4-1.5-.8-1.5-.1zM1599.6,505.1l-4.5,1.5-4.9,4.6-2.1,3-1.4,3-.3,3 .4,1.5 2.3,3.4 4.5,3.1 6,1.8 6-.3 4.5-2 2.6-3 1.3-4.5-.5-4.5-2-4.5-2.9-3.3-4.5-2.3-4.5-.5z" fill="#76b3d4" fill-rule="evenodd"/>
<path d="M1412.1,343.2l217.5,0 0,219-217.5,0 0-219zM1460.1,500.4l-3,.9-3,1.5-3.2,2.4-2.8,3-3.6,7.5-2.5,9-.7,7.5 .5,3 1.1,3 2.1,3 1.6,1.4 4.5,1.9 3,.1 3-.6 3-1.4 3.6-2.9 2.4-3.8 4.5-11.2 1.2-4.5 1.1-9-.6-3-1.5-3-1.7-2.2-3-1.9-3-.7-3,0zM1505.1,467.3l-3,1.7-1.5,1.6-1.6,3-1.2,4.6-.3,3 .6,3 2.1,3 1.9,.7 3-.7 1.5-1.2 4.5-6.9 1.4-3.9-.1-4.5-1.3-2.8-1.5-1.1-1.5-.2-3,.7zM1548.6,444.9l-.6,.3 .3,1.4 1.8,.4 1.9-.4 1.1-1.4-3-.7-1.5,.4zM1569.6,407.4l-3.2,1.8-1.7,3 .4,4.4 3,4.4 3,2.3 9,4.6 10.5,7.5 1.9,2.3 2.6,5.9 3,3.7 1.5,1 3,1 3-.4 1.6-.7 2.3-3 .8-4.5-1-6.1-2.1-3-4.6-3.5-7.3-3.9-10.5-7.6-8.2-7.4-4-1.8-3,0zM1569.6,471.6l-.8,.6-.6,1.4 1.4,1.7 3,.3 1.5-.5 1.4-1.5-.6-1.4-.8-.5-3-.5-1.5,.4zM1598.1,499.1l-3,1-3.1,2.1-8.6,10.5-2.5,4.5-.3,1.5 .4,3 2.1,3.7 3,3.3 3,2.3 4.5,2.5 4.6,1.7 5.9,1 4.5-.2 3.4-.8 2.6-1.3 2.4-1.7 3.1-4.5 .9-3 .3-3-.5-4.5-.9-3-2.2-4.6-2.1-3-2.8-3-2.7-2.1-6-2.5-3-.3-3,.4z" fill="#88beda" fill-rule="evenodd"/>
<path d="M1412.1,343.2l217.5,0 0,219-217.5,0 0-219zM1457.1,500.1l-6,3.6-3,2.7-1.5,2.1-4.6,10.2-2.6,10.5-.2,4.5 .4,3 .9,3 1.6,2.9 1.5,1.7 3,2.2 4.5,1.4 3-.1 4.5-1.3 4.5-2.8 3-3.2 1.5-3 4.7-14.3 1.5-9 .3-3-.5-3-2.5-4.6-2-2.1-3-1.6-3-.7-3,.1-3,.8zM1508.1,461.4l-7.7,4.8-2.7,4.4-1.6,5.1-1,5.5 .5,4.5 2,3.7 3,1.8 1.5,0 3-1.2 3-2.7 5.5-9.1 1-3 .8-6-1.3-6-1.5-1.8-1.5-.6-3,.6zM1545.6,441.8l-.5,.4-.1,1.4 .1,3 .5,1.9 1.5,.9 6-.4 1.5-.6 2.1-1.8 .8-1.4 .1-1.8-.6-1.2-.9-.5-6,1.4-1.5,0-3-1.3zM1566.6,404.3l-2.8,1.9-1.2,1.5-1.9,4.5 .1,3 .9,3 3.1,4.4 3.6,3 10.2,4.3 10.5,6.5 2.8,2.8 4.2,7.4 3.5,3 4.5,1.2 3-.7 1.5-.9 1.5-1.9 .9-2.1 .5-4.6-1.3-6-1.8-3-5.8-4.9-15.3-11.5-7.2-7.3-3-2.3-3-1.4-3-.7-4.5,.8zM1566.6,468.9l-2.9,1.7-1.6,3 .2,1.6 1.3,1.5 1.5,.8 4.5,1.4 4.5-.1 3-1.2 2.6-2.4 .5-1.5-.6-1.5-2.5-2.5-6-1.5-4.5,.7zM1601.1,494.6l-7.5,1.5-3,1.5-1.6,1.6-11.9,16-1.1,3.5 .5,3 2.5,4.5 4,4.5 4.6,3.6 6,3.4 6,2.4 6,1.3 6,.1 4.5-1 3-1.3 3.4-2.5 2.4-3 1.5-3 .8-3 .3-4.5-1.5-7.5-3.7-7.5-3.5-4.6-3-3-4.1-3-3.1-1.4-4.5-1.3-3-.3z" fill="#98c8e0" fill-rule="evenodd"/>
<path d="M1412.1,343.2l217.5,0 0,168.9-2.3-3.9-3.4-4.5-4.5-4.5-4-3-3.8-2-6-2-4.5-.6-4.5,.3-6,1.6-4.5,3.3-12,17-1.6,4.9 .4,3 1.4,3 3.2,4.5 4.1,4.1 9,6.6 6,3.1 4.5,1.8 9,1.9 7.5-.4 4.5-1.4 3-1.7 4.5-4.4 0,23.4-217.5,0 0-219zM1457.1,499l-3,1.4-4.5,3.2-4.1,4.6-5.5,12-2,6-.9,4.5 .1,7.5 2.1,6 2.3,3 2,1.7 3,1.5 3,.7 4.5-.1 4.5-1.4 4.5-2.8 4.2-4.1 1.8-3.5 1.4-7 2.9-9 1.1-6 .8-6-.4-3-1.5-3-2.8-3.8-3-2.1-3-1-4.5-.2-3,.9zM1509.6,457.1l-5.5,1.6-4.9,2.9-1.6,2.2-1.5,4.5-2.8,11.3-.2,5.9 .8,3.2 1.7,2.9 2,2.1 1.5,.7 1.5,.2 3-1 4.5-3.8 7-11.6 3-7.6 .6-6-1.6-4.4-3-2.4-4.5-.7zM1544.1,440.3l-.9,1.9 .3,6 .6,2.2 1.5,1.5 3,.5 6-1.1 3-1.8 1.9-2.9 .7-3-.2-1.4-.8-1.6-1.6-.8-1.5,0-6,2.3-1.5-.1-3-1.9-1.5,.2zM1565.1,401.6l-3,2.1-2.1,2.5-1.6,3-.8,3 0,3 .7,3 1.4,3 2.4,3.1 3,2.9 2.3,1.5 11.2,3.4 10.5,5.9 2.4,2.6 3.6,6.4 1.5,1.8 3,2.3 3,1.1 3,.1 3-1 1.5-1.2 2-3.4 .6-4.5-1-6-2.1-4.6-8.5-8.2-12-10.1-7-7.1-3.5-3-4.5-2.3-3-.6-3,.2-3,1.1zM1563.6,467.1l-5.1,3.5-2.2,3-.3,1.6 .4,1.4 1.9,1.6 9.8,2.9 6,.5 4.5-1.7 3.3-3.3 .5-1.4-.5-3-.9-1.6-2.4-2.1-3-1.3-6-1-3,.1-3,.8z" fill="#a6cfe4" fill-rule="evenodd"/>
<path d="M1430.8,343.2l198.8,0 0,161.6-7.5-7.6-4.5-3.1-4.5-2.3-5.1-1.6-5.4-1.1-6-.3-4.5,.5-6,2.3-3.5,3-11.9,19.6-1.4,4.5 .5,3 1.4,3 5.9,7.8 10.5,8.9 10.5,6.2 9,3.3 7.5,1.1 7.5-.6 3.8-1.2 3.7-2 0,14-217.5,0 0-189 4.5,3.1 4.5,2.2 3,.8 4.5,.2 6-1.6 11.5-4.7 5.3-3 .9-1.5 .1-1.5-1.4-3-5.9-8-6.7-7-7.6-6zM1458.6,497.3l-3,1.1-4.5,2.8-3.2,2.5-2.8,2.9-6.8,13.6-3,9-.7,4.5-.1,4.5 .8,4.5 1.1,3 1.8,3 2.4,2.6 3,1.9 3,1.1 4.5,.3 6-1.3 6-3.6 4.5-4.4 1.9-2.6 1.3-3 1-7.5 3.4-12 1.3-10.5-.8-3.1-2.9-4.4-3.3-3-3.4-1.6-4.5-.8-3,.5zM1502.1,455.3l-4.7,1.9-1.7,1.4-1.1,1.9-.6,2.7-.3,7.5-2.8,12 .5,5.9 1.7,4.7 3,4.1 1.5,1.1 1.5,.3 1.5-.2 3-1.9 6-6.7 11.2-19.3 1.1-3.1 .5-3-.3-3-1.4-3-1.3-1.4-2.3-1.6-3-.9-3-.4-9,1zM1544.1,438.9l-1.9,1.7-.5,9.1 .6,2.9 1.8,2.7 3,1.3 3-.1 6-2.2 3-2.4 2.3-3.7 1.1-4.6-.4-3.2-1.5-2.2-1.5-.5-3,.5-6,2.9-1.5-.2-3-2-1.5,0zM1565.1,398.4l-4.5,3.1-2.7,3.2-1.8,3-1.3,4.5 .1,4.4 1.2,4.2 2.1,3.4 3.9,4.8 3.2,2.6 13.3,2.4 4.5,1.8 4.5,2.5 3,2.8 4.5,7.5 4.5,4 3,1.2 3,.2 3-.7 1.5-.8 1.5-1.5 1.5-2.5 .8-4.9-1.3-7.4-1-3.1-1.5-2.6-3.6-3.3-5.4-6.4-21-19.8-4-2.3-3.5-1.2-4.5,0-3,.9zM1562.1,464.6l-8.9,4.6-2.8,3-.5,1.4-.3,3 .5,1.8 1.5,1.9 2.2,.9 8.3,.8 12,2.5 4.5-1 4.6-3.9 1.3-3-.1-3-1.4-3-2.9-3-3-1.4-7.5-1.8-4.5-.4-3,.6z" fill="#b4d6e8" fill-rule="evenodd"/>
<path d="M1445.8,343.2l183.8,0 0,156.3-8-6.3-8.5-4.2-7.5-1.9-18.2-2.9-.6-1.6 .5-4.4-.4-3-1.9-4.6-2.5-3-3.9-2.4-16.5-5-1.8-1.6 3.8-12 1.2-7.4 1.3-2.2 3-1.3 3-.5 4.5,.2 4.5,1.2 4.5,2 4,3.6 3.5,5.9 3,3.9 3,2.2 3,1.3 4.5,.3 3-1.1 3-2.6 1.8-3.9 .3-3-.4-4.6-2.2-7.4-1.3-3-10.2-12.8-7.5-6.8-10.4-10.4-6.1-4.2-6-1.8-3,.2-3,.8-5.2,3.4-5,6.1-1.6,3-.9,2.9 .1,7.6 1.2,4.4 5,7.6 .5,3-.7,1.4-1.8,1.6-6.6,3.5-4.5-2.1-1.5,0-2.5,1.6-.8,1.5-.1,4.5-1.6,6-.5,4.4 1,4.5 3.4,6.1 2,10.4 1.4,3.1 1.3,1.5 1.9,1.4 2,.9 9,.3 6,1.3 7.8,3.5 1.9,1.6 .7,3-1.9,7.4-2.7,6-5.4,9.1-.7,3 1.2,4.5 6.6,9.4 6,5.9 9,7.3 7.5,4.9 6,3 7.5,2.6 7.5,1.1 6-.2 6-1.6 0,6.6-217.5,0 0-178.3 5.7,2.8 4.8,1.5 4.5,.6 3-.4 3-1.2 9-5 4.5-1.8 6-1.5 10.5-1.2 3-1 2.6-2 1.2-3-.4-3-1.9-2.9-8.9-7.6-12.9-15zM1472.1,455.6l-1.4,1.6-.1,2.1 1.5,1.1 1.5-.2 1.6-1.6 .2-1.4-.3-.8-1.5-1.1-1.5,.3zM1497.6,452.6l-3,1.2-1.5,1.2-2.1,3.6-.4,3 1.3,4.6 .2,3-.4,3-2.5,9-.5,4.4 .6,4.6 3.8,14.5 1.5,1.4 3,.7 3-1.6 1.5-1.8 7.5-11.1 6-10.5 9.5-12.6 1.7-3 .6-3-.7-3-1.8-3-1.8-2.2-3-1.8-3-.8-4.5-.4-15,.6zM1458.6,496l-3,1.2-5.4,3.5-3.8,2.9-2.6,3-7.9,15.1-3.2,9-.7,4.5-.1,4.5 .6,4.5 1.5,4.5 2.1,3.4 2.5,2.6 3.5,2.1 3,1 3,.4 4.5-.4 4.5-1.4 4.5-2.6 4.5-3.9 3-3.6 2.2-3.6 1-3 .7-7.5 3.3-12 1.7-9 0-3-3.7-6-3.7-3.6-3-1.7-3-1-3-.3-3,.4zM1467.6,432.9l-.9,1.7 0,1.6 .9,2.1 1.5,.9 1.5-.6 .6-1 .3-1.4-.4-1.6-.5-.9-1.5-1.1-1.5,.3z" fill="#c2ddec" fill-rule="evenodd"/>
<path d="M1455.5,343.2l174.1,0 0,152-6-4.2-6-3.1-7.5-2.5-12-2.6-3.8-1.6-2.2-1.9-5.1-8.7-3.9-4.4-3-1.9-9-3.1-4-2.5-1.3-1.5-.6-1.6-.1-3 2.4-10.4 2.1-3.1 4.5-1.8 6,.2 4.5,1.5 2.7,1.7 2.8,2.9 3.5,6.4 3,3.8 3,2.3 4.5,1.7 4.5-.2 3-1.3 1.5-1.2 2.6-3.9 .9-4.5-.4-4.5-3.5-12-6.2-10.6-2.4-3.1-7.5-6.7-10.5-10.6-4.5-3.8-3-1.9-4.5-1.8-4.5-.7-3,.4-4.5,1.9-4.5,3.5-5,6.4-2.2,4.5-.6,4.5 .8,10.4 1,2.4 3,4 1.2,2.7-.6,2.9-1.4,1.6-3.7,1.5-3-1.2-3-.3-2.8,1.4-2,3.1-1.2,5.9-1.5,2.6-1.5,1.6-3,1.5-1.5,0-6-1.9-3-.5-15,.3-10.5-.8-4.5,.7-1.6,1.1-1.1,1.4-1.1,3-.4,3 .6,3 2,4.6 .5,3-.4,3-2.6,7.4-.9,4.6 .8,15-.9,3-3.9,4.8-1.5,.1-1.5-1.2-7.5-7.8-4.5-2.6-4.5-1.2-4.5,.4-3,1.2-7.5,5-4.6,4.3-2.2,3-7.4,13.5-2.5,6-1.7,6-.7,6 .4,6 1.3,4.5 2.4,4.5 3,3.2 3,2 3,1.3 4.5,.7 4.5-.3 4.5-1.3 4.5-2.4 3-2.2 6-6.5 3.6-6.5 .9-3 .1-4.5 .7-4.5 2.8-9 1.6-7.5 2.3-4.5 1.5-1.1 3,1.5 12,3 3-.1 1.5-.9 1.5-2.5 3.6-10.4 9.9-17.7 3-3.7 4.5-4.1 4.5-2.7 3-.8 3,.7 1.5,1 6.9,9.3 3.6,2.3 4.5,1.7 12,1 3,1.2 3.5,2.8 1.7,3 .5,3-.2,3-1.8,6-5.4,9-1.2,3 0,3 1.9,4.5 8.5,10.9 9,8.7 7.5,6.3 6,4.1 6,3.4 6,2.5 5.6,1.6-202.1,0 0-171.2 10.5,3.6 4.5,.6 4.5-.3 3-1.4 7.5-6 6-3.1 6-1.5 13.1-.7 3.4-1.5 3-2.7 1.5-2.4 1.2-3.9 0-3.1-1.2-2.8-3-3.9-9.2-9.7-7.4-9zM1466.1,428.4l-1.7,1.8-1.2,3 .5,4.5 1.4,3 2.5,2.9 3,2.3 1.5-.1 1.5-4.2 1.2-5.4-.4-3-1.9-3-1.9-1.9-1.5-.7-1.5,.1-1.5,.7zM1472.1,447.7l-3,4.8-3.8,7.7-.2,1.4 .7,1.6 1.8,1.3 1.5,.5 3-.2 3.5-1.6 2.9-3 1-3-.5-3-.8-1.6-3.1-3-3-1.9z" fill="#d0e4f0" fill-rule="evenodd"/>
<path d="M1463.5,343.2l166.1,0 0,148-4.5-2.8-6-2.8-7.5-2.6-9-2.2-4.5-1.8-4.5-3.6-6.6-7.8-3.2-3-3.7-2-7.1-2.4-3.7-3-.9-1.5-.7-3 .2-3.1 1-4.4 2.2-3.9 1.5-1.1 3-1.2 3-.2 3,.4 4.5,1.8 3,2.7 4.5,8.6 3,3.8 4.5,3 4.5,1.2 4.5-.5 3-1.6 1.5-1.4 1.9-2.6 1.1-3 .4-6-4.9-17.7-4.5-10.2-3.9-5.1-18.6-17-6-4.4-4.5-1.8-4.5-1-3-.1-4.5,1-4.5,2.3-3.9,3-5.1,6.6-1.8,3.9-.8,5.9 1,13.6 3.6,7.5 .2,1.5-.7,1.2-.8,.2-5.2-.4-4.5,1.9-2.9,3.1-3,6-1.6,1.1-3,.3-4.5-.3-19.5,2.2-12-2.1-13.5-5.2-1.5-1.9-.7-4.7-1.4-3-4.2-4.4-2.3-1.6-1.9-.5-3,.5-3.8,3-1.4,3 0,4.6 1.7,4.5 3.6,6 .6,2.9-1.3,4.6-3.3,6-.4,3 .6,1.4 1.1,1.6 2.6,1.7 4.5,.6 4.5-1.8 7.5-5.7 1.5,.1 3,2.9 1.8,3.6-.5,4.6-4,10.4-.4,4.6 .1,7.4-.9,4.6-2.1,2.4-1.5,.3-1.5-.8-3.7-3.4-5.3-3-3-1.3-4.5-.6-3,.4-3,1.2-10.7,7.8-4.2,4.5-8.1,13.5-3.5,7.5-2.6,9-.5,7.5 1.3,7.5 2.8,6 4.3,4.5-22.3,0 0-165.6 6,1.9 6,1.2 4.5,.3 4.5-.7 4.5-2.1 6.1-6 5.9-3.6 6-1.4 10.5-.3 3-.6 3.8-1.6 3.7-3 1.9-3.1 1.1-3.7 .6-5.2-.6-3-1.5-3.4-3-4.5-11.6-14.6zM1527.7,475.2l2.9-.3 3,1 2.6,2.3 3.7,4.4 2.4,1.6 7.8,2 12,1.9 1.8,.5 2.7,2.2 2,3.8 .3,6.1-1.8,5.9-5.4,9.1-.6,4.5 .8,3 10.7,13.3 10.5,11.1 9,8 9.8,6.6-143.4,0 4.6-3.4 3-2.9 3-3.7 3-5 2.3-6 .6-7.5 1-4.5 5.1-15.1 1.5-.8 1.5-.1 4.5,.9 10.5,3.1 6-.4 1.5-1.6 .5-8.6 1.5-5.9 7.1-15.1 2.9-4.3 3-2.9 3-2 3.1-1.2z" fill="#d9e9f1" fill-rule="evenodd"/>
<path d="M1470.3,343.2l159.3,0 0,144.3-9-4.6-18-6.1-3-1.5-4.5-3.2-10.2-8.9-10.5-4.6-3.1-2.9-1.1-3 0-3 .5-3.1 1.5-3 1.4-1.4 2-1.2 3-.7 3,.1 3,.9 3.3,2.3 1.9,3 3.1,7.6 3.7,4.6 3,2.4 3,1.5 3,.8 3-.1 4.5-1.7 3-2.6 1.3-1.9 1.4-3 .7-3-.1-6-3.4-10.6-1.4-7.8-3-10.5-3-6.2-4-5.4-12.5-8.8-7.5-6.4-4.5-2.5-10.5-2.3-3,.1-4.5,1-8.3,3.9-6.7,4.5-1.5,1.5-.7,1.5-.2,3 2.1,27-.2,3-1.2,1.4-5.8,3.8-4.5,5-3,2.3-7.4,.9-13.6,3-4.5,.4-3-.4-7.5-2-3-1.5-9-8.7-5-5.8-6.9-4.4-3.1-.8-3,.4-3,1.4-2.4,2-1.9,3-.5,4.4 1.4,4.6 4.2,7.4 .7,3-.6,3-4.8,9-.1,3 1,2.5 1.9,2.1 2.6,1.7 4.5,1.2 3-.2 3-1.4 6-5.5 1.5-.8 1.5,0 1.5,.7 1.7,2.7-.3,3-4.2,7.6-1.1,3-1.7,12-.7,1.4-1.2,.8-1.5,0-10.5-3.9-4.5-.5-3,.4-4.5,2.3-12.5,9.9-3.8,4.6-8.3,13.5-3.5,7.5-2.3,7.5-.9,7.5 .3,6 1.5,6 3.3,6-15.8,0 0-160.8 12,2.4 4.5,0 4.5-.8 7.5-3.4 6-6.6 4.5-2.7 4.5-1.1 10.5-.6 4.5-.8 4.5-1.9 4.6-3.7 2.3-3 .4-1.5 .8-9.1-.4-4.4-1.6-4.5-2.4-4.5-8.5-12zM1525.9,478.2l3.2-.3 3,1.3 2,2 4,6.2 1.5,.3 6-.7 4.5,.5 9,1.9 2,.8 2.5,1.6 1.5,2.2 .8,2.2 .4,3-.2,3-1.5,4.5-5.5,10.5-.6,3 .3,3 2,3 5.8,5.4 16.5,19.6 6,6 6,5-131.9,0 5.9-6.7 3.9-6.8 2.1-6.6 1-8.4 1.1-4.5 3.9-9.3 1.5-2.3 1.5-.9 3,0 10.5,3 3,.3 6,.1 1.5-.3 1.6-1.1 .4-3-.8-4.5-.1-4.6 .8-4.4 1.5-4.5 4.6-10.5 2.5-4.2 3-2.8 4.3-2z" fill="#e1edf3" fill-rule="evenodd"/>
<path d="M1476,343.2l153.6,0 0,140.4-14.8-7-5.6-4.4-.4-1.6 1.2-1.4 6.1-5.1 3-4.2 1.7-4.3 .7-5.9-.9-6.1-3.9-10.4-.7-10.6-1.7-9-4.1-11.9-1.6-2.5-1.5-1.4-12-5.3-7.5-6-4.5-2.8-4.5-1.3-7.5-1-4.5,.1-4.5,.9-6,2-9,4.1-6,1.4-19.5,1.7-7.5-.7-6-1.5-3,.2-1.1,1.6-.4,1.5 .3,4.5 1.2,2.2 1.5,1.3 1.5,.5 3-.3 4.5-1.7 4.5-1 10.5,0 3,.3 3,.9 3,2.4 2.3,4.4 2.3,10.4 .1,10.6-1.1,3-11.1,9.5-18,4.8-7.5,1.2-4.5-.8-6-2-1.5-.9-4.5-5.5-3.8-3.3-5.1-6-7.6-4.3-4.5-1.1-3,.3-4.5,1.8-3,2.2-2.5,4.1-.2,4.4 1.7,4.6 4.5,7.4 .7,3-1.2,4-5.1,8.1-1,3 .1,2.9 1.5,2.7 4.5,3.9 4.5,2 7.5,1.7 1.5,.8 .7,.9 .6,3-.5,4.6-.8,1.5-1.5,.9-10.5-1-3,.2-3,.8-13.9,11-6.6,6-10.3,16.6-3.5,7.5-2,6-1.4,7.5-.1,6 .8,6 2.3,6-10.3,0 0-156.4 12,1.8 4.5-.1 3-.6 10.5-4.9 5.7-6.3 3.3-2.3 4.5-1.4 12-.9 6-1.3 3-1.8 11.7-8.8 .2-1.5-2-4.5 0-7.5-1.9-7.5-3.5-7.5-5.1-7.5zM1577.6,442.2l2.5-.5 3,.3 3,1.3 1.8,1.9 1.5,3 2.5,9 4.5,7.4-1.3,1.5-3-1-6-4.1-9-3.3-3-2.4-1.3-2.7-.2-4.4 1.5-3.4 1.5-1.6 2-1zM1483,467.6l1.1-.3 .5,.4-.1,1.5-.4,.8-1.5,1-.8-.4 .1-1.4 1.1-1.6zM1522.9,481.2l1.7-.7 3-.1 2.1,.8 1.7,1.5 1,1.5 .9,3 .2,6 1.6,2.5 1.5,.2 1.5-.8 4.5-5.1 4.5-1.4 3,.1 5.5,1.5 3.4,1.4 2,1.6 1.2,1.4 1.2,3 .3,3-.4,3-1.6,4.6-4.9,9-2.8,7.5 8.1,5.3 4.2,3.7 13.8,18 9.6,10.5-123,0 3.9-5.4 3.3-6.6 1.8-6 1-7.5 1.4-6.6 1.5-3.8 3-4.7 1.5-1.3 3-.7 10.5,2.3 10.5,.8 3-.5 1.5-1.2 .7-2.3-.1-1.5-1.8-6-.3-3 1.1-7.5 2-6.1 3.9-9 2-2.6 2.8-1.8zM1545.6,524.2l-1.5,.5-1.5,1.3-.6,1.7 .9,1.5 1.2,.4 1.5,.2 2.5-.6 2-1.5 1.1-1.5-1.1-1.5-4.5-.5z" fill="#eaf1f5" fill-rule="evenodd"/>
<path d="M1480.9,343.2l148.7,0 0,136.1-8.3-5.6-1.5-3 .3-3 3-10.5 .4-4.6-.3-4.4-1.6-6-3.9-9 .7-13.6-2.2-13.4-2.6-7.6-3.5-4.5-4.5-2.9-9-4.5-9-6.5-4.5-1.6-9-1.5-4.5,.3-6.6,1.8-8.4,2.7-9,4-4.5,1-6,.5-7.5,1.6-4.5,.3-7.5-.7-4.5-1.4-9-4.6-2.3-1.9-2.4-4.5-5.8-7.8-5.5-16.2-5.2-9zM1487.9,383.7l5.2-1.4 3,.5 1.2,.8 1.5,3.1 3.3,12.5 1.5,2.3 3,2.7 3,.4 7.5-2.7 9-1.2 6,1 4.5,2.4 3,4 2.5,8.5 .3,7.6-.9,4.4-2.4,3.1-5.5,4.5-3,1.7-9,2.3-9,3.2-6,1.1-3-.4-7.5-2.6-2.4-2.3-2.1-3.5-4.4-4.1-4.5-6-3.1-1.9-6-2.6-4.5-1-3,.3-6.5,2.2-4,2.9-1.2,1.7-1.2,3 .1,4.4 1.9,4.6 5.1,7.4 .8,3-.3,1.6-2.2,3.7-11.2,12.8-.5,1.5 .1,1.4 1.6,3 3.9,4.6 4.1,3 1,1.4-.2,1.6-10.2,12-13.3,10.5-9.4,15-5.1,10.5-3.2,10.5-.7,6 0,4.5 .5,4.5 1.2,4.5-5.1,0 0-152.2 13.5,1.4 6-.5 3-1.5 9.5-6.2 5.5-5.7 3-1.8 4.5-1.2 12-1.1 4.5-.9 7.5-5.2 6.8-3.6zM1578.6,443.6l1.5-.4 3,0 1.5,.5 2,1.5 1,1.4 .9,3.1-.1,4.5-.8,2.1-1.5,.9-4.5-.3-3-1-2.2-1.7-1.4-3 0-3 1.5-3 2.1-1.6zM1523.7,482.7l2.4-.2 1.5,.4 1.6,1.3 .9,1.4 1.5,10.6 .6,1.4 1.4,1.7 1.5,.4 3-1 5.9-7.1 1.6-1 3-.7 4.5,1 4.1,2.3 2.6,3 1.1,3 .2,3-1,4.4-2.2,4.6-4.8,7.4-3,2.1-6,1.2-2.6,1.3-6.1,4.5-1.4,1.5 .1,1.5 2.8,1.5 4.2,.4 6-.6 6-1.8 3-.3 3,.8 3,1.6 4.5,4.1 10.5,15.6 8,10.2-115.4,0 3.5-6 2.3-6 1-4.5 .9-7.5 2.2-8.5 1.5-3 3-3.2 1.5-.7 3-.4 7.5,1.4 7.5,.4 7.5,1.8 4.5,.4 3.9-.2 1.6-1.5-.4-1.5-6.6-10.3-1-3.3-.1-3 1.3-7.4 4.3-12 2.2-3 2.9-1.5z" fill="#f2f5f6" fill-rule="evenodd"/>
<path d="M1485,343.2l144.6,0 0,130.5-2.4-3.1-1.2-3-.1-13.4-1.1-7.6-1.6-4.4-4.3-9 .1-3 1.7-6 .4-4.6-.3-7.4-1.1-7.6-1.2-4.4-2-4.5-2-3-2.9-3.1-4.5-3.2-16.5-10.3-4.7-1.4-11.8-1.4-3,.3-3,1-13.5,4.8-7.5,3.5-4.5,1.5-18,3.2-6-.2-4.5-1.1-4.5-2.3-4.5-3.6-9.6-13.2-2.4-4.5-4.5-12.9-3.6-6.6zM1486.6,386.7l3.5-1.3 1.5-.1 3,1.6 3.8,5.8 2.2,6.7 1.5,2.8 3,3.9 1.5,.9 3,.2 7.5-2.6 9-1.5 3,.6 4.6,2.5 2.9,3 3.1,7.4 .4,6-.3,3-1,3-2.8,3-5.4,3.8-9,2.9-9.2,3.9-4.3,1.1-3,.1-7.5-2.3-1.5-.9-3.9-5.5-4.5-4.5-3.6-5.7-2.6-1.9-3.3-1.4-6.1-2.3-4.5-.5-9,2.1-4.5,2.3-3.3,4.4-.9,3-.1,3 1.7,4.4 7.4,10.6 .3,1.4-.6,1.9-4.5,5.2-3,2.5-3,1.6-3,.6-3-.2-7.5-3.2-1.5,0-.6,.6-.1,1.6 .7,2.2 6,10.1 3,3.8 5.3,4.9 2.2,3 .5,3-.7,3-2.8,4.5-13.5,9.9-1.7,2-9.5,15.1-4.2,7.5-3.2,7.5-2.4,8.7 0-131 16.5,1.3 4.5-.7 3-2 5.1-5.3 5.4-3.6 6-5.3 4.5-1.3 12-1.6 4.5-1.1 3-1.5 4.5-3.9 5.5-2.7zM1579.8,445.2l3.3-.5 1.5,.4 1.7,1.5 .7,3-.2,1.6-.7,1.3-1.5,1.3-1.5,.4-3-.5-1.5-1.1-.9-1.4-.1-3 .6-1.6 1.6-1.4zM1521.3,485.6l1.8-.8 1.5-.1 1.5,.4 1.5,1.6 .6,1.9 1.2,10.6 1.1,3 1.6,1.1 3,.2 3-1 3-3 3-5 1.5-1.5 2.4-1.4 2.6,.1 2.9,1.5 1.8,1.5 2.7,4.5 .4,3-.3,3-1.7,4.4-4.8,6.6-3,2.1-6,1.5-4.5,2-3,.4-4.5-1.3-4.5-3-6-2.5-3-2.4-1.9-3.3 .1-6 1.8-7.8 3-8.4 1.2-1.9zM1484.6,526.2l4-1.1 7.5,1.1 7.5,.2 13.5,5.8 8.8,4.5 6.2,1.4 4.5-.3 9-3.2 9-1.8 4.5,.5 3,1.4 3,2.6 10.5,17.3 5.3,7.6-108.5,0 2.7-5.6 1.7-4.9 .8-4.5 .4-7.5 1.6-5.6 2-4.9 3-3z" fill="#f8f4f2" fill-rule="evenodd"/>
<path d="M1488.6,343.2l141,0 0,118.1-1.3-8.6-1.5-6.1-1.8-4.4-4.5-9 .3-3 2.4-7.6 .6-4.4-.1-9-1-7.5-1.3-4.5-2.1-4.6-3.2-4.4-3.1-3-11-7.5-9.9-5.2-6-1.4-10.5-.5-6.6,1.1-15.9,6.2-7.5,3.6-4.5,1.4-16.5,3.3-4.5-.1-4.5-.9-5.4-3-3.3-3-2.3-3-8.3-13.5-4.9-13.5-2.8-6zM1488.1,388.2l3.5-.2 3,2.2 3,4.3 4.5,10.5 1.5,2.3 1.5,1.3 1.5,.7 3,.2 9-2.5 6-.5 3,.6 3,2 2.3,3.1 2.6,6 .8,4.4-.6,4.6-2.4,3-4.2,3-9,3.7-9,4.4-3,.9-3,.2-6-1.8-2.7-1.4-2.9-4.5-4.4-4.5-3.5-6.3-3-2.6-3-1.4-7.5-2.8-6-1-9,1.2-3,1.1-3,2-2,2.2-2.7,4.6-.8,3 .1,3 2.1,4.4 7.8,9.8 .6,2.2-.5,1.6-3.1,3.4-4.5,2.7-3,.8-3-.1-7.5-2.2-1.5-.1-2.3,1.5-.8,3 .7,3 5.9,13.4 2.5,3.9 6.2,6.7 .5,1.4-.2,3.1-1.9,2.9-6.1,5-5.9,4-1.4,1.6-12.2,18-6,11 0-115.3 15,1.7 6-.8 4.5-2.8 6-6.8 10.5-7.7 19.5-5.6 3-1.6 6-5 5.5-2.1zM1580.4,448.2l1.2-1.3 1.5-.2 1.5,1.1 .2,1.8-1.7,1.7-1.5-.1-1.3-1.6 .1-1.4zM1523,488.6l1.6,.8 .3,.8 .9,7.5 1,4.5 1.6,3 2.2,1.6 4.5,.2 4.5-1.5 3-2.9 4.5-7.4 1.5-.9 1.5-.1 1.5,.8 2.3,2.7 1.5,4.5-.6,4.4-1.7,3.1-4.5,4.8-2.7,1.2-9.3,2.5-3-.6-6-3.8-7.5-2.8-1.5-1.4-.6-1.4-.1-4.6 2.2-8.5 1.5-4.2 1.4-2.3zM1484.6,529.2l4-1.2 9,1.4 6,.3 7.5,3.2 13.5,7.3 7.5,2 3,0 3-.6 7.5-3.5 6-1.7 4.5-.7 3,.4 3.6,2.1 2.4,3 7.2,13.5 4.5,7.5-101.8,0 2.4-6 1.1-4.5 .6-4.5 0-6 .5-2.8 3-7.1 2-2.1z" fill="#f9eee8" fill-rule="evenodd"/>
<path d="M1491.8,343.2l137.8,0 0,104.8-6.9-14.8 .3-3 2.9-9 .9-6 0-9-1.2-7.5-2-5.9-2.6-4.6-3.5-4.5-5.1-4.5-9.4-6-7.9-3.5-7.5-1.6-10.5-.1-4.5,.5-4.5,1.2-22.5,9.9-6,2.1-15,3.2-4.5,0-3-.6-3-1.3-3.2-2.3-2.9-3-2.1-3-7.4-13.5-6.7-18zM1484.2,391.2l2.9-1.1 3-.2 3,1.3 3.6,4.5 5.1,12 3.3,3 4.5,1 7.5-1.6 3-.2 3,.6 1.5,1 1.5,2.5 .3,5.6 2.7,6-.5,3.1-1.1,1.5-4.2,3-13.7,7.5-4.5,.8-6-1.7-1.5-.7-1.4-1.5-1.7-3-4.1-4.4-3.3-6.5-3-3.4-18.5-8.1-2-1.6-.7-1.4 0-1.5 1.9-3 4.1-3 7.7-4.6 4.5-4 3.1-1.9zM1412.1,424.2l0-.5 12,2.5 12,1.3 1.6,1.1 4.9,9 7.7,7.6 1.5,3 .1,1.4-1.9,3-2.1,1.6-2.8,1.1-4.5,.2-7.5-1.4-3,1.4-1.2,1.7-.5,1.4-.1,3 2.6,7.6 1.8,7.5 4,7.5 3.9,4.4 .9,3-.4,1.6-2.3,3-7.6,6-3.1,3-10.1,13.5-5.9,8.9 0-103.4zM1485.5,532.2l1.6-.8 3-.1 7.5,1.8 6,.2 3,.7 6,2.7 10.5,6.5 4.5,1.7 4.5,1 3,.1 4.5-.7 13.5-5.5 3-.4 3,.6 1.8,1.2 2.7,3.4 9.1,17.6-95.1,0 2.8-10.5 .5-12 1.7-4 2.9-3.5z" fill="#fae8dd" fill-rule="evenodd"/>
<path d="M1494.6,343.2l135,0 0,57.3-1.5-6.3-2.5-6-3.5-5.4-4.5-4.8-6-4.7-6-3.4-6.6-2.7-6.9-1.7-9-.3-12,1.4-7.5,2.7-19.5,9.2-5.9,2.2-13.6,3-4.5,0-3-.8-3-1.6-2.6-2.1-4.5-6-6.6-13.5-5.8-16.5zM1484.5,392.6l4.1-1 3,.6 1.5,1 2.1,2.5 2.4,4 3.2,9.5 4.3,3.5 4.5,1.2 9-1 3,1.4 1.5,2.3 2,7.6-.1,3-2,3-10.2,7.4-4.7,2.6-1.5,.3-3-.3-4.5-1.3-1.5-.9-3-4.6-4-4.7-2.7-6.1-2.1-3-3.2-2.1-7.9-3.9-3.8-3-1-1.4 0-3 2-3 10.1-9 2.5-1.6zM1629.5,416.6l.1,25.4-3.7-7.4-.5-3 3.2-10.4 .9-4.6zM1412.1,428.6l9,2.3 12,3.9 3,1.9 8.5,6.9 2.3,3 .4,1.6-.1,1.4-.9,1.6-2,1.4-3.7,.9-6-.9-3,.2-2.3,1.4-2.1,3-.6,4.4 1.8,7.6-.1,4.5 .6,2.9 8.3,13.6 .3,3-.6,1.4-2.4,3-5.7,4.6-4.3,4.5-12.4,15.6 0-93.7zM1489.4,535.2l6.7,.9 7.5,.2 3,.6 6,2.8 10.5,7.4 7.5,2.6 7.5,.2 5.4-1.2 9.6-3.5 3-.1 1.5,.4 2.1,1.7 2.2,3 6.3,12-88,0 2.1-9 .4-10.5 .7-3 2.2-3.2 1.5-.9 2.3-.4z" fill="#fce2d2" fill-rule="evenodd"/>
<path d="M1497.4,343.2l132.2,0 0,44.3-3-5.3-3-4-4.5-4.4-4.8-3.6-5.7-3.3-6-2.5-6-1.5-6-.7-7.5,.3-12,2-9,3.4-18,8.9-7.5,3-10.5,2.5-4.5,.3-3-.4-5-3-2.8-3-1.9-3-6.7-15-4.8-15zM1484.8,394.2l2.3-.8 3,.1 3,1.7 3,3.9 1.3,2.6 .9,6 .8,1.9 1.5,1.8 3,2.3 4.5,2.3 3,.1 4.5-.5 3,.4 1.5,1.1 1.5,2.3 1,4.8-1,3.1-2.5,2.9-6.8,6-4.2,2.8-3,.5-6.5-1.9-3.1-4.4-3.8-4.6-3.1-7.8-1.5-2.3-3-2.3-7.3-4-2.6-3-.3-3 1.5-3 7-7.5 2.4-1.5zM1629.3,428.7l.3-1.1 0,8.3-.8-4.2 .5-3zM1412.1,433.2l0-.6 7.5,2.1 13.5,5.1 8.3,5.4 1.2,1.4 .4,1.6-.3,1.4-2.1,1.7-3,.2-4.5-1-3,1-2.9,2.7-1.6,2.7-.7,3.3 .6,9-2.2,6 .3,1.4 5,5 3.3,4 2.5,4.6 .2,3-.5,1.4-2.2,3-8.7,7.6-11.1,12.4 0-84.4zM1493.2,539.7l8.9-.8 4.5,.8 6,3.2 9,7.8 3,1.5 4.5,1.5 7.5,.8 13.5-1.7 4.5,.3 1.5,.7 2.5,2.4 4.1,6-79.8,0 3.6-19.5 2.1-2.2 4.6-.8z" fill="#fddbc8" fill-rule="evenodd"/>
<path d="M1500,343.2l129.6,0 0,36.1-3.7-4.6-3.8-3.8-4.5-3.5-4.5-2.7-4.5-2.1-6-2-6-1.2-6-.3-9,.9-9,1.8-4.5,1.4-9,4-17.3,9-7.3,3-9.9,2.1-3,.1-3-.6-4.6-3.1-2.4-3.1-1.7-2.9-5.9-15-4-13.5zM1485.6,395.7l3-.5 1.5,.2 1.5,.7 3,3.1 1.6,2.5 .6,7.5 2.1,3 7.7,5.4 3,1 7.5,.6 2,2 .5,1.4-1,3.4-7.2,8.6-3.4,3-2.9,.8-3.9-.8-2.1-.9-3-4.4-3.2-3.7-4.3-11-2.2-2.4-5.3-3.1-3-2.9-.7-3 1.2-3 4-5.4 3-2.1zM1412.1,437.6l0-1.3 4.5,.9 4.5,1.3 6,2.5 4.1,2.6 1.1,1.6 .1,1.4-5.3,5-2.8,4-1.2,4.6-.1,7.4-1.4,3.1-3.3,4.5-.1,1.4 1.4,2.1 6,3.4 3.8,3.6 2.5,4.5 .1,3-1.9,3.4-9.8,8.6-8.2,8.1 0-75.7zM1496.6,542.7l5.5-1 3,.4 3,1.2 3.5,2.4 7,7.5 3,2 4.5,2.1 9,2.1 13.5,1 4.7,1.8-67.4,0 2.1-10.5 1.6-4.5 2-2.2 5-2.3z" fill="#fbd0b8" fill-rule="evenodd"/>
<path d="M1502.6,343.2l127,0 0,29.3-7.5-7-4.5-3-6-3-4.5-1.6-6-1.4-10.5-.5-10.5,1.5-12,3.4-9,4.1-17.8,9.7-7.7,3.3-7.5,1.8-6,.1-1.8-.7-2.7-2-2.1-2.5-1.7-3-6.4-18-2.8-10.5zM1485.1,398.7l2-1 1.5-.2 3,1.2 1.5,1.5 1.4,3-.3,4.5 .6,2.9 1.2,1.6 6.1,4 10.2,8 .4,1.4-.3,1.6-1.1,3-2.7,4.4-2,1.8-1.5,.4-3-.3-1.5-.5-1.5-1.2-6-8.1-3-10.8-1.2-2.3-6-4.4-1.1-1.5-.4-1.5 .6-3 1.7-3 1.4-1.5zM1412.1,440.6l0-1.1 9,1.7 4.5,2.1 1.6,1.9 .3,1.4-.4,1.6-4.2,6-1.3,3-1.2,10.4-4.7,6-.5,3.1 1.4,2.9 1.5,1.2 6,2.9 2.6,2 2.1,2.9 .7,3-.9,3-1.1,1.6-15.4,12.9 0-68.5zM1498.3,545.7l3.8-.8 4.5,1.1 3.5,2.7 5.5,6.5 3,2.8 7.1,4.2-36.4,0 1.4-7.5 1.9-4.5 2.9-3 2.8-1.5z" fill="#f9c4a9" fill-rule="evenodd"/>
<path d="M1505.2,343.2l124.4,0 0,23-8.5-6.5-9.6-4.5-10.4-2.4-6-.4-6,.4-9,1.8-10.5,3.2-12,5.6-11.3,6.8-11.7,6-7,2-6,.5-3-1-1.5-1.2-3.5-4.8-6.2-19.5-2.2-9zM1488.3,403.2l.7,0-.4,.8-.3-.8zM1493.6,415.2l1-.6 1.5,.1 3,1.2 3.1,2.3 2.5,3 1.2,3 .4,6 0,1.4-1.2,2.1-1.5,.6-1.5-.2-1.5-.8-6-6.6-1.5-3.3-.6-3.8 .2-3 .9-1.4zM1412.1,443.6l0-.8 7.5,.9 3,1 1.7,1.9-.2,1.6-4.5,7.4-2.1,10.6-4.4,6-1,3.1 0-31.7zM1412.1,478.2l0-1.4 .9,2.8 2.9,3 6.7,2.7 2.6,1.9 1,1.4 .4,3-1,2.6-1.8,2-11.7,8.8 0-26.8zM1501.8,548.7l1.8,.1 3,1.8 9.8,11.6-22.9,0 1.1-5.9 1.5-3.5 2.3-2.6 3.4-1.5z" fill="#f7b89a" fill-rule="evenodd"/>
<path d="M1508,343.2l121.6,0 0,17.1-9-5.8-5.2-2.3-5.3-1.7-10.5-1.6-10.5,.5-10.5,2.4-12,4.5-10.5,5.4-11,7-11.5,6.2-6,1.8-6,.4-2.4-.9-1.6-1.5-2.6-4.5-5.9-21-1.1-6zM1494.5,418.2l1.6-1.2 1.5,0 2.2,1.2 1.6,1.4 1.3,3 0,1.6-.6,1.8-1.5,1.9-1.5,.1-1.5-.7-2.8-3.1-.8-3 .5-3zM1412.1,448.2l0-.9 3,.6 1.5,.8 .6,.9-2.7,12.1-2.4,4.9 0-18.4zM1412.1,485.6l0-1.4 3,1.9 6,1.8 1.4,.7 .5,1.6-.2,1.4-1.7,2.4-9,6.3 0-14.7zM1501.8,560.7l1.8-1 3.1,2.5-5.6,0 .7-1.5z" fill="#f5ac8a" fill-rule="evenodd"/>
<path d="M1511,343.2l118.6,0 0,11.5-9-5.1-10.5-3.5-10.5-1.2-6,.2-6,.9-9,2.4-10.5,4.2-12,6.3-10.5,6.9-12.6,7.4-3.9,1.5-6,.8-3-1-1.5-1.7-1.4-2.6-2.6-12-3-10.5-.6-4.5zM1496,419.6l1.6-.5 1.5,.8 .7,1.3 .2,1.4-.9,1.5-1.5,.1-1.5-1.4-.4-1.6 .3-1.6z" fill="#f19e7d" fill-rule="evenodd"/>
<path d="M1514.6,343.2l68.6,0-7.6,2.5-9,4-13.5,7.6-19.5,12.9-4.5,2.2-4.5,.8-3-1-1.5-1.9-.6-1.6-4.9-25.5zM1616.2,343.2l13.4,0 0,5.9-6-3.2-7.4-2.7z" fill="#ea8f71" fill-rule="evenodd"/>
<path d="M1519.4,343.2l52.1,0-7.9,3.9-12,6.8-19.5,13.3-3,1.5-3,.5-1.6-.5-1.2-1.5-.5-1.5-.9-9-2.5-13.5zM1628.8,343.2l.8,0 0,.4-.8-.4z" fill="#e47f65" fill-rule="evenodd"/>
</g>
<path d="M1600.1,431.9l-1.3,1.3-1.2,2-.3,2 .2,3 .7,2 1.9,1.9 2,.6 1-.2 2-1.3 1.3-2 .4-2-.1-3-.7-2-1.9-1.8-2-.9-2,.4M1458.1,505l-3.5,2.2-2.9,3-2.3,4-1.2,4-.8,7 .3,4 .9,2 1.5,1.9 1,.7 2,.7 2,0 2-.6 3-1.6 2-1.6 2-2.4 2-3.4 1.2-2.7 .8-3 .6-7-.6-3-1-2-2-1.9-2-.7-3-.1-2,.5M1567.1,403.8l-2.6,1.4-1.9,2-1.5,2.4-.7,2.6 .1,3 .6,2.2 1.4,2.8 2.4,3 3.8,3 10.4,4.1 10,6.2 2.6,2.7 3.8,7 1.6,1.7 2,1.6 2,.9 3,.5 3-.6 2-1.4 1.3-1.7 .7-1.9 .5-4.1-.8-5-.7-2-1.1-2-6.9-6-5.6-4-9.4-7.5-6-6.2-3-2.5-3-1.7-3-1-3,0-2,.5M1545.1,441.4l-.5,.8 0,1 .5,4.9 1,1.2 1,.4 5-.4 2-.4 2.5-1.7 1.1-2 .2-2-.5-1-1.3-.9-4,1.4-3,.3-2-.5-2-1.1M1508.1,461l-6,3.4-2,1.6-2,3.2-2,5.8-1.2,6.2 .3,4 .7,2 1.2,2.1 1,1 2,1.1 2,.1 2-.7 2-1.3 1.5-1.3 6.1-10 1.4-4 .5-3 .1-3-.5-3-.7-2-1.4-2-1-.6-2-.2-2,.6M1569.1,468.1l-3.7,1.1-2.6,2-1.1,2-.1,1 .2,1 1.3,1.5 2,1.2 2,.6 5,.8 2-.3 2-.6 3.3-2.2 .7-1.1 .2-1.9-1.1-2-1-1-1.8-1-2.3-.7-3-.5-2,.1M1596.1,495l-4,1.4-3,2.1-11.1,14.7-1.8,3-.5,2 .1,2 1,3 3.4,5 4,4 5.9,4 7,3.4 6,1.8 6,.6 5-.4 5-1.8 3-2 2.5-2.6 1.8-3 1.2-4 .4-4-.3-4-1.4-5-1.8-4-2.4-4-3.3-4-3.7-3.6-3.6-2.4-4.4-1.8-4-1-3-.1-4,.7M1461.1,499.1l-3,.6-4,1.8-3.7,2.7-3,3-1.9,3-2.6,6-3,9-.7,4-.2,4 .5,4 1,3 1.6,2.8 2,2.2 2,1.4 3,1.2 4,.4 4-.8 4-1.9 4-3.3 1.5-2 .9-2 2.1-7 3-9 1.6-11-.2-2-1.2-3-1.9-3-2.8-2.6-3-1.1-4-.4M1412.1,394.3l5.1,1.9 5.9,1.4 5,.6 4-.4 2-.6 2-1.2 7-6.4 3-1.9 3-1.5 3-.9 3-.4 10-.3 3-.4 4-1.8 2.9-2.2 2-3 1.3-4 .5-4-.7-3-1-2.1-2-2.9-14.9-18M1630.1,493.2l-6-3.9-6-2.9-7-2.3-10-2.3-4.1-1.6-1.9-1.3-2-1.9-5.1-6.8-3.9-4.4-4-2.4-6-1.9-2-1-2.2-1.3-2-2-.9-2-.3-3 .5-4 .9-3.5 1-2.4 1-1.4 2-1.6 2-.8 3-.4 4,.4 3,1 3,1.7 2.7,3 3.7,7 2.6,3.4 4,3 4,1.5 3,.2 2-.4 3-1.3 2-1.7 1.3-1.7 1.4-3 .6-3 0-3-.7-4-3.6-12.2-5.5-10.8-3.1-4-6.4-5.5-5.4-5.5-7.4-7-5.2-3.8-4-1.9-5-1.2-3,0-3.7,.9-5.3,2.8-3,2.6-5.6,7.6-1.5,4-.5,4 .7,12 .9,2.4 3.6,5.6 .4,2-.2,1-.8,1.1-2,.9-1,0-3-.9-2-.2-2,.5-2,1.2-1.4,1.4-1.2,2-2.1,6-1.3,1.4-1,.6-3,.5-4-.6-3-.1-18,1.1-14-1.8-3-.1-2.5,1-2.5,2.7-1,.5-4-2.8-1.5-2.4-1.5-6 0-1 .8-3-.1-2-.7-2-2.3-3-2.7-2.4-1.3-.6-1.7-.3-2.8,1.3-2.1,2-1.4,3-.2,2 .3,2 1.9,5 3.9,6 .3,2-.3,2-.7,2-4,8 .1,1.8 .6,1.2 2.2,2 2.2,.8 2,.1 3-.7 2-1 3-2.2 4.5-5 .5-.9 1,.3 4.5,7.6 .8,2 .2,2-.2,2-3.3,9-.8,4-.2,4 .4,7-.2,3-.6,2-1.6,2.4-1,.8-2,.4-2-.9-2.2-2.7-2.2-2-5.6-3.3-4-1.3-3-.1-2,.2-3,1.1-5,3.2-5.5,4.2-3.8,4-3.7,6.5-4.1,6.5-2.5,5-2.9,8-1.2,7 .2,7 .9,4 1.1,3 1.5,2.7 2,2.5 2,1.9 2.9,1.9M1455.7,562.2l4.4-2.5 5-4.1 4-4.7 3-5 2-5.3 .4-6.4 .7-4 3.2-10 1.4-6 .7-1 1.6-1.3 1-.1 5,.9 11,3 3-.1 2-.8 1-1.7 1.4-7.9 1.5-5 8.6-17 3.5-4.3 4-3.3 4-1.9 3-.5 2,.4 2,1.1 2,1.9 4,5 3,2 7,2.3 12,1.4 2.2,.9 2.4,2 1.4,2 .7,2 .5,3-.1,3-.7,3-1.1,3-5.9,10-.4,2 .1,2 .9,3 1.2,2 8,10 12.8,12.8 5,4.3 5,3.8 5,3.1 5.7,3M1412.1,414.6l16,1.3 3-.1 2-.5 2-1 5.8-6.1 6-4 5.2-5 4-1.3 13-1.8 5-1.3 2-1 4-3.5 3-1.9 5-2.2 3-.8 2.2,.8 2.2,2 3,5 2.6,7.5 3,4.6 2,1.7 2,.5 2-.2 6-2.3 8-1.5 3-.2 2,.6 4.2,2.3 2.8,2.6 1,1.7 2,4.8 .9,3.9-.3,6-.8,3-1.3,2-3.8,3-2.7,1.8-2,.8-8,2.5-9,3.9-5,1.1-4-.5-5-1.6-1.9-1-1.8-2-1.5-3-4.3-4-3-5-1.5-1.9-3.3-2.1-6.7-2.7-4-1.1-4,0-8,2-3,1.4-1.7,1.4-1.7,2-1.5,3-.7,3 .1,2 .9,3 1.1,2 6,8 1.2,2 .3,1-.1,1-.9,1.9-3,3.4-3,2.7-2,1.4-3,1.2-2,.3-3-.2-8-3.3-1,0-.7,.6-.4,1 .1,1.2 1,2.4 6,10.3 3,3.7 5,4.5 2,2.7 .4,1.2 .3,2-.6,3-1.6,3-1.5,2-8,5.9-4.6,3.1-2.4,2.6-9.1,14.4-4,7-3.5,8-2.4,8M1580.1,445.2l2-.5 2,.3 1.7,1.2 .6,1 .6,2-.3,2-.6,1.1-2,1.5-2,.3-2-.6-1-.6-1.2-1.7-.3-2 .5-2 .7-1 1.3-1M1630.1,473.7l-2.8-3.5-1-3-.3-3 0-11-1.2-7-1.5-4-3.7-7-.7-2 .2-3 1.7-6 .4-4-.2-8-1.2-8-1-4-1.7-4-2-3.2-3-3.3-4-3-18-11.1-5-1.3-11-1.2-2,.1-3,.8-15,5.4-7,3.4-5,1.6-8,1.1-5,1.3-5,.7-6-.3-4-1-4-2.1-5-3.9-2.4-3-2.6-4.5-4.4-5.5-2.6-5-4.1-12-3.7-7M1522.3,485.2l1.8-.4 1.7,.4 1.3,1 .5,1 .6,2 .7,8 .5,3 .7,2 1,1 1,.4 2,.2 2-.3 2.9-1.3 2.1-2.4 3.5-5.6 1.5-1.4 2-1.1 2,0 1.4,.5 1.8,1 2.3,2 1.5,2.3 1,2.7 .2,2-.3,3-.9,2.8-1,1.8-5,6.7-2,1.4-6,1.5-5,2.2-2,.4-2-.1-3-1.1-5-3.3-5-1.8-2-1.2-2-1.8-1.1-1.5-.7-2-.1-3 .5-4 1.5-6 2.7-8 1.1-2 1.3-1M1472.6,562.2l2.5-5.2 1.6-4.8 1-5 .4-7.6 3-9.3 1-1.8 2-1.9 2-1 2-.3 8,1.1 7,.1 14,6 8,4.2 3,.9 4,.8 4-.2 9-3.3 9-1.9 3-.1 2,.5 4,2.1 2,1.9 10,16.7 5.5,8.1M1630.1,383.6l-3-4.6-4-4.7-4-3.5-5.3-3.6-5.7-2.9-5-1.9-6-1.4-6-.5-9,.7-8,1.3-4,1-9,3.7-16,8.2-8.8,3.8-10.2,2.4-4,.4-3-.4-3-1.4-2-1.6-2.2-2.4-2-3-6.4-15-4.7-15M1484.7,395.2l2.4-.8 2-.1 2,.5 2,1.6 2,2.4 1.5,2.4 .4,2 .5,5 .7,2 1.9,2 5,3.6 2,1.1 2,.5 8-.1 2,1.2 1.3,1.7 .7,1.7 .1,1.3-.4,2-1.1,2-7.7,8-3.6,3-2.3,.8-1,0-4-.9-2.4-.9-2.6-4.1-4.1-4.9-2.8-8-1.2-2-2.9-2.8-6.1-3.2-2.7-3-.4-1-.1-2 .8-2 5.5-7 2.6-2M1412.1,434.7l8,2 10,4.1 9,5.3 .9,1.1 .4,1-.2,1-1.1,1-1,0-4-1.2-3,.6-2,1.3-2,1.9-2.2,3.4-1,4 .3,7-.4,2-.9,2-2.8,3.6-.4,1.4 .4,1 6,4 4,3.9 2.5,4.1 .6,2-.1,2-.7,2-1.5,2-8.2,7-10.6,11M1484.5,562.2l2.6-13.4 1-3.1 1-1.5 2-1.3 4-1.4 4-.9 3-.2 4,.7 4.2,2.1 2.8,2.1 6.8,6.9 5.2,2.7 5,1.5 5,.7 5,.2 8-.4 3,.3 2,.5 2,1.1 3.4,3.4M1630.1,354.8l-5-3.2-5-2.4-5-1.9-5-1.4-5-.8-6-.4-5,.2-6,.8-9,2.4-10,3.8-14,7.4-10.2,6.9-12.1,7-4.7,1.7-5,.6-2-.5-1.3-.8-1.5-2-1-2-.8-3-1.8-9-2.8-10-.8-5M1497,419.2l1.1,.1 1,.7 .7,1.2 .1,1-.2,1-.6,.7-1,.3-1-.5-1.2-1.5 0-2 1.1-1" fill="none" stroke="#222" stroke-width="1.15" stroke-opacity="0.88"/>
</g>
<path d="M1413.60,452.35a107.15,107.70 0 1,0 214.30,0a107.15,107.70 0 1,0 -214.30,0zM1416.60,452.35a104.15,104.70 0 1,0 208.30,0a104.15,104.70 0 1,0 -208.30,0z" fill="#000" fill-rule="evenodd"/>
<path d="M1502.0,348.2L1512.2,336.0M1529.3,336.0L1539.5,348.2" fill="none" stroke="#000" stroke-width="3.3" stroke-linecap="butt"/>
<path d="M1418.9,427.2C1415.3,425.5 1406.5,425.4 1406.3,437.1C1406.1,450.4 1405.0,461.8 1404.7,467.6C1404.5,480.5 1414.4,480.6 1419.2,478.2" fill="none" stroke="#000" stroke-width="3.3" stroke-linecap="butt" stroke-linejoin="round"/>
<path d="M1622.6,427.2C1626.2,425.5 1635.0,425.4 1635.2,437.1C1635.4,450.4 1636.5,461.8 1636.8,467.6C1637.0,480.5 1627.1,480.6 1622.3,478.2" fill="none" stroke="#000" stroke-width="3.3" stroke-linecap="butt" stroke-linejoin="round"/></g>
<linearGradient id="g0" x1="0" y1="0" x2="0" y2="1"><stop offset="0.0%" stop-color="#d20500"/><stop offset="12.5%" stop-color="#df2100"/><stop offset="25.0%" stop-color="#eb4200"/><stop offset="37.5%" stop-color="#f66200"/><stop offset="50.0%" stop-color="#ff8002"/><stop offset="62.5%" stop-color="#ffa040"/><stop offset="75.0%" stop-color="#ffc286"/><stop offset="87.5%" stop-color="#ffe2c4"/><stop offset="100.0%" stop-color="#ffffff"/></linearGradient><rect x="355.9" y="96.6" width="15.5" height="149.4" fill="url(#g0)" stroke="#262626" stroke-width="1.1"/><line x1="368.9" y1="111.1" x2="371.4" y2="111.1" stroke="#222" stroke-width="0.8"/><line x1="368.9" y1="141.4" x2="371.4" y2="141.4" stroke="#222" stroke-width="0.8"/><line x1="368.9" y1="171.6" x2="371.4" y2="171.6" stroke="#222" stroke-width="0.8"/><line x1="368.9" y1="201.9" x2="371.4" y2="201.9" stroke="#222" stroke-width="0.8"/><line x1="368.9" y1="232.2" x2="371.4" y2="232.2" stroke="#222" stroke-width="0.8"/>
<linearGradient id="g1" x1="0" y1="0" x2="0" y2="1"><stop offset="0.0%" stop-color="#d20500"/><stop offset="12.5%" stop-color="#df2100"/><stop offset="25.0%" stop-color="#eb4200"/><stop offset="37.5%" stop-color="#f66200"/><stop offset="50.0%" stop-color="#ff8002"/><stop offset="62.5%" stop-color="#ffa040"/><stop offset="75.0%" stop-color="#ffc286"/><stop offset="87.5%" stop-color="#ffe2c4"/><stop offset="100.0%" stop-color="#ffffff"/></linearGradient><rect x="793.8" y="96.6" width="15.9" height="149.1" fill="url(#g1)" stroke="#262626" stroke-width="1.1"/><line x1="807.1999999999999" y1="99.6" x2="809.6999999999999" y2="99.6" stroke="#222" stroke-width="0.8"/><line x1="807.1999999999999" y1="128.1" x2="809.6999999999999" y2="128.1" stroke="#222" stroke-width="0.8"/><line x1="807.1999999999999" y1="156.6" x2="809.6999999999999" y2="156.6" stroke="#222" stroke-width="0.8"/><line x1="807.1999999999999" y1="185.2" x2="809.6999999999999" y2="185.2" stroke="#222" stroke-width="0.8"/><line x1="807.1999999999999" y1="213.7" x2="809.6999999999999" y2="213.7" stroke="#222" stroke-width="0.8"/><line x1="807.1999999999999" y1="242.2" x2="809.6999999999999" y2="242.2" stroke="#222" stroke-width="0.8"/>
<linearGradient id="g2" x1="0" y1="0" x2="0" y2="1"><stop offset="0.0%" stop-color="#d20500"/><stop offset="12.5%" stop-color="#df2100"/><stop offset="25.0%" stop-color="#eb4200"/><stop offset="37.5%" stop-color="#f66200"/><stop offset="50.0%" stop-color="#ff8002"/><stop offset="62.5%" stop-color="#ffa040"/><stop offset="75.0%" stop-color="#ffc286"/><stop offset="87.5%" stop-color="#ffe2c4"/><stop offset="100.0%" stop-color="#ffffff"/></linearGradient><rect x="1240.0" y="96.3" width="15.6" height="149.2" fill="url(#g2)" stroke="#262626" stroke-width="1.1"/><line x1="1253.1" y1="107.4" x2="1255.6" y2="107.4" stroke="#222" stroke-width="0.8"/><line x1="1253.1" y1="130.1" x2="1255.6" y2="130.1" stroke="#222" stroke-width="0.8"/><line x1="1253.1" y1="152.7" x2="1255.6" y2="152.7" stroke="#222" stroke-width="0.8"/><line x1="1253.1" y1="175.4" x2="1255.6" y2="175.4" stroke="#222" stroke-width="0.8"/><line x1="1253.1" y1="198.1" x2="1255.6" y2="198.1" stroke="#222" stroke-width="0.8"/><line x1="1253.1" y1="220.7" x2="1255.6" y2="220.7" stroke="#222" stroke-width="0.8"/><line x1="1253.1" y1="243.4" x2="1255.6" y2="243.4" stroke="#222" stroke-width="0.8"/>
<linearGradient id="g3" x1="0" y1="0" x2="0" y2="1"><stop offset="0.0%" stop-color="#d20500"/><stop offset="12.5%" stop-color="#df2100"/><stop offset="25.0%" stop-color="#eb4200"/><stop offset="37.5%" stop-color="#f66200"/><stop offset="50.0%" stop-color="#ff8002"/><stop offset="62.5%" stop-color="#ffa040"/><stop offset="75.0%" stop-color="#ffc286"/><stop offset="87.5%" stop-color="#ffe2c4"/><stop offset="100.0%" stop-color="#ffffff"/></linearGradient><rect x="1699.0" y="97.2" width="15.6" height="149.1" fill="url(#g3)" stroke="#262626" stroke-width="1.1"/><line x1="1712.1" y1="100.4" x2="1714.6" y2="100.4" stroke="#222" stroke-width="0.8"/><line x1="1712.1" y1="128.8" x2="1714.6" y2="128.8" stroke="#222" stroke-width="0.8"/><line x1="1712.1" y1="157.2" x2="1714.6" y2="157.2" stroke="#222" stroke-width="0.8"/><line x1="1712.1" y1="185.5" x2="1714.6" y2="185.5" stroke="#222" stroke-width="0.8"/><line x1="1712.1" y1="213.9" x2="1714.6" y2="213.9" stroke="#222" stroke-width="0.8"/><line x1="1712.1" y1="242.3" x2="1714.6" y2="242.3" stroke="#222" stroke-width="0.8"/>
<linearGradient id="g4" x1="0" y1="0" x2="0" y2="1"><stop offset="0.0%" stop-color="#67001f"/><stop offset="10.0%" stop-color="#b2182b"/><stop offset="20.0%" stop-color="#d6604d"/><stop offset="30.0%" stop-color="#f4a582"/><stop offset="40.0%" stop-color="#fddbc7"/><stop offset="50.0%" stop-color="#f7f7f7"/><stop offset="60.0%" stop-color="#d1e5f0"/><stop offset="70.0%" stop-color="#92c5de"/><stop offset="80.0%" stop-color="#4393c3"/><stop offset="90.0%" stop-color="#2166ac"/><stop offset="100.0%" stop-color="#053061"/></linearGradient><rect x="1672.5" y="365.0" width="16.4" height="164.0" fill="url(#g4)" stroke="#262626" stroke-width="1.1"/><line x1="1686.4" y1="377.8" x2="1688.9" y2="377.8" stroke="#222" stroke-width="0.8"/><line x1="1686.4" y1="400.7" x2="1688.9" y2="400.7" stroke="#222" stroke-width="0.8"/><line x1="1686.4" y1="423.6" x2="1688.9" y2="423.6" stroke="#222" stroke-width="0.8"/><line x1="1686.4" y1="446.5" x2="1688.9" y2="446.5" stroke="#222" stroke-width="0.8"/><line x1="1686.4" y1="469.5" x2="1688.9" y2="469.5" stroke="#222" stroke-width="0.8"/><line x1="1686.4" y1="492.4" x2="1688.9" y2="492.4" stroke="#222" stroke-width="0.8"/><line x1="1686.4" y1="515.3" x2="1688.9" y2="515.3" stroke="#222" stroke-width="0.8"/>
<g font-family="'Liberation Sans', sans-serif" fill="#000" stroke="#000" stroke-width="0.16">
<text x="100.0" y="25.4" font-size="27.2" textLength="138.19" lengthAdjust="spacingAndGlyphs">Theta Band</text>
<text x="534.83" y="25.7" font-size="27.2" textLength="139.18" lengthAdjust="spacingAndGlyphs">Alpha Band</text>
<text x="986.4" y="25.7" font-size="27.2" textLength="124.69" lengthAdjust="spacingAndGlyphs">Beta Band</text>
<text x="1437.56" y="25.7" font-size="27.2" textLength="164.86" lengthAdjust="spacingAndGlyphs">Gamma Band</text>
<text x="74.64" y="78.0" font-size="27.2" textLength="36.14" lengthAdjust="spacingAndGlyphs">NR</text>
<text x="246.61" y="78.0" font-size="27.2" textLength="43.84" lengthAdjust="spacingAndGlyphs">TSR</text>
<text x="503.15" y="78.5" font-size="27.2" textLength="35.92" lengthAdjust="spacingAndGlyphs">NR</text>
<text x="674.7" y="78.5" font-size="27.2" textLength="44.15" lengthAdjust="spacingAndGlyphs">TSR</text>
<text x="941.19" y="76.5" font-size="27.2" textLength="35.15" lengthAdjust="spacingAndGlyphs">NR</text>
<text x="1112.6" y="76.5" font-size="27.2" textLength="44.04" lengthAdjust="spacingAndGlyphs">TSR</text>
<text x="1407.86" y="81.5" font-size="27.2" textLength="35.7" lengthAdjust="spacingAndGlyphs">NR</text>
<text x="1579.2" y="81.5" font-size="27.2" textLength="44.04" lengthAdjust="spacingAndGlyphs">TSR</text>
<text x="122.61" y="303.3" font-size="27.2" textLength="126.03" lengthAdjust="spacingAndGlyphs">Difference</text>
<text x="545.71" y="303.3" font-size="27.2" textLength="125.83" lengthAdjust="spacingAndGlyphs">Difference</text>
<text x="997.01" y="303.4" font-size="27.2" textLength="126.24" lengthAdjust="spacingAndGlyphs">Difference</text>
<text x="1458.22" y="303.4" font-size="27.2" textLength="125.52" lengthAdjust="spacingAndGlyphs">Difference</text>
<text x="380.16" y="115.0" font-size="22" textLength="28.82" lengthAdjust="spacingAndGlyphs">2.3</text>
<text x="379.42" y="243.0" font-size="22" textLength="29.23" lengthAdjust="spacingAndGlyphs">1.9</text>
<text x="822.47" y="108.4" font-size="22" textLength="28.5" lengthAdjust="spacingAndGlyphs">2.1</text>
<text x="817.53" y="249.9" font-size="22" textLength="27.31" lengthAdjust="spacingAndGlyphs">1.6</text>
<text x="1265.1" y="112.5" font-size="22" textLength="27.91" lengthAdjust="spacingAndGlyphs">2.2</text>
<text x="1264.62" y="250.8" font-size="22" textLength="27.37" lengthAdjust="spacingAndGlyphs">1.9</text>
<text x="1723.02" y="108.9" font-size="22" textLength="27.47" lengthAdjust="spacingAndGlyphs">1.7</text>
<text x="1720.02" y="250.8" font-size="22" textLength="27.47" lengthAdjust="spacingAndGlyphs">1.2</text>
<text x="1698.29" y="384.9" font-size="22" textLength="39.4" lengthAdjust="spacingAndGlyphs">0.06</text>
<text x="1697.49" y="522.4" font-size="22" textLength="46.0" lengthAdjust="spacingAndGlyphs">-0.06</text>
<text x="423.4" y="221.08" font-size="20" textLength="96.12" lengthAdjust="spacingAndGlyphs" transform="rotate(-90 423.4 221.08)">rel. power</text>
<text x="864.3" y="221.76" font-size="20" textLength="94.9" lengthAdjust="spacingAndGlyphs" transform="rotate(-90 864.3 221.76)">rel. power</text>
<text x="1305.0" y="219.39" font-size="20" textLength="96.73" lengthAdjust="spacingAndGlyphs" transform="rotate(-90 1305.0 219.39)">rel. power</text>
<text x="1761.4" y="222.17" font-size="20" textLength="95.92" lengthAdjust="spacingAndGlyphs" transform="rotate(-90 1761.4 222.17)">rel. power</text>
<text x="1752.6" y="492.88" font-size="20" textLength="96.23" lengthAdjust="spacingAndGlyphs" transform="rotate(-90 1752.6 492.88)">rel. power</text>
</g>
</svg>
</body></html>
